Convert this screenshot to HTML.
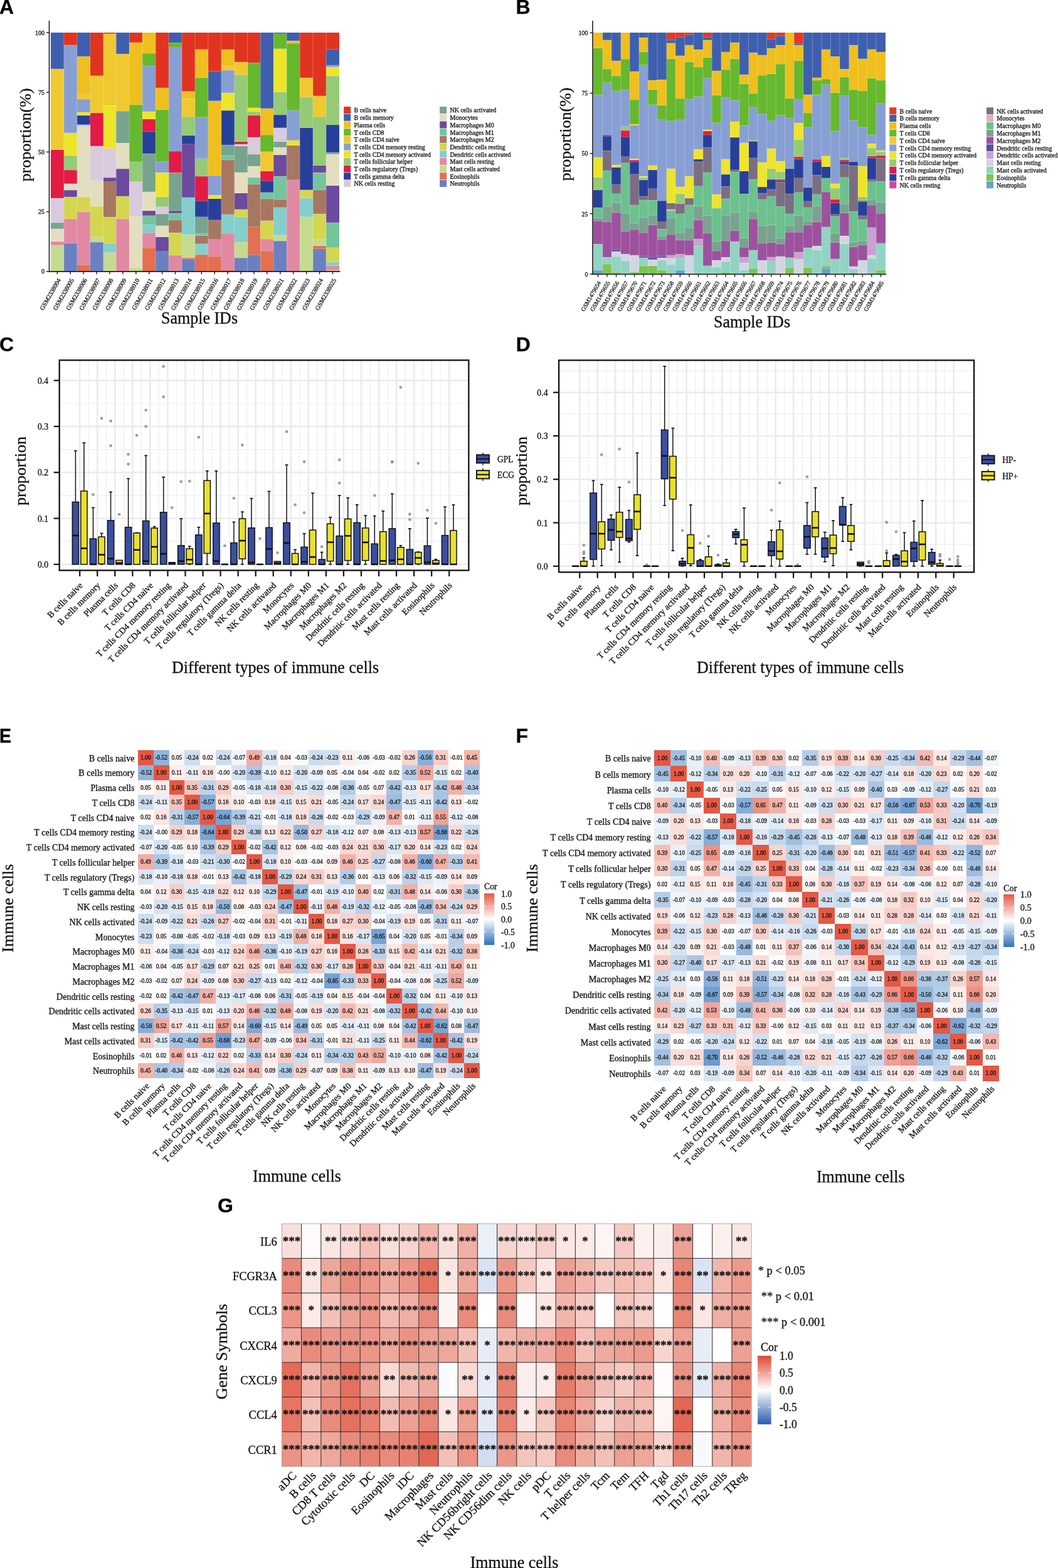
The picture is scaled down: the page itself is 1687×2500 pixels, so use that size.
<!DOCTYPE html>
<html><head><meta charset="utf-8"><title>Immune cell infiltration figure</title>
<style>
html,body{margin:0;padding:0;background:#fff;}
body{width:1687px;height:2500px;overflow:hidden;}
svg{display:block;font-family:'Liberation Serif', 'Times New Roman', serif;}
text{stroke:#111;stroke-width:0.3px;}
</style></head><body>
<svg width="1687" height="2500" viewBox="0 0 1687 2500" fill="#111">
<rect width="1687" height="2500" fill="#fff"/>
<text x="-1" y="22" font-size="32" font-weight="bold" font-family="'Liberation Sans', Arial, sans-serif" fill="#000">A</text>
<text x="822.5" y="22" font-size="32" font-weight="bold" font-family="'Liberation Sans', Arial, sans-serif" fill="#000">B</text>
<text x="-1" y="560" font-size="32" font-weight="bold" font-family="'Liberation Sans', Arial, sans-serif" fill="#000">C</text>
<text x="822.8" y="559.5" font-size="32" font-weight="bold" font-family="'Liberation Sans', Arial, sans-serif" fill="#000">D</text>
<text transform="translate(-1,1184) scale(0.89,1)" font-size="32" font-weight="bold" font-family="'Liberation Sans', Arial, sans-serif" fill="#000">E</text>
<text x="822.6" y="1184" font-size="32" font-weight="bold" font-family="'Liberation Sans', Arial, sans-serif" fill="#000">F</text>
<text x="347" y="1933" font-size="32" font-weight="bold" font-family="'Liberation Sans', Arial, sans-serif" fill="#000">G</text>
<g shape-rendering="crispEdges">
<rect x="80.9" y="52" width="20.91" height="57.87" fill="#3F5FAE"/>
<rect x="80.9" y="109.87" width="20.91" height="128.68" fill="#F0C930"/>
<rect x="80.9" y="238.54" width="20.91" height="77.66" fill="#E31B45"/>
<rect x="80.9" y="316.21" width="20.91" height="38.83" fill="#D9CADD"/>
<rect x="80.9" y="355.04" width="20.91" height="9.52" fill="#78A38F"/>
<rect x="80.9" y="364.55" width="20.91" height="20.56" fill="#E2DEBF"/>
<rect x="80.9" y="385.11" width="20.91" height="6.09" fill="#E189A3"/>
<rect x="80.9" y="391.2" width="20.91" height="41.5" fill="#C4DB8F"/>
<rect x="101.81" y="52" width="20.91" height="19.8" fill="#E03421"/>
<rect x="101.81" y="71.8" width="20.91" height="140.1" fill="#889FD3"/>
<rect x="101.81" y="211.89" width="20.91" height="36.17" fill="#EDE42C"/>
<rect x="101.81" y="248.06" width="20.91" height="23.22" fill="#95CA76"/>
<rect x="101.81" y="271.28" width="20.91" height="21.7" fill="#E31B45"/>
<rect x="101.81" y="292.98" width="20.91" height="10.28" fill="#E2DEBF"/>
<rect x="101.81" y="303.26" width="20.91" height="11.04" fill="#6C4A9E"/>
<rect x="101.81" y="314.3" width="20.91" height="34.64" fill="#D4D650"/>
<rect x="101.81" y="348.95" width="20.91" height="38.83" fill="#E189A3"/>
<rect x="101.81" y="387.78" width="20.91" height="44.92" fill="#6A80C1"/>
<rect x="122.72" y="52" width="20.91" height="38.07" fill="#3F5FAE"/>
<rect x="122.72" y="90.07" width="20.91" height="60.53" fill="#EEBF1E"/>
<rect x="122.72" y="150.6" width="20.91" height="7.61" fill="#F0C930"/>
<rect x="122.72" y="158.22" width="20.91" height="20.56" fill="#889FD3"/>
<rect x="122.72" y="178.77" width="20.91" height="5.33" fill="#EDE42C"/>
<rect x="122.72" y="184.1" width="20.91" height="14.47" fill="#283F9A"/>
<rect x="122.72" y="198.57" width="20.91" height="4.57" fill="#D9CADD"/>
<rect x="122.72" y="203.14" width="20.91" height="111.16" fill="#E2DEBF"/>
<rect x="122.72" y="314.3" width="20.91" height="23.6" fill="#D4D650"/>
<rect x="122.72" y="337.91" width="20.91" height="84.52" fill="#E189A3"/>
<rect x="122.72" y="422.42" width="20.91" height="10.28" fill="#E3704F"/>
<rect x="143.63" y="52" width="20.91" height="68.53" fill="#E03421"/>
<rect x="143.63" y="120.53" width="20.91" height="59.77" fill="#F0C930"/>
<rect x="143.63" y="180.3" width="20.91" height="52.54" fill="#E31B45"/>
<rect x="143.63" y="232.83" width="20.91" height="54.82" fill="#D9CADD"/>
<rect x="143.63" y="287.65" width="20.91" height="41.5" fill="#E2DEBF"/>
<rect x="143.63" y="329.15" width="20.91" height="49.11" fill="#D4D650"/>
<rect x="143.63" y="378.26" width="20.91" height="7.99" fill="#C4DB8F"/>
<rect x="143.63" y="386.25" width="20.91" height="46.45" fill="#6A80C1"/>
<rect x="164.54" y="52" width="20.91" height="1.52" fill="#E03421"/>
<rect x="164.54" y="53.52" width="20.91" height="114.97" fill="#F0C930"/>
<rect x="164.54" y="168.49" width="20.91" height="68.15" fill="#EDE42C"/>
<rect x="164.54" y="236.64" width="20.91" height="46.83" fill="#D9CADD"/>
<rect x="164.54" y="283.47" width="20.91" height="6.09" fill="#6C4A9E"/>
<rect x="164.54" y="289.56" width="20.91" height="56.72" fill="#A87761"/>
<rect x="164.54" y="346.28" width="20.91" height="41.5" fill="#D4D650"/>
<rect x="164.54" y="387.78" width="20.91" height="14.85" fill="#84CECC"/>
<rect x="164.54" y="402.62" width="20.91" height="29.31" fill="#C4DB8F"/>
<rect x="164.54" y="431.94" width="20.91" height="0.76" fill="#E3704F"/>
<rect x="185.45" y="52" width="20.91" height="34.26" fill="#3F5FAE"/>
<rect x="185.45" y="86.26" width="20.91" height="90.99" fill="#F0C930"/>
<rect x="185.45" y="177.25" width="20.91" height="51.01" fill="#78A38F"/>
<rect x="185.45" y="228.26" width="20.91" height="41.12" fill="#E2DEBF"/>
<rect x="185.45" y="269.38" width="20.91" height="43.4" fill="#6C4A9E"/>
<rect x="185.45" y="312.78" width="20.91" height="36.17" fill="#D4D650"/>
<rect x="185.45" y="348.95" width="20.91" height="83.75" fill="#E189A3"/>
<rect x="206.35" y="52" width="20.91" height="15.61" fill="#E03421"/>
<rect x="206.35" y="67.61" width="20.91" height="99.36" fill="#EEBF1E"/>
<rect x="206.35" y="166.97" width="20.91" height="90.99" fill="#66B82E"/>
<rect x="206.35" y="257.96" width="20.91" height="31.6" fill="#95CA76"/>
<rect x="206.35" y="289.56" width="20.91" height="55.2" fill="#D9CADD"/>
<rect x="206.35" y="344.76" width="20.91" height="82.61" fill="#E2DEBF"/>
<rect x="206.35" y="427.37" width="20.91" height="5.33" fill="#C4DB8F"/>
<rect x="227.26" y="52" width="20.91" height="33.12" fill="#EEBF1E"/>
<rect x="227.26" y="85.12" width="20.91" height="20.18" fill="#66B82E"/>
<rect x="227.26" y="105.3" width="20.91" height="72.71" fill="#889FD3"/>
<rect x="227.26" y="178.01" width="20.91" height="11.8" fill="#EDE42C"/>
<rect x="227.26" y="189.81" width="20.91" height="20.18" fill="#E31B45"/>
<rect x="227.26" y="209.99" width="20.91" height="35.02" fill="#283F9A"/>
<rect x="227.26" y="245.01" width="20.91" height="60.53" fill="#78A38F"/>
<rect x="227.26" y="305.55" width="20.91" height="30.46" fill="#E2DEBF"/>
<rect x="227.26" y="336" width="20.91" height="7.61" fill="#6C4A9E"/>
<rect x="227.26" y="343.62" width="20.91" height="14.85" fill="#74C59B"/>
<rect x="227.26" y="358.46" width="20.91" height="12.94" fill="#84CECC"/>
<rect x="227.26" y="371.41" width="20.91" height="23.98" fill="#E189A3"/>
<rect x="227.26" y="395.39" width="20.91" height="37.31" fill="#E3704F"/>
<rect x="248.17" y="52" width="20.91" height="88.32" fill="#E03421"/>
<rect x="248.17" y="140.32" width="20.91" height="34.64" fill="#EEBF1E"/>
<rect x="248.17" y="174.97" width="20.91" height="82.99" fill="#66B82E"/>
<rect x="248.17" y="257.96" width="20.91" height="17.51" fill="#889FD3"/>
<rect x="248.17" y="275.47" width="20.91" height="38.07" fill="#EDE42C"/>
<rect x="248.17" y="313.54" width="20.91" height="15.99" fill="#95CA76"/>
<rect x="248.17" y="329.53" width="20.91" height="11.8" fill="#D9CADD"/>
<rect x="248.17" y="341.33" width="20.91" height="18.27" fill="#78A38F"/>
<rect x="248.17" y="359.61" width="20.91" height="17.89" fill="#E2DEBF"/>
<rect x="248.17" y="377.5" width="20.91" height="23.22" fill="#6C4A9E"/>
<rect x="248.17" y="400.72" width="20.91" height="31.98" fill="#6A80C1"/>
<rect x="269.08" y="52" width="20.91" height="16.37" fill="#3F5FAE"/>
<rect x="269.08" y="68.37" width="20.91" height="7.61" fill="#66B82E"/>
<rect x="269.08" y="75.98" width="20.91" height="165.22" fill="#889FD3"/>
<rect x="269.08" y="241.21" width="20.91" height="34.26" fill="#E31B45"/>
<rect x="269.08" y="275.47" width="20.91" height="60.53" fill="#78A38F"/>
<rect x="269.08" y="336" width="20.91" height="4.19" fill="#6C4A9E"/>
<rect x="269.08" y="340.19" width="20.91" height="10.66" fill="#74C59B"/>
<rect x="269.08" y="350.85" width="20.91" height="20.56" fill="#A87761"/>
<rect x="269.08" y="371.41" width="20.91" height="35.41" fill="#D4D650"/>
<rect x="269.08" y="406.81" width="20.91" height="25.13" fill="#E189A3"/>
<rect x="269.08" y="431.94" width="20.91" height="0.76" fill="#E3704F"/>
<rect x="289.99" y="52" width="20.91" height="93.65" fill="#E03421"/>
<rect x="289.99" y="145.65" width="20.91" height="0.76" fill="#3F5FAE"/>
<rect x="289.99" y="146.41" width="20.91" height="11.04" fill="#EEBF1E"/>
<rect x="289.99" y="157.45" width="20.91" height="28.93" fill="#F0C930"/>
<rect x="289.99" y="186.39" width="20.91" height="29.69" fill="#95CA76"/>
<rect x="289.99" y="216.08" width="20.91" height="13.71" fill="#283F9A"/>
<rect x="289.99" y="229.79" width="20.91" height="84.9" fill="#6C4A9E"/>
<rect x="289.99" y="314.68" width="20.91" height="59.39" fill="#84CECC"/>
<rect x="289.99" y="374.07" width="20.91" height="36.93" fill="#C4DB8F"/>
<rect x="289.99" y="411" width="20.91" height="1.9" fill="#E3704F"/>
<rect x="289.99" y="412.9" width="20.91" height="19.8" fill="#6A80C1"/>
<rect x="310.9" y="52" width="20.91" height="26.65" fill="#E03421"/>
<rect x="310.9" y="78.65" width="20.91" height="45.3" fill="#EEBF1E"/>
<rect x="310.9" y="123.95" width="20.91" height="62.82" fill="#66B82E"/>
<rect x="310.9" y="186.77" width="20.91" height="65.86" fill="#889FD3"/>
<rect x="310.9" y="252.63" width="20.91" height="28.55" fill="#95CA76"/>
<rect x="310.9" y="281.18" width="20.91" height="39.21" fill="#E31B45"/>
<rect x="310.9" y="320.39" width="20.91" height="25.13" fill="#283F9A"/>
<rect x="310.9" y="345.52" width="20.91" height="26.65" fill="#78A38F"/>
<rect x="310.9" y="372.17" width="20.91" height="3.43" fill="#74C59B"/>
<rect x="310.9" y="375.59" width="20.91" height="12.94" fill="#A87761"/>
<rect x="310.9" y="388.54" width="20.91" height="17.51" fill="#84CECC"/>
<rect x="310.9" y="406.05" width="20.91" height="26.65" fill="#E3704F"/>
<rect x="331.81" y="52" width="20.91" height="61.67" fill="#E03421"/>
<rect x="331.81" y="113.67" width="20.91" height="46.83" fill="#3F5FAE"/>
<rect x="331.81" y="160.5" width="20.91" height="119.54" fill="#EEBF1E"/>
<rect x="331.81" y="280.04" width="20.91" height="31.22" fill="#889FD3"/>
<rect x="331.81" y="311.26" width="20.91" height="5.33" fill="#EDE42C"/>
<rect x="331.81" y="316.59" width="20.91" height="34.26" fill="#283F9A"/>
<rect x="331.81" y="350.85" width="20.91" height="30.84" fill="#A87761"/>
<rect x="331.81" y="381.69" width="20.91" height="27.03" fill="#E189A3"/>
<rect x="331.81" y="408.72" width="20.91" height="23.98" fill="#E3704F"/>
<rect x="352.72" y="52" width="20.91" height="27.41" fill="#E03421"/>
<rect x="352.72" y="79.41" width="20.91" height="26.27" fill="#EEBF1E"/>
<rect x="352.72" y="105.68" width="20.91" height="6.47" fill="#F0C930"/>
<rect x="352.72" y="112.15" width="20.91" height="35.79" fill="#889FD3"/>
<rect x="352.72" y="147.94" width="20.91" height="28.55" fill="#EDE42C"/>
<rect x="352.72" y="176.49" width="20.91" height="54.82" fill="#283F9A"/>
<rect x="352.72" y="231.31" width="20.91" height="16.75" fill="#78A38F"/>
<rect x="352.72" y="248.06" width="20.91" height="6.85" fill="#74C59B"/>
<rect x="352.72" y="254.91" width="20.91" height="86.8" fill="#A87761"/>
<rect x="352.72" y="341.71" width="20.91" height="30.46" fill="#84CECC"/>
<rect x="352.72" y="372.17" width="20.91" height="58.25" fill="#E189A3"/>
<rect x="352.72" y="430.42" width="20.91" height="2.28" fill="#E3704F"/>
<rect x="373.63" y="52" width="20.91" height="46.83" fill="#E03421"/>
<rect x="373.63" y="98.83" width="20.91" height="20.56" fill="#F0C930"/>
<rect x="373.63" y="119.38" width="20.91" height="106.22" fill="#95CA76"/>
<rect x="373.63" y="225.6" width="20.91" height="4.57" fill="#E31B45"/>
<rect x="373.63" y="230.17" width="20.91" height="2.66" fill="#D9CADD"/>
<rect x="373.63" y="232.83" width="20.91" height="42.26" fill="#78A38F"/>
<rect x="373.63" y="275.09" width="20.91" height="32.74" fill="#E2DEBF"/>
<rect x="373.63" y="307.83" width="20.91" height="25.89" fill="#6C4A9E"/>
<rect x="373.63" y="333.72" width="20.91" height="11.8" fill="#D4D650"/>
<rect x="373.63" y="345.52" width="20.91" height="40.73" fill="#84CECC"/>
<rect x="373.63" y="386.25" width="20.91" height="25.13" fill="#C4DB8F"/>
<rect x="373.63" y="411.38" width="20.91" height="21.32" fill="#6A80C1"/>
<rect x="394.54" y="52" width="20.91" height="48.35" fill="#E03421"/>
<rect x="394.54" y="100.35" width="20.91" height="71.57" fill="#66B82E"/>
<rect x="394.54" y="171.92" width="20.91" height="6.09" fill="#EDE42C"/>
<rect x="394.54" y="178.01" width="20.91" height="6.09" fill="#95CA76"/>
<rect x="394.54" y="184.1" width="20.91" height="34.64" fill="#E31B45"/>
<rect x="394.54" y="218.75" width="20.91" height="27.41" fill="#D9CADD"/>
<rect x="394.54" y="246.16" width="20.91" height="19.04" fill="#78A38F"/>
<rect x="394.54" y="265.19" width="20.91" height="17.89" fill="#E2DEBF"/>
<rect x="394.54" y="283.08" width="20.91" height="10.66" fill="#74C59B"/>
<rect x="394.54" y="293.74" width="20.91" height="67.76" fill="#A87761"/>
<rect x="394.54" y="361.51" width="20.91" height="44.92" fill="#E3704F"/>
<rect x="394.54" y="406.43" width="20.91" height="26.27" fill="#6A80C1"/>
<rect x="415.45" y="52" width="20.91" height="121.06" fill="#3F5FAE"/>
<rect x="415.45" y="173.06" width="20.91" height="42.26" fill="#EEBF1E"/>
<rect x="415.45" y="215.32" width="20.91" height="26.27" fill="#66B82E"/>
<rect x="415.45" y="241.59" width="20.91" height="31.22" fill="#F0C930"/>
<rect x="415.45" y="272.81" width="20.91" height="15.61" fill="#E31B45"/>
<rect x="415.45" y="288.41" width="20.91" height="18.27" fill="#283F9A"/>
<rect x="415.45" y="306.69" width="20.91" height="10.28" fill="#74C59B"/>
<rect x="415.45" y="316.97" width="20.91" height="34.64" fill="#A87761"/>
<rect x="415.45" y="351.61" width="20.91" height="29.69" fill="#D4D650"/>
<rect x="415.45" y="381.31" width="20.91" height="18.65" fill="#E189A3"/>
<rect x="415.45" y="399.96" width="20.91" height="32.74" fill="#E3704F"/>
<rect x="436.35" y="52" width="20.91" height="1.52" fill="#3F5FAE"/>
<rect x="436.35" y="53.52" width="20.91" height="23.98" fill="#66B82E"/>
<rect x="436.35" y="77.51" width="20.91" height="69.29" fill="#EDE42C"/>
<rect x="436.35" y="146.79" width="20.91" height="36.55" fill="#95CA76"/>
<rect x="436.35" y="183.34" width="20.91" height="20.18" fill="#283F9A"/>
<rect x="436.35" y="203.52" width="20.91" height="22.08" fill="#D9CADD"/>
<rect x="436.35" y="225.6" width="20.91" height="9.52" fill="#78A38F"/>
<rect x="436.35" y="235.12" width="20.91" height="11.8" fill="#E2DEBF"/>
<rect x="436.35" y="246.92" width="20.91" height="34.26" fill="#6C4A9E"/>
<rect x="436.35" y="281.18" width="20.91" height="36.93" fill="#74C59B"/>
<rect x="436.35" y="318.11" width="20.91" height="12.56" fill="#A87761"/>
<rect x="436.35" y="330.67" width="20.91" height="44.16" fill="#84CECC"/>
<rect x="436.35" y="374.83" width="20.91" height="9.52" fill="#C4DB8F"/>
<rect x="436.35" y="384.35" width="20.91" height="48.35" fill="#6A80C1"/>
<rect x="457.26" y="52" width="20.91" height="13.32" fill="#3F5FAE"/>
<rect x="457.26" y="65.32" width="20.91" height="3.81" fill="#EEBF1E"/>
<rect x="457.26" y="69.13" width="20.91" height="106.98" fill="#66B82E"/>
<rect x="457.26" y="176.11" width="20.91" height="47.59" fill="#889FD3"/>
<rect x="457.26" y="223.7" width="20.91" height="7.99" fill="#EDE42C"/>
<rect x="457.26" y="231.69" width="20.91" height="55.2" fill="#A87761"/>
<rect x="457.26" y="286.89" width="20.91" height="145.81" fill="#E189A3"/>
<rect x="478.17" y="52" width="20.91" height="72.33" fill="#E03421"/>
<rect x="478.17" y="124.33" width="20.91" height="30.46" fill="#F0C930"/>
<rect x="478.17" y="154.79" width="20.91" height="48.73" fill="#95CA76"/>
<rect x="478.17" y="203.52" width="20.91" height="98.98" fill="#283F9A"/>
<rect x="478.17" y="302.5" width="20.91" height="13.32" fill="#D4D650"/>
<rect x="478.17" y="315.83" width="20.91" height="29.69" fill="#84CECC"/>
<rect x="478.17" y="345.52" width="20.91" height="87.18" fill="#C4DB8F"/>
<rect x="499.08" y="52" width="20.91" height="100.89" fill="#E03421"/>
<rect x="499.08" y="152.89" width="20.91" height="2.66" fill="#EEBF1E"/>
<rect x="499.08" y="155.55" width="20.91" height="30.84" fill="#F0C930"/>
<rect x="499.08" y="186.39" width="20.91" height="77.28" fill="#95CA76"/>
<rect x="499.08" y="263.67" width="20.91" height="11.8" fill="#6C4A9E"/>
<rect x="499.08" y="275.47" width="20.91" height="27.03" fill="#74C59B"/>
<rect x="499.08" y="302.5" width="20.91" height="38.83" fill="#A87761"/>
<rect x="499.08" y="341.33" width="20.91" height="40.35" fill="#D4D650"/>
<rect x="499.08" y="381.69" width="20.91" height="10.28" fill="#C4DB8F"/>
<rect x="499.08" y="391.97" width="20.91" height="4.57" fill="#E3704F"/>
<rect x="499.08" y="396.53" width="20.91" height="36.17" fill="#6A80C1"/>
<rect x="519.99" y="52" width="20.91" height="26.65" fill="#E03421"/>
<rect x="519.99" y="78.65" width="20.91" height="25.51" fill="#3F5FAE"/>
<rect x="519.99" y="104.16" width="20.91" height="2.66" fill="#889FD3"/>
<rect x="519.99" y="106.82" width="20.91" height="14.47" fill="#EDE42C"/>
<rect x="519.99" y="121.29" width="20.91" height="77.66" fill="#95CA76"/>
<rect x="519.99" y="198.95" width="20.91" height="44.16" fill="#283F9A"/>
<rect x="519.99" y="243.11" width="20.91" height="2.66" fill="#78A38F"/>
<rect x="519.99" y="245.78" width="20.91" height="49.87" fill="#E2DEBF"/>
<rect x="519.99" y="295.65" width="20.91" height="59.39" fill="#6C4A9E"/>
<rect x="519.99" y="355.04" width="20.91" height="39.59" fill="#74C59B"/>
<rect x="519.99" y="394.63" width="20.91" height="23.22" fill="#D4D650"/>
<rect x="519.99" y="417.85" width="20.91" height="5.71" fill="#84CECC"/>
<rect x="519.99" y="423.56" width="20.91" height="7.23" fill="#E189A3"/>
<rect x="519.99" y="430.8" width="20.91" height="1.9" fill="#C4DB8F"/>
</g>
<g stroke="#ffffff" stroke-opacity="0.45" stroke-width="0.6">
<line x1="101.81" y1="52" x2="101.81" y2="432.7"/>
<line x1="122.72" y1="52" x2="122.72" y2="432.7"/>
<line x1="143.63" y1="52" x2="143.63" y2="432.7"/>
<line x1="164.54" y1="52" x2="164.54" y2="432.7"/>
<line x1="185.45" y1="52" x2="185.45" y2="432.7"/>
<line x1="206.35" y1="52" x2="206.35" y2="432.7"/>
<line x1="227.26" y1="52" x2="227.26" y2="432.7"/>
<line x1="248.17" y1="52" x2="248.17" y2="432.7"/>
<line x1="269.08" y1="52" x2="269.08" y2="432.7"/>
<line x1="289.99" y1="52" x2="289.99" y2="432.7"/>
<line x1="310.9" y1="52" x2="310.9" y2="432.7"/>
<line x1="331.81" y1="52" x2="331.81" y2="432.7"/>
<line x1="352.72" y1="52" x2="352.72" y2="432.7"/>
<line x1="373.63" y1="52" x2="373.63" y2="432.7"/>
<line x1="394.54" y1="52" x2="394.54" y2="432.7"/>
<line x1="415.45" y1="52" x2="415.45" y2="432.7"/>
<line x1="436.35" y1="52" x2="436.35" y2="432.7"/>
<line x1="457.26" y1="52" x2="457.26" y2="432.7"/>
<line x1="478.17" y1="52" x2="478.17" y2="432.7"/>
<line x1="499.08" y1="52" x2="499.08" y2="432.7"/>
<line x1="519.99" y1="52" x2="519.99" y2="432.7"/>
<line x1="80.9" y1="109.87" x2="101.81" y2="109.87"/>
<line x1="80.9" y1="238.54" x2="101.81" y2="238.54"/>
<line x1="80.9" y1="316.21" x2="101.81" y2="316.21"/>
<line x1="80.9" y1="355.04" x2="101.81" y2="355.04"/>
<line x1="80.9" y1="364.55" x2="101.81" y2="364.55"/>
<line x1="80.9" y1="385.11" x2="101.81" y2="385.11"/>
<line x1="80.9" y1="391.2" x2="101.81" y2="391.2"/>
<line x1="101.81" y1="71.8" x2="122.72" y2="71.8"/>
<line x1="101.81" y1="211.89" x2="122.72" y2="211.89"/>
<line x1="101.81" y1="248.06" x2="122.72" y2="248.06"/>
<line x1="101.81" y1="271.28" x2="122.72" y2="271.28"/>
<line x1="101.81" y1="292.98" x2="122.72" y2="292.98"/>
<line x1="101.81" y1="303.26" x2="122.72" y2="303.26"/>
<line x1="101.81" y1="314.3" x2="122.72" y2="314.3"/>
<line x1="101.81" y1="348.95" x2="122.72" y2="348.95"/>
<line x1="101.81" y1="387.78" x2="122.72" y2="387.78"/>
<line x1="122.72" y1="90.07" x2="143.63" y2="90.07"/>
<line x1="122.72" y1="150.6" x2="143.63" y2="150.6"/>
<line x1="122.72" y1="158.22" x2="143.63" y2="158.22"/>
<line x1="122.72" y1="178.77" x2="143.63" y2="178.77"/>
<line x1="122.72" y1="184.1" x2="143.63" y2="184.1"/>
<line x1="122.72" y1="198.57" x2="143.63" y2="198.57"/>
<line x1="122.72" y1="203.14" x2="143.63" y2="203.14"/>
<line x1="122.72" y1="314.3" x2="143.63" y2="314.3"/>
<line x1="122.72" y1="337.91" x2="143.63" y2="337.91"/>
<line x1="122.72" y1="422.42" x2="143.63" y2="422.42"/>
<line x1="143.63" y1="120.53" x2="164.54" y2="120.53"/>
<line x1="143.63" y1="180.3" x2="164.54" y2="180.3"/>
<line x1="143.63" y1="232.83" x2="164.54" y2="232.83"/>
<line x1="143.63" y1="287.65" x2="164.54" y2="287.65"/>
<line x1="143.63" y1="329.15" x2="164.54" y2="329.15"/>
<line x1="143.63" y1="378.26" x2="164.54" y2="378.26"/>
<line x1="143.63" y1="386.25" x2="164.54" y2="386.25"/>
<line x1="164.54" y1="53.52" x2="185.45" y2="53.52"/>
<line x1="164.54" y1="168.49" x2="185.45" y2="168.49"/>
<line x1="164.54" y1="236.64" x2="185.45" y2="236.64"/>
<line x1="164.54" y1="283.47" x2="185.45" y2="283.47"/>
<line x1="164.54" y1="289.56" x2="185.45" y2="289.56"/>
<line x1="164.54" y1="346.28" x2="185.45" y2="346.28"/>
<line x1="164.54" y1="387.78" x2="185.45" y2="387.78"/>
<line x1="164.54" y1="402.62" x2="185.45" y2="402.62"/>
<line x1="164.54" y1="431.94" x2="185.45" y2="431.94"/>
<line x1="185.45" y1="86.26" x2="206.35" y2="86.26"/>
<line x1="185.45" y1="177.25" x2="206.35" y2="177.25"/>
<line x1="185.45" y1="228.26" x2="206.35" y2="228.26"/>
<line x1="185.45" y1="269.38" x2="206.35" y2="269.38"/>
<line x1="185.45" y1="312.78" x2="206.35" y2="312.78"/>
<line x1="185.45" y1="348.95" x2="206.35" y2="348.95"/>
<line x1="206.35" y1="67.61" x2="227.26" y2="67.61"/>
<line x1="206.35" y1="166.97" x2="227.26" y2="166.97"/>
<line x1="206.35" y1="257.96" x2="227.26" y2="257.96"/>
<line x1="206.35" y1="289.56" x2="227.26" y2="289.56"/>
<line x1="206.35" y1="344.76" x2="227.26" y2="344.76"/>
<line x1="206.35" y1="427.37" x2="227.26" y2="427.37"/>
<line x1="227.26" y1="85.12" x2="248.17" y2="85.12"/>
<line x1="227.26" y1="105.3" x2="248.17" y2="105.3"/>
<line x1="227.26" y1="178.01" x2="248.17" y2="178.01"/>
<line x1="227.26" y1="189.81" x2="248.17" y2="189.81"/>
<line x1="227.26" y1="209.99" x2="248.17" y2="209.99"/>
<line x1="227.26" y1="245.01" x2="248.17" y2="245.01"/>
<line x1="227.26" y1="305.55" x2="248.17" y2="305.55"/>
<line x1="227.26" y1="336" x2="248.17" y2="336"/>
<line x1="227.26" y1="343.62" x2="248.17" y2="343.62"/>
<line x1="227.26" y1="358.46" x2="248.17" y2="358.46"/>
<line x1="227.26" y1="371.41" x2="248.17" y2="371.41"/>
<line x1="227.26" y1="395.39" x2="248.17" y2="395.39"/>
<line x1="248.17" y1="140.32" x2="269.08" y2="140.32"/>
<line x1="248.17" y1="174.97" x2="269.08" y2="174.97"/>
<line x1="248.17" y1="257.96" x2="269.08" y2="257.96"/>
<line x1="248.17" y1="275.47" x2="269.08" y2="275.47"/>
<line x1="248.17" y1="313.54" x2="269.08" y2="313.54"/>
<line x1="248.17" y1="329.53" x2="269.08" y2="329.53"/>
<line x1="248.17" y1="341.33" x2="269.08" y2="341.33"/>
<line x1="248.17" y1="359.61" x2="269.08" y2="359.61"/>
<line x1="248.17" y1="377.5" x2="269.08" y2="377.5"/>
<line x1="248.17" y1="400.72" x2="269.08" y2="400.72"/>
<line x1="269.08" y1="68.37" x2="289.99" y2="68.37"/>
<line x1="269.08" y1="75.98" x2="289.99" y2="75.98"/>
<line x1="269.08" y1="241.21" x2="289.99" y2="241.21"/>
<line x1="269.08" y1="275.47" x2="289.99" y2="275.47"/>
<line x1="269.08" y1="336" x2="289.99" y2="336"/>
<line x1="269.08" y1="340.19" x2="289.99" y2="340.19"/>
<line x1="269.08" y1="350.85" x2="289.99" y2="350.85"/>
<line x1="269.08" y1="371.41" x2="289.99" y2="371.41"/>
<line x1="269.08" y1="406.81" x2="289.99" y2="406.81"/>
<line x1="269.08" y1="431.94" x2="289.99" y2="431.94"/>
<line x1="289.99" y1="145.65" x2="310.9" y2="145.65"/>
<line x1="289.99" y1="146.41" x2="310.9" y2="146.41"/>
<line x1="289.99" y1="157.45" x2="310.9" y2="157.45"/>
<line x1="289.99" y1="186.39" x2="310.9" y2="186.39"/>
<line x1="289.99" y1="216.08" x2="310.9" y2="216.08"/>
<line x1="289.99" y1="229.79" x2="310.9" y2="229.79"/>
<line x1="289.99" y1="314.68" x2="310.9" y2="314.68"/>
<line x1="289.99" y1="374.07" x2="310.9" y2="374.07"/>
<line x1="289.99" y1="411" x2="310.9" y2="411"/>
<line x1="289.99" y1="412.9" x2="310.9" y2="412.9"/>
<line x1="310.9" y1="78.65" x2="331.81" y2="78.65"/>
<line x1="310.9" y1="123.95" x2="331.81" y2="123.95"/>
<line x1="310.9" y1="186.77" x2="331.81" y2="186.77"/>
<line x1="310.9" y1="252.63" x2="331.81" y2="252.63"/>
<line x1="310.9" y1="281.18" x2="331.81" y2="281.18"/>
<line x1="310.9" y1="320.39" x2="331.81" y2="320.39"/>
<line x1="310.9" y1="345.52" x2="331.81" y2="345.52"/>
<line x1="310.9" y1="372.17" x2="331.81" y2="372.17"/>
<line x1="310.9" y1="375.59" x2="331.81" y2="375.59"/>
<line x1="310.9" y1="388.54" x2="331.81" y2="388.54"/>
<line x1="310.9" y1="406.05" x2="331.81" y2="406.05"/>
<line x1="331.81" y1="113.67" x2="352.72" y2="113.67"/>
<line x1="331.81" y1="160.5" x2="352.72" y2="160.5"/>
<line x1="331.81" y1="280.04" x2="352.72" y2="280.04"/>
<line x1="331.81" y1="311.26" x2="352.72" y2="311.26"/>
<line x1="331.81" y1="316.59" x2="352.72" y2="316.59"/>
<line x1="331.81" y1="350.85" x2="352.72" y2="350.85"/>
<line x1="331.81" y1="381.69" x2="352.72" y2="381.69"/>
<line x1="331.81" y1="408.72" x2="352.72" y2="408.72"/>
<line x1="352.72" y1="79.41" x2="373.63" y2="79.41"/>
<line x1="352.72" y1="105.68" x2="373.63" y2="105.68"/>
<line x1="352.72" y1="112.15" x2="373.63" y2="112.15"/>
<line x1="352.72" y1="147.94" x2="373.63" y2="147.94"/>
<line x1="352.72" y1="176.49" x2="373.63" y2="176.49"/>
<line x1="352.72" y1="231.31" x2="373.63" y2="231.31"/>
<line x1="352.72" y1="248.06" x2="373.63" y2="248.06"/>
<line x1="352.72" y1="254.91" x2="373.63" y2="254.91"/>
<line x1="352.72" y1="341.71" x2="373.63" y2="341.71"/>
<line x1="352.72" y1="372.17" x2="373.63" y2="372.17"/>
<line x1="352.72" y1="430.42" x2="373.63" y2="430.42"/>
<line x1="373.63" y1="98.83" x2="394.54" y2="98.83"/>
<line x1="373.63" y1="119.38" x2="394.54" y2="119.38"/>
<line x1="373.63" y1="225.6" x2="394.54" y2="225.6"/>
<line x1="373.63" y1="230.17" x2="394.54" y2="230.17"/>
<line x1="373.63" y1="232.83" x2="394.54" y2="232.83"/>
<line x1="373.63" y1="275.09" x2="394.54" y2="275.09"/>
<line x1="373.63" y1="307.83" x2="394.54" y2="307.83"/>
<line x1="373.63" y1="333.72" x2="394.54" y2="333.72"/>
<line x1="373.63" y1="345.52" x2="394.54" y2="345.52"/>
<line x1="373.63" y1="386.25" x2="394.54" y2="386.25"/>
<line x1="373.63" y1="411.38" x2="394.54" y2="411.38"/>
<line x1="394.54" y1="100.35" x2="415.45" y2="100.35"/>
<line x1="394.54" y1="171.92" x2="415.45" y2="171.92"/>
<line x1="394.54" y1="178.01" x2="415.45" y2="178.01"/>
<line x1="394.54" y1="184.1" x2="415.45" y2="184.1"/>
<line x1="394.54" y1="218.75" x2="415.45" y2="218.75"/>
<line x1="394.54" y1="246.16" x2="415.45" y2="246.16"/>
<line x1="394.54" y1="265.19" x2="415.45" y2="265.19"/>
<line x1="394.54" y1="283.08" x2="415.45" y2="283.08"/>
<line x1="394.54" y1="293.74" x2="415.45" y2="293.74"/>
<line x1="394.54" y1="361.51" x2="415.45" y2="361.51"/>
<line x1="394.54" y1="406.43" x2="415.45" y2="406.43"/>
<line x1="415.45" y1="173.06" x2="436.35" y2="173.06"/>
<line x1="415.45" y1="215.32" x2="436.35" y2="215.32"/>
<line x1="415.45" y1="241.59" x2="436.35" y2="241.59"/>
<line x1="415.45" y1="272.81" x2="436.35" y2="272.81"/>
<line x1="415.45" y1="288.41" x2="436.35" y2="288.41"/>
<line x1="415.45" y1="306.69" x2="436.35" y2="306.69"/>
<line x1="415.45" y1="316.97" x2="436.35" y2="316.97"/>
<line x1="415.45" y1="351.61" x2="436.35" y2="351.61"/>
<line x1="415.45" y1="381.31" x2="436.35" y2="381.31"/>
<line x1="415.45" y1="399.96" x2="436.35" y2="399.96"/>
<line x1="436.35" y1="53.52" x2="457.26" y2="53.52"/>
<line x1="436.35" y1="77.51" x2="457.26" y2="77.51"/>
<line x1="436.35" y1="146.79" x2="457.26" y2="146.79"/>
<line x1="436.35" y1="183.34" x2="457.26" y2="183.34"/>
<line x1="436.35" y1="203.52" x2="457.26" y2="203.52"/>
<line x1="436.35" y1="225.6" x2="457.26" y2="225.6"/>
<line x1="436.35" y1="235.12" x2="457.26" y2="235.12"/>
<line x1="436.35" y1="246.92" x2="457.26" y2="246.92"/>
<line x1="436.35" y1="281.18" x2="457.26" y2="281.18"/>
<line x1="436.35" y1="318.11" x2="457.26" y2="318.11"/>
<line x1="436.35" y1="330.67" x2="457.26" y2="330.67"/>
<line x1="436.35" y1="374.83" x2="457.26" y2="374.83"/>
<line x1="436.35" y1="384.35" x2="457.26" y2="384.35"/>
<line x1="457.26" y1="65.32" x2="478.17" y2="65.32"/>
<line x1="457.26" y1="69.13" x2="478.17" y2="69.13"/>
<line x1="457.26" y1="176.11" x2="478.17" y2="176.11"/>
<line x1="457.26" y1="223.7" x2="478.17" y2="223.7"/>
<line x1="457.26" y1="231.69" x2="478.17" y2="231.69"/>
<line x1="457.26" y1="286.89" x2="478.17" y2="286.89"/>
<line x1="478.17" y1="124.33" x2="499.08" y2="124.33"/>
<line x1="478.17" y1="154.79" x2="499.08" y2="154.79"/>
<line x1="478.17" y1="203.52" x2="499.08" y2="203.52"/>
<line x1="478.17" y1="302.5" x2="499.08" y2="302.5"/>
<line x1="478.17" y1="315.83" x2="499.08" y2="315.83"/>
<line x1="478.17" y1="345.52" x2="499.08" y2="345.52"/>
<line x1="499.08" y1="152.89" x2="519.99" y2="152.89"/>
<line x1="499.08" y1="155.55" x2="519.99" y2="155.55"/>
<line x1="499.08" y1="186.39" x2="519.99" y2="186.39"/>
<line x1="499.08" y1="263.67" x2="519.99" y2="263.67"/>
<line x1="499.08" y1="275.47" x2="519.99" y2="275.47"/>
<line x1="499.08" y1="302.5" x2="519.99" y2="302.5"/>
<line x1="499.08" y1="341.33" x2="519.99" y2="341.33"/>
<line x1="499.08" y1="381.69" x2="519.99" y2="381.69"/>
<line x1="499.08" y1="391.97" x2="519.99" y2="391.97"/>
<line x1="499.08" y1="396.53" x2="519.99" y2="396.53"/>
<line x1="519.99" y1="78.65" x2="540.9" y2="78.65"/>
<line x1="519.99" y1="104.16" x2="540.9" y2="104.16"/>
<line x1="519.99" y1="106.82" x2="540.9" y2="106.82"/>
<line x1="519.99" y1="121.29" x2="540.9" y2="121.29"/>
<line x1="519.99" y1="198.95" x2="540.9" y2="198.95"/>
<line x1="519.99" y1="243.11" x2="540.9" y2="243.11"/>
<line x1="519.99" y1="245.78" x2="540.9" y2="245.78"/>
<line x1="519.99" y1="295.65" x2="540.9" y2="295.65"/>
<line x1="519.99" y1="355.04" x2="540.9" y2="355.04"/>
<line x1="519.99" y1="394.63" x2="540.9" y2="394.63"/>
<line x1="519.99" y1="417.85" x2="540.9" y2="417.85"/>
<line x1="519.99" y1="423.56" x2="540.9" y2="423.56"/>
<line x1="519.99" y1="430.8" x2="540.9" y2="430.8"/>
</g>
<line x1="78.5" y1="33" x2="78.5" y2="433.5" stroke="#1a1a1a" stroke-width="1.6"/>
<line x1="77.7" y1="432.9" x2="542.4" y2="432.9" stroke="#1a1a1a" stroke-width="1.6"/>
<line x1="74" y1="432.7" x2="78.5" y2="432.7" stroke="#1a1a1a" stroke-width="1.4"/>
<text transform="translate(71,436.45) scale(1,1.045)" font-size="10" text-anchor="end">0</text>
<line x1="74" y1="337.52" x2="78.5" y2="337.52" stroke="#1a1a1a" stroke-width="1.4"/>
<text transform="translate(71,341.27) scale(1,1.045)" font-size="10" text-anchor="end">25</text>
<line x1="74" y1="242.35" x2="78.5" y2="242.35" stroke="#1a1a1a" stroke-width="1.4"/>
<text transform="translate(71,246.1) scale(1,1.045)" font-size="10" text-anchor="end">50</text>
<line x1="74" y1="147.18" x2="78.5" y2="147.18" stroke="#1a1a1a" stroke-width="1.4"/>
<text transform="translate(71,150.93) scale(1,1.045)" font-size="10" text-anchor="end">75</text>
<line x1="74" y1="52" x2="78.5" y2="52" stroke="#1a1a1a" stroke-width="1.4"/>
<text transform="translate(71,55.75) scale(1,1.045)" font-size="10" text-anchor="end">100</text>
<line x1="91.35" y1="432.7" x2="91.35" y2="437.3" stroke="#1a1a1a" stroke-width="1.4"/>
<text transform="translate(97.35,446.3) rotate(-60)" font-size="10" text-anchor="end">GSM2338004</text>
<line x1="112.26" y1="432.7" x2="112.26" y2="437.3" stroke="#1a1a1a" stroke-width="1.4"/>
<text transform="translate(118.26,446.3) rotate(-60)" font-size="10" text-anchor="end">GSM2338005</text>
<line x1="133.17" y1="432.7" x2="133.17" y2="437.3" stroke="#1a1a1a" stroke-width="1.4"/>
<text transform="translate(139.17,446.3) rotate(-60)" font-size="10" text-anchor="end">GSM2338006</text>
<line x1="154.08" y1="432.7" x2="154.08" y2="437.3" stroke="#1a1a1a" stroke-width="1.4"/>
<text transform="translate(160.08,446.3) rotate(-60)" font-size="10" text-anchor="end">GSM2338007</text>
<line x1="174.99" y1="432.7" x2="174.99" y2="437.3" stroke="#1a1a1a" stroke-width="1.4"/>
<text transform="translate(180.99,446.3) rotate(-60)" font-size="10" text-anchor="end">GSM2338008</text>
<line x1="195.9" y1="432.7" x2="195.9" y2="437.3" stroke="#1a1a1a" stroke-width="1.4"/>
<text transform="translate(201.9,446.3) rotate(-60)" font-size="10" text-anchor="end">GSM2338009</text>
<line x1="216.81" y1="432.7" x2="216.81" y2="437.3" stroke="#1a1a1a" stroke-width="1.4"/>
<text transform="translate(222.81,446.3) rotate(-60)" font-size="10" text-anchor="end">GSM2338010</text>
<line x1="237.72" y1="432.7" x2="237.72" y2="437.3" stroke="#1a1a1a" stroke-width="1.4"/>
<text transform="translate(243.72,446.3) rotate(-60)" font-size="10" text-anchor="end">GSM2338011</text>
<line x1="258.63" y1="432.7" x2="258.63" y2="437.3" stroke="#1a1a1a" stroke-width="1.4"/>
<text transform="translate(264.63,446.3) rotate(-60)" font-size="10" text-anchor="end">GSM2338012</text>
<line x1="279.54" y1="432.7" x2="279.54" y2="437.3" stroke="#1a1a1a" stroke-width="1.4"/>
<text transform="translate(285.54,446.3) rotate(-60)" font-size="10" text-anchor="end">GSM2338013</text>
<line x1="300.45" y1="432.7" x2="300.45" y2="437.3" stroke="#1a1a1a" stroke-width="1.4"/>
<text transform="translate(306.45,446.3) rotate(-60)" font-size="10" text-anchor="end">GSM2338014</text>
<line x1="321.35" y1="432.7" x2="321.35" y2="437.3" stroke="#1a1a1a" stroke-width="1.4"/>
<text transform="translate(327.35,446.3) rotate(-60)" font-size="10" text-anchor="end">GSM2338015</text>
<line x1="342.26" y1="432.7" x2="342.26" y2="437.3" stroke="#1a1a1a" stroke-width="1.4"/>
<text transform="translate(348.26,446.3) rotate(-60)" font-size="10" text-anchor="end">GSM2338016</text>
<line x1="363.17" y1="432.7" x2="363.17" y2="437.3" stroke="#1a1a1a" stroke-width="1.4"/>
<text transform="translate(369.17,446.3) rotate(-60)" font-size="10" text-anchor="end">GSM2338017</text>
<line x1="384.08" y1="432.7" x2="384.08" y2="437.3" stroke="#1a1a1a" stroke-width="1.4"/>
<text transform="translate(390.08,446.3) rotate(-60)" font-size="10" text-anchor="end">GSM2338018</text>
<line x1="404.99" y1="432.7" x2="404.99" y2="437.3" stroke="#1a1a1a" stroke-width="1.4"/>
<text transform="translate(410.99,446.3) rotate(-60)" font-size="10" text-anchor="end">GSM2338019</text>
<line x1="425.9" y1="432.7" x2="425.9" y2="437.3" stroke="#1a1a1a" stroke-width="1.4"/>
<text transform="translate(431.9,446.3) rotate(-60)" font-size="10" text-anchor="end">GSM2338020</text>
<line x1="446.81" y1="432.7" x2="446.81" y2="437.3" stroke="#1a1a1a" stroke-width="1.4"/>
<text transform="translate(452.81,446.3) rotate(-60)" font-size="10" text-anchor="end">GSM2338021</text>
<line x1="467.72" y1="432.7" x2="467.72" y2="437.3" stroke="#1a1a1a" stroke-width="1.4"/>
<text transform="translate(473.72,446.3) rotate(-60)" font-size="10" text-anchor="end">GSM2338022</text>
<line x1="488.63" y1="432.7" x2="488.63" y2="437.3" stroke="#1a1a1a" stroke-width="1.4"/>
<text transform="translate(494.63,446.3) rotate(-60)" font-size="10" text-anchor="end">GSM2338023</text>
<line x1="509.54" y1="432.7" x2="509.54" y2="437.3" stroke="#1a1a1a" stroke-width="1.4"/>
<text transform="translate(515.54,446.3) rotate(-60)" font-size="10" text-anchor="end">GSM2338024</text>
<line x1="530.45" y1="432.7" x2="530.45" y2="437.3" stroke="#1a1a1a" stroke-width="1.4"/>
<text transform="translate(536.45,446.3) rotate(-60)" font-size="10" text-anchor="end">GSM2338025</text>
<text transform="translate(318,516.41) scale(1,1.045)" font-size="26" text-anchor="middle">Sample IDs</text>
<text transform="translate(48.8,215) rotate(-90)" font-size="26" text-anchor="middle">proportion(%)</text>
<rect x="548.2" y="170.1" width="11" height="11" fill="#E03421"/>
<text transform="translate(564.5,179.45) scale(1,1.045)" font-size="10">B cells naive</text>
<rect x="548.2" y="181.8" width="11" height="11" fill="#3F5FAE"/>
<text transform="translate(564.5,191.15) scale(1,1.045)" font-size="10">B cells memory</text>
<rect x="548.2" y="193.5" width="11" height="11" fill="#EEBF1E"/>
<text transform="translate(564.5,202.85) scale(1,1.045)" font-size="10">Plasma cells</text>
<rect x="548.2" y="205.2" width="11" height="11" fill="#66B82E"/>
<text transform="translate(564.5,214.55) scale(1,1.045)" font-size="10">T cells CD8</text>
<rect x="548.2" y="216.9" width="11" height="11" fill="#F0C930"/>
<text transform="translate(564.5,226.25) scale(1,1.045)" font-size="10">T cells CD4 naive</text>
<rect x="548.2" y="228.6" width="11" height="11" fill="#889FD3"/>
<text transform="translate(564.5,237.95) scale(1,1.045)" font-size="10">T cells CD4 memory resting</text>
<rect x="548.2" y="240.3" width="11" height="11" fill="#EDE42C"/>
<text transform="translate(564.5,249.65) scale(1,1.045)" font-size="10">T cells CD4 memory activated</text>
<rect x="548.2" y="252" width="11" height="11" fill="#95CA76"/>
<text transform="translate(564.5,261.35) scale(1,1.045)" font-size="10">T cells follicular helper</text>
<rect x="548.2" y="263.7" width="11" height="11" fill="#E31B45"/>
<text transform="translate(564.5,273.05) scale(1,1.045)" font-size="10">T cells regulatory (Tregs)</text>
<rect x="548.2" y="275.4" width="11" height="11" fill="#283F9A"/>
<text transform="translate(564.5,284.75) scale(1,1.045)" font-size="10">T cells gamma delta</text>
<rect x="548.2" y="287.1" width="11" height="11" fill="#D9CADD"/>
<text transform="translate(564.5,296.45) scale(1,1.045)" font-size="10">NK cells resting</text>
<rect x="701.2" y="170.1" width="11" height="11" fill="#78A38F"/>
<text transform="translate(717.5,179.45) scale(1,1.045)" font-size="10">NK cells activated</text>
<rect x="701.2" y="181.8" width="11" height="11" fill="#E2DEBF"/>
<text transform="translate(717.5,191.15) scale(1,1.045)" font-size="10">Monocytes</text>
<rect x="701.2" y="193.5" width="11" height="11" fill="#6C4A9E"/>
<text transform="translate(717.5,202.85) scale(1,1.045)" font-size="10">Macrophages M0</text>
<rect x="701.2" y="205.2" width="11" height="11" fill="#74C59B"/>
<text transform="translate(717.5,214.55) scale(1,1.045)" font-size="10">Macrophages M1</text>
<rect x="701.2" y="216.9" width="11" height="11" fill="#A87761"/>
<text transform="translate(717.5,226.25) scale(1,1.045)" font-size="10">Macrophages M2</text>
<rect x="701.2" y="228.6" width="11" height="11" fill="#D4D650"/>
<text transform="translate(717.5,237.95) scale(1,1.045)" font-size="10">Dendritic cells resting</text>
<rect x="701.2" y="240.3" width="11" height="11" fill="#84CECC"/>
<text transform="translate(717.5,249.65) scale(1,1.045)" font-size="10">Dendritic cells activated</text>
<rect x="701.2" y="252" width="11" height="11" fill="#E189A3"/>
<text transform="translate(717.5,261.35) scale(1,1.045)" font-size="10">Mast cells resting</text>
<rect x="701.2" y="263.7" width="11" height="11" fill="#C4DB8F"/>
<text transform="translate(717.5,273.05) scale(1,1.045)" font-size="10">Mast cells activated</text>
<rect x="701.2" y="275.4" width="11" height="11" fill="#E3704F"/>
<text transform="translate(717.5,284.75) scale(1,1.045)" font-size="10">Eosinophils</text>
<rect x="701.2" y="287.1" width="11" height="11" fill="#6A80C1"/>
<text transform="translate(717.5,296.45) scale(1,1.045)" font-size="10">Neutrophils</text>
<g shape-rendering="crispEdges">
<rect x="946.2" y="52.35" width="14.55" height="24.23" fill="#EEBF1E"/>
<rect x="946.2" y="76.58" width="14.55" height="74.62" fill="#66B82E"/>
<rect x="946.2" y="151.21" width="14.55" height="99.62" fill="#889FD3"/>
<rect x="946.2" y="250.83" width="14.55" height="31.93" fill="#EDE42C"/>
<rect x="946.2" y="282.76" width="14.55" height="20" fill="#95CA76"/>
<rect x="946.2" y="302.76" width="14.55" height="28.46" fill="#283F9A"/>
<rect x="946.2" y="331.22" width="14.55" height="16.54" fill="#6CC18E"/>
<rect x="946.2" y="347.76" width="14.55" height="4.62" fill="#7AA290"/>
<rect x="946.2" y="352.38" width="14.55" height="36.93" fill="#9E519E"/>
<rect x="946.2" y="389.3" width="14.55" height="41.54" fill="#92D3C3"/>
<rect x="946.2" y="430.85" width="14.55" height="6.15" fill="#66A1D2"/>
<rect x="960.75" y="52.35" width="14.55" height="11.54" fill="#3E5FAE"/>
<rect x="960.75" y="63.89" width="14.55" height="46.16" fill="#EEBF1E"/>
<rect x="960.75" y="110.05" width="14.55" height="21.54" fill="#66B82E"/>
<rect x="960.75" y="131.59" width="14.55" height="83.85" fill="#889FD3"/>
<rect x="960.75" y="215.44" width="14.55" height="1.92" fill="#E31B45"/>
<rect x="960.75" y="217.36" width="14.55" height="23.08" fill="#283F9A"/>
<rect x="960.75" y="240.44" width="14.55" height="31.93" fill="#7B6E82"/>
<rect x="960.75" y="272.37" width="14.55" height="56.93" fill="#6CC18E"/>
<rect x="960.75" y="329.3" width="14.55" height="24.23" fill="#7AA290"/>
<rect x="960.75" y="353.53" width="14.55" height="56.93" fill="#9E519E"/>
<rect x="960.75" y="410.46" width="14.55" height="10.77" fill="#92D3C3"/>
<rect x="960.75" y="421.23" width="14.55" height="15.77" fill="#7EC451"/>
<rect x="975.29" y="52.35" width="14.55" height="44.62" fill="#3E5FAE"/>
<rect x="975.29" y="96.97" width="14.55" height="24.23" fill="#EEBF1E"/>
<rect x="975.29" y="121.2" width="14.55" height="23.85" fill="#66B82E"/>
<rect x="975.29" y="145.05" width="14.55" height="117.7" fill="#889FD3"/>
<rect x="975.29" y="262.75" width="14.55" height="3.85" fill="#EDE42C"/>
<rect x="975.29" y="266.6" width="14.55" height="27.31" fill="#283F9A"/>
<rect x="975.29" y="293.91" width="14.55" height="15" fill="#7B6E82"/>
<rect x="975.29" y="308.91" width="14.55" height="14.23" fill="#6CC18E"/>
<rect x="975.29" y="323.14" width="14.55" height="15.77" fill="#7AA290"/>
<rect x="975.29" y="338.91" width="14.55" height="59.24" fill="#9E519E"/>
<rect x="975.29" y="398.15" width="14.55" height="3.08" fill="#5A4EA0"/>
<rect x="975.29" y="401.23" width="14.55" height="7.69" fill="#D2D5E2"/>
<rect x="975.29" y="408.92" width="14.55" height="25.39" fill="#92D3C3"/>
<rect x="975.29" y="434.31" width="14.55" height="2.69" fill="#7EC451"/>
<rect x="989.84" y="52.35" width="14.55" height="41.93" fill="#EEBF1E"/>
<rect x="989.84" y="94.28" width="14.55" height="48.85" fill="#66B82E"/>
<rect x="989.84" y="143.13" width="14.55" height="58.47" fill="#889FD3"/>
<rect x="989.84" y="201.59" width="14.55" height="6.54" fill="#95CA76"/>
<rect x="989.84" y="208.13" width="14.55" height="10" fill="#E31B45"/>
<rect x="989.84" y="218.13" width="14.55" height="31.54" fill="#283F9A"/>
<rect x="989.84" y="249.68" width="14.55" height="10" fill="#7B6E82"/>
<rect x="989.84" y="259.68" width="14.55" height="80.39" fill="#6CC18E"/>
<rect x="989.84" y="340.07" width="14.55" height="28.85" fill="#7AA290"/>
<rect x="989.84" y="368.92" width="14.55" height="36.16" fill="#9E519E"/>
<rect x="989.84" y="405.07" width="14.55" height="10.77" fill="#D2D5E2"/>
<rect x="989.84" y="415.84" width="14.55" height="21.16" fill="#92D3C3"/>
<rect x="1004.39" y="52.35" width="14.55" height="61.54" fill="#3E5FAE"/>
<rect x="1004.39" y="113.89" width="14.55" height="45.39" fill="#EEBF1E"/>
<rect x="1004.39" y="159.28" width="14.55" height="38.85" fill="#66B82E"/>
<rect x="1004.39" y="198.13" width="14.55" height="1.54" fill="#F0C930"/>
<rect x="1004.39" y="199.67" width="14.55" height="53.47" fill="#889FD3"/>
<rect x="1004.39" y="253.14" width="14.55" height="2.31" fill="#EDE42C"/>
<rect x="1004.39" y="255.45" width="14.55" height="2.69" fill="#E31B45"/>
<rect x="1004.39" y="258.14" width="14.55" height="19.62" fill="#283F9A"/>
<rect x="1004.39" y="277.75" width="14.55" height="49.24" fill="#7B6E82"/>
<rect x="1004.39" y="326.99" width="14.55" height="28.85" fill="#6CC18E"/>
<rect x="1004.39" y="355.84" width="14.55" height="10.39" fill="#7AA290"/>
<rect x="1004.39" y="366.22" width="14.55" height="40.77" fill="#9E519E"/>
<rect x="1004.39" y="407" width="14.55" height="27.31" fill="#D2D5E2"/>
<rect x="1004.39" y="434.31" width="14.55" height="2.69" fill="#7EC451"/>
<rect x="1018.93" y="52.35" width="14.55" height="7.69" fill="#3E5FAE"/>
<rect x="1018.93" y="60.04" width="14.55" height="22.69" fill="#EEBF1E"/>
<rect x="1018.93" y="82.74" width="14.55" height="20.77" fill="#66B82E"/>
<rect x="1018.93" y="103.51" width="14.55" height="177.71" fill="#889FD3"/>
<rect x="1018.93" y="281.22" width="14.55" height="1.54" fill="#EDE42C"/>
<rect x="1018.93" y="282.76" width="14.55" height="4.23" fill="#95CA76"/>
<rect x="1018.93" y="286.99" width="14.55" height="26.16" fill="#283F9A"/>
<rect x="1018.93" y="313.14" width="14.55" height="5.77" fill="#7B6E82"/>
<rect x="1018.93" y="318.91" width="14.55" height="27.69" fill="#6CC18E"/>
<rect x="1018.93" y="346.61" width="14.55" height="24.62" fill="#7AA290"/>
<rect x="1018.93" y="371.22" width="14.55" height="37.31" fill="#9E519E"/>
<rect x="1018.93" y="408.54" width="14.55" height="2.31" fill="#5A4EA0"/>
<rect x="1018.93" y="410.84" width="14.55" height="13.08" fill="#92D3C3"/>
<rect x="1018.93" y="423.92" width="14.55" height="13.08" fill="#7EC451"/>
<rect x="1033.48" y="52.35" width="14.55" height="75.78" fill="#3E5FAE"/>
<rect x="1033.48" y="128.13" width="14.55" height="14.62" fill="#EEBF1E"/>
<rect x="1033.48" y="142.74" width="14.55" height="24.23" fill="#66B82E"/>
<rect x="1033.48" y="166.98" width="14.55" height="96.55" fill="#889FD3"/>
<rect x="1033.48" y="263.52" width="14.55" height="7.31" fill="#EDE42C"/>
<rect x="1033.48" y="270.83" width="14.55" height="30" fill="#283F9A"/>
<rect x="1033.48" y="300.83" width="14.55" height="18.46" fill="#7B6E82"/>
<rect x="1033.48" y="319.3" width="14.55" height="23.85" fill="#6CC18E"/>
<rect x="1033.48" y="343.15" width="14.55" height="15.39" fill="#7AA290"/>
<rect x="1033.48" y="358.53" width="14.55" height="51.93" fill="#9E519E"/>
<rect x="1033.48" y="410.46" width="14.55" height="3.46" fill="#5A4EA0"/>
<rect x="1033.48" y="413.92" width="14.55" height="9.62" fill="#D2D5E2"/>
<rect x="1033.48" y="423.54" width="14.55" height="13.46" fill="#7EC451"/>
<rect x="1048.03" y="52.35" width="14.55" height="75.01" fill="#3E5FAE"/>
<rect x="1048.03" y="127.36" width="14.55" height="40.39" fill="#EEBF1E"/>
<rect x="1048.03" y="167.75" width="14.55" height="23.08" fill="#66B82E"/>
<rect x="1048.03" y="190.82" width="14.55" height="129.63" fill="#889FD3"/>
<rect x="1048.03" y="320.45" width="14.55" height="33.08" fill="#283F9A"/>
<rect x="1048.03" y="353.53" width="14.55" height="11.92" fill="#7B6E82"/>
<rect x="1048.03" y="365.46" width="14.55" height="10.77" fill="#6CC18E"/>
<rect x="1048.03" y="376.23" width="14.55" height="6.15" fill="#7AA290"/>
<rect x="1048.03" y="382.38" width="14.55" height="26.16" fill="#9E519E"/>
<rect x="1048.03" y="408.54" width="14.55" height="2.69" fill="#5A4EA0"/>
<rect x="1048.03" y="411.23" width="14.55" height="4.23" fill="#D2D5E2"/>
<rect x="1048.03" y="415.46" width="14.55" height="15.39" fill="#92D3C3"/>
<rect x="1048.03" y="430.85" width="14.55" height="6.15" fill="#7EC451"/>
<rect x="1062.58" y="52.35" width="14.55" height="11.54" fill="#E23A24"/>
<rect x="1062.58" y="63.89" width="14.55" height="4.62" fill="#3E5FAE"/>
<rect x="1062.58" y="68.51" width="14.55" height="25" fill="#EEBF1E"/>
<rect x="1062.58" y="93.51" width="14.55" height="99.62" fill="#66B82E"/>
<rect x="1062.58" y="193.13" width="14.55" height="75.78" fill="#889FD3"/>
<rect x="1062.58" y="268.91" width="14.55" height="54.62" fill="#EDE42C"/>
<rect x="1062.58" y="323.53" width="14.55" height="10.39" fill="#7B6E82"/>
<rect x="1062.58" y="333.91" width="14.55" height="1.92" fill="#E6B0B5"/>
<rect x="1062.58" y="335.84" width="14.55" height="11.15" fill="#6CC18E"/>
<rect x="1062.58" y="346.99" width="14.55" height="26.93" fill="#7AA290"/>
<rect x="1062.58" y="373.92" width="14.55" height="33.08" fill="#9E519E"/>
<rect x="1062.58" y="407" width="14.55" height="4.62" fill="#C8A2D0"/>
<rect x="1062.58" y="411.61" width="14.55" height="10.77" fill="#D2D5E2"/>
<rect x="1062.58" y="422.38" width="14.55" height="14.62" fill="#92D3C3"/>
<rect x="1077.12" y="52.35" width="14.55" height="6.92" fill="#E23A24"/>
<rect x="1077.12" y="59.27" width="14.55" height="29.62" fill="#3E5FAE"/>
<rect x="1077.12" y="88.89" width="14.55" height="68.47" fill="#EEBF1E"/>
<rect x="1077.12" y="157.36" width="14.55" height="33.85" fill="#66B82E"/>
<rect x="1077.12" y="191.21" width="14.55" height="106.55" fill="#889FD3"/>
<rect x="1077.12" y="297.76" width="14.55" height="11.15" fill="#EDE42C"/>
<rect x="1077.12" y="308.91" width="14.55" height="15.77" fill="#95CA76"/>
<rect x="1077.12" y="324.68" width="14.55" height="16.16" fill="#7B6E82"/>
<rect x="1077.12" y="340.84" width="14.55" height="30.39" fill="#6CC18E"/>
<rect x="1077.12" y="371.22" width="14.55" height="11.54" fill="#7AA290"/>
<rect x="1077.12" y="382.76" width="14.55" height="22.69" fill="#9E519E"/>
<rect x="1077.12" y="405.46" width="14.55" height="5.39" fill="#C8A2D0"/>
<rect x="1077.12" y="410.84" width="14.55" height="20" fill="#92D3C3"/>
<rect x="1077.12" y="430.85" width="14.55" height="6.15" fill="#66A1D2"/>
<rect x="1091.67" y="52.35" width="14.55" height="3.08" fill="#E23A24"/>
<rect x="1091.67" y="55.43" width="14.55" height="16.54" fill="#3E5FAE"/>
<rect x="1091.67" y="71.97" width="14.55" height="26.54" fill="#EEBF1E"/>
<rect x="1091.67" y="98.51" width="14.55" height="59.62" fill="#66B82E"/>
<rect x="1091.67" y="158.13" width="14.55" height="122.7" fill="#889FD3"/>
<rect x="1091.67" y="280.83" width="14.55" height="35" fill="#EDE42C"/>
<rect x="1091.67" y="315.84" width="14.55" height="10.77" fill="#7B6E82"/>
<rect x="1091.67" y="326.61" width="14.55" height="36.54" fill="#6CC18E"/>
<rect x="1091.67" y="363.15" width="14.55" height="20" fill="#7AA290"/>
<rect x="1091.67" y="383.15" width="14.55" height="23.85" fill="#9E519E"/>
<rect x="1091.67" y="407" width="14.55" height="30" fill="#D2D5E2"/>
<rect x="1106.22" y="52.35" width="14.55" height="26.93" fill="#3E5FAE"/>
<rect x="1106.22" y="79.28" width="14.55" height="27.69" fill="#EEBF1E"/>
<rect x="1106.22" y="106.97" width="14.55" height="46.93" fill="#66B82E"/>
<rect x="1106.22" y="153.9" width="14.55" height="83.85" fill="#889FD3"/>
<rect x="1106.22" y="237.75" width="14.55" height="15.77" fill="#EDE42C"/>
<rect x="1106.22" y="253.52" width="14.55" height="4.23" fill="#283F9A"/>
<rect x="1106.22" y="257.75" width="14.55" height="38.85" fill="#7B6E82"/>
<rect x="1106.22" y="296.6" width="14.55" height="31.93" fill="#6CC18E"/>
<rect x="1106.22" y="328.53" width="14.55" height="22.31" fill="#7AA290"/>
<rect x="1106.22" y="350.84" width="14.55" height="30.39" fill="#9E519E"/>
<rect x="1106.22" y="381.23" width="14.55" height="11.15" fill="#C8A2D0"/>
<rect x="1106.22" y="392.38" width="14.55" height="44.62" fill="#92D3C3"/>
<rect x="1120.76" y="52.35" width="14.55" height="6.92" fill="#E23A24"/>
<rect x="1120.76" y="59.27" width="14.55" height="4.62" fill="#3E5FAE"/>
<rect x="1120.76" y="63.89" width="14.55" height="27.69" fill="#EEBF1E"/>
<rect x="1120.76" y="91.58" width="14.55" height="33.08" fill="#66B82E"/>
<rect x="1120.76" y="124.66" width="14.55" height="81.93" fill="#889FD3"/>
<rect x="1120.76" y="206.59" width="14.55" height="2.31" fill="#EDE42C"/>
<rect x="1120.76" y="208.9" width="14.55" height="6.15" fill="#E31B45"/>
<rect x="1120.76" y="215.06" width="14.55" height="20" fill="#283F9A"/>
<rect x="1120.76" y="235.06" width="14.55" height="40" fill="#7B6E82"/>
<rect x="1120.76" y="275.06" width="14.55" height="68.85" fill="#6CC18E"/>
<rect x="1120.76" y="343.91" width="14.55" height="28.08" fill="#7AA290"/>
<rect x="1120.76" y="371.99" width="14.55" height="51.54" fill="#9E519E"/>
<rect x="1120.76" y="423.54" width="14.55" height="13.46" fill="#92D3C3"/>
<rect x="1135.31" y="52.35" width="14.55" height="60.77" fill="#3E5FAE"/>
<rect x="1135.31" y="113.12" width="14.55" height="38.46" fill="#EEBF1E"/>
<rect x="1135.31" y="151.59" width="14.55" height="44.23" fill="#66B82E"/>
<rect x="1135.31" y="195.82" width="14.55" height="114.63" fill="#889FD3"/>
<rect x="1135.31" y="310.45" width="14.55" height="21.54" fill="#EDE42C"/>
<rect x="1135.31" y="331.99" width="14.55" height="53.08" fill="#6CC18E"/>
<rect x="1135.31" y="385.07" width="14.55" height="15" fill="#7AA290"/>
<rect x="1135.31" y="400.07" width="14.55" height="15" fill="#9E519E"/>
<rect x="1135.31" y="415.07" width="14.55" height="10.77" fill="#D2D5E2"/>
<rect x="1135.31" y="425.85" width="14.55" height="11.15" fill="#92D3C3"/>
<rect x="1149.86" y="52.35" width="14.55" height="30.39" fill="#3E5FAE"/>
<rect x="1149.86" y="82.74" width="14.55" height="28.46" fill="#EEBF1E"/>
<rect x="1149.86" y="111.2" width="14.55" height="45" fill="#66B82E"/>
<rect x="1149.86" y="156.21" width="14.55" height="97.32" fill="#889FD3"/>
<rect x="1149.86" y="253.52" width="14.55" height="24.62" fill="#EDE42C"/>
<rect x="1149.86" y="278.14" width="14.55" height="19.23" fill="#283F9A"/>
<rect x="1149.86" y="297.37" width="14.55" height="19.62" fill="#7B6E82"/>
<rect x="1149.86" y="316.99" width="14.55" height="26.16" fill="#6CC18E"/>
<rect x="1149.86" y="343.15" width="14.55" height="40.77" fill="#7AA290"/>
<rect x="1149.86" y="383.92" width="14.55" height="26.54" fill="#9E519E"/>
<rect x="1149.86" y="410.46" width="14.55" height="6.92" fill="#D2D5E2"/>
<rect x="1149.86" y="417.38" width="14.55" height="16.92" fill="#92D3C3"/>
<rect x="1149.86" y="434.31" width="14.55" height="2.69" fill="#7EC451"/>
<rect x="1164.4" y="52.35" width="14.55" height="15.39" fill="#3E5FAE"/>
<rect x="1164.4" y="67.74" width="14.55" height="26.16" fill="#EEBF1E"/>
<rect x="1164.4" y="93.89" width="14.55" height="66.16" fill="#66B82E"/>
<rect x="1164.4" y="160.05" width="14.55" height="33.85" fill="#889FD3"/>
<rect x="1164.4" y="193.9" width="14.55" height="25.39" fill="#EDE42C"/>
<rect x="1164.4" y="219.29" width="14.55" height="51.54" fill="#283F9A"/>
<rect x="1164.4" y="270.83" width="14.55" height="3.46" fill="#7B6E82"/>
<rect x="1164.4" y="274.29" width="14.55" height="64.62" fill="#6CC18E"/>
<rect x="1164.4" y="338.91" width="14.55" height="28.85" fill="#7AA290"/>
<rect x="1164.4" y="367.76" width="14.55" height="17.31" fill="#9E519E"/>
<rect x="1164.4" y="385.07" width="14.55" height="1.92" fill="#C8A2D0"/>
<rect x="1164.4" y="387" width="14.55" height="50" fill="#92D3C3"/>
<rect x="1178.95" y="52.35" width="14.55" height="66.93" fill="#3E5FAE"/>
<rect x="1178.95" y="119.28" width="14.55" height="14.23" fill="#EEBF1E"/>
<rect x="1178.95" y="133.51" width="14.55" height="66.93" fill="#66B82E"/>
<rect x="1178.95" y="200.44" width="14.55" height="27.31" fill="#889FD3"/>
<rect x="1178.95" y="227.75" width="14.55" height="45" fill="#EDE42C"/>
<rect x="1178.95" y="272.75" width="14.55" height="36.54" fill="#283F9A"/>
<rect x="1178.95" y="309.3" width="14.55" height="70.39" fill="#6CC18E"/>
<rect x="1178.95" y="379.69" width="14.55" height="14.62" fill="#7AA290"/>
<rect x="1178.95" y="394.3" width="14.55" height="16.16" fill="#9E519E"/>
<rect x="1178.95" y="410.46" width="14.55" height="8.46" fill="#C8A2D0"/>
<rect x="1178.95" y="418.92" width="14.55" height="11.92" fill="#D2D5E2"/>
<rect x="1178.95" y="430.85" width="14.55" height="6.15" fill="#92D3C3"/>
<rect x="1193.5" y="52.35" width="14.55" height="31.54" fill="#3E5FAE"/>
<rect x="1193.5" y="83.89" width="14.55" height="65.39" fill="#EEBF1E"/>
<rect x="1193.5" y="149.28" width="14.55" height="21.54" fill="#66B82E"/>
<rect x="1193.5" y="170.82" width="14.55" height="53.47" fill="#889FD3"/>
<rect x="1193.5" y="224.29" width="14.55" height="1.15" fill="#EDE42C"/>
<rect x="1193.5" y="225.44" width="14.55" height="26.54" fill="#283F9A"/>
<rect x="1193.5" y="251.98" width="14.55" height="34.23" fill="#7B6E82"/>
<rect x="1193.5" y="286.22" width="14.55" height="51.16" fill="#6CC18E"/>
<rect x="1193.5" y="337.38" width="14.55" height="11.92" fill="#7AA290"/>
<rect x="1193.5" y="349.3" width="14.55" height="49.62" fill="#9E519E"/>
<rect x="1193.5" y="398.92" width="14.55" height="29.23" fill="#92D3C3"/>
<rect x="1193.5" y="428.15" width="14.55" height="8.85" fill="#7EC451"/>
<rect x="1208.04" y="52.35" width="14.55" height="35.39" fill="#3E5FAE"/>
<rect x="1208.04" y="87.74" width="14.55" height="32.7" fill="#EEBF1E"/>
<rect x="1208.04" y="120.43" width="14.55" height="61.54" fill="#66B82E"/>
<rect x="1208.04" y="181.98" width="14.55" height="77.31" fill="#889FD3"/>
<rect x="1208.04" y="259.29" width="14.55" height="38.85" fill="#EDE42C"/>
<rect x="1208.04" y="298.14" width="14.55" height="10" fill="#283F9A"/>
<rect x="1208.04" y="308.14" width="14.55" height="9.62" fill="#7B6E82"/>
<rect x="1208.04" y="317.76" width="14.55" height="42.31" fill="#6CC18E"/>
<rect x="1208.04" y="360.07" width="14.55" height="28.08" fill="#7AA290"/>
<rect x="1208.04" y="388.15" width="14.55" height="26.93" fill="#9E519E"/>
<rect x="1208.04" y="415.07" width="14.55" height="21.93" fill="#D2D5E2"/>
<rect x="1222.59" y="52.35" width="14.55" height="10" fill="#E23A24"/>
<rect x="1222.59" y="62.35" width="14.55" height="15" fill="#3E5FAE"/>
<rect x="1222.59" y="77.35" width="14.55" height="40.39" fill="#EEBF1E"/>
<rect x="1222.59" y="117.74" width="14.55" height="75.01" fill="#66B82E"/>
<rect x="1222.59" y="192.75" width="14.55" height="44.23" fill="#889FD3"/>
<rect x="1222.59" y="236.98" width="14.55" height="31.54" fill="#EDE42C"/>
<rect x="1222.59" y="268.52" width="14.55" height="17.69" fill="#95CA76"/>
<rect x="1222.59" y="286.22" width="14.55" height="15.77" fill="#283F9A"/>
<rect x="1222.59" y="301.99" width="14.55" height="10.77" fill="#7B6E82"/>
<rect x="1222.59" y="312.76" width="14.55" height="45.77" fill="#6CC18E"/>
<rect x="1222.59" y="358.53" width="14.55" height="28.08" fill="#7AA290"/>
<rect x="1222.59" y="386.61" width="14.55" height="23.46" fill="#9E519E"/>
<rect x="1222.59" y="410.07" width="14.55" height="6.15" fill="#C8A2D0"/>
<rect x="1222.59" y="416.23" width="14.55" height="20.77" fill="#92D3C3"/>
<rect x="1237.14" y="52.35" width="14.55" height="5" fill="#E23A24"/>
<rect x="1237.14" y="57.35" width="14.55" height="14.62" fill="#3E5FAE"/>
<rect x="1237.14" y="71.97" width="14.55" height="30.39" fill="#EEBF1E"/>
<rect x="1237.14" y="102.35" width="14.55" height="81.16" fill="#66B82E"/>
<rect x="1237.14" y="183.52" width="14.55" height="73.47" fill="#889FD3"/>
<rect x="1237.14" y="256.98" width="14.55" height="16.92" fill="#EDE42C"/>
<rect x="1237.14" y="273.91" width="14.55" height="11.92" fill="#95CA76"/>
<rect x="1237.14" y="285.83" width="14.55" height="1.92" fill="#E31B45"/>
<rect x="1237.14" y="287.76" width="14.55" height="2.69" fill="#283F9A"/>
<rect x="1237.14" y="290.45" width="14.55" height="38.85" fill="#7B6E82"/>
<rect x="1237.14" y="329.3" width="14.55" height="50.39" fill="#6CC18E"/>
<rect x="1237.14" y="379.69" width="14.55" height="9.62" fill="#7AA290"/>
<rect x="1237.14" y="389.3" width="14.55" height="19.23" fill="#9E519E"/>
<rect x="1237.14" y="408.54" width="14.55" height="28.46" fill="#D2D5E2"/>
<rect x="1251.68" y="52.35" width="14.55" height="104.24" fill="#EEBF1E"/>
<rect x="1251.68" y="156.59" width="14.55" height="31.93" fill="#66B82E"/>
<rect x="1251.68" y="188.52" width="14.55" height="80.39" fill="#889FD3"/>
<rect x="1251.68" y="268.91" width="14.55" height="40.39" fill="#283F9A"/>
<rect x="1251.68" y="309.3" width="14.55" height="31.54" fill="#7B6E82"/>
<rect x="1251.68" y="340.84" width="14.55" height="18.85" fill="#6CC18E"/>
<rect x="1251.68" y="359.69" width="14.55" height="10.77" fill="#7AA290"/>
<rect x="1251.68" y="370.46" width="14.55" height="40" fill="#9E519E"/>
<rect x="1251.68" y="410.46" width="14.55" height="0.77" fill="#5A4EA0"/>
<rect x="1251.68" y="411.23" width="14.55" height="16.16" fill="#92D3C3"/>
<rect x="1251.68" y="427.38" width="14.55" height="9.62" fill="#7EC451"/>
<rect x="1266.23" y="52.35" width="14.55" height="17.69" fill="#E23A24"/>
<rect x="1266.23" y="70.04" width="14.55" height="2.31" fill="#3E5FAE"/>
<rect x="1266.23" y="72.35" width="14.55" height="24.62" fill="#EEBF1E"/>
<rect x="1266.23" y="96.97" width="14.55" height="61.54" fill="#66B82E"/>
<rect x="1266.23" y="158.51" width="14.55" height="37.7" fill="#889FD3"/>
<rect x="1266.23" y="196.21" width="14.55" height="26.93" fill="#EDE42C"/>
<rect x="1266.23" y="223.13" width="14.55" height="26.54" fill="#95CA76"/>
<rect x="1266.23" y="249.68" width="14.55" height="3.85" fill="#E31B45"/>
<rect x="1266.23" y="253.52" width="14.55" height="30.39" fill="#283F9A"/>
<rect x="1266.23" y="283.91" width="14.55" height="22.69" fill="#7B6E82"/>
<rect x="1266.23" y="306.6" width="14.55" height="37.31" fill="#6CC18E"/>
<rect x="1266.23" y="343.91" width="14.55" height="26.54" fill="#7AA290"/>
<rect x="1266.23" y="370.46" width="14.55" height="31.54" fill="#9E519E"/>
<rect x="1266.23" y="402" width="14.55" height="10.77" fill="#C8A2D0"/>
<rect x="1266.23" y="412.77" width="14.55" height="23.08" fill="#D2D5E2"/>
<rect x="1266.23" y="435.85" width="14.55" height="1.15" fill="#92D3C3"/>
<rect x="1280.78" y="52.35" width="14.55" height="98.47" fill="#3E5FAE"/>
<rect x="1280.78" y="150.82" width="14.55" height="29.23" fill="#EEBF1E"/>
<rect x="1280.78" y="180.05" width="14.55" height="22.69" fill="#66B82E"/>
<rect x="1280.78" y="202.75" width="14.55" height="96.16" fill="#889FD3"/>
<rect x="1280.78" y="298.91" width="14.55" height="21.93" fill="#283F9A"/>
<rect x="1280.78" y="320.84" width="14.55" height="10" fill="#7B6E82"/>
<rect x="1280.78" y="330.84" width="14.55" height="21.93" fill="#6CC18E"/>
<rect x="1280.78" y="352.76" width="14.55" height="6.15" fill="#7AA290"/>
<rect x="1280.78" y="358.92" width="14.55" height="36.16" fill="#9E519E"/>
<rect x="1280.78" y="395.07" width="14.55" height="31.54" fill="#92D3C3"/>
<rect x="1280.78" y="426.61" width="14.55" height="10.39" fill="#7EC451"/>
<rect x="1295.33" y="52.35" width="14.55" height="71.54" fill="#3E5FAE"/>
<rect x="1295.33" y="123.89" width="14.55" height="4.23" fill="#EEBF1E"/>
<rect x="1295.33" y="128.13" width="14.55" height="23.08" fill="#66B82E"/>
<rect x="1295.33" y="151.21" width="14.55" height="103.09" fill="#889FD3"/>
<rect x="1295.33" y="254.29" width="14.55" height="3.46" fill="#E31B45"/>
<rect x="1295.33" y="257.75" width="14.55" height="21.54" fill="#283F9A"/>
<rect x="1295.33" y="279.29" width="14.55" height="30.39" fill="#7B6E82"/>
<rect x="1295.33" y="309.68" width="14.55" height="18.85" fill="#6CC18E"/>
<rect x="1295.33" y="328.53" width="14.55" height="25.39" fill="#7AA290"/>
<rect x="1295.33" y="353.92" width="14.55" height="36.54" fill="#9E519E"/>
<rect x="1295.33" y="390.46" width="14.55" height="1.92" fill="#5A4EA0"/>
<rect x="1295.33" y="392.38" width="14.55" height="6.15" fill="#D2D5E2"/>
<rect x="1295.33" y="398.54" width="14.55" height="37.31" fill="#92D3C3"/>
<rect x="1295.33" y="435.85" width="14.55" height="1.15" fill="#66A1D2"/>
<rect x="1309.87" y="52.35" width="14.55" height="26.16" fill="#3E5FAE"/>
<rect x="1309.87" y="78.51" width="14.55" height="47.7" fill="#EEBF1E"/>
<rect x="1309.87" y="126.2" width="14.55" height="8.85" fill="#66B82E"/>
<rect x="1309.87" y="135.05" width="14.55" height="113.47" fill="#889FD3"/>
<rect x="1309.87" y="248.52" width="14.55" height="17.31" fill="#EDE42C"/>
<rect x="1309.87" y="265.83" width="14.55" height="18.08" fill="#283F9A"/>
<rect x="1309.87" y="283.91" width="14.55" height="22.31" fill="#6CC18E"/>
<rect x="1309.87" y="306.22" width="14.55" height="55.77" fill="#9E519E"/>
<rect x="1309.87" y="361.99" width="14.55" height="62.31" fill="#92D3C3"/>
<rect x="1309.87" y="424.31" width="14.55" height="3.85" fill="#7EC451"/>
<rect x="1309.87" y="428.15" width="14.55" height="8.85" fill="#66A1D2"/>
<rect x="1324.42" y="52.35" width="14.55" height="38.08" fill="#3E5FAE"/>
<rect x="1324.42" y="90.43" width="14.55" height="57.31" fill="#EEBF1E"/>
<rect x="1324.42" y="147.74" width="14.55" height="61.16" fill="#66B82E"/>
<rect x="1324.42" y="208.9" width="14.55" height="83.85" fill="#889FD3"/>
<rect x="1324.42" y="292.76" width="14.55" height="7.31" fill="#EDE42C"/>
<rect x="1324.42" y="300.06" width="14.55" height="17.69" fill="#95CA76"/>
<rect x="1324.42" y="317.76" width="14.55" height="5.77" fill="#E31B45"/>
<rect x="1324.42" y="323.53" width="14.55" height="18.08" fill="#283F9A"/>
<rect x="1324.42" y="341.61" width="14.55" height="3.46" fill="#7B6E82"/>
<rect x="1324.42" y="345.07" width="14.55" height="26.93" fill="#6CC18E"/>
<rect x="1324.42" y="371.99" width="14.55" height="14.62" fill="#7AA290"/>
<rect x="1324.42" y="386.61" width="14.55" height="26.16" fill="#9E519E"/>
<rect x="1324.42" y="412.77" width="14.55" height="24.23" fill="#92D3C3"/>
<rect x="1338.97" y="52.35" width="14.55" height="58.08" fill="#3E5FAE"/>
<rect x="1338.97" y="110.43" width="14.55" height="12.31" fill="#EEBF1E"/>
<rect x="1338.97" y="122.74" width="14.55" height="30" fill="#66B82E"/>
<rect x="1338.97" y="152.74" width="14.55" height="99.24" fill="#889FD3"/>
<rect x="1338.97" y="251.98" width="14.55" height="3.08" fill="#95CA76"/>
<rect x="1338.97" y="255.06" width="14.55" height="3.08" fill="#E31B45"/>
<rect x="1338.97" y="258.14" width="14.55" height="3.46" fill="#283F9A"/>
<rect x="1338.97" y="261.6" width="14.55" height="21.16" fill="#7B6E82"/>
<rect x="1338.97" y="282.76" width="14.55" height="42.31" fill="#6CC18E"/>
<rect x="1338.97" y="325.07" width="14.55" height="14.62" fill="#7AA290"/>
<rect x="1338.97" y="339.68" width="14.55" height="36.54" fill="#9E519E"/>
<rect x="1338.97" y="376.23" width="14.55" height="12.31" fill="#D2D5E2"/>
<rect x="1338.97" y="388.53" width="14.55" height="48.47" fill="#92D3C3"/>
<rect x="1353.51" y="52.35" width="14.55" height="20" fill="#3E5FAE"/>
<rect x="1353.51" y="72.35" width="14.55" height="70.78" fill="#EEBF1E"/>
<rect x="1353.51" y="143.13" width="14.55" height="49.24" fill="#66B82E"/>
<rect x="1353.51" y="192.36" width="14.55" height="65.39" fill="#889FD3"/>
<rect x="1353.51" y="257.75" width="14.55" height="6.54" fill="#283F9A"/>
<rect x="1353.51" y="264.29" width="14.55" height="73.08" fill="#7B6E82"/>
<rect x="1353.51" y="337.38" width="14.55" height="48.47" fill="#6CC18E"/>
<rect x="1353.51" y="385.84" width="14.55" height="7.69" fill="#7AA290"/>
<rect x="1353.51" y="393.53" width="14.55" height="31.16" fill="#9E519E"/>
<rect x="1353.51" y="424.69" width="14.55" height="4.23" fill="#D2D5E2"/>
<rect x="1353.51" y="428.92" width="14.55" height="6.15" fill="#92D3C3"/>
<rect x="1353.51" y="435.08" width="14.55" height="1.92" fill="#7EC451"/>
<rect x="1368.06" y="52.35" width="14.55" height="41.16" fill="#3E5FAE"/>
<rect x="1368.06" y="93.51" width="14.55" height="51.54" fill="#EEBF1E"/>
<rect x="1368.06" y="145.05" width="14.55" height="58.08" fill="#66B82E"/>
<rect x="1368.06" y="203.13" width="14.55" height="61.93" fill="#889FD3"/>
<rect x="1368.06" y="265.06" width="14.55" height="48.47" fill="#EDE42C"/>
<rect x="1368.06" y="313.53" width="14.55" height="6.92" fill="#95CA76"/>
<rect x="1368.06" y="320.45" width="14.55" height="1.15" fill="#E31B45"/>
<rect x="1368.06" y="321.61" width="14.55" height="22.31" fill="#283F9A"/>
<rect x="1368.06" y="343.91" width="14.55" height="6.15" fill="#7B6E82"/>
<rect x="1368.06" y="350.07" width="14.55" height="33.85" fill="#6CC18E"/>
<rect x="1368.06" y="383.92" width="14.55" height="6.92" fill="#7AA290"/>
<rect x="1368.06" y="390.84" width="14.55" height="23.85" fill="#9E519E"/>
<rect x="1368.06" y="414.69" width="14.55" height="22.31" fill="#D2D5E2"/>
<rect x="1382.61" y="52.35" width="14.55" height="26.16" fill="#3E5FAE"/>
<rect x="1382.61" y="78.51" width="14.55" height="46.16" fill="#EEBF1E"/>
<rect x="1382.61" y="124.66" width="14.55" height="90.39" fill="#66B82E"/>
<rect x="1382.61" y="215.06" width="14.55" height="14.23" fill="#889FD3"/>
<rect x="1382.61" y="229.29" width="14.55" height="6.92" fill="#EDE42C"/>
<rect x="1382.61" y="236.21" width="14.55" height="12.31" fill="#95CA76"/>
<rect x="1382.61" y="248.52" width="14.55" height="3.46" fill="#E31B45"/>
<rect x="1382.61" y="251.98" width="14.55" height="34.23" fill="#283F9A"/>
<rect x="1382.61" y="286.22" width="14.55" height="3.46" fill="#7B6E82"/>
<rect x="1382.61" y="289.68" width="14.55" height="29.23" fill="#6CC18E"/>
<rect x="1382.61" y="318.91" width="14.55" height="8.08" fill="#7AA290"/>
<rect x="1382.61" y="326.99" width="14.55" height="35.77" fill="#9E519E"/>
<rect x="1382.61" y="362.76" width="14.55" height="44.23" fill="#C8A2D0"/>
<rect x="1382.61" y="407" width="14.55" height="5" fill="#D2D5E2"/>
<rect x="1382.61" y="412" width="14.55" height="25" fill="#92D3C3"/>
<rect x="1397.15" y="52.35" width="14.55" height="30.77" fill="#3E5FAE"/>
<rect x="1397.15" y="83.12" width="14.55" height="45" fill="#EEBF1E"/>
<rect x="1397.15" y="128.13" width="14.55" height="36.93" fill="#66B82E"/>
<rect x="1397.15" y="165.05" width="14.55" height="74.62" fill="#889FD3"/>
<rect x="1397.15" y="239.67" width="14.55" height="2.69" fill="#EDE42C"/>
<rect x="1397.15" y="242.37" width="14.55" height="5.77" fill="#95CA76"/>
<rect x="1397.15" y="248.14" width="14.55" height="4.23" fill="#E31B45"/>
<rect x="1397.15" y="252.37" width="14.55" height="36.93" fill="#7B6E82"/>
<rect x="1397.15" y="289.29" width="14.55" height="33.46" fill="#6CC18E"/>
<rect x="1397.15" y="322.76" width="14.55" height="17.69" fill="#7AA290"/>
<rect x="1397.15" y="340.45" width="14.55" height="46.16" fill="#9E519E"/>
<rect x="1397.15" y="386.61" width="14.55" height="1.54" fill="#5A4EA0"/>
<rect x="1397.15" y="388.15" width="14.55" height="42.7" fill="#92D3C3"/>
<rect x="1397.15" y="430.85" width="14.55" height="5" fill="#7EC451"/>
<rect x="1397.15" y="435.85" width="14.55" height="1.15" fill="#66A1D2"/>
</g>
<g stroke="#ffffff" stroke-opacity="0.45" stroke-width="0.6">
<line x1="960.75" y1="52.35" x2="960.75" y2="437"/>
<line x1="975.29" y1="52.35" x2="975.29" y2="437"/>
<line x1="989.84" y1="52.35" x2="989.84" y2="437"/>
<line x1="1004.39" y1="52.35" x2="1004.39" y2="437"/>
<line x1="1018.93" y1="52.35" x2="1018.93" y2="437"/>
<line x1="1033.48" y1="52.35" x2="1033.48" y2="437"/>
<line x1="1048.03" y1="52.35" x2="1048.03" y2="437"/>
<line x1="1062.58" y1="52.35" x2="1062.58" y2="437"/>
<line x1="1077.12" y1="52.35" x2="1077.12" y2="437"/>
<line x1="1091.67" y1="52.35" x2="1091.67" y2="437"/>
<line x1="1106.22" y1="52.35" x2="1106.22" y2="437"/>
<line x1="1120.76" y1="52.35" x2="1120.76" y2="437"/>
<line x1="1135.31" y1="52.35" x2="1135.31" y2="437"/>
<line x1="1149.86" y1="52.35" x2="1149.86" y2="437"/>
<line x1="1164.4" y1="52.35" x2="1164.4" y2="437"/>
<line x1="1178.95" y1="52.35" x2="1178.95" y2="437"/>
<line x1="1193.5" y1="52.35" x2="1193.5" y2="437"/>
<line x1="1208.04" y1="52.35" x2="1208.04" y2="437"/>
<line x1="1222.59" y1="52.35" x2="1222.59" y2="437"/>
<line x1="1237.14" y1="52.35" x2="1237.14" y2="437"/>
<line x1="1251.68" y1="52.35" x2="1251.68" y2="437"/>
<line x1="1266.23" y1="52.35" x2="1266.23" y2="437"/>
<line x1="1280.78" y1="52.35" x2="1280.78" y2="437"/>
<line x1="1295.33" y1="52.35" x2="1295.33" y2="437"/>
<line x1="1309.87" y1="52.35" x2="1309.87" y2="437"/>
<line x1="1324.42" y1="52.35" x2="1324.42" y2="437"/>
<line x1="1338.97" y1="52.35" x2="1338.97" y2="437"/>
<line x1="1353.51" y1="52.35" x2="1353.51" y2="437"/>
<line x1="1368.06" y1="52.35" x2="1368.06" y2="437"/>
<line x1="1382.61" y1="52.35" x2="1382.61" y2="437"/>
<line x1="1397.15" y1="52.35" x2="1397.15" y2="437"/>
<line x1="946.2" y1="76.58" x2="960.75" y2="76.58"/>
<line x1="946.2" y1="151.21" x2="960.75" y2="151.21"/>
<line x1="946.2" y1="250.83" x2="960.75" y2="250.83"/>
<line x1="946.2" y1="282.76" x2="960.75" y2="282.76"/>
<line x1="946.2" y1="302.76" x2="960.75" y2="302.76"/>
<line x1="946.2" y1="331.22" x2="960.75" y2="331.22"/>
<line x1="946.2" y1="347.76" x2="960.75" y2="347.76"/>
<line x1="946.2" y1="352.38" x2="960.75" y2="352.38"/>
<line x1="946.2" y1="389.3" x2="960.75" y2="389.3"/>
<line x1="946.2" y1="430.85" x2="960.75" y2="430.85"/>
<line x1="960.75" y1="63.89" x2="975.29" y2="63.89"/>
<line x1="960.75" y1="110.05" x2="975.29" y2="110.05"/>
<line x1="960.75" y1="131.59" x2="975.29" y2="131.59"/>
<line x1="960.75" y1="215.44" x2="975.29" y2="215.44"/>
<line x1="960.75" y1="217.36" x2="975.29" y2="217.36"/>
<line x1="960.75" y1="240.44" x2="975.29" y2="240.44"/>
<line x1="960.75" y1="272.37" x2="975.29" y2="272.37"/>
<line x1="960.75" y1="329.3" x2="975.29" y2="329.3"/>
<line x1="960.75" y1="353.53" x2="975.29" y2="353.53"/>
<line x1="960.75" y1="410.46" x2="975.29" y2="410.46"/>
<line x1="960.75" y1="421.23" x2="975.29" y2="421.23"/>
<line x1="975.29" y1="96.97" x2="989.84" y2="96.97"/>
<line x1="975.29" y1="121.2" x2="989.84" y2="121.2"/>
<line x1="975.29" y1="145.05" x2="989.84" y2="145.05"/>
<line x1="975.29" y1="262.75" x2="989.84" y2="262.75"/>
<line x1="975.29" y1="266.6" x2="989.84" y2="266.6"/>
<line x1="975.29" y1="293.91" x2="989.84" y2="293.91"/>
<line x1="975.29" y1="308.91" x2="989.84" y2="308.91"/>
<line x1="975.29" y1="323.14" x2="989.84" y2="323.14"/>
<line x1="975.29" y1="338.91" x2="989.84" y2="338.91"/>
<line x1="975.29" y1="398.15" x2="989.84" y2="398.15"/>
<line x1="975.29" y1="401.23" x2="989.84" y2="401.23"/>
<line x1="975.29" y1="408.92" x2="989.84" y2="408.92"/>
<line x1="975.29" y1="434.31" x2="989.84" y2="434.31"/>
<line x1="989.84" y1="94.28" x2="1004.39" y2="94.28"/>
<line x1="989.84" y1="143.13" x2="1004.39" y2="143.13"/>
<line x1="989.84" y1="201.59" x2="1004.39" y2="201.59"/>
<line x1="989.84" y1="208.13" x2="1004.39" y2="208.13"/>
<line x1="989.84" y1="218.13" x2="1004.39" y2="218.13"/>
<line x1="989.84" y1="249.68" x2="1004.39" y2="249.68"/>
<line x1="989.84" y1="259.68" x2="1004.39" y2="259.68"/>
<line x1="989.84" y1="340.07" x2="1004.39" y2="340.07"/>
<line x1="989.84" y1="368.92" x2="1004.39" y2="368.92"/>
<line x1="989.84" y1="405.07" x2="1004.39" y2="405.07"/>
<line x1="989.84" y1="415.84" x2="1004.39" y2="415.84"/>
<line x1="1004.39" y1="113.89" x2="1018.93" y2="113.89"/>
<line x1="1004.39" y1="159.28" x2="1018.93" y2="159.28"/>
<line x1="1004.39" y1="198.13" x2="1018.93" y2="198.13"/>
<line x1="1004.39" y1="199.67" x2="1018.93" y2="199.67"/>
<line x1="1004.39" y1="253.14" x2="1018.93" y2="253.14"/>
<line x1="1004.39" y1="255.45" x2="1018.93" y2="255.45"/>
<line x1="1004.39" y1="258.14" x2="1018.93" y2="258.14"/>
<line x1="1004.39" y1="277.75" x2="1018.93" y2="277.75"/>
<line x1="1004.39" y1="326.99" x2="1018.93" y2="326.99"/>
<line x1="1004.39" y1="355.84" x2="1018.93" y2="355.84"/>
<line x1="1004.39" y1="366.22" x2="1018.93" y2="366.22"/>
<line x1="1004.39" y1="407" x2="1018.93" y2="407"/>
<line x1="1004.39" y1="434.31" x2="1018.93" y2="434.31"/>
<line x1="1018.93" y1="60.04" x2="1033.48" y2="60.04"/>
<line x1="1018.93" y1="82.74" x2="1033.48" y2="82.74"/>
<line x1="1018.93" y1="103.51" x2="1033.48" y2="103.51"/>
<line x1="1018.93" y1="281.22" x2="1033.48" y2="281.22"/>
<line x1="1018.93" y1="282.76" x2="1033.48" y2="282.76"/>
<line x1="1018.93" y1="286.99" x2="1033.48" y2="286.99"/>
<line x1="1018.93" y1="313.14" x2="1033.48" y2="313.14"/>
<line x1="1018.93" y1="318.91" x2="1033.48" y2="318.91"/>
<line x1="1018.93" y1="346.61" x2="1033.48" y2="346.61"/>
<line x1="1018.93" y1="371.22" x2="1033.48" y2="371.22"/>
<line x1="1018.93" y1="408.54" x2="1033.48" y2="408.54"/>
<line x1="1018.93" y1="410.84" x2="1033.48" y2="410.84"/>
<line x1="1018.93" y1="423.92" x2="1033.48" y2="423.92"/>
<line x1="1033.48" y1="128.13" x2="1048.03" y2="128.13"/>
<line x1="1033.48" y1="142.74" x2="1048.03" y2="142.74"/>
<line x1="1033.48" y1="166.98" x2="1048.03" y2="166.98"/>
<line x1="1033.48" y1="263.52" x2="1048.03" y2="263.52"/>
<line x1="1033.48" y1="270.83" x2="1048.03" y2="270.83"/>
<line x1="1033.48" y1="300.83" x2="1048.03" y2="300.83"/>
<line x1="1033.48" y1="319.3" x2="1048.03" y2="319.3"/>
<line x1="1033.48" y1="343.15" x2="1048.03" y2="343.15"/>
<line x1="1033.48" y1="358.53" x2="1048.03" y2="358.53"/>
<line x1="1033.48" y1="410.46" x2="1048.03" y2="410.46"/>
<line x1="1033.48" y1="413.92" x2="1048.03" y2="413.92"/>
<line x1="1033.48" y1="423.54" x2="1048.03" y2="423.54"/>
<line x1="1048.03" y1="127.36" x2="1062.58" y2="127.36"/>
<line x1="1048.03" y1="167.75" x2="1062.58" y2="167.75"/>
<line x1="1048.03" y1="190.82" x2="1062.58" y2="190.82"/>
<line x1="1048.03" y1="320.45" x2="1062.58" y2="320.45"/>
<line x1="1048.03" y1="353.53" x2="1062.58" y2="353.53"/>
<line x1="1048.03" y1="365.46" x2="1062.58" y2="365.46"/>
<line x1="1048.03" y1="376.23" x2="1062.58" y2="376.23"/>
<line x1="1048.03" y1="382.38" x2="1062.58" y2="382.38"/>
<line x1="1048.03" y1="408.54" x2="1062.58" y2="408.54"/>
<line x1="1048.03" y1="411.23" x2="1062.58" y2="411.23"/>
<line x1="1048.03" y1="415.46" x2="1062.58" y2="415.46"/>
<line x1="1048.03" y1="430.85" x2="1062.58" y2="430.85"/>
<line x1="1062.58" y1="63.89" x2="1077.12" y2="63.89"/>
<line x1="1062.58" y1="68.51" x2="1077.12" y2="68.51"/>
<line x1="1062.58" y1="93.51" x2="1077.12" y2="93.51"/>
<line x1="1062.58" y1="193.13" x2="1077.12" y2="193.13"/>
<line x1="1062.58" y1="268.91" x2="1077.12" y2="268.91"/>
<line x1="1062.58" y1="323.53" x2="1077.12" y2="323.53"/>
<line x1="1062.58" y1="333.91" x2="1077.12" y2="333.91"/>
<line x1="1062.58" y1="335.84" x2="1077.12" y2="335.84"/>
<line x1="1062.58" y1="346.99" x2="1077.12" y2="346.99"/>
<line x1="1062.58" y1="373.92" x2="1077.12" y2="373.92"/>
<line x1="1062.58" y1="407" x2="1077.12" y2="407"/>
<line x1="1062.58" y1="411.61" x2="1077.12" y2="411.61"/>
<line x1="1062.58" y1="422.38" x2="1077.12" y2="422.38"/>
<line x1="1077.12" y1="59.27" x2="1091.67" y2="59.27"/>
<line x1="1077.12" y1="88.89" x2="1091.67" y2="88.89"/>
<line x1="1077.12" y1="157.36" x2="1091.67" y2="157.36"/>
<line x1="1077.12" y1="191.21" x2="1091.67" y2="191.21"/>
<line x1="1077.12" y1="297.76" x2="1091.67" y2="297.76"/>
<line x1="1077.12" y1="308.91" x2="1091.67" y2="308.91"/>
<line x1="1077.12" y1="324.68" x2="1091.67" y2="324.68"/>
<line x1="1077.12" y1="340.84" x2="1091.67" y2="340.84"/>
<line x1="1077.12" y1="371.22" x2="1091.67" y2="371.22"/>
<line x1="1077.12" y1="382.76" x2="1091.67" y2="382.76"/>
<line x1="1077.12" y1="405.46" x2="1091.67" y2="405.46"/>
<line x1="1077.12" y1="410.84" x2="1091.67" y2="410.84"/>
<line x1="1077.12" y1="430.85" x2="1091.67" y2="430.85"/>
<line x1="1091.67" y1="55.43" x2="1106.22" y2="55.43"/>
<line x1="1091.67" y1="71.97" x2="1106.22" y2="71.97"/>
<line x1="1091.67" y1="98.51" x2="1106.22" y2="98.51"/>
<line x1="1091.67" y1="158.13" x2="1106.22" y2="158.13"/>
<line x1="1091.67" y1="280.83" x2="1106.22" y2="280.83"/>
<line x1="1091.67" y1="315.84" x2="1106.22" y2="315.84"/>
<line x1="1091.67" y1="326.61" x2="1106.22" y2="326.61"/>
<line x1="1091.67" y1="363.15" x2="1106.22" y2="363.15"/>
<line x1="1091.67" y1="383.15" x2="1106.22" y2="383.15"/>
<line x1="1091.67" y1="407" x2="1106.22" y2="407"/>
<line x1="1106.22" y1="79.28" x2="1120.76" y2="79.28"/>
<line x1="1106.22" y1="106.97" x2="1120.76" y2="106.97"/>
<line x1="1106.22" y1="153.9" x2="1120.76" y2="153.9"/>
<line x1="1106.22" y1="237.75" x2="1120.76" y2="237.75"/>
<line x1="1106.22" y1="253.52" x2="1120.76" y2="253.52"/>
<line x1="1106.22" y1="257.75" x2="1120.76" y2="257.75"/>
<line x1="1106.22" y1="296.6" x2="1120.76" y2="296.6"/>
<line x1="1106.22" y1="328.53" x2="1120.76" y2="328.53"/>
<line x1="1106.22" y1="350.84" x2="1120.76" y2="350.84"/>
<line x1="1106.22" y1="381.23" x2="1120.76" y2="381.23"/>
<line x1="1106.22" y1="392.38" x2="1120.76" y2="392.38"/>
<line x1="1120.76" y1="59.27" x2="1135.31" y2="59.27"/>
<line x1="1120.76" y1="63.89" x2="1135.31" y2="63.89"/>
<line x1="1120.76" y1="91.58" x2="1135.31" y2="91.58"/>
<line x1="1120.76" y1="124.66" x2="1135.31" y2="124.66"/>
<line x1="1120.76" y1="206.59" x2="1135.31" y2="206.59"/>
<line x1="1120.76" y1="208.9" x2="1135.31" y2="208.9"/>
<line x1="1120.76" y1="215.06" x2="1135.31" y2="215.06"/>
<line x1="1120.76" y1="235.06" x2="1135.31" y2="235.06"/>
<line x1="1120.76" y1="275.06" x2="1135.31" y2="275.06"/>
<line x1="1120.76" y1="343.91" x2="1135.31" y2="343.91"/>
<line x1="1120.76" y1="371.99" x2="1135.31" y2="371.99"/>
<line x1="1120.76" y1="423.54" x2="1135.31" y2="423.54"/>
<line x1="1135.31" y1="113.12" x2="1149.86" y2="113.12"/>
<line x1="1135.31" y1="151.59" x2="1149.86" y2="151.59"/>
<line x1="1135.31" y1="195.82" x2="1149.86" y2="195.82"/>
<line x1="1135.31" y1="310.45" x2="1149.86" y2="310.45"/>
<line x1="1135.31" y1="331.99" x2="1149.86" y2="331.99"/>
<line x1="1135.31" y1="385.07" x2="1149.86" y2="385.07"/>
<line x1="1135.31" y1="400.07" x2="1149.86" y2="400.07"/>
<line x1="1135.31" y1="415.07" x2="1149.86" y2="415.07"/>
<line x1="1135.31" y1="425.85" x2="1149.86" y2="425.85"/>
<line x1="1149.86" y1="82.74" x2="1164.4" y2="82.74"/>
<line x1="1149.86" y1="111.2" x2="1164.4" y2="111.2"/>
<line x1="1149.86" y1="156.21" x2="1164.4" y2="156.21"/>
<line x1="1149.86" y1="253.52" x2="1164.4" y2="253.52"/>
<line x1="1149.86" y1="278.14" x2="1164.4" y2="278.14"/>
<line x1="1149.86" y1="297.37" x2="1164.4" y2="297.37"/>
<line x1="1149.86" y1="316.99" x2="1164.4" y2="316.99"/>
<line x1="1149.86" y1="343.15" x2="1164.4" y2="343.15"/>
<line x1="1149.86" y1="383.92" x2="1164.4" y2="383.92"/>
<line x1="1149.86" y1="410.46" x2="1164.4" y2="410.46"/>
<line x1="1149.86" y1="417.38" x2="1164.4" y2="417.38"/>
<line x1="1149.86" y1="434.31" x2="1164.4" y2="434.31"/>
<line x1="1164.4" y1="67.74" x2="1178.95" y2="67.74"/>
<line x1="1164.4" y1="93.89" x2="1178.95" y2="93.89"/>
<line x1="1164.4" y1="160.05" x2="1178.95" y2="160.05"/>
<line x1="1164.4" y1="193.9" x2="1178.95" y2="193.9"/>
<line x1="1164.4" y1="219.29" x2="1178.95" y2="219.29"/>
<line x1="1164.4" y1="270.83" x2="1178.95" y2="270.83"/>
<line x1="1164.4" y1="274.29" x2="1178.95" y2="274.29"/>
<line x1="1164.4" y1="338.91" x2="1178.95" y2="338.91"/>
<line x1="1164.4" y1="367.76" x2="1178.95" y2="367.76"/>
<line x1="1164.4" y1="385.07" x2="1178.95" y2="385.07"/>
<line x1="1164.4" y1="387" x2="1178.95" y2="387"/>
<line x1="1178.95" y1="119.28" x2="1193.5" y2="119.28"/>
<line x1="1178.95" y1="133.51" x2="1193.5" y2="133.51"/>
<line x1="1178.95" y1="200.44" x2="1193.5" y2="200.44"/>
<line x1="1178.95" y1="227.75" x2="1193.5" y2="227.75"/>
<line x1="1178.95" y1="272.75" x2="1193.5" y2="272.75"/>
<line x1="1178.95" y1="309.3" x2="1193.5" y2="309.3"/>
<line x1="1178.95" y1="379.69" x2="1193.5" y2="379.69"/>
<line x1="1178.95" y1="394.3" x2="1193.5" y2="394.3"/>
<line x1="1178.95" y1="410.46" x2="1193.5" y2="410.46"/>
<line x1="1178.95" y1="418.92" x2="1193.5" y2="418.92"/>
<line x1="1178.95" y1="430.85" x2="1193.5" y2="430.85"/>
<line x1="1193.5" y1="83.89" x2="1208.04" y2="83.89"/>
<line x1="1193.5" y1="149.28" x2="1208.04" y2="149.28"/>
<line x1="1193.5" y1="170.82" x2="1208.04" y2="170.82"/>
<line x1="1193.5" y1="224.29" x2="1208.04" y2="224.29"/>
<line x1="1193.5" y1="225.44" x2="1208.04" y2="225.44"/>
<line x1="1193.5" y1="251.98" x2="1208.04" y2="251.98"/>
<line x1="1193.5" y1="286.22" x2="1208.04" y2="286.22"/>
<line x1="1193.5" y1="337.38" x2="1208.04" y2="337.38"/>
<line x1="1193.5" y1="349.3" x2="1208.04" y2="349.3"/>
<line x1="1193.5" y1="398.92" x2="1208.04" y2="398.92"/>
<line x1="1193.5" y1="428.15" x2="1208.04" y2="428.15"/>
<line x1="1208.04" y1="87.74" x2="1222.59" y2="87.74"/>
<line x1="1208.04" y1="120.43" x2="1222.59" y2="120.43"/>
<line x1="1208.04" y1="181.98" x2="1222.59" y2="181.98"/>
<line x1="1208.04" y1="259.29" x2="1222.59" y2="259.29"/>
<line x1="1208.04" y1="298.14" x2="1222.59" y2="298.14"/>
<line x1="1208.04" y1="308.14" x2="1222.59" y2="308.14"/>
<line x1="1208.04" y1="317.76" x2="1222.59" y2="317.76"/>
<line x1="1208.04" y1="360.07" x2="1222.59" y2="360.07"/>
<line x1="1208.04" y1="388.15" x2="1222.59" y2="388.15"/>
<line x1="1208.04" y1="415.07" x2="1222.59" y2="415.07"/>
<line x1="1222.59" y1="62.35" x2="1237.14" y2="62.35"/>
<line x1="1222.59" y1="77.35" x2="1237.14" y2="77.35"/>
<line x1="1222.59" y1="117.74" x2="1237.14" y2="117.74"/>
<line x1="1222.59" y1="192.75" x2="1237.14" y2="192.75"/>
<line x1="1222.59" y1="236.98" x2="1237.14" y2="236.98"/>
<line x1="1222.59" y1="268.52" x2="1237.14" y2="268.52"/>
<line x1="1222.59" y1="286.22" x2="1237.14" y2="286.22"/>
<line x1="1222.59" y1="301.99" x2="1237.14" y2="301.99"/>
<line x1="1222.59" y1="312.76" x2="1237.14" y2="312.76"/>
<line x1="1222.59" y1="358.53" x2="1237.14" y2="358.53"/>
<line x1="1222.59" y1="386.61" x2="1237.14" y2="386.61"/>
<line x1="1222.59" y1="410.07" x2="1237.14" y2="410.07"/>
<line x1="1222.59" y1="416.23" x2="1237.14" y2="416.23"/>
<line x1="1237.14" y1="57.35" x2="1251.68" y2="57.35"/>
<line x1="1237.14" y1="71.97" x2="1251.68" y2="71.97"/>
<line x1="1237.14" y1="102.35" x2="1251.68" y2="102.35"/>
<line x1="1237.14" y1="183.52" x2="1251.68" y2="183.52"/>
<line x1="1237.14" y1="256.98" x2="1251.68" y2="256.98"/>
<line x1="1237.14" y1="273.91" x2="1251.68" y2="273.91"/>
<line x1="1237.14" y1="285.83" x2="1251.68" y2="285.83"/>
<line x1="1237.14" y1="287.76" x2="1251.68" y2="287.76"/>
<line x1="1237.14" y1="290.45" x2="1251.68" y2="290.45"/>
<line x1="1237.14" y1="329.3" x2="1251.68" y2="329.3"/>
<line x1="1237.14" y1="379.69" x2="1251.68" y2="379.69"/>
<line x1="1237.14" y1="389.3" x2="1251.68" y2="389.3"/>
<line x1="1237.14" y1="408.54" x2="1251.68" y2="408.54"/>
<line x1="1251.68" y1="156.59" x2="1266.23" y2="156.59"/>
<line x1="1251.68" y1="188.52" x2="1266.23" y2="188.52"/>
<line x1="1251.68" y1="268.91" x2="1266.23" y2="268.91"/>
<line x1="1251.68" y1="309.3" x2="1266.23" y2="309.3"/>
<line x1="1251.68" y1="340.84" x2="1266.23" y2="340.84"/>
<line x1="1251.68" y1="359.69" x2="1266.23" y2="359.69"/>
<line x1="1251.68" y1="370.46" x2="1266.23" y2="370.46"/>
<line x1="1251.68" y1="410.46" x2="1266.23" y2="410.46"/>
<line x1="1251.68" y1="411.23" x2="1266.23" y2="411.23"/>
<line x1="1251.68" y1="427.38" x2="1266.23" y2="427.38"/>
<line x1="1266.23" y1="70.04" x2="1280.78" y2="70.04"/>
<line x1="1266.23" y1="72.35" x2="1280.78" y2="72.35"/>
<line x1="1266.23" y1="96.97" x2="1280.78" y2="96.97"/>
<line x1="1266.23" y1="158.51" x2="1280.78" y2="158.51"/>
<line x1="1266.23" y1="196.21" x2="1280.78" y2="196.21"/>
<line x1="1266.23" y1="223.13" x2="1280.78" y2="223.13"/>
<line x1="1266.23" y1="249.68" x2="1280.78" y2="249.68"/>
<line x1="1266.23" y1="253.52" x2="1280.78" y2="253.52"/>
<line x1="1266.23" y1="283.91" x2="1280.78" y2="283.91"/>
<line x1="1266.23" y1="306.6" x2="1280.78" y2="306.6"/>
<line x1="1266.23" y1="343.91" x2="1280.78" y2="343.91"/>
<line x1="1266.23" y1="370.46" x2="1280.78" y2="370.46"/>
<line x1="1266.23" y1="402" x2="1280.78" y2="402"/>
<line x1="1266.23" y1="412.77" x2="1280.78" y2="412.77"/>
<line x1="1266.23" y1="435.85" x2="1280.78" y2="435.85"/>
<line x1="1280.78" y1="150.82" x2="1295.33" y2="150.82"/>
<line x1="1280.78" y1="180.05" x2="1295.33" y2="180.05"/>
<line x1="1280.78" y1="202.75" x2="1295.33" y2="202.75"/>
<line x1="1280.78" y1="298.91" x2="1295.33" y2="298.91"/>
<line x1="1280.78" y1="320.84" x2="1295.33" y2="320.84"/>
<line x1="1280.78" y1="330.84" x2="1295.33" y2="330.84"/>
<line x1="1280.78" y1="352.76" x2="1295.33" y2="352.76"/>
<line x1="1280.78" y1="358.92" x2="1295.33" y2="358.92"/>
<line x1="1280.78" y1="395.07" x2="1295.33" y2="395.07"/>
<line x1="1280.78" y1="426.61" x2="1295.33" y2="426.61"/>
<line x1="1295.33" y1="123.89" x2="1309.87" y2="123.89"/>
<line x1="1295.33" y1="128.13" x2="1309.87" y2="128.13"/>
<line x1="1295.33" y1="151.21" x2="1309.87" y2="151.21"/>
<line x1="1295.33" y1="254.29" x2="1309.87" y2="254.29"/>
<line x1="1295.33" y1="257.75" x2="1309.87" y2="257.75"/>
<line x1="1295.33" y1="279.29" x2="1309.87" y2="279.29"/>
<line x1="1295.33" y1="309.68" x2="1309.87" y2="309.68"/>
<line x1="1295.33" y1="328.53" x2="1309.87" y2="328.53"/>
<line x1="1295.33" y1="353.92" x2="1309.87" y2="353.92"/>
<line x1="1295.33" y1="390.46" x2="1309.87" y2="390.46"/>
<line x1="1295.33" y1="392.38" x2="1309.87" y2="392.38"/>
<line x1="1295.33" y1="398.54" x2="1309.87" y2="398.54"/>
<line x1="1295.33" y1="435.85" x2="1309.87" y2="435.85"/>
<line x1="1309.87" y1="78.51" x2="1324.42" y2="78.51"/>
<line x1="1309.87" y1="126.2" x2="1324.42" y2="126.2"/>
<line x1="1309.87" y1="135.05" x2="1324.42" y2="135.05"/>
<line x1="1309.87" y1="248.52" x2="1324.42" y2="248.52"/>
<line x1="1309.87" y1="265.83" x2="1324.42" y2="265.83"/>
<line x1="1309.87" y1="283.91" x2="1324.42" y2="283.91"/>
<line x1="1309.87" y1="306.22" x2="1324.42" y2="306.22"/>
<line x1="1309.87" y1="361.99" x2="1324.42" y2="361.99"/>
<line x1="1309.87" y1="424.31" x2="1324.42" y2="424.31"/>
<line x1="1309.87" y1="428.15" x2="1324.42" y2="428.15"/>
<line x1="1324.42" y1="90.43" x2="1338.97" y2="90.43"/>
<line x1="1324.42" y1="147.74" x2="1338.97" y2="147.74"/>
<line x1="1324.42" y1="208.9" x2="1338.97" y2="208.9"/>
<line x1="1324.42" y1="292.76" x2="1338.97" y2="292.76"/>
<line x1="1324.42" y1="300.06" x2="1338.97" y2="300.06"/>
<line x1="1324.42" y1="317.76" x2="1338.97" y2="317.76"/>
<line x1="1324.42" y1="323.53" x2="1338.97" y2="323.53"/>
<line x1="1324.42" y1="341.61" x2="1338.97" y2="341.61"/>
<line x1="1324.42" y1="345.07" x2="1338.97" y2="345.07"/>
<line x1="1324.42" y1="371.99" x2="1338.97" y2="371.99"/>
<line x1="1324.42" y1="386.61" x2="1338.97" y2="386.61"/>
<line x1="1324.42" y1="412.77" x2="1338.97" y2="412.77"/>
<line x1="1338.97" y1="110.43" x2="1353.51" y2="110.43"/>
<line x1="1338.97" y1="122.74" x2="1353.51" y2="122.74"/>
<line x1="1338.97" y1="152.74" x2="1353.51" y2="152.74"/>
<line x1="1338.97" y1="251.98" x2="1353.51" y2="251.98"/>
<line x1="1338.97" y1="255.06" x2="1353.51" y2="255.06"/>
<line x1="1338.97" y1="258.14" x2="1353.51" y2="258.14"/>
<line x1="1338.97" y1="261.6" x2="1353.51" y2="261.6"/>
<line x1="1338.97" y1="282.76" x2="1353.51" y2="282.76"/>
<line x1="1338.97" y1="325.07" x2="1353.51" y2="325.07"/>
<line x1="1338.97" y1="339.68" x2="1353.51" y2="339.68"/>
<line x1="1338.97" y1="376.23" x2="1353.51" y2="376.23"/>
<line x1="1338.97" y1="388.53" x2="1353.51" y2="388.53"/>
<line x1="1353.51" y1="72.35" x2="1368.06" y2="72.35"/>
<line x1="1353.51" y1="143.13" x2="1368.06" y2="143.13"/>
<line x1="1353.51" y1="192.36" x2="1368.06" y2="192.36"/>
<line x1="1353.51" y1="257.75" x2="1368.06" y2="257.75"/>
<line x1="1353.51" y1="264.29" x2="1368.06" y2="264.29"/>
<line x1="1353.51" y1="337.38" x2="1368.06" y2="337.38"/>
<line x1="1353.51" y1="385.84" x2="1368.06" y2="385.84"/>
<line x1="1353.51" y1="393.53" x2="1368.06" y2="393.53"/>
<line x1="1353.51" y1="424.69" x2="1368.06" y2="424.69"/>
<line x1="1353.51" y1="428.92" x2="1368.06" y2="428.92"/>
<line x1="1353.51" y1="435.08" x2="1368.06" y2="435.08"/>
<line x1="1368.06" y1="93.51" x2="1382.61" y2="93.51"/>
<line x1="1368.06" y1="145.05" x2="1382.61" y2="145.05"/>
<line x1="1368.06" y1="203.13" x2="1382.61" y2="203.13"/>
<line x1="1368.06" y1="265.06" x2="1382.61" y2="265.06"/>
<line x1="1368.06" y1="313.53" x2="1382.61" y2="313.53"/>
<line x1="1368.06" y1="320.45" x2="1382.61" y2="320.45"/>
<line x1="1368.06" y1="321.61" x2="1382.61" y2="321.61"/>
<line x1="1368.06" y1="343.91" x2="1382.61" y2="343.91"/>
<line x1="1368.06" y1="350.07" x2="1382.61" y2="350.07"/>
<line x1="1368.06" y1="383.92" x2="1382.61" y2="383.92"/>
<line x1="1368.06" y1="390.84" x2="1382.61" y2="390.84"/>
<line x1="1368.06" y1="414.69" x2="1382.61" y2="414.69"/>
<line x1="1382.61" y1="78.51" x2="1397.15" y2="78.51"/>
<line x1="1382.61" y1="124.66" x2="1397.15" y2="124.66"/>
<line x1="1382.61" y1="215.06" x2="1397.15" y2="215.06"/>
<line x1="1382.61" y1="229.29" x2="1397.15" y2="229.29"/>
<line x1="1382.61" y1="236.21" x2="1397.15" y2="236.21"/>
<line x1="1382.61" y1="248.52" x2="1397.15" y2="248.52"/>
<line x1="1382.61" y1="251.98" x2="1397.15" y2="251.98"/>
<line x1="1382.61" y1="286.22" x2="1397.15" y2="286.22"/>
<line x1="1382.61" y1="289.68" x2="1397.15" y2="289.68"/>
<line x1="1382.61" y1="318.91" x2="1397.15" y2="318.91"/>
<line x1="1382.61" y1="326.99" x2="1397.15" y2="326.99"/>
<line x1="1382.61" y1="362.76" x2="1397.15" y2="362.76"/>
<line x1="1382.61" y1="407" x2="1397.15" y2="407"/>
<line x1="1382.61" y1="412" x2="1397.15" y2="412"/>
<line x1="1397.15" y1="83.12" x2="1411.7" y2="83.12"/>
<line x1="1397.15" y1="128.13" x2="1411.7" y2="128.13"/>
<line x1="1397.15" y1="165.05" x2="1411.7" y2="165.05"/>
<line x1="1397.15" y1="239.67" x2="1411.7" y2="239.67"/>
<line x1="1397.15" y1="242.37" x2="1411.7" y2="242.37"/>
<line x1="1397.15" y1="248.14" x2="1411.7" y2="248.14"/>
<line x1="1397.15" y1="252.37" x2="1411.7" y2="252.37"/>
<line x1="1397.15" y1="289.29" x2="1411.7" y2="289.29"/>
<line x1="1397.15" y1="322.76" x2="1411.7" y2="322.76"/>
<line x1="1397.15" y1="340.45" x2="1411.7" y2="340.45"/>
<line x1="1397.15" y1="386.61" x2="1411.7" y2="386.61"/>
<line x1="1397.15" y1="388.15" x2="1411.7" y2="388.15"/>
<line x1="1397.15" y1="430.85" x2="1411.7" y2="430.85"/>
<line x1="1397.15" y1="435.85" x2="1411.7" y2="435.85"/>
</g>
<line x1="945" y1="33" x2="945" y2="437.8" stroke="#1a1a1a" stroke-width="1.6"/>
<line x1="944.2" y1="437.2" x2="1413.2" y2="437.2" stroke="#1a1a1a" stroke-width="1.6"/>
<line x1="940.5" y1="437" x2="945" y2="437" stroke="#1a1a1a" stroke-width="1.4"/>
<text transform="translate(937.5,440.75) scale(1,1.045)" font-size="10" text-anchor="end">0</text>
<line x1="940.5" y1="340.84" x2="945" y2="340.84" stroke="#1a1a1a" stroke-width="1.4"/>
<text transform="translate(937.5,344.59) scale(1,1.045)" font-size="10" text-anchor="end">25</text>
<line x1="940.5" y1="244.68" x2="945" y2="244.68" stroke="#1a1a1a" stroke-width="1.4"/>
<text transform="translate(937.5,248.43) scale(1,1.045)" font-size="10" text-anchor="end">50</text>
<line x1="940.5" y1="148.51" x2="945" y2="148.51" stroke="#1a1a1a" stroke-width="1.4"/>
<text transform="translate(937.5,152.26) scale(1,1.045)" font-size="10" text-anchor="end">75</text>
<line x1="940.5" y1="52.35" x2="945" y2="52.35" stroke="#1a1a1a" stroke-width="1.4"/>
<text transform="translate(937.5,56.1) scale(1,1.045)" font-size="10" text-anchor="end">100</text>
<line x1="953.47" y1="437" x2="953.47" y2="441.6" stroke="#1a1a1a" stroke-width="1.4"/>
<text transform="translate(958.47,450.6) rotate(-60)" font-size="9.5" text-anchor="end">GSM1479654</text>
<line x1="968.02" y1="437" x2="968.02" y2="441.6" stroke="#1a1a1a" stroke-width="1.4"/>
<text transform="translate(973.02,450.6) rotate(-60)" font-size="9.5" text-anchor="end">GSM1479655</text>
<line x1="982.57" y1="437" x2="982.57" y2="441.6" stroke="#1a1a1a" stroke-width="1.4"/>
<text transform="translate(987.57,450.6) rotate(-60)" font-size="9.5" text-anchor="end">GSM1479656</text>
<line x1="997.11" y1="437" x2="997.11" y2="441.6" stroke="#1a1a1a" stroke-width="1.4"/>
<text transform="translate(1002.11,450.6) rotate(-60)" font-size="9.5" text-anchor="end">GSM1479657</text>
<line x1="1011.66" y1="437" x2="1011.66" y2="441.6" stroke="#1a1a1a" stroke-width="1.4"/>
<text transform="translate(1016.66,450.6) rotate(-60)" font-size="9.5" text-anchor="end">GSM1479670</text>
<line x1="1026.21" y1="437" x2="1026.21" y2="441.6" stroke="#1a1a1a" stroke-width="1.4"/>
<text transform="translate(1031.21,450.6) rotate(-60)" font-size="9.5" text-anchor="end">GSM1479671</text>
<line x1="1040.75" y1="437" x2="1040.75" y2="441.6" stroke="#1a1a1a" stroke-width="1.4"/>
<text transform="translate(1045.75,450.6) rotate(-60)" font-size="9.5" text-anchor="end">GSM1479672</text>
<line x1="1055.3" y1="437" x2="1055.3" y2="441.6" stroke="#1a1a1a" stroke-width="1.4"/>
<text transform="translate(1060.3,450.6) rotate(-60)" font-size="9.5" text-anchor="end">GSM1479673</text>
<line x1="1069.85" y1="437" x2="1069.85" y2="441.6" stroke="#1a1a1a" stroke-width="1.4"/>
<text transform="translate(1074.85,450.6) rotate(-60)" font-size="9.5" text-anchor="end">GSM1479658</text>
<line x1="1084.4" y1="437" x2="1084.4" y2="441.6" stroke="#1a1a1a" stroke-width="1.4"/>
<text transform="translate(1089.4,450.6) rotate(-60)" font-size="9.5" text-anchor="end">GSM1479659</text>
<line x1="1098.94" y1="437" x2="1098.94" y2="441.6" stroke="#1a1a1a" stroke-width="1.4"/>
<text transform="translate(1103.94,450.6) rotate(-60)" font-size="9.5" text-anchor="end">GSM1479660</text>
<line x1="1113.49" y1="437" x2="1113.49" y2="441.6" stroke="#1a1a1a" stroke-width="1.4"/>
<text transform="translate(1118.49,450.6) rotate(-60)" font-size="9.5" text-anchor="end">GSM1479661</text>
<line x1="1128.04" y1="437" x2="1128.04" y2="441.6" stroke="#1a1a1a" stroke-width="1.4"/>
<text transform="translate(1133.04,450.6) rotate(-60)" font-size="9.5" text-anchor="end">GSM1479662</text>
<line x1="1142.58" y1="437" x2="1142.58" y2="441.6" stroke="#1a1a1a" stroke-width="1.4"/>
<text transform="translate(1147.58,450.6) rotate(-60)" font-size="9.5" text-anchor="end">GSM1479663</text>
<line x1="1157.13" y1="437" x2="1157.13" y2="441.6" stroke="#1a1a1a" stroke-width="1.4"/>
<text transform="translate(1162.13,450.6) rotate(-60)" font-size="9.5" text-anchor="end">GSM1479664</text>
<line x1="1171.68" y1="437" x2="1171.68" y2="441.6" stroke="#1a1a1a" stroke-width="1.4"/>
<text transform="translate(1176.68,450.6) rotate(-60)" font-size="9.5" text-anchor="end">GSM1479665</text>
<line x1="1186.22" y1="437" x2="1186.22" y2="441.6" stroke="#1a1a1a" stroke-width="1.4"/>
<text transform="translate(1191.22,450.6) rotate(-60)" font-size="9.5" text-anchor="end">GSM1479666</text>
<line x1="1200.77" y1="437" x2="1200.77" y2="441.6" stroke="#1a1a1a" stroke-width="1.4"/>
<text transform="translate(1205.77,450.6) rotate(-60)" font-size="9.5" text-anchor="end">GSM1479667</text>
<line x1="1215.32" y1="437" x2="1215.32" y2="441.6" stroke="#1a1a1a" stroke-width="1.4"/>
<text transform="translate(1220.32,450.6) rotate(-60)" font-size="9.5" text-anchor="end">GSM1479668</text>
<line x1="1229.86" y1="437" x2="1229.86" y2="441.6" stroke="#1a1a1a" stroke-width="1.4"/>
<text transform="translate(1234.86,450.6) rotate(-60)" font-size="9.5" text-anchor="end">GSM1479669</text>
<line x1="1244.41" y1="437" x2="1244.41" y2="441.6" stroke="#1a1a1a" stroke-width="1.4"/>
<text transform="translate(1249.41,450.6) rotate(-60)" font-size="9.5" text-anchor="end">GSM1479674</text>
<line x1="1258.96" y1="437" x2="1258.96" y2="441.6" stroke="#1a1a1a" stroke-width="1.4"/>
<text transform="translate(1263.96,450.6) rotate(-60)" font-size="9.5" text-anchor="end">GSM1479675</text>
<line x1="1273.5" y1="437" x2="1273.5" y2="441.6" stroke="#1a1a1a" stroke-width="1.4"/>
<text transform="translate(1278.5,450.6) rotate(-60)" font-size="9.5" text-anchor="end">GSM1479676</text>
<line x1="1288.05" y1="437" x2="1288.05" y2="441.6" stroke="#1a1a1a" stroke-width="1.4"/>
<text transform="translate(1293.05,450.6) rotate(-60)" font-size="9.5" text-anchor="end">GSM1479677</text>
<line x1="1302.6" y1="437" x2="1302.6" y2="441.6" stroke="#1a1a1a" stroke-width="1.4"/>
<text transform="translate(1307.6,450.6) rotate(-60)" font-size="9.5" text-anchor="end">GSM1479678</text>
<line x1="1317.15" y1="437" x2="1317.15" y2="441.6" stroke="#1a1a1a" stroke-width="1.4"/>
<text transform="translate(1322.15,450.6) rotate(-60)" font-size="9.5" text-anchor="end">GSM1479679</text>
<line x1="1331.69" y1="437" x2="1331.69" y2="441.6" stroke="#1a1a1a" stroke-width="1.4"/>
<text transform="translate(1336.69,450.6) rotate(-60)" font-size="9.5" text-anchor="end">GSM1479680</text>
<line x1="1346.24" y1="437" x2="1346.24" y2="441.6" stroke="#1a1a1a" stroke-width="1.4"/>
<text transform="translate(1351.24,450.6) rotate(-60)" font-size="9.5" text-anchor="end">GSM1479681</text>
<line x1="1360.79" y1="437" x2="1360.79" y2="441.6" stroke="#1a1a1a" stroke-width="1.4"/>
<text transform="translate(1365.79,450.6) rotate(-60)" font-size="9.5" text-anchor="end">GSM1479682</text>
<line x1="1375.33" y1="437" x2="1375.33" y2="441.6" stroke="#1a1a1a" stroke-width="1.4"/>
<text transform="translate(1380.33,450.6) rotate(-60)" font-size="9.5" text-anchor="end">GSM1479683</text>
<line x1="1389.88" y1="437" x2="1389.88" y2="441.6" stroke="#1a1a1a" stroke-width="1.4"/>
<text transform="translate(1394.88,450.6) rotate(-60)" font-size="9.5" text-anchor="end">GSM1479684</text>
<line x1="1404.43" y1="437" x2="1404.43" y2="441.6" stroke="#1a1a1a" stroke-width="1.4"/>
<text transform="translate(1409.43,450.6) rotate(-60)" font-size="9.5" text-anchor="end">GSM1479685</text>
<text transform="translate(1199,522.41) scale(1,1.045)" font-size="26" text-anchor="middle">Sample IDs</text>
<text transform="translate(910,214) rotate(-90)" font-size="26" text-anchor="middle">proportion(%)</text>
<rect x="1418.3" y="171.3" width="11" height="11" fill="#E23A24"/>
<text transform="translate(1434.6,180.65) scale(1,1.045)" font-size="10">B cells naive</text>
<rect x="1418.3" y="183.1" width="11" height="11" fill="#3E5FAE"/>
<text transform="translate(1434.6,192.45) scale(1,1.045)" font-size="10">B cells memory</text>
<rect x="1418.3" y="194.9" width="11" height="11" fill="#EEBF1E"/>
<text transform="translate(1434.6,204.25) scale(1,1.045)" font-size="10">Plasma cells</text>
<rect x="1418.3" y="206.7" width="11" height="11" fill="#66B82E"/>
<text transform="translate(1434.6,216.05) scale(1,1.045)" font-size="10">T cells CD8</text>
<rect x="1418.3" y="218.5" width="11" height="11" fill="#F0C930"/>
<text transform="translate(1434.6,227.85) scale(1,1.045)" font-size="10">T cells CD4 naive</text>
<rect x="1418.3" y="230.3" width="11" height="11" fill="#889FD3"/>
<text transform="translate(1434.6,239.65) scale(1,1.045)" font-size="10">T cells CD4 memory resting</text>
<rect x="1418.3" y="242.1" width="11" height="11" fill="#EDE42C"/>
<text transform="translate(1434.6,251.45) scale(1,1.045)" font-size="10">T cells CD4 memory activated</text>
<rect x="1418.3" y="253.9" width="11" height="11" fill="#95CA76"/>
<text transform="translate(1434.6,263.25) scale(1,1.045)" font-size="10">T cells follicular helper</text>
<rect x="1418.3" y="265.7" width="11" height="11" fill="#E31B45"/>
<text transform="translate(1434.6,275.05) scale(1,1.045)" font-size="10">T cells regulatory (Tregs)</text>
<rect x="1418.3" y="277.5" width="11" height="11" fill="#283F9A"/>
<text transform="translate(1434.6,286.85) scale(1,1.045)" font-size="10">T cells gamma delta</text>
<rect x="1418.3" y="289.3" width="11" height="11" fill="#D0479A"/>
<text transform="translate(1434.6,298.65) scale(1,1.045)" font-size="10">NK cells resting</text>
<rect x="1573" y="171.3" width="11" height="11" fill="#7B6E82"/>
<text transform="translate(1589.3,180.65) scale(1,1.045)" font-size="10">NK cells activated</text>
<rect x="1573" y="183.1" width="11" height="11" fill="#E6B0B5"/>
<text transform="translate(1589.3,192.45) scale(1,1.045)" font-size="10">Monocytes</text>
<rect x="1573" y="194.9" width="11" height="11" fill="#6CC18E"/>
<text transform="translate(1589.3,204.25) scale(1,1.045)" font-size="10">Macrophages M0</text>
<rect x="1573" y="206.7" width="11" height="11" fill="#7AA290"/>
<text transform="translate(1589.3,216.05) scale(1,1.045)" font-size="10">Macrophages M1</text>
<rect x="1573" y="218.5" width="11" height="11" fill="#9E519E"/>
<text transform="translate(1589.3,227.85) scale(1,1.045)" font-size="10">Macrophages M2</text>
<rect x="1573" y="230.3" width="11" height="11" fill="#5A4EA0"/>
<text transform="translate(1589.3,239.65) scale(1,1.045)" font-size="10">Dendritic cells resting</text>
<rect x="1573" y="242.1" width="11" height="11" fill="#C8A2D0"/>
<text transform="translate(1589.3,251.45) scale(1,1.045)" font-size="10">Dendritic cells activated</text>
<rect x="1573" y="253.9" width="11" height="11" fill="#D2D5E2"/>
<text transform="translate(1589.3,263.25) scale(1,1.045)" font-size="10">Mast cells resting</text>
<rect x="1573" y="265.7" width="11" height="11" fill="#92D3C3"/>
<text transform="translate(1589.3,275.05) scale(1,1.045)" font-size="10">Mast cells activated</text>
<rect x="1573" y="277.5" width="11" height="11" fill="#7EC451"/>
<text transform="translate(1589.3,286.85) scale(1,1.045)" font-size="10">Eosinophils</text>
<rect x="1573" y="289.3" width="11" height="11" fill="#66A1D2"/>
<text transform="translate(1589.3,298.65) scale(1,1.045)" font-size="10">Neutrophils</text>
<g>
<rect x="94.7" y="574.3" width="652.7" height="335.1" fill="#ffffff"/>
<line x1="94.7" y1="863.15" x2="747.4" y2="863.15" stroke="#EEEEEE" stroke-width="1.2"/>
<line x1="94.7" y1="789.85" x2="747.4" y2="789.85" stroke="#EEEEEE" stroke-width="1.2"/>
<line x1="94.7" y1="716.55" x2="747.4" y2="716.55" stroke="#EEEEEE" stroke-width="1.2"/>
<line x1="94.7" y1="643.25" x2="747.4" y2="643.25" stroke="#EEEEEE" stroke-width="1.2"/>
<line x1="94.7" y1="899.8" x2="747.4" y2="899.8" stroke="#EBEBEB" stroke-width="2.6"/>
<line x1="94.7" y1="826.5" x2="747.4" y2="826.5" stroke="#EBEBEB" stroke-width="2.6"/>
<line x1="94.7" y1="753.2" x2="747.4" y2="753.2" stroke="#EBEBEB" stroke-width="2.6"/>
<line x1="94.7" y1="679.9" x2="747.4" y2="679.9" stroke="#EBEBEB" stroke-width="2.6"/>
<line x1="94.7" y1="606.6" x2="747.4" y2="606.6" stroke="#EBEBEB" stroke-width="2.6"/>
<line x1="127.2" y1="574.3" x2="127.2" y2="909.4" stroke="#EBEBEB" stroke-width="2.6"/>
<line x1="155.25" y1="574.3" x2="155.25" y2="909.4" stroke="#EBEBEB" stroke-width="2.6"/>
<line x1="183.3" y1="574.3" x2="183.3" y2="909.4" stroke="#EBEBEB" stroke-width="2.6"/>
<line x1="211.35" y1="574.3" x2="211.35" y2="909.4" stroke="#EBEBEB" stroke-width="2.6"/>
<line x1="239.4" y1="574.3" x2="239.4" y2="909.4" stroke="#EBEBEB" stroke-width="2.6"/>
<line x1="267.45" y1="574.3" x2="267.45" y2="909.4" stroke="#EBEBEB" stroke-width="2.6"/>
<line x1="295.5" y1="574.3" x2="295.5" y2="909.4" stroke="#EBEBEB" stroke-width="2.6"/>
<line x1="323.55" y1="574.3" x2="323.55" y2="909.4" stroke="#EBEBEB" stroke-width="2.6"/>
<line x1="351.6" y1="574.3" x2="351.6" y2="909.4" stroke="#EBEBEB" stroke-width="2.6"/>
<line x1="379.65" y1="574.3" x2="379.65" y2="909.4" stroke="#EBEBEB" stroke-width="2.6"/>
<line x1="407.7" y1="574.3" x2="407.7" y2="909.4" stroke="#EBEBEB" stroke-width="2.6"/>
<line x1="435.75" y1="574.3" x2="435.75" y2="909.4" stroke="#EBEBEB" stroke-width="2.6"/>
<line x1="463.8" y1="574.3" x2="463.8" y2="909.4" stroke="#EBEBEB" stroke-width="2.6"/>
<line x1="491.85" y1="574.3" x2="491.85" y2="909.4" stroke="#EBEBEB" stroke-width="2.6"/>
<line x1="519.9" y1="574.3" x2="519.9" y2="909.4" stroke="#EBEBEB" stroke-width="2.6"/>
<line x1="547.95" y1="574.3" x2="547.95" y2="909.4" stroke="#EBEBEB" stroke-width="2.6"/>
<line x1="576" y1="574.3" x2="576" y2="909.4" stroke="#EBEBEB" stroke-width="2.6"/>
<line x1="604.05" y1="574.3" x2="604.05" y2="909.4" stroke="#EBEBEB" stroke-width="2.6"/>
<line x1="632.1" y1="574.3" x2="632.1" y2="909.4" stroke="#EBEBEB" stroke-width="2.6"/>
<line x1="660.15" y1="574.3" x2="660.15" y2="909.4" stroke="#EBEBEB" stroke-width="2.6"/>
<line x1="688.2" y1="574.3" x2="688.2" y2="909.4" stroke="#EBEBEB" stroke-width="2.6"/>
<line x1="716.25" y1="574.3" x2="716.25" y2="909.4" stroke="#EBEBEB" stroke-width="2.6"/>
<line x1="141.22" y1="574.3" x2="141.22" y2="909.4" stroke="#EEEEEE" stroke-width="1.2"/>
<line x1="169.28" y1="574.3" x2="169.28" y2="909.4" stroke="#EEEEEE" stroke-width="1.2"/>
<line x1="197.32" y1="574.3" x2="197.32" y2="909.4" stroke="#EEEEEE" stroke-width="1.2"/>
<line x1="225.38" y1="574.3" x2="225.38" y2="909.4" stroke="#EEEEEE" stroke-width="1.2"/>
<line x1="253.43" y1="574.3" x2="253.43" y2="909.4" stroke="#EEEEEE" stroke-width="1.2"/>
<line x1="281.48" y1="574.3" x2="281.48" y2="909.4" stroke="#EEEEEE" stroke-width="1.2"/>
<line x1="309.53" y1="574.3" x2="309.53" y2="909.4" stroke="#EEEEEE" stroke-width="1.2"/>
<line x1="337.57" y1="574.3" x2="337.57" y2="909.4" stroke="#EEEEEE" stroke-width="1.2"/>
<line x1="365.62" y1="574.3" x2="365.62" y2="909.4" stroke="#EEEEEE" stroke-width="1.2"/>
<line x1="393.68" y1="574.3" x2="393.68" y2="909.4" stroke="#EEEEEE" stroke-width="1.2"/>
<line x1="421.73" y1="574.3" x2="421.73" y2="909.4" stroke="#EEEEEE" stroke-width="1.2"/>
<line x1="449.77" y1="574.3" x2="449.77" y2="909.4" stroke="#EEEEEE" stroke-width="1.2"/>
<line x1="477.82" y1="574.3" x2="477.82" y2="909.4" stroke="#EEEEEE" stroke-width="1.2"/>
<line x1="505.88" y1="574.3" x2="505.88" y2="909.4" stroke="#EEEEEE" stroke-width="1.2"/>
<line x1="533.93" y1="574.3" x2="533.93" y2="909.4" stroke="#EEEEEE" stroke-width="1.2"/>
<line x1="561.98" y1="574.3" x2="561.98" y2="909.4" stroke="#EEEEEE" stroke-width="1.2"/>
<line x1="590.02" y1="574.3" x2="590.02" y2="909.4" stroke="#EEEEEE" stroke-width="1.2"/>
<line x1="618.08" y1="574.3" x2="618.08" y2="909.4" stroke="#EEEEEE" stroke-width="1.2"/>
<line x1="646.13" y1="574.3" x2="646.13" y2="909.4" stroke="#EEEEEE" stroke-width="1.2"/>
<line x1="674.18" y1="574.3" x2="674.18" y2="909.4" stroke="#EEEEEE" stroke-width="1.2"/>
<line x1="702.23" y1="574.3" x2="702.23" y2="909.4" stroke="#EEEEEE" stroke-width="1.2"/>
</g>
<line x1="120.45" y1="718.75" x2="120.45" y2="800.41" stroke="#111" stroke-width="1.5"/>
<line x1="118.05" y1="718.75" x2="122.85" y2="718.75" stroke="#111" stroke-width="1.7"/>
<rect x="115.35" y="800.41" width="10.2" height="99.39" fill="#3A4FA0" stroke="#111" stroke-width="1.5"/>
<line x1="115.35" y1="853.91" x2="125.55" y2="853.91" stroke="#111" stroke-width="2.6"/>
<line x1="133.95" y1="705.99" x2="133.95" y2="782.89" stroke="#111" stroke-width="1.5"/>
<line x1="131.55" y1="705.99" x2="136.35" y2="705.99" stroke="#111" stroke-width="1.7"/>
<rect x="128.85" y="782.89" width="10.2" height="116.91" fill="#E9E12B" stroke="#111" stroke-width="1.5"/>
<line x1="128.85" y1="874.29" x2="139.05" y2="874.29" stroke="#111" stroke-width="2.6"/>
<circle cx="148.5" cy="788.6" r="2.4" fill="#8f8f8f" fill-opacity="0.85"/>
<line x1="148.5" y1="809.42" x2="148.5" y2="858.97" stroke="#111" stroke-width="1.5"/>
<line x1="146.1" y1="809.42" x2="150.9" y2="809.42" stroke="#111" stroke-width="1.7"/>
<rect x="143.4" y="858.97" width="10.2" height="40.83" fill="#3A4FA0" stroke="#111" stroke-width="1.5"/>
<line x1="143.4" y1="899.8" x2="153.6" y2="899.8" stroke="#111" stroke-width="2.6"/>
<circle cx="162" cy="667" r="2.4" fill="#8f8f8f" fill-opacity="0.85"/>
<line x1="162" y1="850.25" x2="162" y2="855.97" stroke="#111" stroke-width="1.5"/>
<line x1="159.6" y1="850.25" x2="164.4" y2="850.25" stroke="#111" stroke-width="1.7"/>
<line x1="162" y1="899.07" x2="162" y2="899.8" stroke="#111" stroke-width="1.5"/>
<line x1="159.6" y1="899.8" x2="164.4" y2="899.8" stroke="#111" stroke-width="1.7"/>
<rect x="156.9" y="855.97" width="10.2" height="43.1" fill="#E9E12B" stroke="#111" stroke-width="1.5"/>
<line x1="156.9" y1="884.48" x2="167.1" y2="884.48" stroke="#111" stroke-width="2.6"/>
<circle cx="176.55" cy="671.25" r="2.4" fill="#8f8f8f" fill-opacity="0.85"/>
<circle cx="176.55" cy="710.69" r="2.4" fill="#8f8f8f" fill-opacity="0.85"/>
<line x1="176.55" y1="784.5" x2="176.55" y2="829.8" stroke="#111" stroke-width="1.5"/>
<line x1="174.15" y1="784.5" x2="178.95" y2="784.5" stroke="#111" stroke-width="1.7"/>
<rect x="171.45" y="829.8" width="10.2" height="70" fill="#3A4FA0" stroke="#111" stroke-width="1.5"/>
<line x1="171.45" y1="890.64" x2="181.65" y2="890.64" stroke="#111" stroke-width="2.6"/>
<circle cx="190.05" cy="820.2" r="2.4" fill="#8f8f8f" fill-opacity="0.85"/>
<rect x="184.95" y="893.28" width="10.2" height="6.52" fill="#E9E12B" stroke="#111" stroke-width="1.5"/>
<line x1="184.95" y1="897.6" x2="195.15" y2="897.6" stroke="#111" stroke-width="2.6"/>
<circle cx="204.6" cy="724.32" r="2.4" fill="#8f8f8f" fill-opacity="0.85"/>
<circle cx="204.6" cy="740.01" r="2.4" fill="#8f8f8f" fill-opacity="0.85"/>
<line x1="204.6" y1="763.1" x2="204.6" y2="840.65" stroke="#111" stroke-width="1.5"/>
<line x1="202.2" y1="763.1" x2="207" y2="763.1" stroke="#111" stroke-width="1.7"/>
<rect x="199.5" y="840.65" width="10.2" height="59.15" fill="#3A4FA0" stroke="#111" stroke-width="1.5"/>
<line x1="199.5" y1="899.8" x2="209.7" y2="899.8" stroke="#111" stroke-width="2.6"/>
<circle cx="218.1" cy="694.12" r="2.4" fill="#8f8f8f" fill-opacity="0.85"/>
<line x1="218.1" y1="849.37" x2="218.1" y2="849.81" stroke="#111" stroke-width="1.5"/>
<line x1="215.7" y1="849.37" x2="220.5" y2="849.37" stroke="#111" stroke-width="1.7"/>
<rect x="213" y="849.81" width="10.2" height="49.99" fill="#E9E12B" stroke="#111" stroke-width="1.5"/>
<line x1="213" y1="876.71" x2="223.2" y2="876.71" stroke="#111" stroke-width="2.6"/>
<circle cx="232.65" cy="653.95" r="2.4" fill="#8f8f8f" fill-opacity="0.85"/>
<circle cx="232.65" cy="680.05" r="2.4" fill="#8f8f8f" fill-opacity="0.85"/>
<line x1="232.65" y1="726.37" x2="232.65" y2="830.46" stroke="#111" stroke-width="1.5"/>
<line x1="230.25" y1="726.37" x2="235.05" y2="726.37" stroke="#111" stroke-width="1.7"/>
<rect x="227.55" y="830.46" width="10.2" height="69.34" fill="#3A4FA0" stroke="#111" stroke-width="1.5"/>
<line x1="227.55" y1="894.67" x2="237.75" y2="894.67" stroke="#111" stroke-width="2.6"/>
<line x1="246.15" y1="839.62" x2="246.15" y2="842.04" stroke="#111" stroke-width="1.5"/>
<line x1="243.75" y1="839.62" x2="248.55" y2="839.62" stroke="#111" stroke-width="1.7"/>
<rect x="241.05" y="842.04" width="10.2" height="57.76" fill="#E9E12B" stroke="#111" stroke-width="1.5"/>
<line x1="241.05" y1="871.87" x2="251.25" y2="871.87" stroke="#111" stroke-width="2.6"/>
<circle cx="260.7" cy="584.17" r="2.4" fill="#8f8f8f" fill-opacity="0.85"/>
<circle cx="260.7" cy="632.69" r="2.4" fill="#8f8f8f" fill-opacity="0.85"/>
<line x1="260.7" y1="760.68" x2="260.7" y2="816.75" stroke="#111" stroke-width="1.5"/>
<line x1="258.3" y1="760.68" x2="263.1" y2="760.68" stroke="#111" stroke-width="1.7"/>
<rect x="255.6" y="816.75" width="10.2" height="83.05" fill="#3A4FA0" stroke="#111" stroke-width="1.5"/>
<line x1="255.6" y1="882.87" x2="265.8" y2="882.87" stroke="#111" stroke-width="2.6"/>
<circle cx="274.2" cy="809.42" r="2.4" fill="#8f8f8f" fill-opacity="0.85"/>
<rect x="269.1" y="896.72" width="10.2" height="3.08" fill="#E9E12B" stroke="#111" stroke-width="1.5"/>
<line x1="269.1" y1="898.33" x2="279.3" y2="898.33" stroke="#111" stroke-width="2.6"/>
<circle cx="288.75" cy="767.79" r="2.4" fill="#8f8f8f" fill-opacity="0.85"/>
<line x1="288.75" y1="826.94" x2="288.75" y2="869.82" stroke="#111" stroke-width="1.5"/>
<line x1="286.35" y1="826.94" x2="291.15" y2="826.94" stroke="#111" stroke-width="1.7"/>
<rect x="283.65" y="869.82" width="10.2" height="29.98" fill="#3A4FA0" stroke="#111" stroke-width="1.5"/>
<line x1="283.65" y1="894.67" x2="293.85" y2="894.67" stroke="#111" stroke-width="2.6"/>
<circle cx="302.25" cy="767.2" r="2.4" fill="#8f8f8f" fill-opacity="0.85"/>
<line x1="302.25" y1="871.21" x2="302.25" y2="874.88" stroke="#111" stroke-width="1.5"/>
<line x1="299.85" y1="871.21" x2="304.65" y2="871.21" stroke="#111" stroke-width="1.7"/>
<line x1="302.25" y1="899.07" x2="302.25" y2="899.8" stroke="#111" stroke-width="1.5"/>
<line x1="299.85" y1="899.8" x2="304.65" y2="899.8" stroke="#111" stroke-width="1.7"/>
<rect x="297.15" y="874.88" width="10.2" height="24.19" fill="#E9E12B" stroke="#111" stroke-width="1.5"/>
<line x1="297.15" y1="892.25" x2="307.35" y2="892.25" stroke="#111" stroke-width="2.6"/>
<circle cx="316.8" cy="697.2" r="2.4" fill="#8f8f8f" fill-opacity="0.85"/>
<line x1="316.8" y1="840.65" x2="316.8" y2="852.89" stroke="#111" stroke-width="1.5"/>
<line x1="314.4" y1="840.65" x2="319.2" y2="840.65" stroke="#111" stroke-width="1.7"/>
<rect x="311.7" y="852.89" width="10.2" height="46.91" fill="#3A4FA0" stroke="#111" stroke-width="1.5"/>
<line x1="311.7" y1="899.8" x2="321.9" y2="899.8" stroke="#111" stroke-width="2.6"/>
<line x1="330.3" y1="750.85" x2="330.3" y2="766.17" stroke="#111" stroke-width="1.5"/>
<line x1="327.9" y1="750.85" x2="332.7" y2="750.85" stroke="#111" stroke-width="1.7"/>
<line x1="330.3" y1="882.43" x2="330.3" y2="899.8" stroke="#111" stroke-width="1.5"/>
<line x1="327.9" y1="899.8" x2="332.7" y2="899.8" stroke="#111" stroke-width="1.7"/>
<rect x="325.2" y="766.17" width="10.2" height="116.25" fill="#E9E12B" stroke="#111" stroke-width="1.5"/>
<line x1="325.2" y1="818.8" x2="335.4" y2="818.8" stroke="#111" stroke-width="2.6"/>
<line x1="344.85" y1="750.85" x2="344.85" y2="833.9" stroke="#111" stroke-width="1.5"/>
<line x1="342.45" y1="750.85" x2="347.25" y2="750.85" stroke="#111" stroke-width="1.7"/>
<rect x="339.75" y="833.9" width="10.2" height="65.9" fill="#3A4FA0" stroke="#111" stroke-width="1.5"/>
<line x1="339.75" y1="894.67" x2="349.95" y2="894.67" stroke="#111" stroke-width="2.6"/>
<circle cx="358.35" cy="870.19" r="2.4" fill="#8f8f8f" fill-opacity="0.85"/>
<rect x="353.25" y="899.8" width="10.2" height="0.01" fill="#E9E12B" stroke="#111" stroke-width="1.5"/>
<line x1="353.25" y1="899.8" x2="363.45" y2="899.8" stroke="#111" stroke-width="2.6"/>
<circle cx="372.9" cy="794.32" r="2.4" fill="#8f8f8f" fill-opacity="0.85"/>
<line x1="372.9" y1="832.44" x2="372.9" y2="865.5" stroke="#111" stroke-width="1.5"/>
<line x1="370.5" y1="832.44" x2="375.3" y2="832.44" stroke="#111" stroke-width="1.7"/>
<rect x="367.8" y="865.5" width="10.2" height="34.3" fill="#3A4FA0" stroke="#111" stroke-width="1.5"/>
<line x1="367.8" y1="899.8" x2="378" y2="899.8" stroke="#111" stroke-width="2.6"/>
<circle cx="386.4" cy="709.66" r="2.4" fill="#8f8f8f" fill-opacity="0.85"/>
<line x1="386.4" y1="816.16" x2="386.4" y2="826.94" stroke="#111" stroke-width="1.5"/>
<line x1="384" y1="816.16" x2="388.8" y2="816.16" stroke="#111" stroke-width="1.7"/>
<line x1="386.4" y1="891" x2="386.4" y2="899.8" stroke="#111" stroke-width="1.5"/>
<line x1="384" y1="899.8" x2="388.8" y2="899.8" stroke="#111" stroke-width="1.7"/>
<rect x="381.3" y="826.94" width="10.2" height="64.06" fill="#E9E12B" stroke="#111" stroke-width="1.5"/>
<line x1="381.3" y1="862.05" x2="391.5" y2="862.05" stroke="#111" stroke-width="2.6"/>
<line x1="400.95" y1="794.69" x2="400.95" y2="841.67" stroke="#111" stroke-width="1.5"/>
<line x1="398.55" y1="794.69" x2="403.35" y2="794.69" stroke="#111" stroke-width="1.7"/>
<rect x="395.85" y="841.67" width="10.2" height="58.13" fill="#3A4FA0" stroke="#111" stroke-width="1.5"/>
<line x1="395.85" y1="896.87" x2="406.05" y2="896.87" stroke="#111" stroke-width="2.6"/>
<circle cx="414.45" cy="858.97" r="2.4" fill="#8f8f8f" fill-opacity="0.85"/>
<rect x="409.35" y="899.8" width="10.2" height="0.01" fill="#E9E12B" stroke="#111" stroke-width="1.5"/>
<line x1="409.35" y1="899.8" x2="419.55" y2="899.8" stroke="#111" stroke-width="2.6"/>
<line x1="429" y1="783.47" x2="429" y2="841.23" stroke="#111" stroke-width="1.5"/>
<line x1="426.6" y1="783.47" x2="431.4" y2="783.47" stroke="#111" stroke-width="1.7"/>
<rect x="423.9" y="841.23" width="10.2" height="58.57" fill="#3A4FA0" stroke="#111" stroke-width="1.5"/>
<line x1="423.9" y1="875.32" x2="434.1" y2="875.32" stroke="#111" stroke-width="2.6"/>
<circle cx="442.5" cy="881.47" r="2.4" fill="#8f8f8f" fill-opacity="0.85"/>
<rect x="437.4" y="895.11" width="10.2" height="4.69" fill="#E9E12B" stroke="#111" stroke-width="1.5"/>
<line x1="437.4" y1="897.6" x2="447.6" y2="897.6" stroke="#111" stroke-width="2.6"/>
<circle cx="457.05" cy="688.18" r="2.4" fill="#8f8f8f" fill-opacity="0.85"/>
<line x1="457.05" y1="741.25" x2="457.05" y2="833.46" stroke="#111" stroke-width="1.5"/>
<line x1="454.65" y1="741.25" x2="459.45" y2="741.25" stroke="#111" stroke-width="1.7"/>
<rect x="451.95" y="833.46" width="10.2" height="66.34" fill="#3A4FA0" stroke="#111" stroke-width="1.5"/>
<line x1="451.95" y1="865.72" x2="462.15" y2="865.72" stroke="#111" stroke-width="2.6"/>
<circle cx="470.55" cy="804.95" r="2.4" fill="#8f8f8f" fill-opacity="0.85"/>
<line x1="470.55" y1="876.34" x2="470.55" y2="882.43" stroke="#111" stroke-width="1.5"/>
<line x1="468.15" y1="876.34" x2="472.95" y2="876.34" stroke="#111" stroke-width="1.7"/>
<rect x="465.45" y="882.43" width="10.2" height="17.37" fill="#E9E12B" stroke="#111" stroke-width="1.5"/>
<line x1="465.45" y1="899.8" x2="475.65" y2="899.8" stroke="#111" stroke-width="2.6"/>
<circle cx="485.1" cy="736.19" r="2.4" fill="#8f8f8f" fill-opacity="0.85"/>
<circle cx="485.1" cy="817.56" r="2.4" fill="#8f8f8f" fill-opacity="0.85"/>
<line x1="485.1" y1="850.84" x2="485.1" y2="872.24" stroke="#111" stroke-width="1.5"/>
<line x1="482.7" y1="850.84" x2="487.5" y2="850.84" stroke="#111" stroke-width="1.7"/>
<rect x="480" y="872.24" width="10.2" height="27.56" fill="#3A4FA0" stroke="#111" stroke-width="1.5"/>
<line x1="480" y1="895.7" x2="490.2" y2="895.7" stroke="#111" stroke-width="2.6"/>
<line x1="498.6" y1="786.18" x2="498.6" y2="845.12" stroke="#111" stroke-width="1.5"/>
<line x1="496.2" y1="786.18" x2="501" y2="786.18" stroke="#111" stroke-width="1.7"/>
<rect x="493.5" y="845.12" width="10.2" height="54.68" fill="#E9E12B" stroke="#111" stroke-width="1.5"/>
<line x1="493.5" y1="888.15" x2="503.7" y2="888.15" stroke="#111" stroke-width="2.6"/>
<circle cx="513.15" cy="871.65" r="2.4" fill="#8f8f8f" fill-opacity="0.85"/>
<line x1="513.15" y1="880.45" x2="513.15" y2="892.03" stroke="#111" stroke-width="1.5"/>
<line x1="510.75" y1="880.45" x2="515.55" y2="880.45" stroke="#111" stroke-width="1.7"/>
<rect x="508.05" y="892.03" width="10.2" height="7.77" fill="#3A4FA0" stroke="#111" stroke-width="1.5"/>
<line x1="508.05" y1="899.8" x2="518.25" y2="899.8" stroke="#111" stroke-width="2.6"/>
<line x1="526.65" y1="824.74" x2="526.65" y2="835.15" stroke="#111" stroke-width="1.5"/>
<line x1="524.25" y1="824.74" x2="529.05" y2="824.74" stroke="#111" stroke-width="1.7"/>
<line x1="526.65" y1="894.67" x2="526.65" y2="899.8" stroke="#111" stroke-width="1.5"/>
<line x1="524.25" y1="899.8" x2="529.05" y2="899.8" stroke="#111" stroke-width="1.7"/>
<rect x="521.55" y="835.15" width="10.2" height="59.52" fill="#E9E12B" stroke="#111" stroke-width="1.5"/>
<line x1="521.55" y1="864.47" x2="531.75" y2="864.47" stroke="#111" stroke-width="2.6"/>
<circle cx="541.2" cy="733.12" r="2.4" fill="#8f8f8f" fill-opacity="0.85"/>
<circle cx="541.2" cy="770.21" r="2.4" fill="#8f8f8f" fill-opacity="0.85"/>
<line x1="541.2" y1="790" x2="541.2" y2="854.5" stroke="#111" stroke-width="1.5"/>
<line x1="538.8" y1="790" x2="543.6" y2="790" stroke="#111" stroke-width="1.7"/>
<rect x="536.1" y="854.5" width="10.2" height="45.3" fill="#3A4FA0" stroke="#111" stroke-width="1.5"/>
<line x1="536.1" y1="899.8" x2="546.3" y2="899.8" stroke="#111" stroke-width="2.6"/>
<line x1="554.7" y1="793.73" x2="554.7" y2="827.38" stroke="#111" stroke-width="1.5"/>
<line x1="552.3" y1="793.73" x2="557.1" y2="793.73" stroke="#111" stroke-width="1.7"/>
<line x1="554.7" y1="893.64" x2="554.7" y2="899.8" stroke="#111" stroke-width="1.5"/>
<line x1="552.3" y1="899.8" x2="557.1" y2="899.8" stroke="#111" stroke-width="1.7"/>
<rect x="549.6" y="827.38" width="10.2" height="66.26" fill="#E9E12B" stroke="#111" stroke-width="1.5"/>
<line x1="549.6" y1="854.28" x2="559.8" y2="854.28" stroke="#111" stroke-width="2.6"/>
<line x1="569.25" y1="804.8" x2="569.25" y2="833.32" stroke="#111" stroke-width="1.5"/>
<line x1="566.85" y1="804.8" x2="571.65" y2="804.8" stroke="#111" stroke-width="1.7"/>
<rect x="564.15" y="833.32" width="10.2" height="66.48" fill="#3A4FA0" stroke="#111" stroke-width="1.5"/>
<line x1="564.15" y1="899.8" x2="574.35" y2="899.8" stroke="#111" stroke-width="2.6"/>
<line x1="582.75" y1="822.1" x2="582.75" y2="841.75" stroke="#111" stroke-width="1.5"/>
<line x1="580.35" y1="822.1" x2="585.15" y2="822.1" stroke="#111" stroke-width="1.7"/>
<line x1="582.75" y1="893.57" x2="582.75" y2="899.8" stroke="#111" stroke-width="1.5"/>
<line x1="580.35" y1="899.8" x2="585.15" y2="899.8" stroke="#111" stroke-width="1.7"/>
<rect x="577.65" y="841.75" width="10.2" height="51.82" fill="#E9E12B" stroke="#111" stroke-width="1.5"/>
<line x1="577.65" y1="864.76" x2="587.85" y2="864.76" stroke="#111" stroke-width="2.6"/>
<circle cx="597.3" cy="789.92" r="2.4" fill="#8f8f8f" fill-opacity="0.85"/>
<line x1="597.3" y1="822.69" x2="597.3" y2="867.11" stroke="#111" stroke-width="1.5"/>
<line x1="594.9" y1="822.69" x2="599.7" y2="822.69" stroke="#111" stroke-width="1.7"/>
<rect x="592.2" y="867.11" width="10.2" height="32.69" fill="#3A4FA0" stroke="#111" stroke-width="1.5"/>
<line x1="592.2" y1="899.8" x2="602.4" y2="899.8" stroke="#111" stroke-width="2.6"/>
<line x1="610.8" y1="814.77" x2="610.8" y2="847.61" stroke="#111" stroke-width="1.5"/>
<line x1="608.4" y1="814.77" x2="613.2" y2="814.77" stroke="#111" stroke-width="1.7"/>
<rect x="605.7" y="847.61" width="10.2" height="52.19" fill="#E9E12B" stroke="#111" stroke-width="1.5"/>
<line x1="605.7" y1="894.3" x2="615.9" y2="894.3" stroke="#111" stroke-width="2.6"/>
<circle cx="625.35" cy="736.63" r="2.4" fill="#8f8f8f" fill-opacity="0.85"/>
<circle cx="625.35" cy="736.19" r="2.4" fill="#8f8f8f" fill-opacity="0.85"/>
<line x1="625.35" y1="787.36" x2="625.35" y2="842.85" stroke="#111" stroke-width="1.5"/>
<line x1="622.95" y1="787.36" x2="627.75" y2="787.36" stroke="#111" stroke-width="1.7"/>
<rect x="620.25" y="842.85" width="10.2" height="56.95" fill="#3A4FA0" stroke="#111" stroke-width="1.5"/>
<line x1="620.25" y1="893.35" x2="630.45" y2="893.35" stroke="#111" stroke-width="2.6"/>
<circle cx="638.85" cy="617.67" r="2.4" fill="#8f8f8f" fill-opacity="0.85"/>
<line x1="638.85" y1="869.75" x2="638.85" y2="872.75" stroke="#111" stroke-width="1.5"/>
<line x1="636.45" y1="869.75" x2="641.25" y2="869.75" stroke="#111" stroke-width="1.7"/>
<rect x="633.75" y="872.75" width="10.2" height="27.05" fill="#E9E12B" stroke="#111" stroke-width="1.5"/>
<line x1="633.75" y1="891.74" x2="643.95" y2="891.74" stroke="#111" stroke-width="2.6"/>
<circle cx="653.4" cy="819.76" r="2.4" fill="#8f8f8f" fill-opacity="0.85"/>
<circle cx="653.4" cy="828.33" r="2.4" fill="#8f8f8f" fill-opacity="0.85"/>
<line x1="653.4" y1="842.85" x2="653.4" y2="875.98" stroke="#111" stroke-width="1.5"/>
<line x1="651" y1="842.85" x2="655.8" y2="842.85" stroke="#111" stroke-width="1.7"/>
<rect x="648.3" y="875.98" width="10.2" height="23.82" fill="#3A4FA0" stroke="#111" stroke-width="1.5"/>
<line x1="648.3" y1="899.8" x2="658.5" y2="899.8" stroke="#111" stroke-width="2.6"/>
<circle cx="666.9" cy="738.54" r="2.4" fill="#8f8f8f" fill-opacity="0.85"/>
<line x1="666.9" y1="880.01" x2="666.9" y2="880.52" stroke="#111" stroke-width="1.5"/>
<line x1="664.5" y1="880.01" x2="669.3" y2="880.01" stroke="#111" stroke-width="1.7"/>
<line x1="666.9" y1="899.07" x2="666.9" y2="899.8" stroke="#111" stroke-width="1.5"/>
<line x1="664.5" y1="899.8" x2="669.3" y2="899.8" stroke="#111" stroke-width="1.7"/>
<rect x="661.8" y="880.52" width="10.2" height="18.54" fill="#E9E12B" stroke="#111" stroke-width="1.5"/>
<line x1="661.8" y1="889.46" x2="672" y2="889.46" stroke="#111" stroke-width="2.6"/>
<circle cx="681.45" cy="813.53" r="2.4" fill="#8f8f8f" fill-opacity="0.85"/>
<line x1="681.45" y1="826.06" x2="681.45" y2="870.19" stroke="#111" stroke-width="1.5"/>
<line x1="679.05" y1="826.06" x2="683.85" y2="826.06" stroke="#111" stroke-width="1.7"/>
<rect x="676.35" y="870.19" width="10.2" height="29.61" fill="#3A4FA0" stroke="#111" stroke-width="1.5"/>
<line x1="676.35" y1="896.57" x2="686.55" y2="896.57" stroke="#111" stroke-width="2.6"/>
<circle cx="694.95" cy="834.42" r="2.4" fill="#8f8f8f" fill-opacity="0.85"/>
<line x1="694.95" y1="891.74" x2="694.95" y2="893.57" stroke="#111" stroke-width="1.5"/>
<line x1="692.55" y1="891.74" x2="697.35" y2="891.74" stroke="#111" stroke-width="1.7"/>
<rect x="689.85" y="893.57" width="10.2" height="6.23" fill="#E9E12B" stroke="#111" stroke-width="1.5"/>
<line x1="689.85" y1="898.33" x2="700.05" y2="898.33" stroke="#111" stroke-width="2.6"/>
<line x1="709.5" y1="808.17" x2="709.5" y2="853.69" stroke="#111" stroke-width="1.5"/>
<line x1="707.1" y1="808.17" x2="711.9" y2="808.17" stroke="#111" stroke-width="1.7"/>
<rect x="704.4" y="853.69" width="10.2" height="46.11" fill="#3A4FA0" stroke="#111" stroke-width="1.5"/>
<line x1="704.4" y1="899.8" x2="714.6" y2="899.8" stroke="#111" stroke-width="2.6"/>
<line x1="723" y1="804.95" x2="723" y2="845.7" stroke="#111" stroke-width="1.5"/>
<line x1="720.6" y1="804.95" x2="725.4" y2="804.95" stroke="#111" stroke-width="1.7"/>
<rect x="717.9" y="845.7" width="10.2" height="54.1" fill="#E9E12B" stroke="#111" stroke-width="1.5"/>
<line x1="717.9" y1="899.8" x2="728.1" y2="899.8" stroke="#111" stroke-width="2.6"/>
<rect x="94.7" y="574.3" width="652.7" height="335.1" fill="none" stroke="#111" stroke-width="2.3"/>
<line x1="85.7" y1="899.8" x2="94.7" y2="899.8" stroke="#111" stroke-width="2.2"/>
<text transform="translate(77.2,905.08) scale(1,1.045)" font-size="13.8" text-anchor="end">0.0</text>
<line x1="85.7" y1="826.5" x2="94.7" y2="826.5" stroke="#111" stroke-width="2.2"/>
<text transform="translate(77.2,831.78) scale(1,1.045)" font-size="13.8" text-anchor="end">0.1</text>
<line x1="85.7" y1="753.2" x2="94.7" y2="753.2" stroke="#111" stroke-width="2.2"/>
<text transform="translate(77.2,758.48) scale(1,1.045)" font-size="13.8" text-anchor="end">0.2</text>
<line x1="85.7" y1="679.9" x2="94.7" y2="679.9" stroke="#111" stroke-width="2.2"/>
<text transform="translate(77.2,685.18) scale(1,1.045)" font-size="13.8" text-anchor="end">0.3</text>
<line x1="85.7" y1="606.6" x2="94.7" y2="606.6" stroke="#111" stroke-width="2.2"/>
<text transform="translate(77.2,611.88) scale(1,1.045)" font-size="13.8" text-anchor="end">0.4</text>
<line x1="127.2" y1="909.4" x2="127.2" y2="918.9" stroke="#111" stroke-width="2.2"/>
<text transform="translate(132.7,934.2) rotate(-45)" font-size="14.2" text-anchor="end">B cells naive</text>
<line x1="155.25" y1="909.4" x2="155.25" y2="918.9" stroke="#111" stroke-width="2.2"/>
<text transform="translate(160.75,934.2) rotate(-45)" font-size="14.2" text-anchor="end">B cells memory</text>
<line x1="183.3" y1="909.4" x2="183.3" y2="918.9" stroke="#111" stroke-width="2.2"/>
<text transform="translate(188.8,934.2) rotate(-45)" font-size="14.2" text-anchor="end">Plasma cells</text>
<line x1="211.35" y1="909.4" x2="211.35" y2="918.9" stroke="#111" stroke-width="2.2"/>
<text transform="translate(216.85,934.2) rotate(-45)" font-size="14.2" text-anchor="end">T cells CD8</text>
<line x1="239.4" y1="909.4" x2="239.4" y2="918.9" stroke="#111" stroke-width="2.2"/>
<text transform="translate(244.9,934.2) rotate(-45)" font-size="14.2" text-anchor="end">T cells CD4 naive</text>
<line x1="267.45" y1="909.4" x2="267.45" y2="918.9" stroke="#111" stroke-width="2.2"/>
<text transform="translate(272.95,934.2) rotate(-45)" font-size="14.2" text-anchor="end">T cells CD4 memory resting</text>
<line x1="295.5" y1="909.4" x2="295.5" y2="918.9" stroke="#111" stroke-width="2.2"/>
<text transform="translate(301,934.2) rotate(-45)" font-size="14.2" text-anchor="end">T cells CD4 memory activated</text>
<line x1="323.55" y1="909.4" x2="323.55" y2="918.9" stroke="#111" stroke-width="2.2"/>
<text transform="translate(329.05,934.2) rotate(-45)" font-size="14.2" text-anchor="end">T cells follicular helper</text>
<line x1="351.6" y1="909.4" x2="351.6" y2="918.9" stroke="#111" stroke-width="2.2"/>
<text transform="translate(357.1,934.2) rotate(-45)" font-size="14.2" text-anchor="end">T cells regulatory (Tregs)</text>
<line x1="379.65" y1="909.4" x2="379.65" y2="918.9" stroke="#111" stroke-width="2.2"/>
<text transform="translate(385.15,934.2) rotate(-45)" font-size="14.2" text-anchor="end">T cells gamma delta</text>
<line x1="407.7" y1="909.4" x2="407.7" y2="918.9" stroke="#111" stroke-width="2.2"/>
<text transform="translate(413.2,934.2) rotate(-45)" font-size="14.2" text-anchor="end">NK cells resting</text>
<line x1="435.75" y1="909.4" x2="435.75" y2="918.9" stroke="#111" stroke-width="2.2"/>
<text transform="translate(441.25,934.2) rotate(-45)" font-size="14.2" text-anchor="end">NK cells activated</text>
<line x1="463.8" y1="909.4" x2="463.8" y2="918.9" stroke="#111" stroke-width="2.2"/>
<text transform="translate(469.3,934.2) rotate(-45)" font-size="14.2" text-anchor="end">Monocytes</text>
<line x1="491.85" y1="909.4" x2="491.85" y2="918.9" stroke="#111" stroke-width="2.2"/>
<text transform="translate(497.35,934.2) rotate(-45)" font-size="14.2" text-anchor="end">Macrophages M0</text>
<line x1="519.9" y1="909.4" x2="519.9" y2="918.9" stroke="#111" stroke-width="2.2"/>
<text transform="translate(525.4,934.2) rotate(-45)" font-size="14.2" text-anchor="end">Macrophages M1</text>
<line x1="547.95" y1="909.4" x2="547.95" y2="918.9" stroke="#111" stroke-width="2.2"/>
<text transform="translate(553.45,934.2) rotate(-45)" font-size="14.2" text-anchor="end">Macrophages M2</text>
<line x1="576" y1="909.4" x2="576" y2="918.9" stroke="#111" stroke-width="2.2"/>
<text transform="translate(581.5,934.2) rotate(-45)" font-size="14.2" text-anchor="end">Dendritic cells resting</text>
<line x1="604.05" y1="909.4" x2="604.05" y2="918.9" stroke="#111" stroke-width="2.2"/>
<text transform="translate(609.55,934.2) rotate(-45)" font-size="14.2" text-anchor="end">Dendritic cells activated</text>
<line x1="632.1" y1="909.4" x2="632.1" y2="918.9" stroke="#111" stroke-width="2.2"/>
<text transform="translate(637.6,934.2) rotate(-45)" font-size="14.2" text-anchor="end">Mast cells resting</text>
<line x1="660.15" y1="909.4" x2="660.15" y2="918.9" stroke="#111" stroke-width="2.2"/>
<text transform="translate(665.65,934.2) rotate(-45)" font-size="14.2" text-anchor="end">Mast cells activated</text>
<line x1="688.2" y1="909.4" x2="688.2" y2="918.9" stroke="#111" stroke-width="2.2"/>
<text transform="translate(693.7,934.2) rotate(-45)" font-size="14.2" text-anchor="end">Eosinophils</text>
<line x1="716.25" y1="909.4" x2="716.25" y2="918.9" stroke="#111" stroke-width="2.2"/>
<text transform="translate(721.75,934.2) rotate(-45)" font-size="14.2" text-anchor="end">Neutrophils</text>
<text transform="translate(439,1072.91) scale(1,1.045)" font-size="26" text-anchor="middle">Different types of immune cells</text>
<text transform="translate(40.5,751) rotate(-90)" font-size="26" text-anchor="middle">proportion</text>
<line x1="770" y1="721.7" x2="770" y2="741.7" stroke="#111" stroke-width="1.4"/>
<rect x="760" y="725.2" width="20" height="13" fill="#3A4FA0" stroke="#111" stroke-width="1.9"/>
<line x1="760" y1="731.7" x2="780" y2="731.7" stroke="#111" stroke-width="2"/>
<text transform="translate(793,737.27) scale(1,1.045)" font-size="13.5">GPL</text>
<line x1="770" y1="746.7" x2="770" y2="766.7" stroke="#111" stroke-width="1.4"/>
<rect x="760" y="750.2" width="20" height="13" fill="#E9E12B" stroke="#111" stroke-width="1.9"/>
<line x1="760" y1="756.7" x2="780" y2="756.7" stroke="#111" stroke-width="2"/>
<text transform="translate(793,762.27) scale(1,1.045)" font-size="13.5">ECG</text>
<g>
<rect x="891.1" y="574.4" width="662" height="337.9" fill="#ffffff"/>
<line x1="891.1" y1="868.08" x2="1553.1" y2="868.08" stroke="#EEEEEE" stroke-width="1.2"/>
<line x1="891.1" y1="798.83" x2="1553.1" y2="798.83" stroke="#EEEEEE" stroke-width="1.2"/>
<line x1="891.1" y1="729.58" x2="1553.1" y2="729.58" stroke="#EEEEEE" stroke-width="1.2"/>
<line x1="891.1" y1="660.33" x2="1553.1" y2="660.33" stroke="#EEEEEE" stroke-width="1.2"/>
<line x1="891.1" y1="591.08" x2="1553.1" y2="591.08" stroke="#EEEEEE" stroke-width="1.2"/>
<line x1="891.1" y1="902.7" x2="1553.1" y2="902.7" stroke="#EBEBEB" stroke-width="2.6"/>
<line x1="891.1" y1="833.45" x2="1553.1" y2="833.45" stroke="#EBEBEB" stroke-width="2.6"/>
<line x1="891.1" y1="764.2" x2="1553.1" y2="764.2" stroke="#EBEBEB" stroke-width="2.6"/>
<line x1="891.1" y1="694.95" x2="1553.1" y2="694.95" stroke="#EBEBEB" stroke-width="2.6"/>
<line x1="891.1" y1="625.7" x2="1553.1" y2="625.7" stroke="#EBEBEB" stroke-width="2.6"/>
<line x1="924.3" y1="574.4" x2="924.3" y2="912.3" stroke="#EBEBEB" stroke-width="2.6"/>
<line x1="952.7" y1="574.4" x2="952.7" y2="912.3" stroke="#EBEBEB" stroke-width="2.6"/>
<line x1="981.1" y1="574.4" x2="981.1" y2="912.3" stroke="#EBEBEB" stroke-width="2.6"/>
<line x1="1009.5" y1="574.4" x2="1009.5" y2="912.3" stroke="#EBEBEB" stroke-width="2.6"/>
<line x1="1037.9" y1="574.4" x2="1037.9" y2="912.3" stroke="#EBEBEB" stroke-width="2.6"/>
<line x1="1066.3" y1="574.4" x2="1066.3" y2="912.3" stroke="#EBEBEB" stroke-width="2.6"/>
<line x1="1094.7" y1="574.4" x2="1094.7" y2="912.3" stroke="#EBEBEB" stroke-width="2.6"/>
<line x1="1123.1" y1="574.4" x2="1123.1" y2="912.3" stroke="#EBEBEB" stroke-width="2.6"/>
<line x1="1151.5" y1="574.4" x2="1151.5" y2="912.3" stroke="#EBEBEB" stroke-width="2.6"/>
<line x1="1179.9" y1="574.4" x2="1179.9" y2="912.3" stroke="#EBEBEB" stroke-width="2.6"/>
<line x1="1208.3" y1="574.4" x2="1208.3" y2="912.3" stroke="#EBEBEB" stroke-width="2.6"/>
<line x1="1236.7" y1="574.4" x2="1236.7" y2="912.3" stroke="#EBEBEB" stroke-width="2.6"/>
<line x1="1265.1" y1="574.4" x2="1265.1" y2="912.3" stroke="#EBEBEB" stroke-width="2.6"/>
<line x1="1293.5" y1="574.4" x2="1293.5" y2="912.3" stroke="#EBEBEB" stroke-width="2.6"/>
<line x1="1321.9" y1="574.4" x2="1321.9" y2="912.3" stroke="#EBEBEB" stroke-width="2.6"/>
<line x1="1350.3" y1="574.4" x2="1350.3" y2="912.3" stroke="#EBEBEB" stroke-width="2.6"/>
<line x1="1378.7" y1="574.4" x2="1378.7" y2="912.3" stroke="#EBEBEB" stroke-width="2.6"/>
<line x1="1407.1" y1="574.4" x2="1407.1" y2="912.3" stroke="#EBEBEB" stroke-width="2.6"/>
<line x1="1435.5" y1="574.4" x2="1435.5" y2="912.3" stroke="#EBEBEB" stroke-width="2.6"/>
<line x1="1463.9" y1="574.4" x2="1463.9" y2="912.3" stroke="#EBEBEB" stroke-width="2.6"/>
<line x1="1492.3" y1="574.4" x2="1492.3" y2="912.3" stroke="#EBEBEB" stroke-width="2.6"/>
<line x1="1520.7" y1="574.4" x2="1520.7" y2="912.3" stroke="#EBEBEB" stroke-width="2.6"/>
<line x1="938.5" y1="574.4" x2="938.5" y2="912.3" stroke="#EEEEEE" stroke-width="1.2"/>
<line x1="966.9" y1="574.4" x2="966.9" y2="912.3" stroke="#EEEEEE" stroke-width="1.2"/>
<line x1="995.3" y1="574.4" x2="995.3" y2="912.3" stroke="#EEEEEE" stroke-width="1.2"/>
<line x1="1023.7" y1="574.4" x2="1023.7" y2="912.3" stroke="#EEEEEE" stroke-width="1.2"/>
<line x1="1052.1" y1="574.4" x2="1052.1" y2="912.3" stroke="#EEEEEE" stroke-width="1.2"/>
<line x1="1080.5" y1="574.4" x2="1080.5" y2="912.3" stroke="#EEEEEE" stroke-width="1.2"/>
<line x1="1108.9" y1="574.4" x2="1108.9" y2="912.3" stroke="#EEEEEE" stroke-width="1.2"/>
<line x1="1137.3" y1="574.4" x2="1137.3" y2="912.3" stroke="#EEEEEE" stroke-width="1.2"/>
<line x1="1165.7" y1="574.4" x2="1165.7" y2="912.3" stroke="#EEEEEE" stroke-width="1.2"/>
<line x1="1194.1" y1="574.4" x2="1194.1" y2="912.3" stroke="#EEEEEE" stroke-width="1.2"/>
<line x1="1222.5" y1="574.4" x2="1222.5" y2="912.3" stroke="#EEEEEE" stroke-width="1.2"/>
<line x1="1250.9" y1="574.4" x2="1250.9" y2="912.3" stroke="#EEEEEE" stroke-width="1.2"/>
<line x1="1279.3" y1="574.4" x2="1279.3" y2="912.3" stroke="#EEEEEE" stroke-width="1.2"/>
<line x1="1307.7" y1="574.4" x2="1307.7" y2="912.3" stroke="#EEEEEE" stroke-width="1.2"/>
<line x1="1336.1" y1="574.4" x2="1336.1" y2="912.3" stroke="#EEEEEE" stroke-width="1.2"/>
<line x1="1364.5" y1="574.4" x2="1364.5" y2="912.3" stroke="#EEEEEE" stroke-width="1.2"/>
<line x1="1392.9" y1="574.4" x2="1392.9" y2="912.3" stroke="#EEEEEE" stroke-width="1.2"/>
<line x1="1421.3" y1="574.4" x2="1421.3" y2="912.3" stroke="#EEEEEE" stroke-width="1.2"/>
<line x1="1449.7" y1="574.4" x2="1449.7" y2="912.3" stroke="#EEEEEE" stroke-width="1.2"/>
<line x1="1478.1" y1="574.4" x2="1478.1" y2="912.3" stroke="#EEEEEE" stroke-width="1.2"/>
<line x1="1506.5" y1="574.4" x2="1506.5" y2="912.3" stroke="#EEEEEE" stroke-width="1.2"/>
</g>
<rect x="912.5" y="902.7" width="10.4" height="0.01" fill="#3A4FA0" stroke="#111" stroke-width="1.5"/>
<line x1="912.5" y1="902.7" x2="922.9" y2="902.7" stroke="#111" stroke-width="2.6"/>
<circle cx="930.9" cy="869.25" r="2.4" fill="#8f8f8f" fill-opacity="0.85"/>
<circle cx="930.9" cy="879.99" r="2.4" fill="#8f8f8f" fill-opacity="0.85"/>
<circle cx="930.9" cy="882.76" r="2.4" fill="#8f8f8f" fill-opacity="0.85"/>
<line x1="930.9" y1="889.2" x2="930.9" y2="894.74" stroke="#111" stroke-width="1.5"/>
<line x1="928.5" y1="889.2" x2="933.3" y2="889.2" stroke="#111" stroke-width="1.7"/>
<rect x="925.7" y="894.74" width="10.4" height="7.96" fill="#E9E12B" stroke="#111" stroke-width="1.5"/>
<line x1="925.7" y1="902.7" x2="936.1" y2="902.7" stroke="#111" stroke-width="2.6"/>
<line x1="946.1" y1="766.28" x2="946.1" y2="786.01" stroke="#111" stroke-width="1.5"/>
<line x1="943.7" y1="766.28" x2="948.5" y2="766.28" stroke="#111" stroke-width="1.7"/>
<line x1="946.1" y1="891.97" x2="946.1" y2="902.7" stroke="#111" stroke-width="1.5"/>
<line x1="943.7" y1="902.7" x2="948.5" y2="902.7" stroke="#111" stroke-width="1.7"/>
<rect x="940.9" y="786.01" width="10.4" height="105.95" fill="#3A4FA0" stroke="#111" stroke-width="1.5"/>
<line x1="940.9" y1="850.9" x2="951.3" y2="850.9" stroke="#111" stroke-width="2.6"/>
<circle cx="959.3" cy="725" r="2.4" fill="#8f8f8f" fill-opacity="0.85"/>
<line x1="959.3" y1="772.37" x2="959.3" y2="831.86" stroke="#111" stroke-width="1.5"/>
<line x1="956.9" y1="772.37" x2="961.7" y2="772.37" stroke="#111" stroke-width="1.7"/>
<line x1="959.3" y1="875.35" x2="959.3" y2="902.01" stroke="#111" stroke-width="1.5"/>
<line x1="956.9" y1="902.01" x2="961.7" y2="902.01" stroke="#111" stroke-width="1.7"/>
<rect x="954.1" y="831.86" width="10.4" height="43.49" fill="#E9E12B" stroke="#111" stroke-width="1.5"/>
<line x1="954.1" y1="850.9" x2="964.5" y2="850.9" stroke="#111" stroke-width="2.6"/>
<line x1="974.5" y1="821.12" x2="974.5" y2="827.63" stroke="#111" stroke-width="1.5"/>
<line x1="972.1" y1="821.12" x2="976.9" y2="821.12" stroke="#111" stroke-width="1.7"/>
<line x1="974.5" y1="861.5" x2="974.5" y2="876.66" stroke="#111" stroke-width="1.5"/>
<line x1="972.1" y1="876.66" x2="976.9" y2="876.66" stroke="#111" stroke-width="1.7"/>
<rect x="969.3" y="827.63" width="10.4" height="33.86" fill="#3A4FA0" stroke="#111" stroke-width="1.5"/>
<line x1="969.3" y1="844.81" x2="979.7" y2="844.81" stroke="#111" stroke-width="2.6"/>
<circle cx="987.7" cy="715.93" r="2.4" fill="#8f8f8f" fill-opacity="0.85"/>
<line x1="987.7" y1="776.8" x2="987.7" y2="816.69" stroke="#111" stroke-width="1.5"/>
<line x1="985.3" y1="776.8" x2="990.1" y2="776.8" stroke="#111" stroke-width="1.7"/>
<line x1="987.7" y1="856.86" x2="987.7" y2="896.26" stroke="#111" stroke-width="1.5"/>
<line x1="985.3" y1="896.26" x2="990.1" y2="896.26" stroke="#111" stroke-width="1.7"/>
<rect x="982.5" y="816.69" width="10.4" height="40.17" fill="#E9E12B" stroke="#111" stroke-width="1.5"/>
<line x1="982.5" y1="847.58" x2="992.9" y2="847.58" stroke="#111" stroke-width="2.6"/>
<circle cx="1002.9" cy="768.63" r="2.4" fill="#8f8f8f" fill-opacity="0.85"/>
<line x1="1002.9" y1="813.78" x2="1002.9" y2="828.19" stroke="#111" stroke-width="1.5"/>
<line x1="1000.5" y1="813.78" x2="1005.3" y2="813.78" stroke="#111" stroke-width="1.7"/>
<line x1="1002.9" y1="862.05" x2="1002.9" y2="864.27" stroke="#111" stroke-width="1.5"/>
<line x1="1000.5" y1="864.27" x2="1005.3" y2="864.27" stroke="#111" stroke-width="1.7"/>
<rect x="997.7" y="828.19" width="10.4" height="33.86" fill="#3A4FA0" stroke="#111" stroke-width="1.5"/>
<line x1="997.7" y1="858.66" x2="1008.1" y2="858.66" stroke="#111" stroke-width="2.6"/>
<line x1="1016.1" y1="722.23" x2="1016.1" y2="788.78" stroke="#111" stroke-width="1.5"/>
<line x1="1013.7" y1="722.23" x2="1018.5" y2="722.23" stroke="#111" stroke-width="1.7"/>
<line x1="1016.1" y1="843.91" x2="1016.1" y2="885.87" stroke="#111" stroke-width="1.5"/>
<line x1="1013.7" y1="885.87" x2="1018.5" y2="885.87" stroke="#111" stroke-width="1.7"/>
<rect x="1010.9" y="788.78" width="10.4" height="55.12" fill="#E9E12B" stroke="#111" stroke-width="1.5"/>
<line x1="1010.9" y1="815.58" x2="1021.3" y2="815.58" stroke="#111" stroke-width="2.6"/>
<circle cx="1031.3" cy="900.62" r="2.4" fill="#8f8f8f" fill-opacity="0.85"/>
<rect x="1026.1" y="902.7" width="10.4" height="0.01" fill="#3A4FA0" stroke="#111" stroke-width="1.5"/>
<line x1="1026.1" y1="902.7" x2="1036.5" y2="902.7" stroke="#111" stroke-width="2.6"/>
<rect x="1039.3" y="902.7" width="10.4" height="0.01" fill="#E9E12B" stroke="#111" stroke-width="1.5"/>
<line x1="1039.3" y1="902.7" x2="1049.7" y2="902.7" stroke="#111" stroke-width="2.6"/>
<line x1="1059.7" y1="584.08" x2="1059.7" y2="685.46" stroke="#111" stroke-width="1.5"/>
<line x1="1057.3" y1="584.08" x2="1062.1" y2="584.08" stroke="#111" stroke-width="1.7"/>
<line x1="1059.7" y1="763.44" x2="1059.7" y2="805.96" stroke="#111" stroke-width="1.5"/>
<line x1="1057.3" y1="805.96" x2="1062.1" y2="805.96" stroke="#111" stroke-width="1.7"/>
<rect x="1054.5" y="685.46" width="10.4" height="77.98" fill="#3A4FA0" stroke="#111" stroke-width="1.5"/>
<line x1="1054.5" y1="726.87" x2="1064.9" y2="726.87" stroke="#111" stroke-width="2.6"/>
<line x1="1072.9" y1="682.62" x2="1072.9" y2="727.43" stroke="#111" stroke-width="1.5"/>
<line x1="1070.5" y1="682.62" x2="1075.3" y2="682.62" stroke="#111" stroke-width="1.7"/>
<line x1="1072.9" y1="795.85" x2="1072.9" y2="878.12" stroke="#111" stroke-width="1.5"/>
<line x1="1070.5" y1="878.12" x2="1075.3" y2="878.12" stroke="#111" stroke-width="1.7"/>
<rect x="1067.7" y="727.43" width="10.4" height="68.42" fill="#E9E12B" stroke="#111" stroke-width="1.5"/>
<line x1="1067.7" y1="761.64" x2="1078.1" y2="761.64" stroke="#111" stroke-width="2.6"/>
<circle cx="1088.1" cy="845.78" r="2.4" fill="#8f8f8f" fill-opacity="0.85"/>
<line x1="1088.1" y1="890.1" x2="1088.1" y2="894.74" stroke="#111" stroke-width="1.5"/>
<line x1="1085.7" y1="890.1" x2="1090.5" y2="890.1" stroke="#111" stroke-width="1.7"/>
<line x1="1088.1" y1="902.01" x2="1088.1" y2="902.7" stroke="#111" stroke-width="1.5"/>
<line x1="1085.7" y1="902.7" x2="1090.5" y2="902.7" stroke="#111" stroke-width="1.7"/>
<rect x="1082.9" y="894.74" width="10.4" height="7.27" fill="#3A4FA0" stroke="#111" stroke-width="1.5"/>
<line x1="1082.9" y1="898.82" x2="1093.3" y2="898.82" stroke="#111" stroke-width="2.6"/>
<line x1="1101.3" y1="805.06" x2="1101.3" y2="852.56" stroke="#111" stroke-width="1.5"/>
<line x1="1098.9" y1="805.06" x2="1103.7" y2="805.06" stroke="#111" stroke-width="1.7"/>
<line x1="1101.3" y1="898.82" x2="1101.3" y2="902.01" stroke="#111" stroke-width="1.5"/>
<line x1="1098.9" y1="902.01" x2="1103.7" y2="902.01" stroke="#111" stroke-width="1.7"/>
<rect x="1096.1" y="852.56" width="10.4" height="46.26" fill="#E9E12B" stroke="#111" stroke-width="1.5"/>
<line x1="1096.1" y1="873.48" x2="1106.5" y2="873.48" stroke="#111" stroke-width="2.6"/>
<circle cx="1116.5" cy="866.07" r="2.4" fill="#8f8f8f" fill-opacity="0.85"/>
<line x1="1116.5" y1="891.97" x2="1116.5" y2="893.84" stroke="#111" stroke-width="1.5"/>
<line x1="1114.1" y1="891.97" x2="1118.9" y2="891.97" stroke="#111" stroke-width="1.7"/>
<rect x="1111.3" y="893.84" width="10.4" height="8.86" fill="#3A4FA0" stroke="#111" stroke-width="1.5"/>
<line x1="1111.3" y1="902.7" x2="1121.7" y2="902.7" stroke="#111" stroke-width="2.6"/>
<circle cx="1129.7" cy="854.99" r="2.4" fill="#8f8f8f" fill-opacity="0.85"/>
<line x1="1129.7" y1="870.71" x2="1129.7" y2="887.74" stroke="#111" stroke-width="1.5"/>
<line x1="1127.3" y1="870.71" x2="1132.1" y2="870.71" stroke="#111" stroke-width="1.7"/>
<rect x="1124.5" y="887.74" width="10.4" height="14.96" fill="#E9E12B" stroke="#111" stroke-width="1.5"/>
<line x1="1124.5" y1="902.7" x2="1134.9" y2="902.7" stroke="#111" stroke-width="2.6"/>
<circle cx="1144.9" cy="885.11" r="2.4" fill="#8f8f8f" fill-opacity="0.85"/>
<line x1="1144.9" y1="899.24" x2="1144.9" y2="900.28" stroke="#111" stroke-width="1.5"/>
<line x1="1142.5" y1="899.24" x2="1147.3" y2="899.24" stroke="#111" stroke-width="1.7"/>
<rect x="1139.7" y="900.28" width="10.4" height="2.42" fill="#3A4FA0" stroke="#111" stroke-width="1.5"/>
<line x1="1139.7" y1="902.01" x2="1150.1" y2="902.01" stroke="#111" stroke-width="2.6"/>
<line x1="1158.1" y1="891.97" x2="1158.1" y2="897.51" stroke="#111" stroke-width="1.5"/>
<line x1="1155.7" y1="891.97" x2="1160.5" y2="891.97" stroke="#111" stroke-width="1.7"/>
<rect x="1152.9" y="897.51" width="10.4" height="5.19" fill="#E9E12B" stroke="#111" stroke-width="1.5"/>
<line x1="1152.9" y1="902.7" x2="1163.3" y2="902.7" stroke="#111" stroke-width="2.6"/>
<line x1="1173.3" y1="843.91" x2="1173.3" y2="847.58" stroke="#111" stroke-width="1.5"/>
<line x1="1170.9" y1="843.91" x2="1175.7" y2="843.91" stroke="#111" stroke-width="1.7"/>
<line x1="1173.3" y1="857.2" x2="1173.3" y2="867.38" stroke="#111" stroke-width="1.5"/>
<line x1="1170.9" y1="867.38" x2="1175.7" y2="867.38" stroke="#111" stroke-width="1.7"/>
<rect x="1168.1" y="847.58" width="10.4" height="9.63" fill="#3A4FA0" stroke="#111" stroke-width="1.5"/>
<line x1="1168.1" y1="851.87" x2="1178.5" y2="851.87" stroke="#111" stroke-width="2.6"/>
<line x1="1186.5" y1="810.04" x2="1186.5" y2="860.53" stroke="#111" stroke-width="1.5"/>
<line x1="1184.1" y1="810.04" x2="1188.9" y2="810.04" stroke="#111" stroke-width="1.7"/>
<line x1="1186.5" y1="895.71" x2="1186.5" y2="902.7" stroke="#111" stroke-width="1.5"/>
<line x1="1184.1" y1="902.7" x2="1188.9" y2="902.7" stroke="#111" stroke-width="1.7"/>
<rect x="1181.3" y="860.53" width="10.4" height="35.18" fill="#E9E12B" stroke="#111" stroke-width="1.5"/>
<line x1="1181.3" y1="868.49" x2="1191.7" y2="868.49" stroke="#111" stroke-width="2.6"/>
<rect x="1196.5" y="902.7" width="10.4" height="0.01" fill="#3A4FA0" stroke="#111" stroke-width="1.5"/>
<line x1="1196.5" y1="902.7" x2="1206.9" y2="902.7" stroke="#111" stroke-width="2.6"/>
<rect x="1209.7" y="902.7" width="10.4" height="0.01" fill="#E9E12B" stroke="#111" stroke-width="1.5"/>
<line x1="1209.7" y1="902.7" x2="1220.1" y2="902.7" stroke="#111" stroke-width="2.6"/>
<circle cx="1230.1" cy="813.37" r="2.4" fill="#8f8f8f" fill-opacity="0.85"/>
<line x1="1230.1" y1="845.36" x2="1230.1" y2="863.71" stroke="#111" stroke-width="1.5"/>
<line x1="1227.7" y1="845.36" x2="1232.5" y2="845.36" stroke="#111" stroke-width="1.7"/>
<line x1="1230.1" y1="885.87" x2="1230.1" y2="902.7" stroke="#111" stroke-width="1.5"/>
<line x1="1227.7" y1="902.7" x2="1232.5" y2="902.7" stroke="#111" stroke-width="1.7"/>
<rect x="1224.9" y="863.71" width="10.4" height="22.16" fill="#3A4FA0" stroke="#111" stroke-width="1.5"/>
<line x1="1224.9" y1="878.46" x2="1235.3" y2="878.46" stroke="#111" stroke-width="2.6"/>
<circle cx="1243.3" cy="769.95" r="2.4" fill="#8f8f8f" fill-opacity="0.85"/>
<line x1="1243.3" y1="830.96" x2="1243.3" y2="844.81" stroke="#111" stroke-width="1.5"/>
<line x1="1240.9" y1="830.96" x2="1245.7" y2="830.96" stroke="#111" stroke-width="1.7"/>
<line x1="1243.3" y1="891.41" x2="1243.3" y2="902.7" stroke="#111" stroke-width="1.5"/>
<line x1="1240.9" y1="902.7" x2="1245.7" y2="902.7" stroke="#111" stroke-width="1.7"/>
<rect x="1238.1" y="844.81" width="10.4" height="46.61" fill="#E9E12B" stroke="#111" stroke-width="1.5"/>
<line x1="1238.1" y1="879.02" x2="1248.5" y2="879.02" stroke="#111" stroke-width="2.6"/>
<rect x="1253.3" y="902.7" width="10.4" height="0.01" fill="#3A4FA0" stroke="#111" stroke-width="1.5"/>
<line x1="1253.3" y1="902.7" x2="1263.7" y2="902.7" stroke="#111" stroke-width="2.6"/>
<circle cx="1271.7" cy="900.62" r="2.4" fill="#8f8f8f" fill-opacity="0.85"/>
<rect x="1266.5" y="902.7" width="10.4" height="0.01" fill="#E9E12B" stroke="#111" stroke-width="1.5"/>
<line x1="1266.5" y1="902.7" x2="1276.9" y2="902.7" stroke="#111" stroke-width="2.6"/>
<circle cx="1286.9" cy="760.11" r="2.4" fill="#8f8f8f" fill-opacity="0.85"/>
<line x1="1286.9" y1="801.39" x2="1286.9" y2="837.81" stroke="#111" stroke-width="1.5"/>
<line x1="1284.5" y1="801.39" x2="1289.3" y2="801.39" stroke="#111" stroke-width="1.7"/>
<line x1="1286.9" y1="874.03" x2="1286.9" y2="883.66" stroke="#111" stroke-width="1.5"/>
<line x1="1284.5" y1="883.66" x2="1289.3" y2="883.66" stroke="#111" stroke-width="1.7"/>
<rect x="1281.7" y="837.81" width="10.4" height="36.22" fill="#3A4FA0" stroke="#111" stroke-width="1.5"/>
<line x1="1281.7" y1="855.89" x2="1292.1" y2="855.89" stroke="#111" stroke-width="2.6"/>
<line x1="1300.1" y1="777.7" x2="1300.1" y2="815.58" stroke="#111" stroke-width="1.5"/>
<line x1="1297.7" y1="777.7" x2="1302.5" y2="777.7" stroke="#111" stroke-width="1.7"/>
<line x1="1300.1" y1="855.89" x2="1300.1" y2="883.66" stroke="#111" stroke-width="1.5"/>
<line x1="1297.7" y1="883.66" x2="1302.5" y2="883.66" stroke="#111" stroke-width="1.7"/>
<rect x="1294.9" y="815.58" width="10.4" height="40.3" fill="#E9E12B" stroke="#111" stroke-width="1.5"/>
<line x1="1294.9" y1="841.48" x2="1305.3" y2="841.48" stroke="#111" stroke-width="2.6"/>
<line x1="1315.3" y1="848.55" x2="1315.3" y2="857.76" stroke="#111" stroke-width="1.5"/>
<line x1="1312.9" y1="848.55" x2="1317.7" y2="848.55" stroke="#111" stroke-width="1.7"/>
<line x1="1315.3" y1="888.3" x2="1315.3" y2="895.71" stroke="#111" stroke-width="1.5"/>
<line x1="1312.9" y1="895.71" x2="1317.7" y2="895.71" stroke="#111" stroke-width="1.7"/>
<rect x="1310.1" y="857.76" width="10.4" height="30.54" fill="#3A4FA0" stroke="#111" stroke-width="1.5"/>
<line x1="1310.1" y1="874.38" x2="1320.5" y2="874.38" stroke="#111" stroke-width="2.6"/>
<line x1="1328.5" y1="830.06" x2="1328.5" y2="853.12" stroke="#111" stroke-width="1.5"/>
<line x1="1326.1" y1="830.06" x2="1330.9" y2="830.06" stroke="#111" stroke-width="1.7"/>
<line x1="1328.5" y1="882.76" x2="1328.5" y2="902.01" stroke="#111" stroke-width="1.5"/>
<line x1="1326.1" y1="902.01" x2="1330.9" y2="902.01" stroke="#111" stroke-width="1.7"/>
<rect x="1323.3" y="853.12" width="10.4" height="29.64" fill="#E9E12B" stroke="#111" stroke-width="1.5"/>
<line x1="1323.3" y1="873.82" x2="1333.7" y2="873.82" stroke="#111" stroke-width="2.6"/>
<line x1="1343.7" y1="793.42" x2="1343.7" y2="807.48" stroke="#111" stroke-width="1.5"/>
<line x1="1341.3" y1="793.42" x2="1346.1" y2="793.42" stroke="#111" stroke-width="1.7"/>
<line x1="1343.7" y1="837.4" x2="1343.7" y2="863.3" stroke="#111" stroke-width="1.5"/>
<line x1="1341.3" y1="863.3" x2="1346.1" y2="863.3" stroke="#111" stroke-width="1.7"/>
<rect x="1338.5" y="807.48" width="10.4" height="29.92" fill="#3A4FA0" stroke="#111" stroke-width="1.5"/>
<line x1="1338.5" y1="836.5" x2="1348.9" y2="836.5" stroke="#111" stroke-width="2.6"/>
<line x1="1356.9" y1="804.5" x2="1356.9" y2="837.81" stroke="#111" stroke-width="1.5"/>
<line x1="1354.5" y1="804.5" x2="1359.3" y2="804.5" stroke="#111" stroke-width="1.7"/>
<line x1="1356.9" y1="863.3" x2="1356.9" y2="876.66" stroke="#111" stroke-width="1.5"/>
<line x1="1354.5" y1="876.66" x2="1359.3" y2="876.66" stroke="#111" stroke-width="1.7"/>
<rect x="1351.7" y="837.81" width="10.4" height="25.48" fill="#E9E12B" stroke="#111" stroke-width="1.5"/>
<line x1="1351.7" y1="851.32" x2="1362.1" y2="851.32" stroke="#111" stroke-width="2.6"/>
<line x1="1372.1" y1="902.01" x2="1372.1" y2="902.7" stroke="#111" stroke-width="1.5"/>
<line x1="1369.7" y1="902.7" x2="1374.5" y2="902.7" stroke="#111" stroke-width="1.7"/>
<rect x="1366.9" y="896.26" width="10.4" height="5.75" fill="#3A4FA0" stroke="#111" stroke-width="1.5"/>
<line x1="1366.9" y1="899.38" x2="1377.3" y2="899.38" stroke="#111" stroke-width="2.6"/>
<circle cx="1385.3" cy="895.08" r="2.4" fill="#8f8f8f" fill-opacity="0.85"/>
<circle cx="1385.3" cy="897.51" r="2.4" fill="#8f8f8f" fill-opacity="0.85"/>
<rect x="1380.1" y="902.7" width="10.4" height="0.01" fill="#E9E12B" stroke="#111" stroke-width="1.5"/>
<line x1="1380.1" y1="902.7" x2="1390.5" y2="902.7" stroke="#111" stroke-width="2.6"/>
<rect x="1395.3" y="902.7" width="10.4" height="0.01" fill="#3A4FA0" stroke="#111" stroke-width="1.5"/>
<line x1="1395.3" y1="902.7" x2="1405.7" y2="902.7" stroke="#111" stroke-width="2.6"/>
<circle cx="1413.7" cy="878.46" r="2.4" fill="#8f8f8f" fill-opacity="0.85"/>
<circle cx="1413.7" cy="832.76" r="2.4" fill="#8f8f8f" fill-opacity="0.85"/>
<line x1="1413.7" y1="881.58" x2="1413.7" y2="893.7" stroke="#111" stroke-width="1.5"/>
<line x1="1411.3" y1="881.58" x2="1416.1" y2="881.58" stroke="#111" stroke-width="1.7"/>
<rect x="1408.5" y="893.7" width="10.4" height="9" fill="#E9E12B" stroke="#111" stroke-width="1.5"/>
<line x1="1408.5" y1="902.7" x2="1418.9" y2="902.7" stroke="#111" stroke-width="2.6"/>
<circle cx="1428.9" cy="847.85" r="2.4" fill="#8f8f8f" fill-opacity="0.85"/>
<line x1="1428.9" y1="884" x2="1428.9" y2="885.46" stroke="#111" stroke-width="1.5"/>
<line x1="1426.5" y1="884" x2="1431.3" y2="884" stroke="#111" stroke-width="1.7"/>
<rect x="1423.7" y="885.46" width="10.4" height="17.24" fill="#3A4FA0" stroke="#111" stroke-width="1.5"/>
<line x1="1423.7" y1="891.34" x2="1434.1" y2="891.34" stroke="#111" stroke-width="2.6"/>
<line x1="1442.1" y1="849.24" x2="1442.1" y2="878.25" stroke="#111" stroke-width="1.5"/>
<line x1="1439.7" y1="849.24" x2="1444.5" y2="849.24" stroke="#111" stroke-width="1.7"/>
<rect x="1436.9" y="878.25" width="10.4" height="24.45" fill="#E9E12B" stroke="#111" stroke-width="1.5"/>
<line x1="1436.9" y1="895.29" x2="1447.3" y2="895.29" stroke="#111" stroke-width="2.6"/>
<line x1="1457.3" y1="830.68" x2="1457.3" y2="864.54" stroke="#111" stroke-width="1.5"/>
<line x1="1454.9" y1="830.68" x2="1459.7" y2="830.68" stroke="#111" stroke-width="1.7"/>
<line x1="1457.3" y1="895.29" x2="1457.3" y2="902.7" stroke="#111" stroke-width="1.5"/>
<line x1="1454.9" y1="902.7" x2="1459.7" y2="902.7" stroke="#111" stroke-width="1.7"/>
<rect x="1452.1" y="864.54" width="10.4" height="30.75" fill="#3A4FA0" stroke="#111" stroke-width="1.5"/>
<line x1="1452.1" y1="874.31" x2="1462.5" y2="874.31" stroke="#111" stroke-width="2.6"/>
<line x1="1470.5" y1="797.92" x2="1470.5" y2="847.85" stroke="#111" stroke-width="1.5"/>
<line x1="1468.1" y1="797.92" x2="1472.9" y2="797.92" stroke="#111" stroke-width="1.7"/>
<line x1="1470.5" y1="892.94" x2="1470.5" y2="902.7" stroke="#111" stroke-width="1.5"/>
<line x1="1468.1" y1="902.7" x2="1472.9" y2="902.7" stroke="#111" stroke-width="1.7"/>
<rect x="1465.3" y="847.85" width="10.4" height="45.08" fill="#E9E12B" stroke="#111" stroke-width="1.5"/>
<line x1="1465.3" y1="867.87" x2="1475.7" y2="867.87" stroke="#111" stroke-width="2.6"/>
<line x1="1485.7" y1="875.69" x2="1485.7" y2="880.75" stroke="#111" stroke-width="1.5"/>
<line x1="1483.3" y1="875.69" x2="1488.1" y2="875.69" stroke="#111" stroke-width="1.7"/>
<line x1="1485.7" y1="899.79" x2="1485.7" y2="902.7" stroke="#111" stroke-width="1.5"/>
<line x1="1483.3" y1="902.7" x2="1488.1" y2="902.7" stroke="#111" stroke-width="1.7"/>
<rect x="1480.5" y="880.75" width="10.4" height="19.04" fill="#3A4FA0" stroke="#111" stroke-width="1.5"/>
<line x1="1480.5" y1="896.47" x2="1490.9" y2="896.47" stroke="#111" stroke-width="2.6"/>
<circle cx="1498.9" cy="884.07" r="2.4" fill="#8f8f8f" fill-opacity="0.85"/>
<circle cx="1498.9" cy="886.77" r="2.4" fill="#8f8f8f" fill-opacity="0.85"/>
<line x1="1498.9" y1="892.94" x2="1498.9" y2="898.41" stroke="#111" stroke-width="1.5"/>
<line x1="1496.5" y1="892.94" x2="1501.3" y2="892.94" stroke="#111" stroke-width="1.7"/>
<rect x="1493.7" y="898.41" width="10.4" height="4.29" fill="#E9E12B" stroke="#111" stroke-width="1.5"/>
<line x1="1493.7" y1="902.01" x2="1504.1" y2="902.01" stroke="#111" stroke-width="2.6"/>
<circle cx="1514.1" cy="891.97" r="2.4" fill="#8f8f8f" fill-opacity="0.85"/>
<rect x="1508.9" y="902.7" width="10.4" height="0.01" fill="#3A4FA0" stroke="#111" stroke-width="1.5"/>
<line x1="1508.9" y1="902.7" x2="1519.3" y2="902.7" stroke="#111" stroke-width="2.6"/>
<circle cx="1527.3" cy="887.47" r="2.4" fill="#8f8f8f" fill-opacity="0.85"/>
<circle cx="1527.3" cy="893" r="2.4" fill="#8f8f8f" fill-opacity="0.85"/>
<circle cx="1527.3" cy="897.16" r="2.4" fill="#8f8f8f" fill-opacity="0.85"/>
<circle cx="1527.3" cy="900.35" r="2.4" fill="#8f8f8f" fill-opacity="0.85"/>
<rect x="1522.1" y="902.7" width="10.4" height="0.01" fill="#E9E12B" stroke="#111" stroke-width="1.5"/>
<line x1="1522.1" y1="902.7" x2="1532.5" y2="902.7" stroke="#111" stroke-width="2.6"/>
<rect x="891.1" y="574.4" width="662" height="337.9" fill="none" stroke="#111" stroke-width="2.3"/>
<line x1="882.1" y1="902.7" x2="891.1" y2="902.7" stroke="#111" stroke-width="2.2"/>
<text transform="translate(873.6,907.98) scale(1,1.045)" font-size="13.8" text-anchor="end">0.0</text>
<line x1="882.1" y1="833.45" x2="891.1" y2="833.45" stroke="#111" stroke-width="2.2"/>
<text transform="translate(873.6,838.73) scale(1,1.045)" font-size="13.8" text-anchor="end">0.1</text>
<line x1="882.1" y1="764.2" x2="891.1" y2="764.2" stroke="#111" stroke-width="2.2"/>
<text transform="translate(873.6,769.48) scale(1,1.045)" font-size="13.8" text-anchor="end">0.2</text>
<line x1="882.1" y1="694.95" x2="891.1" y2="694.95" stroke="#111" stroke-width="2.2"/>
<text transform="translate(873.6,700.23) scale(1,1.045)" font-size="13.8" text-anchor="end">0.3</text>
<line x1="882.1" y1="625.7" x2="891.1" y2="625.7" stroke="#111" stroke-width="2.2"/>
<text transform="translate(873.6,630.98) scale(1,1.045)" font-size="13.8" text-anchor="end">0.4</text>
<line x1="924.3" y1="912.3" x2="924.3" y2="921.8" stroke="#111" stroke-width="2.2"/>
<text transform="translate(929.8,937.1) rotate(-45)" font-size="14.2" text-anchor="end">B cells naive</text>
<line x1="952.7" y1="912.3" x2="952.7" y2="921.8" stroke="#111" stroke-width="2.2"/>
<text transform="translate(958.2,937.1) rotate(-45)" font-size="14.2" text-anchor="end">B cells memory</text>
<line x1="981.1" y1="912.3" x2="981.1" y2="921.8" stroke="#111" stroke-width="2.2"/>
<text transform="translate(986.6,937.1) rotate(-45)" font-size="14.2" text-anchor="end">Plasma cells</text>
<line x1="1009.5" y1="912.3" x2="1009.5" y2="921.8" stroke="#111" stroke-width="2.2"/>
<text transform="translate(1015,937.1) rotate(-45)" font-size="14.2" text-anchor="end">T cells CD8</text>
<line x1="1037.9" y1="912.3" x2="1037.9" y2="921.8" stroke="#111" stroke-width="2.2"/>
<text transform="translate(1043.4,937.1) rotate(-45)" font-size="14.2" text-anchor="end">T cells CD4 naive</text>
<line x1="1066.3" y1="912.3" x2="1066.3" y2="921.8" stroke="#111" stroke-width="2.2"/>
<text transform="translate(1071.8,937.1) rotate(-45)" font-size="14.2" text-anchor="end">T cells CD4 memory resting</text>
<line x1="1094.7" y1="912.3" x2="1094.7" y2="921.8" stroke="#111" stroke-width="2.2"/>
<text transform="translate(1100.2,937.1) rotate(-45)" font-size="14.2" text-anchor="end">T cells CD4 memory activated</text>
<line x1="1123.1" y1="912.3" x2="1123.1" y2="921.8" stroke="#111" stroke-width="2.2"/>
<text transform="translate(1128.6,937.1) rotate(-45)" font-size="14.2" text-anchor="end">T cells follicular helper</text>
<line x1="1151.5" y1="912.3" x2="1151.5" y2="921.8" stroke="#111" stroke-width="2.2"/>
<text transform="translate(1157,937.1) rotate(-45)" font-size="14.2" text-anchor="end">T cells regulatory (Tregs)</text>
<line x1="1179.9" y1="912.3" x2="1179.9" y2="921.8" stroke="#111" stroke-width="2.2"/>
<text transform="translate(1185.4,937.1) rotate(-45)" font-size="14.2" text-anchor="end">T cells gamma delta</text>
<line x1="1208.3" y1="912.3" x2="1208.3" y2="921.8" stroke="#111" stroke-width="2.2"/>
<text transform="translate(1213.8,937.1) rotate(-45)" font-size="14.2" text-anchor="end">NK cells resting</text>
<line x1="1236.7" y1="912.3" x2="1236.7" y2="921.8" stroke="#111" stroke-width="2.2"/>
<text transform="translate(1242.2,937.1) rotate(-45)" font-size="14.2" text-anchor="end">NK cells activated</text>
<line x1="1265.1" y1="912.3" x2="1265.1" y2="921.8" stroke="#111" stroke-width="2.2"/>
<text transform="translate(1270.6,937.1) rotate(-45)" font-size="14.2" text-anchor="end">Monocytes</text>
<line x1="1293.5" y1="912.3" x2="1293.5" y2="921.8" stroke="#111" stroke-width="2.2"/>
<text transform="translate(1299,937.1) rotate(-45)" font-size="14.2" text-anchor="end">Macrophages M0</text>
<line x1="1321.9" y1="912.3" x2="1321.9" y2="921.8" stroke="#111" stroke-width="2.2"/>
<text transform="translate(1327.4,937.1) rotate(-45)" font-size="14.2" text-anchor="end">Macrophages M1</text>
<line x1="1350.3" y1="912.3" x2="1350.3" y2="921.8" stroke="#111" stroke-width="2.2"/>
<text transform="translate(1355.8,937.1) rotate(-45)" font-size="14.2" text-anchor="end">Macrophages M2</text>
<line x1="1378.7" y1="912.3" x2="1378.7" y2="921.8" stroke="#111" stroke-width="2.2"/>
<text transform="translate(1384.2,937.1) rotate(-45)" font-size="14.2" text-anchor="end">Dendritic cells resting</text>
<line x1="1407.1" y1="912.3" x2="1407.1" y2="921.8" stroke="#111" stroke-width="2.2"/>
<text transform="translate(1412.6,937.1) rotate(-45)" font-size="14.2" text-anchor="end">Dendritic cells activated</text>
<line x1="1435.5" y1="912.3" x2="1435.5" y2="921.8" stroke="#111" stroke-width="2.2"/>
<text transform="translate(1441,937.1) rotate(-45)" font-size="14.2" text-anchor="end">Mast cells resting</text>
<line x1="1463.9" y1="912.3" x2="1463.9" y2="921.8" stroke="#111" stroke-width="2.2"/>
<text transform="translate(1469.4,937.1) rotate(-45)" font-size="14.2" text-anchor="end">Mast cells activated</text>
<line x1="1492.3" y1="912.3" x2="1492.3" y2="921.8" stroke="#111" stroke-width="2.2"/>
<text transform="translate(1497.8,937.1) rotate(-45)" font-size="14.2" text-anchor="end">Eosinophils</text>
<line x1="1520.7" y1="912.3" x2="1520.7" y2="921.8" stroke="#111" stroke-width="2.2"/>
<text transform="translate(1526.2,937.1) rotate(-45)" font-size="14.2" text-anchor="end">Neutrophils</text>
<text transform="translate(1276,1072.91) scale(1,1.045)" font-size="26" text-anchor="middle">Different types of immune cells</text>
<text transform="translate(839.5,751) rotate(-90)" font-size="26" text-anchor="middle">proportion</text>
<line x1="1575.6" y1="722.9" x2="1575.6" y2="742.9" stroke="#111" stroke-width="1.4"/>
<rect x="1565.6" y="726.4" width="20" height="13" fill="#3A4FA0" stroke="#111" stroke-width="1.9"/>
<line x1="1565.6" y1="732.9" x2="1585.6" y2="732.9" stroke="#111" stroke-width="2"/>
<text transform="translate(1598.3,738.47) scale(1,1.045)" font-size="13.5">HP-</text>
<line x1="1575.6" y1="748.4" x2="1575.6" y2="768.4" stroke="#111" stroke-width="1.4"/>
<rect x="1565.6" y="751.9" width="20" height="13" fill="#E9E12B" stroke="#111" stroke-width="1.9"/>
<line x1="1565.6" y1="758.4" x2="1585.6" y2="758.4" stroke="#111" stroke-width="2"/>
<text transform="translate(1598.3,763.97) scale(1,1.045)" font-size="13.5">HP+</text>
<g shape-rendering="crispEdges">
<rect x="220" y="1196.1" width="25.07" height="24.05" fill="#E45844"/>
<rect x="244.77" y="1196.1" width="25.07" height="24.05" fill="#91B5DB"/>
<rect x="269.54" y="1196.1" width="25.07" height="24.05" fill="#FEF7F6"/>
<rect x="294.31" y="1196.1" width="25.07" height="24.05" fill="#CCDDEE"/>
<rect x="319.08" y="1196.1" width="25.07" height="24.05" fill="#FEFCFB"/>
<rect x="343.85" y="1196.1" width="25.07" height="24.05" fill="#CCDDEE"/>
<rect x="368.62" y="1196.1" width="25.07" height="24.05" fill="#F0F5FA"/>
<rect x="393.39" y="1196.1" width="25.07" height="24.05" fill="#F2ADA3"/>
<rect x="418.16" y="1196.1" width="25.07" height="24.05" fill="#D9E5F3"/>
<rect x="442.93" y="1196.1" width="25.07" height="24.05" fill="#FEF8F8"/>
<rect x="467.7" y="1196.1" width="25.07" height="24.05" fill="#F9FBFD"/>
<rect x="492.47" y="1196.1" width="25.07" height="24.05" fill="#CCDDEE"/>
<rect x="517.24" y="1196.1" width="25.07" height="24.05" fill="#CEDEEF"/>
<rect x="542.01" y="1196.1" width="25.07" height="24.05" fill="#FCEDEA"/>
<rect x="566.78" y="1196.1" width="25.07" height="24.05" fill="#F2F6FB"/>
<rect x="591.55" y="1196.1" width="25.07" height="24.05" fill="#F9FBFD"/>
<rect x="616.32" y="1196.1" width="25.07" height="24.05" fill="#FBFCFE"/>
<rect x="641.09" y="1196.1" width="25.07" height="24.05" fill="#F8D4CE"/>
<rect x="665.86" y="1196.1" width="25.07" height="24.05" fill="#89AFD8"/>
<rect x="690.63" y="1196.1" width="25.07" height="24.05" fill="#F7CBC5"/>
<rect x="715.4" y="1196.1" width="25.07" height="24.05" fill="#FDFEFE"/>
<rect x="740.17" y="1196.1" width="25.07" height="24.05" fill="#F3B4AB"/>
<rect x="220" y="1219.85" width="25.07" height="24.05" fill="#91B5DB"/>
<rect x="244.77" y="1219.85" width="25.07" height="24.05" fill="#E45844"/>
<rect x="269.54" y="1219.85" width="25.07" height="24.05" fill="#FCEDEA"/>
<rect x="294.31" y="1219.85" width="25.07" height="24.05" fill="#E8EFF7"/>
<rect x="319.08" y="1219.85" width="25.07" height="24.05" fill="#FBE4E1"/>
<rect x="343.85" y="1219.85" width="25.07" height="24.05" fill="#FFFFFF"/>
<rect x="368.62" y="1219.85" width="25.07" height="24.05" fill="#D5E2F1"/>
<rect x="393.39" y="1219.85" width="25.07" height="24.05" fill="#ADC7E4"/>
<rect x="418.16" y="1219.85" width="25.07" height="24.05" fill="#EAF1F8"/>
<rect x="442.93" y="1219.85" width="25.07" height="24.05" fill="#FCEBE9"/>
<rect x="467.7" y="1219.85" width="25.07" height="24.05" fill="#D5E2F1"/>
<rect x="492.47" y="1219.85" width="25.07" height="24.05" fill="#ECF2F9"/>
<rect x="517.24" y="1219.85" width="25.07" height="24.05" fill="#FEF7F6"/>
<rect x="542.01" y="1219.85" width="25.07" height="24.05" fill="#F7F9FC"/>
<rect x="566.78" y="1219.85" width="25.07" height="24.05" fill="#FEF8F8"/>
<rect x="591.55" y="1219.85" width="25.07" height="24.05" fill="#FBFCFE"/>
<rect x="616.32" y="1219.85" width="25.07" height="24.05" fill="#FEFCFB"/>
<rect x="641.09" y="1219.85" width="25.07" height="24.05" fill="#B5CDE7"/>
<rect x="665.86" y="1219.85" width="25.07" height="24.05" fill="#F1A89E"/>
<rect x="690.63" y="1219.85" width="25.07" height="24.05" fill="#DFEAF5"/>
<rect x="715.4" y="1219.85" width="25.07" height="24.05" fill="#FEFCFB"/>
<rect x="740.17" y="1219.85" width="25.07" height="24.05" fill="#ABC6E3"/>
<rect x="220" y="1243.6" width="25.07" height="24.05" fill="#FEF7F6"/>
<rect x="244.77" y="1243.6" width="25.07" height="24.05" fill="#FCEDEA"/>
<rect x="269.54" y="1243.6" width="25.07" height="24.05" fill="#E45844"/>
<rect x="294.31" y="1243.6" width="25.07" height="24.05" fill="#F6C5BE"/>
<rect x="319.08" y="1243.6" width="25.07" height="24.05" fill="#BED3EA"/>
<rect x="343.85" y="1243.6" width="25.07" height="24.05" fill="#F7CFC9"/>
<rect x="368.62" y="1243.6" width="25.07" height="24.05" fill="#F4F8FC"/>
<rect x="393.39" y="1243.6" width="25.07" height="24.05" fill="#D9E5F3"/>
<rect x="418.16" y="1243.6" width="25.07" height="24.05" fill="#D9E5F3"/>
<rect x="442.93" y="1243.6" width="25.07" height="24.05" fill="#F7CDC7"/>
<rect x="467.7" y="1243.6" width="25.07" height="24.05" fill="#DFEAF5"/>
<rect x="492.47" y="1243.6" width="25.07" height="24.05" fill="#D1E0F0"/>
<rect x="517.24" y="1243.6" width="25.07" height="24.05" fill="#EEF4F9"/>
<rect x="542.01" y="1243.6" width="25.07" height="24.05" fill="#B3CCE6"/>
<rect x="566.78" y="1243.6" width="25.07" height="24.05" fill="#F4F8FC"/>
<rect x="591.55" y="1243.6" width="25.07" height="24.05" fill="#FDF3F2"/>
<rect x="616.32" y="1243.6" width="25.07" height="24.05" fill="#A6C3E2"/>
<rect x="641.09" y="1243.6" width="25.07" height="24.05" fill="#E4ECF6"/>
<rect x="665.86" y="1243.6" width="25.07" height="24.05" fill="#FAE3DF"/>
<rect x="690.63" y="1243.6" width="25.07" height="24.05" fill="#A6C3E2"/>
<rect x="715.4" y="1243.6" width="25.07" height="24.05" fill="#F3B2A9"/>
<rect x="740.17" y="1243.6" width="25.07" height="24.05" fill="#B7CEE8"/>
<rect x="220" y="1267.35" width="25.07" height="24.05" fill="#CCDDEE"/>
<rect x="244.77" y="1267.35" width="25.07" height="24.05" fill="#E8EFF7"/>
<rect x="269.54" y="1267.35" width="25.07" height="24.05" fill="#F6C5BE"/>
<rect x="294.31" y="1267.35" width="25.07" height="24.05" fill="#E45844"/>
<rect x="319.08" y="1267.35" width="25.07" height="24.05" fill="#87ADD8"/>
<rect x="343.85" y="1267.35" width="25.07" height="24.05" fill="#FAE1DD"/>
<rect x="368.62" y="1267.35" width="25.07" height="24.05" fill="#FCEEEC"/>
<rect x="393.39" y="1267.35" width="25.07" height="24.05" fill="#F9FBFD"/>
<rect x="418.16" y="1267.35" width="25.07" height="24.05" fill="#FAE1DD"/>
<rect x="442.93" y="1267.35" width="25.07" height="24.05" fill="#DFEAF5"/>
<rect x="467.7" y="1267.35" width="25.07" height="24.05" fill="#FBE6E3"/>
<rect x="492.47" y="1267.35" width="25.07" height="24.05" fill="#F9DCD8"/>
<rect x="517.24" y="1267.35" width="25.07" height="24.05" fill="#F4F8FC"/>
<rect x="542.01" y="1267.35" width="25.07" height="24.05" fill="#CCDDEE"/>
<rect x="566.78" y="1267.35" width="25.07" height="24.05" fill="#FAE3DF"/>
<rect x="591.55" y="1267.35" width="25.07" height="24.05" fill="#F9D7D2"/>
<rect x="616.32" y="1267.35" width="25.07" height="24.05" fill="#9CBCDF"/>
<rect x="641.09" y="1267.35" width="25.07" height="24.05" fill="#DFEAF5"/>
<rect x="665.86" y="1267.35" width="25.07" height="24.05" fill="#E8EFF7"/>
<rect x="690.63" y="1267.35" width="25.07" height="24.05" fill="#A6C3E2"/>
<rect x="715.4" y="1267.35" width="25.07" height="24.05" fill="#FBE9E7"/>
<rect x="740.17" y="1267.35" width="25.07" height="24.05" fill="#FBFCFE"/>
<rect x="220" y="1291.1" width="25.07" height="24.05" fill="#FEFCFB"/>
<rect x="244.77" y="1291.1" width="25.07" height="24.05" fill="#FBE4E1"/>
<rect x="269.54" y="1291.1" width="25.07" height="24.05" fill="#BED3EA"/>
<rect x="294.31" y="1291.1" width="25.07" height="24.05" fill="#87ADD8"/>
<rect x="319.08" y="1291.1" width="25.07" height="24.05" fill="#E45844"/>
<rect x="343.85" y="1291.1" width="25.07" height="24.05" fill="#78A3D3"/>
<rect x="368.62" y="1291.1" width="25.07" height="24.05" fill="#ADC7E4"/>
<rect x="393.39" y="1291.1" width="25.07" height="24.05" fill="#D3E1F1"/>
<rect x="418.16" y="1291.1" width="25.07" height="24.05" fill="#FDFEFE"/>
<rect x="442.93" y="1291.1" width="25.07" height="24.05" fill="#D9E5F3"/>
<rect x="467.7" y="1291.1" width="25.07" height="24.05" fill="#FAE1DD"/>
<rect x="492.47" y="1291.1" width="25.07" height="24.05" fill="#C8DAED"/>
<rect x="517.24" y="1291.1" width="25.07" height="24.05" fill="#FBFCFE"/>
<rect x="542.01" y="1291.1" width="25.07" height="24.05" fill="#F9FBFD"/>
<rect x="566.78" y="1291.1" width="25.07" height="24.05" fill="#C2D6EB"/>
<rect x="591.55" y="1291.1" width="25.07" height="24.05" fill="#ECF2F9"/>
<rect x="616.32" y="1291.1" width="25.07" height="24.05" fill="#F2B1A7"/>
<rect x="641.09" y="1291.1" width="25.07" height="24.05" fill="#FFFDFD"/>
<rect x="665.86" y="1291.1" width="25.07" height="24.05" fill="#E8EFF7"/>
<rect x="690.63" y="1291.1" width="25.07" height="24.05" fill="#F0A398"/>
<rect x="715.4" y="1291.1" width="25.07" height="24.05" fill="#E6EEF7"/>
<rect x="740.17" y="1291.1" width="25.07" height="24.05" fill="#EEF4F9"/>
<rect x="220" y="1314.85" width="25.07" height="24.05" fill="#CCDDEE"/>
<rect x="244.77" y="1314.85" width="25.07" height="24.05" fill="#FFFFFF"/>
<rect x="269.54" y="1314.85" width="25.07" height="24.05" fill="#F7CFC9"/>
<rect x="294.31" y="1314.85" width="25.07" height="24.05" fill="#FAE1DD"/>
<rect x="319.08" y="1314.85" width="25.07" height="24.05" fill="#78A3D3"/>
<rect x="343.85" y="1314.85" width="25.07" height="24.05" fill="#E45844"/>
<rect x="368.62" y="1314.85" width="25.07" height="24.05" fill="#F7CFC9"/>
<rect x="393.39" y="1314.85" width="25.07" height="24.05" fill="#C0D4EA"/>
<rect x="418.16" y="1314.85" width="25.07" height="24.05" fill="#FBE9E7"/>
<rect x="442.93" y="1314.85" width="25.07" height="24.05" fill="#F9DAD6"/>
<rect x="467.7" y="1314.85" width="25.07" height="24.05" fill="#96B8DC"/>
<rect x="492.47" y="1314.85" width="25.07" height="24.05" fill="#F8D2CD"/>
<rect x="517.24" y="1314.85" width="25.07" height="24.05" fill="#D9E5F3"/>
<rect x="542.01" y="1314.85" width="25.07" height="24.05" fill="#E6EEF7"/>
<rect x="566.78" y="1314.85" width="25.07" height="24.05" fill="#FDF3F2"/>
<rect x="591.55" y="1314.85" width="25.07" height="24.05" fill="#FDF2F0"/>
<rect x="616.32" y="1314.85" width="25.07" height="24.05" fill="#E4ECF6"/>
<rect x="641.09" y="1314.85" width="25.07" height="24.05" fill="#E4ECF6"/>
<rect x="665.86" y="1314.85" width="25.07" height="24.05" fill="#F0A094"/>
<rect x="690.63" y="1314.85" width="25.07" height="24.05" fill="#709ED0"/>
<rect x="715.4" y="1314.85" width="25.07" height="24.05" fill="#F9DAD6"/>
<rect x="740.17" y="1314.85" width="25.07" height="24.05" fill="#C8DAED"/>
<rect x="220" y="1338.6" width="25.07" height="24.05" fill="#F0F5FA"/>
<rect x="244.77" y="1338.6" width="25.07" height="24.05" fill="#D5E2F1"/>
<rect x="269.54" y="1338.6" width="25.07" height="24.05" fill="#F4F8FC"/>
<rect x="294.31" y="1338.6" width="25.07" height="24.05" fill="#FCEEEC"/>
<rect x="319.08" y="1338.6" width="25.07" height="24.05" fill="#ADC7E4"/>
<rect x="343.85" y="1338.6" width="25.07" height="24.05" fill="#F7CFC9"/>
<rect x="368.62" y="1338.6" width="25.07" height="24.05" fill="#E45844"/>
<rect x="393.39" y="1338.6" width="25.07" height="24.05" fill="#FBFCFE"/>
<rect x="418.16" y="1338.6" width="25.07" height="24.05" fill="#A6C3E2"/>
<rect x="442.93" y="1338.6" width="25.07" height="24.05" fill="#FCEBE9"/>
<rect x="467.7" y="1338.6" width="25.07" height="24.05" fill="#FDF2F0"/>
<rect x="492.47" y="1338.6" width="25.07" height="24.05" fill="#FBFCFE"/>
<rect x="517.24" y="1338.6" width="25.07" height="24.05" fill="#F9FBFD"/>
<rect x="542.01" y="1338.6" width="25.07" height="24.05" fill="#F9D7D2"/>
<rect x="566.78" y="1338.6" width="25.07" height="24.05" fill="#F9DCD8"/>
<rect x="591.55" y="1338.6" width="25.07" height="24.05" fill="#F7CDC7"/>
<rect x="616.32" y="1338.6" width="25.07" height="24.05" fill="#DBE7F3"/>
<rect x="641.09" y="1338.6" width="25.07" height="24.05" fill="#FADEDA"/>
<rect x="665.86" y="1338.6" width="25.07" height="24.05" fill="#FBE8E5"/>
<rect x="690.63" y="1338.6" width="25.07" height="24.05" fill="#CEDEEF"/>
<rect x="715.4" y="1338.6" width="25.07" height="24.05" fill="#FEFCFB"/>
<rect x="740.17" y="1338.6" width="25.07" height="24.05" fill="#F9D7D2"/>
<rect x="220" y="1362.35" width="25.07" height="24.05" fill="#F2ADA3"/>
<rect x="244.77" y="1362.35" width="25.07" height="24.05" fill="#ADC7E4"/>
<rect x="269.54" y="1362.35" width="25.07" height="24.05" fill="#D9E5F3"/>
<rect x="294.31" y="1362.35" width="25.07" height="24.05" fill="#F9FBFD"/>
<rect x="319.08" y="1362.35" width="25.07" height="24.05" fill="#D3E1F1"/>
<rect x="343.85" y="1362.35" width="25.07" height="24.05" fill="#C0D4EA"/>
<rect x="368.62" y="1362.35" width="25.07" height="24.05" fill="#FBFCFE"/>
<rect x="393.39" y="1362.35" width="25.07" height="24.05" fill="#E45844"/>
<rect x="418.16" y="1362.35" width="25.07" height="24.05" fill="#D9E5F3"/>
<rect x="442.93" y="1362.35" width="25.07" height="24.05" fill="#FCEEEC"/>
<rect x="467.7" y="1362.35" width="25.07" height="24.05" fill="#F9FBFD"/>
<rect x="492.47" y="1362.35" width="25.07" height="24.05" fill="#F7F9FC"/>
<rect x="517.24" y="1362.35" width="25.07" height="24.05" fill="#FDF0EE"/>
<rect x="542.01" y="1362.35" width="25.07" height="24.05" fill="#F3B2A9"/>
<rect x="566.78" y="1362.35" width="25.07" height="24.05" fill="#F8D5D0"/>
<rect x="591.55" y="1362.35" width="25.07" height="24.05" fill="#C6D8EC"/>
<rect x="616.32" y="1362.35" width="25.07" height="24.05" fill="#EEF4F9"/>
<rect x="641.09" y="1362.35" width="25.07" height="24.05" fill="#F3B2A9"/>
<rect x="665.86" y="1362.35" width="25.07" height="24.05" fill="#80A9D6"/>
<rect x="690.63" y="1362.35" width="25.07" height="24.05" fill="#F2B1A7"/>
<rect x="715.4" y="1362.35" width="25.07" height="24.05" fill="#B9D0E8"/>
<rect x="740.17" y="1362.35" width="25.07" height="24.05" fill="#F4BBB2"/>
<rect x="220" y="1386.1" width="25.07" height="24.05" fill="#D9E5F3"/>
<rect x="244.77" y="1386.1" width="25.07" height="24.05" fill="#EAF1F8"/>
<rect x="269.54" y="1386.1" width="25.07" height="24.05" fill="#D9E5F3"/>
<rect x="294.31" y="1386.1" width="25.07" height="24.05" fill="#FAE1DD"/>
<rect x="319.08" y="1386.1" width="25.07" height="24.05" fill="#FDFEFE"/>
<rect x="343.85" y="1386.1" width="25.07" height="24.05" fill="#FBE9E7"/>
<rect x="368.62" y="1386.1" width="25.07" height="24.05" fill="#A6C3E2"/>
<rect x="393.39" y="1386.1" width="25.07" height="24.05" fill="#D9E5F3"/>
<rect x="418.16" y="1386.1" width="25.07" height="24.05" fill="#E45844"/>
<rect x="442.93" y="1386.1" width="25.07" height="24.05" fill="#C2D6EB"/>
<rect x="467.7" y="1386.1" width="25.07" height="24.05" fill="#F9D7D2"/>
<rect x="492.47" y="1386.1" width="25.07" height="24.05" fill="#F7CBC5"/>
<rect x="517.24" y="1386.1" width="25.07" height="24.05" fill="#FBE9E7"/>
<rect x="542.01" y="1386.1" width="25.07" height="24.05" fill="#B3CCE6"/>
<rect x="566.78" y="1386.1" width="25.07" height="24.05" fill="#FFFDFD"/>
<rect x="591.55" y="1386.1" width="25.07" height="24.05" fill="#E4ECF6"/>
<rect x="616.32" y="1386.1" width="25.07" height="24.05" fill="#FDF5F4"/>
<rect x="641.09" y="1386.1" width="25.07" height="24.05" fill="#BBD1E9"/>
<rect x="665.86" y="1386.1" width="25.07" height="24.05" fill="#DFEAF5"/>
<rect x="690.63" y="1386.1" width="25.07" height="24.05" fill="#ECF2F9"/>
<rect x="715.4" y="1386.1" width="25.07" height="24.05" fill="#FBE8E5"/>
<rect x="740.17" y="1386.1" width="25.07" height="24.05" fill="#FDF0EE"/>
<rect x="220" y="1409.85" width="25.07" height="24.05" fill="#FEF8F8"/>
<rect x="244.77" y="1409.85" width="25.07" height="24.05" fill="#FCEBE9"/>
<rect x="269.54" y="1409.85" width="25.07" height="24.05" fill="#F7CDC7"/>
<rect x="294.31" y="1409.85" width="25.07" height="24.05" fill="#DFEAF5"/>
<rect x="319.08" y="1409.85" width="25.07" height="24.05" fill="#D9E5F3"/>
<rect x="343.85" y="1409.85" width="25.07" height="24.05" fill="#F9DAD6"/>
<rect x="368.62" y="1409.85" width="25.07" height="24.05" fill="#FCEBE9"/>
<rect x="393.39" y="1409.85" width="25.07" height="24.05" fill="#FCEEEC"/>
<rect x="418.16" y="1409.85" width="25.07" height="24.05" fill="#C2D6EB"/>
<rect x="442.93" y="1409.85" width="25.07" height="24.05" fill="#E45844"/>
<rect x="467.7" y="1409.85" width="25.07" height="24.05" fill="#9CBCDF"/>
<rect x="492.47" y="1409.85" width="25.07" height="24.05" fill="#FDFEFE"/>
<rect x="517.24" y="1409.85" width="25.07" height="24.05" fill="#D7E4F2"/>
<rect x="542.01" y="1409.85" width="25.07" height="24.05" fill="#EAF1F8"/>
<rect x="566.78" y="1409.85" width="25.07" height="24.05" fill="#F4BCB4"/>
<rect x="591.55" y="1409.85" width="25.07" height="24.05" fill="#FEFCFB"/>
<rect x="616.32" y="1409.85" width="25.07" height="24.05" fill="#BED3EA"/>
<rect x="641.09" y="1409.85" width="25.07" height="24.05" fill="#F2AFA5"/>
<rect x="665.86" y="1409.85" width="25.07" height="24.05" fill="#FBE8E5"/>
<rect x="690.63" y="1409.85" width="25.07" height="24.05" fill="#F2F6FB"/>
<rect x="715.4" y="1409.85" width="25.07" height="24.05" fill="#F7CDC7"/>
<rect x="740.17" y="1409.85" width="25.07" height="24.05" fill="#B3CCE6"/>
<rect x="220" y="1433.6" width="25.07" height="24.05" fill="#F9FBFD"/>
<rect x="244.77" y="1433.6" width="25.07" height="24.05" fill="#D5E2F1"/>
<rect x="269.54" y="1433.6" width="25.07" height="24.05" fill="#DFEAF5"/>
<rect x="294.31" y="1433.6" width="25.07" height="24.05" fill="#FBE6E3"/>
<rect x="319.08" y="1433.6" width="25.07" height="24.05" fill="#FAE1DD"/>
<rect x="343.85" y="1433.6" width="25.07" height="24.05" fill="#96B8DC"/>
<rect x="368.62" y="1433.6" width="25.07" height="24.05" fill="#FDF2F0"/>
<rect x="393.39" y="1433.6" width="25.07" height="24.05" fill="#F9FBFD"/>
<rect x="418.16" y="1433.6" width="25.07" height="24.05" fill="#F9D7D2"/>
<rect x="442.93" y="1433.6" width="25.07" height="24.05" fill="#9CBCDF"/>
<rect x="467.7" y="1433.6" width="25.07" height="24.05" fill="#E45844"/>
<rect x="492.47" y="1433.6" width="25.07" height="24.05" fill="#E8EFF7"/>
<rect x="517.24" y="1433.6" width="25.07" height="24.05" fill="#F2AFA5"/>
<rect x="542.01" y="1433.6" width="25.07" height="24.05" fill="#D7E4F2"/>
<rect x="566.78" y="1433.6" width="25.07" height="24.05" fill="#BBD1E9"/>
<rect x="591.55" y="1433.6" width="25.07" height="24.05" fill="#E6EEF7"/>
<rect x="616.32" y="1433.6" width="25.07" height="24.05" fill="#F4F8FC"/>
<rect x="641.09" y="1433.6" width="25.07" height="24.05" fill="#EEF4F9"/>
<rect x="665.86" y="1433.6" width="25.07" height="24.05" fill="#98B9DD"/>
<rect x="690.63" y="1433.6" width="25.07" height="24.05" fill="#F6C6BF"/>
<rect x="715.4" y="1433.6" width="25.07" height="24.05" fill="#CCDDEE"/>
<rect x="740.17" y="1433.6" width="25.07" height="24.05" fill="#F7CFC9"/>
<rect x="220" y="1457.35" width="25.07" height="24.05" fill="#CCDDEE"/>
<rect x="244.77" y="1457.35" width="25.07" height="24.05" fill="#ECF2F9"/>
<rect x="269.54" y="1457.35" width="25.07" height="24.05" fill="#D1E0F0"/>
<rect x="294.31" y="1457.35" width="25.07" height="24.05" fill="#F9DCD8"/>
<rect x="319.08" y="1457.35" width="25.07" height="24.05" fill="#C8DAED"/>
<rect x="343.85" y="1457.35" width="25.07" height="24.05" fill="#F8D2CD"/>
<rect x="368.62" y="1457.35" width="25.07" height="24.05" fill="#FBFCFE"/>
<rect x="393.39" y="1457.35" width="25.07" height="24.05" fill="#F7F9FC"/>
<rect x="418.16" y="1457.35" width="25.07" height="24.05" fill="#F7CBC5"/>
<rect x="442.93" y="1457.35" width="25.07" height="24.05" fill="#FDFEFE"/>
<rect x="467.7" y="1457.35" width="25.07" height="24.05" fill="#E8EFF7"/>
<rect x="492.47" y="1457.35" width="25.07" height="24.05" fill="#E45844"/>
<rect x="517.24" y="1457.35" width="25.07" height="24.05" fill="#FAE1DD"/>
<rect x="542.01" y="1457.35" width="25.07" height="24.05" fill="#F8D2CD"/>
<rect x="566.78" y="1457.35" width="25.07" height="24.05" fill="#F7CDC7"/>
<rect x="591.55" y="1457.35" width="25.07" height="24.05" fill="#F7F9FC"/>
<rect x="616.32" y="1457.35" width="25.07" height="24.05" fill="#D7E4F2"/>
<rect x="641.09" y="1457.35" width="25.07" height="24.05" fill="#FADFDB"/>
<rect x="665.86" y="1457.35" width="25.07" height="24.05" fill="#FEF7F6"/>
<rect x="690.63" y="1457.35" width="25.07" height="24.05" fill="#BED3EA"/>
<rect x="715.4" y="1457.35" width="25.07" height="24.05" fill="#FCEDEA"/>
<rect x="740.17" y="1457.35" width="25.07" height="24.05" fill="#F0F5FA"/>
<rect x="220" y="1481.1" width="25.07" height="24.05" fill="#CEDEEF"/>
<rect x="244.77" y="1481.1" width="25.07" height="24.05" fill="#FEF7F6"/>
<rect x="269.54" y="1481.1" width="25.07" height="24.05" fill="#EEF4F9"/>
<rect x="294.31" y="1481.1" width="25.07" height="24.05" fill="#F4F8FC"/>
<rect x="319.08" y="1481.1" width="25.07" height="24.05" fill="#FBFCFE"/>
<rect x="343.85" y="1481.1" width="25.07" height="24.05" fill="#D9E5F3"/>
<rect x="368.62" y="1481.1" width="25.07" height="24.05" fill="#F9FBFD"/>
<rect x="393.39" y="1481.1" width="25.07" height="24.05" fill="#FDF0EE"/>
<rect x="418.16" y="1481.1" width="25.07" height="24.05" fill="#FBE9E7"/>
<rect x="442.93" y="1481.1" width="25.07" height="24.05" fill="#D7E4F2"/>
<rect x="467.7" y="1481.1" width="25.07" height="24.05" fill="#F2AFA5"/>
<rect x="492.47" y="1481.1" width="25.07" height="24.05" fill="#FAE1DD"/>
<rect x="517.24" y="1481.1" width="25.07" height="24.05" fill="#E45844"/>
<rect x="542.01" y="1481.1" width="25.07" height="24.05" fill="#FBE4E1"/>
<rect x="566.78" y="1481.1" width="25.07" height="24.05" fill="#DBE7F3"/>
<rect x="591.55" y="1481.1" width="25.07" height="24.05" fill="#76A2D2"/>
<rect x="616.32" y="1481.1" width="25.07" height="24.05" fill="#FEF8F8"/>
<rect x="641.09" y="1481.1" width="25.07" height="24.05" fill="#D5E2F1"/>
<rect x="665.86" y="1481.1" width="25.07" height="24.05" fill="#FEF7F6"/>
<rect x="690.63" y="1481.1" width="25.07" height="24.05" fill="#FDFEFE"/>
<rect x="715.4" y="1481.1" width="25.07" height="24.05" fill="#B7CEE8"/>
<rect x="740.17" y="1481.1" width="25.07" height="24.05" fill="#FDF0EE"/>
<rect x="220" y="1504.85" width="25.07" height="24.05" fill="#FCEDEA"/>
<rect x="244.77" y="1504.85" width="25.07" height="24.05" fill="#F7F9FC"/>
<rect x="269.54" y="1504.85" width="25.07" height="24.05" fill="#B3CCE6"/>
<rect x="294.31" y="1504.85" width="25.07" height="24.05" fill="#CCDDEE"/>
<rect x="319.08" y="1504.85" width="25.07" height="24.05" fill="#F9FBFD"/>
<rect x="343.85" y="1504.85" width="25.07" height="24.05" fill="#E6EEF7"/>
<rect x="368.62" y="1504.85" width="25.07" height="24.05" fill="#F9D7D2"/>
<rect x="393.39" y="1504.85" width="25.07" height="24.05" fill="#F3B2A9"/>
<rect x="418.16" y="1504.85" width="25.07" height="24.05" fill="#B3CCE6"/>
<rect x="442.93" y="1504.85" width="25.07" height="24.05" fill="#EAF1F8"/>
<rect x="467.7" y="1504.85" width="25.07" height="24.05" fill="#D7E4F2"/>
<rect x="492.47" y="1504.85" width="25.07" height="24.05" fill="#F8D2CD"/>
<rect x="517.24" y="1504.85" width="25.07" height="24.05" fill="#FBE4E1"/>
<rect x="542.01" y="1504.85" width="25.07" height="24.05" fill="#E45844"/>
<rect x="566.78" y="1504.85" width="25.07" height="24.05" fill="#F7D0CB"/>
<rect x="591.55" y="1504.85" width="25.07" height="24.05" fill="#B9D0E8"/>
<rect x="616.32" y="1504.85" width="25.07" height="24.05" fill="#FBE6E3"/>
<rect x="641.09" y="1504.85" width="25.07" height="24.05" fill="#F4B9B0"/>
<rect x="665.86" y="1504.85" width="25.07" height="24.05" fill="#E1EBF5"/>
<rect x="690.63" y="1504.85" width="25.07" height="24.05" fill="#F9DCD8"/>
<rect x="715.4" y="1504.85" width="25.07" height="24.05" fill="#BBD1E9"/>
<rect x="740.17" y="1504.85" width="25.07" height="24.05" fill="#F5C0B8"/>
<rect x="220" y="1528.6" width="25.07" height="24.05" fill="#F2F6FB"/>
<rect x="244.77" y="1528.6" width="25.07" height="24.05" fill="#FEF8F8"/>
<rect x="269.54" y="1528.6" width="25.07" height="24.05" fill="#F4F8FC"/>
<rect x="294.31" y="1528.6" width="25.07" height="24.05" fill="#FAE3DF"/>
<rect x="319.08" y="1528.6" width="25.07" height="24.05" fill="#C2D6EB"/>
<rect x="343.85" y="1528.6" width="25.07" height="24.05" fill="#FDF3F2"/>
<rect x="368.62" y="1528.6" width="25.07" height="24.05" fill="#F9DCD8"/>
<rect x="393.39" y="1528.6" width="25.07" height="24.05" fill="#F8D5D0"/>
<rect x="418.16" y="1528.6" width="25.07" height="24.05" fill="#FFFDFD"/>
<rect x="442.93" y="1528.6" width="25.07" height="24.05" fill="#F4BCB4"/>
<rect x="467.7" y="1528.6" width="25.07" height="24.05" fill="#BBD1E9"/>
<rect x="492.47" y="1528.6" width="25.07" height="24.05" fill="#F7CDC7"/>
<rect x="517.24" y="1528.6" width="25.07" height="24.05" fill="#DBE7F3"/>
<rect x="542.01" y="1528.6" width="25.07" height="24.05" fill="#F7D0CB"/>
<rect x="566.78" y="1528.6" width="25.07" height="24.05" fill="#E45844"/>
<rect x="591.55" y="1528.6" width="25.07" height="24.05" fill="#F6C8C1"/>
<rect x="616.32" y="1528.6" width="25.07" height="24.05" fill="#F7F9FC"/>
<rect x="641.09" y="1528.6" width="25.07" height="24.05" fill="#F9DCD8"/>
<rect x="665.86" y="1528.6" width="25.07" height="24.05" fill="#E8EFF7"/>
<rect x="690.63" y="1528.6" width="25.07" height="24.05" fill="#E8EFF7"/>
<rect x="715.4" y="1528.6" width="25.07" height="24.05" fill="#F3B7AF"/>
<rect x="740.17" y="1528.6" width="25.07" height="24.05" fill="#FCEDEA"/>
<rect x="220" y="1552.35" width="25.07" height="24.05" fill="#F9FBFD"/>
<rect x="244.77" y="1552.35" width="25.07" height="24.05" fill="#FBFCFE"/>
<rect x="269.54" y="1552.35" width="25.07" height="24.05" fill="#FDF3F2"/>
<rect x="294.31" y="1552.35" width="25.07" height="24.05" fill="#F9D7D2"/>
<rect x="319.08" y="1552.35" width="25.07" height="24.05" fill="#ECF2F9"/>
<rect x="343.85" y="1552.35" width="25.07" height="24.05" fill="#FDF2F0"/>
<rect x="368.62" y="1552.35" width="25.07" height="24.05" fill="#F7CDC7"/>
<rect x="393.39" y="1552.35" width="25.07" height="24.05" fill="#C6D8EC"/>
<rect x="418.16" y="1552.35" width="25.07" height="24.05" fill="#E4ECF6"/>
<rect x="442.93" y="1552.35" width="25.07" height="24.05" fill="#FEFCFB"/>
<rect x="467.7" y="1552.35" width="25.07" height="24.05" fill="#E6EEF7"/>
<rect x="492.47" y="1552.35" width="25.07" height="24.05" fill="#F7F9FC"/>
<rect x="517.24" y="1552.35" width="25.07" height="24.05" fill="#76A2D2"/>
<rect x="542.01" y="1552.35" width="25.07" height="24.05" fill="#B9D0E8"/>
<rect x="566.78" y="1552.35" width="25.07" height="24.05" fill="#F6C8C1"/>
<rect x="591.55" y="1552.35" width="25.07" height="24.05" fill="#E45844"/>
<rect x="616.32" y="1552.35" width="25.07" height="24.05" fill="#F7F9FC"/>
<rect x="641.09" y="1552.35" width="25.07" height="24.05" fill="#EEF4F9"/>
<rect x="665.86" y="1552.35" width="25.07" height="24.05" fill="#FDF2F0"/>
<rect x="690.63" y="1552.35" width="25.07" height="24.05" fill="#CADBEE"/>
<rect x="715.4" y="1552.35" width="25.07" height="24.05" fill="#F1A89E"/>
<rect x="740.17" y="1552.35" width="25.07" height="24.05" fill="#ECF2F9"/>
<rect x="220" y="1576.1" width="25.07" height="24.05" fill="#FBFCFE"/>
<rect x="244.77" y="1576.1" width="25.07" height="24.05" fill="#FEFCFB"/>
<rect x="269.54" y="1576.1" width="25.07" height="24.05" fill="#A6C3E2"/>
<rect x="294.31" y="1576.1" width="25.07" height="24.05" fill="#9CBCDF"/>
<rect x="319.08" y="1576.1" width="25.07" height="24.05" fill="#F2B1A7"/>
<rect x="343.85" y="1576.1" width="25.07" height="24.05" fill="#E4ECF6"/>
<rect x="368.62" y="1576.1" width="25.07" height="24.05" fill="#DBE7F3"/>
<rect x="393.39" y="1576.1" width="25.07" height="24.05" fill="#EEF4F9"/>
<rect x="418.16" y="1576.1" width="25.07" height="24.05" fill="#FDF5F4"/>
<rect x="442.93" y="1576.1" width="25.07" height="24.05" fill="#BED3EA"/>
<rect x="467.7" y="1576.1" width="25.07" height="24.05" fill="#F4F8FC"/>
<rect x="492.47" y="1576.1" width="25.07" height="24.05" fill="#D7E4F2"/>
<rect x="517.24" y="1576.1" width="25.07" height="24.05" fill="#FEF8F8"/>
<rect x="542.01" y="1576.1" width="25.07" height="24.05" fill="#FBE6E3"/>
<rect x="566.78" y="1576.1" width="25.07" height="24.05" fill="#F7F9FC"/>
<rect x="591.55" y="1576.1" width="25.07" height="24.05" fill="#F7F9FC"/>
<rect x="616.32" y="1576.1" width="25.07" height="24.05" fill="#E45844"/>
<rect x="641.09" y="1576.1" width="25.07" height="24.05" fill="#BBD1E9"/>
<rect x="665.86" y="1576.1" width="25.07" height="24.05" fill="#FEF8F8"/>
<rect x="690.63" y="1576.1" width="25.07" height="24.05" fill="#FCEDEA"/>
<rect x="715.4" y="1576.1" width="25.07" height="24.05" fill="#EAF1F8"/>
<rect x="740.17" y="1576.1" width="25.07" height="24.05" fill="#FBE9E7"/>
<rect x="220" y="1599.85" width="25.07" height="24.05" fill="#F8D4CE"/>
<rect x="244.77" y="1599.85" width="25.07" height="24.05" fill="#B5CDE7"/>
<rect x="269.54" y="1599.85" width="25.07" height="24.05" fill="#E4ECF6"/>
<rect x="294.31" y="1599.85" width="25.07" height="24.05" fill="#DFEAF5"/>
<rect x="319.08" y="1599.85" width="25.07" height="24.05" fill="#FFFDFD"/>
<rect x="343.85" y="1599.85" width="25.07" height="24.05" fill="#E4ECF6"/>
<rect x="368.62" y="1599.85" width="25.07" height="24.05" fill="#FADEDA"/>
<rect x="393.39" y="1599.85" width="25.07" height="24.05" fill="#F3B2A9"/>
<rect x="418.16" y="1599.85" width="25.07" height="24.05" fill="#BBD1E9"/>
<rect x="442.93" y="1599.85" width="25.07" height="24.05" fill="#F2AFA5"/>
<rect x="467.7" y="1599.85" width="25.07" height="24.05" fill="#EEF4F9"/>
<rect x="492.47" y="1599.85" width="25.07" height="24.05" fill="#FADFDB"/>
<rect x="517.24" y="1599.85" width="25.07" height="24.05" fill="#D5E2F1"/>
<rect x="542.01" y="1599.85" width="25.07" height="24.05" fill="#F4B9B0"/>
<rect x="566.78" y="1599.85" width="25.07" height="24.05" fill="#F9DCD8"/>
<rect x="591.55" y="1599.85" width="25.07" height="24.05" fill="#EEF4F9"/>
<rect x="616.32" y="1599.85" width="25.07" height="24.05" fill="#BBD1E9"/>
<rect x="641.09" y="1599.85" width="25.07" height="24.05" fill="#E45844"/>
<rect x="665.86" y="1599.85" width="25.07" height="24.05" fill="#A6C3E2"/>
<rect x="690.63" y="1599.85" width="25.07" height="24.05" fill="#F3B6AD"/>
<rect x="715.4" y="1599.85" width="25.07" height="24.05" fill="#EAF1F8"/>
<rect x="740.17" y="1599.85" width="25.07" height="24.05" fill="#FCEEEC"/>
<rect x="220" y="1623.6" width="25.07" height="24.05" fill="#89AFD8"/>
<rect x="244.77" y="1623.6" width="25.07" height="24.05" fill="#F1A89E"/>
<rect x="269.54" y="1623.6" width="25.07" height="24.05" fill="#FAE3DF"/>
<rect x="294.31" y="1623.6" width="25.07" height="24.05" fill="#E8EFF7"/>
<rect x="319.08" y="1623.6" width="25.07" height="24.05" fill="#E8EFF7"/>
<rect x="343.85" y="1623.6" width="25.07" height="24.05" fill="#F0A094"/>
<rect x="368.62" y="1623.6" width="25.07" height="24.05" fill="#FBE8E5"/>
<rect x="393.39" y="1623.6" width="25.07" height="24.05" fill="#80A9D6"/>
<rect x="418.16" y="1623.6" width="25.07" height="24.05" fill="#DFEAF5"/>
<rect x="442.93" y="1623.6" width="25.07" height="24.05" fill="#FBE8E5"/>
<rect x="467.7" y="1623.6" width="25.07" height="24.05" fill="#98B9DD"/>
<rect x="492.47" y="1623.6" width="25.07" height="24.05" fill="#FEF7F6"/>
<rect x="517.24" y="1623.6" width="25.07" height="24.05" fill="#FEF7F6"/>
<rect x="542.01" y="1623.6" width="25.07" height="24.05" fill="#E1EBF5"/>
<rect x="566.78" y="1623.6" width="25.07" height="24.05" fill="#E8EFF7"/>
<rect x="591.55" y="1623.6" width="25.07" height="24.05" fill="#FDF2F0"/>
<rect x="616.32" y="1623.6" width="25.07" height="24.05" fill="#FEF8F8"/>
<rect x="641.09" y="1623.6" width="25.07" height="24.05" fill="#A6C3E2"/>
<rect x="665.86" y="1623.6" width="25.07" height="24.05" fill="#E45844"/>
<rect x="690.63" y="1623.6" width="25.07" height="24.05" fill="#7CA6D4"/>
<rect x="715.4" y="1623.6" width="25.07" height="24.05" fill="#FDF2F0"/>
<rect x="740.17" y="1623.6" width="25.07" height="24.05" fill="#9CBCDF"/>
<rect x="220" y="1647.35" width="25.07" height="24.05" fill="#F7CBC5"/>
<rect x="244.77" y="1647.35" width="25.07" height="24.05" fill="#DFEAF5"/>
<rect x="269.54" y="1647.35" width="25.07" height="24.05" fill="#A6C3E2"/>
<rect x="294.31" y="1647.35" width="25.07" height="24.05" fill="#A6C3E2"/>
<rect x="319.08" y="1647.35" width="25.07" height="24.05" fill="#F0A398"/>
<rect x="343.85" y="1647.35" width="25.07" height="24.05" fill="#709ED0"/>
<rect x="368.62" y="1647.35" width="25.07" height="24.05" fill="#CEDEEF"/>
<rect x="393.39" y="1647.35" width="25.07" height="24.05" fill="#F2B1A7"/>
<rect x="418.16" y="1647.35" width="25.07" height="24.05" fill="#ECF2F9"/>
<rect x="442.93" y="1647.35" width="25.07" height="24.05" fill="#F2F6FB"/>
<rect x="467.7" y="1647.35" width="25.07" height="24.05" fill="#F6C6BF"/>
<rect x="492.47" y="1647.35" width="25.07" height="24.05" fill="#BED3EA"/>
<rect x="517.24" y="1647.35" width="25.07" height="24.05" fill="#FDFEFE"/>
<rect x="542.01" y="1647.35" width="25.07" height="24.05" fill="#F9DCD8"/>
<rect x="566.78" y="1647.35" width="25.07" height="24.05" fill="#E8EFF7"/>
<rect x="591.55" y="1647.35" width="25.07" height="24.05" fill="#CADBEE"/>
<rect x="616.32" y="1647.35" width="25.07" height="24.05" fill="#FCEDEA"/>
<rect x="641.09" y="1647.35" width="25.07" height="24.05" fill="#F3B6AD"/>
<rect x="665.86" y="1647.35" width="25.07" height="24.05" fill="#7CA6D4"/>
<rect x="690.63" y="1647.35" width="25.07" height="24.05" fill="#E45844"/>
<rect x="715.4" y="1647.35" width="25.07" height="24.05" fill="#A6C3E2"/>
<rect x="740.17" y="1647.35" width="25.07" height="24.05" fill="#FADFDB"/>
<rect x="220" y="1671.1" width="25.07" height="24.05" fill="#FDFEFE"/>
<rect x="244.77" y="1671.1" width="25.07" height="24.05" fill="#FEFCFB"/>
<rect x="269.54" y="1671.1" width="25.07" height="24.05" fill="#F3B2A9"/>
<rect x="294.31" y="1671.1" width="25.07" height="24.05" fill="#FBE9E7"/>
<rect x="319.08" y="1671.1" width="25.07" height="24.05" fill="#E6EEF7"/>
<rect x="343.85" y="1671.1" width="25.07" height="24.05" fill="#F9DAD6"/>
<rect x="368.62" y="1671.1" width="25.07" height="24.05" fill="#FEFCFB"/>
<rect x="393.39" y="1671.1" width="25.07" height="24.05" fill="#B9D0E8"/>
<rect x="418.16" y="1671.1" width="25.07" height="24.05" fill="#FBE8E5"/>
<rect x="442.93" y="1671.1" width="25.07" height="24.05" fill="#F7CDC7"/>
<rect x="467.7" y="1671.1" width="25.07" height="24.05" fill="#CCDDEE"/>
<rect x="492.47" y="1671.1" width="25.07" height="24.05" fill="#FCEDEA"/>
<rect x="517.24" y="1671.1" width="25.07" height="24.05" fill="#B7CEE8"/>
<rect x="542.01" y="1671.1" width="25.07" height="24.05" fill="#BBD1E9"/>
<rect x="566.78" y="1671.1" width="25.07" height="24.05" fill="#F3B7AF"/>
<rect x="591.55" y="1671.1" width="25.07" height="24.05" fill="#F1A89E"/>
<rect x="616.32" y="1671.1" width="25.07" height="24.05" fill="#EAF1F8"/>
<rect x="641.09" y="1671.1" width="25.07" height="24.05" fill="#EAF1F8"/>
<rect x="665.86" y="1671.1" width="25.07" height="24.05" fill="#FDF2F0"/>
<rect x="690.63" y="1671.1" width="25.07" height="24.05" fill="#A6C3E2"/>
<rect x="715.4" y="1671.1" width="25.07" height="24.05" fill="#E45844"/>
<rect x="740.17" y="1671.1" width="25.07" height="24.05" fill="#CCDDEE"/>
<rect x="220" y="1694.85" width="25.07" height="24.05" fill="#F3B4AB"/>
<rect x="244.77" y="1694.85" width="25.07" height="24.05" fill="#ABC6E3"/>
<rect x="269.54" y="1694.85" width="25.07" height="24.05" fill="#B7CEE8"/>
<rect x="294.31" y="1694.85" width="25.07" height="24.05" fill="#FBFCFE"/>
<rect x="319.08" y="1694.85" width="25.07" height="24.05" fill="#EEF4F9"/>
<rect x="343.85" y="1694.85" width="25.07" height="24.05" fill="#C8DAED"/>
<rect x="368.62" y="1694.85" width="25.07" height="24.05" fill="#F9D7D2"/>
<rect x="393.39" y="1694.85" width="25.07" height="24.05" fill="#F4BBB2"/>
<rect x="418.16" y="1694.85" width="25.07" height="24.05" fill="#FDF0EE"/>
<rect x="442.93" y="1694.85" width="25.07" height="24.05" fill="#B3CCE6"/>
<rect x="467.7" y="1694.85" width="25.07" height="24.05" fill="#F7CFC9"/>
<rect x="492.47" y="1694.85" width="25.07" height="24.05" fill="#F0F5FA"/>
<rect x="517.24" y="1694.85" width="25.07" height="24.05" fill="#FDF0EE"/>
<rect x="542.01" y="1694.85" width="25.07" height="24.05" fill="#F5C0B8"/>
<rect x="566.78" y="1694.85" width="25.07" height="24.05" fill="#FCEDEA"/>
<rect x="591.55" y="1694.85" width="25.07" height="24.05" fill="#ECF2F9"/>
<rect x="616.32" y="1694.85" width="25.07" height="24.05" fill="#FBE9E7"/>
<rect x="641.09" y="1694.85" width="25.07" height="24.05" fill="#FCEEEC"/>
<rect x="665.86" y="1694.85" width="25.07" height="24.05" fill="#9CBCDF"/>
<rect x="690.63" y="1694.85" width="25.07" height="24.05" fill="#FADFDB"/>
<rect x="715.4" y="1694.85" width="25.07" height="24.05" fill="#CCDDEE"/>
<rect x="740.17" y="1694.85" width="25.07" height="24.05" fill="#E45844"/>
</g>
<g font-size="9.6" text-anchor="middle" fill="#111" stroke="#111" stroke-width="0.28">
<text x="232.38" y="1211.24">1.00</text>
<text x="257.15" y="1211.24">-0.52</text>
<text x="281.93" y="1211.24">0.05</text>
<text x="306.69" y="1211.24">-0.24</text>
<text x="331.47" y="1211.24">0.02</text>
<text x="356.24" y="1211.24">-0.24</text>
<text x="381" y="1211.24">-0.07</text>
<text x="405.77" y="1211.24">0.49</text>
<text x="430.54" y="1211.24">-0.18</text>
<text x="455.31" y="1211.24">0.04</text>
<text x="480.08" y="1211.24">-0.03</text>
<text x="504.86" y="1211.24">-0.24</text>
<text x="529.62" y="1211.24">-0.23</text>
<text x="554.39" y="1211.24">0.11</text>
<text x="579.16" y="1211.24">-0.06</text>
<text x="603.93" y="1211.24">-0.03</text>
<text x="628.7" y="1211.24">-0.02</text>
<text x="653.47" y="1211.24">0.26</text>
<text x="678.25" y="1211.24">-0.56</text>
<text x="703.01" y="1211.24">0.31</text>
<text x="727.78" y="1211.24">-0.01</text>
<text x="752.55" y="1211.24">0.45</text>
<text x="232.38" y="1234.99">-0.52</text>
<text x="257.15" y="1234.99">1.00</text>
<text x="281.93" y="1234.99">0.11</text>
<text x="306.69" y="1234.99">-0.11</text>
<text x="331.47" y="1234.99">0.16</text>
<text x="356.24" y="1234.99">-0.00</text>
<text x="381" y="1234.99">-0.20</text>
<text x="405.77" y="1234.99">-0.39</text>
<text x="430.54" y="1234.99">-0.10</text>
<text x="455.31" y="1234.99">0.12</text>
<text x="480.08" y="1234.99">-0.20</text>
<text x="504.86" y="1234.99">-0.09</text>
<text x="529.62" y="1234.99">0.05</text>
<text x="554.39" y="1234.99">-0.04</text>
<text x="579.16" y="1234.99">0.04</text>
<text x="603.93" y="1234.99">-0.02</text>
<text x="628.7" y="1234.99">0.02</text>
<text x="653.47" y="1234.99">-0.35</text>
<text x="678.25" y="1234.99">0.52</text>
<text x="703.01" y="1234.99">-0.15</text>
<text x="727.78" y="1234.99">0.02</text>
<text x="752.55" y="1234.99">-0.40</text>
<text x="232.38" y="1258.74">0.05</text>
<text x="257.15" y="1258.74">0.11</text>
<text x="281.93" y="1258.74">1.00</text>
<text x="306.69" y="1258.74">0.35</text>
<text x="331.47" y="1258.74">-0.31</text>
<text x="356.24" y="1258.74">0.29</text>
<text x="381" y="1258.74">-0.05</text>
<text x="405.77" y="1258.74">-0.18</text>
<text x="430.54" y="1258.74">-0.18</text>
<text x="455.31" y="1258.74">0.30</text>
<text x="480.08" y="1258.74">-0.15</text>
<text x="504.86" y="1258.74">-0.22</text>
<text x="529.62" y="1258.74">-0.08</text>
<text x="554.39" y="1258.74">-0.36</text>
<text x="579.16" y="1258.74">-0.05</text>
<text x="603.93" y="1258.74">0.07</text>
<text x="628.7" y="1258.74">-0.42</text>
<text x="653.47" y="1258.74">-0.13</text>
<text x="678.25" y="1258.74">0.17</text>
<text x="703.01" y="1258.74">-0.42</text>
<text x="727.78" y="1258.74">0.46</text>
<text x="752.55" y="1258.74">-0.34</text>
<text x="232.38" y="1282.49">-0.24</text>
<text x="257.15" y="1282.49">-0.11</text>
<text x="281.93" y="1282.49">0.35</text>
<text x="306.69" y="1282.49">1.00</text>
<text x="331.47" y="1282.49">-0.57</text>
<text x="356.24" y="1282.49">0.18</text>
<text x="381" y="1282.49">0.10</text>
<text x="405.77" y="1282.49">-0.03</text>
<text x="430.54" y="1282.49">0.18</text>
<text x="455.31" y="1282.49">-0.15</text>
<text x="480.08" y="1282.49">0.15</text>
<text x="504.86" y="1282.49">0.21</text>
<text x="529.62" y="1282.49">-0.05</text>
<text x="554.39" y="1282.49">-0.24</text>
<text x="579.16" y="1282.49">0.17</text>
<text x="603.93" y="1282.49">0.24</text>
<text x="628.7" y="1282.49">-0.47</text>
<text x="653.47" y="1282.49">-0.15</text>
<text x="678.25" y="1282.49">-0.11</text>
<text x="703.01" y="1282.49">-0.42</text>
<text x="727.78" y="1282.49">0.13</text>
<text x="752.55" y="1282.49">-0.02</text>
<text x="232.38" y="1306.24">0.02</text>
<text x="257.15" y="1306.24">0.16</text>
<text x="281.93" y="1306.24">-0.31</text>
<text x="306.69" y="1306.24">-0.57</text>
<text x="331.47" y="1306.24">1.00</text>
<text x="356.24" y="1306.24">-0.64</text>
<text x="381" y="1306.24">-0.39</text>
<text x="405.77" y="1306.24">-0.21</text>
<text x="430.54" y="1306.24">-0.01</text>
<text x="455.31" y="1306.24">-0.18</text>
<text x="480.08" y="1306.24">0.18</text>
<text x="504.86" y="1306.24">-0.26</text>
<text x="529.62" y="1306.24">-0.02</text>
<text x="554.39" y="1306.24">-0.03</text>
<text x="579.16" y="1306.24">-0.29</text>
<text x="603.93" y="1306.24">-0.09</text>
<text x="628.7" y="1306.24">0.47</text>
<text x="653.47" y="1306.24">0.01</text>
<text x="678.25" y="1306.24">-0.11</text>
<text x="703.01" y="1306.24">0.55</text>
<text x="727.78" y="1306.24">-0.12</text>
<text x="752.55" y="1306.24">-0.08</text>
<text x="232.38" y="1329.99">-0.24</text>
<text x="257.15" y="1329.99">-0.00</text>
<text x="281.93" y="1329.99">0.29</text>
<text x="306.69" y="1329.99">0.18</text>
<text x="331.47" y="1329.99">-0.64</text>
<text x="356.24" y="1329.99">1.00</text>
<text x="381" y="1329.99">0.29</text>
<text x="405.77" y="1329.99">-0.30</text>
<text x="430.54" y="1329.99">0.13</text>
<text x="455.31" y="1329.99">0.22</text>
<text x="480.08" y="1329.99">-0.50</text>
<text x="504.86" y="1329.99">0.27</text>
<text x="529.62" y="1329.99">-0.18</text>
<text x="554.39" y="1329.99">-0.12</text>
<text x="579.16" y="1329.99">0.07</text>
<text x="603.93" y="1329.99">0.08</text>
<text x="628.7" y="1329.99">-0.13</text>
<text x="653.47" y="1329.99">-0.13</text>
<text x="678.25" y="1329.99">0.57</text>
<text x="703.01" y="1329.99">-0.68</text>
<text x="727.78" y="1329.99">0.22</text>
<text x="752.55" y="1329.99">-0.26</text>
<text x="232.38" y="1353.74">-0.07</text>
<text x="257.15" y="1353.74">-0.20</text>
<text x="281.93" y="1353.74">-0.05</text>
<text x="306.69" y="1353.74">0.10</text>
<text x="331.47" y="1353.74">-0.39</text>
<text x="356.24" y="1353.74">0.29</text>
<text x="381" y="1353.74">1.00</text>
<text x="405.77" y="1353.74">-0.02</text>
<text x="430.54" y="1353.74">-0.42</text>
<text x="455.31" y="1353.74">0.12</text>
<text x="480.08" y="1353.74">0.08</text>
<text x="504.86" y="1353.74">-0.02</text>
<text x="529.62" y="1353.74">-0.03</text>
<text x="554.39" y="1353.74">0.24</text>
<text x="579.16" y="1353.74">0.21</text>
<text x="603.93" y="1353.74">0.30</text>
<text x="628.7" y="1353.74">-0.17</text>
<text x="653.47" y="1353.74">0.20</text>
<text x="678.25" y="1353.74">0.14</text>
<text x="703.01" y="1353.74">-0.23</text>
<text x="727.78" y="1353.74">0.02</text>
<text x="752.55" y="1353.74">0.24</text>
<text x="232.38" y="1377.49">0.49</text>
<text x="257.15" y="1377.49">-0.39</text>
<text x="281.93" y="1377.49">-0.18</text>
<text x="306.69" y="1377.49">-0.03</text>
<text x="331.47" y="1377.49">-0.21</text>
<text x="356.24" y="1377.49">-0.30</text>
<text x="381" y="1377.49">-0.02</text>
<text x="405.77" y="1377.49">1.00</text>
<text x="430.54" y="1377.49">-0.18</text>
<text x="455.31" y="1377.49">0.10</text>
<text x="480.08" y="1377.49">-0.03</text>
<text x="504.86" y="1377.49">-0.04</text>
<text x="529.62" y="1377.49">0.09</text>
<text x="554.39" y="1377.49">0.46</text>
<text x="579.16" y="1377.49">0.25</text>
<text x="603.93" y="1377.49">-0.27</text>
<text x="628.7" y="1377.49">-0.08</text>
<text x="653.47" y="1377.49">0.46</text>
<text x="678.25" y="1377.49">-0.60</text>
<text x="703.01" y="1377.49">0.47</text>
<text x="727.78" y="1377.49">-0.33</text>
<text x="752.55" y="1377.49">0.41</text>
<text x="232.38" y="1401.24">-0.18</text>
<text x="257.15" y="1401.24">-0.10</text>
<text x="281.93" y="1401.24">-0.18</text>
<text x="306.69" y="1401.24">0.18</text>
<text x="331.47" y="1401.24">-0.01</text>
<text x="356.24" y="1401.24">0.13</text>
<text x="381" y="1401.24">-0.42</text>
<text x="405.77" y="1401.24">-0.18</text>
<text x="430.54" y="1401.24">1.00</text>
<text x="455.31" y="1401.24">-0.29</text>
<text x="480.08" y="1401.24">0.24</text>
<text x="504.86" y="1401.24">0.31</text>
<text x="529.62" y="1401.24">0.13</text>
<text x="554.39" y="1401.24">-0.36</text>
<text x="579.16" y="1401.24">0.01</text>
<text x="603.93" y="1401.24">-0.13</text>
<text x="628.7" y="1401.24">0.06</text>
<text x="653.47" y="1401.24">-0.32</text>
<text x="678.25" y="1401.24">-0.15</text>
<text x="703.01" y="1401.24">-0.09</text>
<text x="727.78" y="1401.24">0.14</text>
<text x="752.55" y="1401.24">0.09</text>
<text x="232.38" y="1424.99">0.04</text>
<text x="257.15" y="1424.99">0.12</text>
<text x="281.93" y="1424.99">0.30</text>
<text x="306.69" y="1424.99">-0.15</text>
<text x="331.47" y="1424.99">-0.18</text>
<text x="356.24" y="1424.99">0.22</text>
<text x="381" y="1424.99">0.12</text>
<text x="405.77" y="1424.99">0.10</text>
<text x="430.54" y="1424.99">-0.29</text>
<text x="455.31" y="1424.99">1.00</text>
<text x="480.08" y="1424.99">-0.47</text>
<text x="504.86" y="1424.99">-0.01</text>
<text x="529.62" y="1424.99">-0.19</text>
<text x="554.39" y="1424.99">-0.10</text>
<text x="579.16" y="1424.99">0.40</text>
<text x="603.93" y="1424.99">0.02</text>
<text x="628.7" y="1424.99">-0.31</text>
<text x="653.47" y="1424.99">0.48</text>
<text x="678.25" y="1424.99">0.14</text>
<text x="703.01" y="1424.99">-0.06</text>
<text x="727.78" y="1424.99">0.30</text>
<text x="752.55" y="1424.99">-0.36</text>
<text x="232.38" y="1448.74">-0.03</text>
<text x="257.15" y="1448.74">-0.20</text>
<text x="281.93" y="1448.74">-0.15</text>
<text x="306.69" y="1448.74">0.15</text>
<text x="331.47" y="1448.74">0.18</text>
<text x="356.24" y="1448.74">-0.50</text>
<text x="381" y="1448.74">0.08</text>
<text x="405.77" y="1448.74">-0.03</text>
<text x="430.54" y="1448.74">0.24</text>
<text x="455.31" y="1448.74">-0.47</text>
<text x="480.08" y="1448.74">1.00</text>
<text x="504.86" y="1448.74">-0.11</text>
<text x="529.62" y="1448.74">0.48</text>
<text x="554.39" y="1448.74">-0.19</text>
<text x="579.16" y="1448.74">-0.32</text>
<text x="603.93" y="1448.74">-0.12</text>
<text x="628.7" y="1448.74">-0.05</text>
<text x="653.47" y="1448.74">-0.08</text>
<text x="678.25" y="1448.74">-0.49</text>
<text x="703.01" y="1448.74">0.34</text>
<text x="727.78" y="1448.74">-0.24</text>
<text x="752.55" y="1448.74">0.29</text>
<text x="232.38" y="1472.49">-0.24</text>
<text x="257.15" y="1472.49">-0.09</text>
<text x="281.93" y="1472.49">-0.22</text>
<text x="306.69" y="1472.49">0.21</text>
<text x="331.47" y="1472.49">-0.26</text>
<text x="356.24" y="1472.49">0.27</text>
<text x="381" y="1472.49">-0.02</text>
<text x="405.77" y="1472.49">-0.04</text>
<text x="430.54" y="1472.49">0.31</text>
<text x="455.31" y="1472.49">-0.01</text>
<text x="480.08" y="1472.49">-0.11</text>
<text x="504.86" y="1472.49">1.00</text>
<text x="529.62" y="1472.49">0.18</text>
<text x="554.39" y="1472.49">0.27</text>
<text x="579.16" y="1472.49">0.30</text>
<text x="603.93" y="1472.49">-0.04</text>
<text x="628.7" y="1472.49">-0.19</text>
<text x="653.47" y="1472.49">0.19</text>
<text x="678.25" y="1472.49">0.05</text>
<text x="703.01" y="1472.49">-0.31</text>
<text x="727.78" y="1472.49">0.11</text>
<text x="752.55" y="1472.49">-0.07</text>
<text x="232.38" y="1496.24">-0.23</text>
<text x="257.15" y="1496.24">0.05</text>
<text x="281.93" y="1496.24">-0.08</text>
<text x="306.69" y="1496.24">-0.05</text>
<text x="331.47" y="1496.24">-0.02</text>
<text x="356.24" y="1496.24">-0.18</text>
<text x="381" y="1496.24">-0.03</text>
<text x="405.77" y="1496.24">0.09</text>
<text x="430.54" y="1496.24">0.13</text>
<text x="455.31" y="1496.24">-0.19</text>
<text x="480.08" y="1496.24">0.48</text>
<text x="504.86" y="1496.24">0.18</text>
<text x="529.62" y="1496.24">1.00</text>
<text x="554.39" y="1496.24">0.16</text>
<text x="579.16" y="1496.24">-0.17</text>
<text x="603.93" y="1496.24">-0.65</text>
<text x="628.7" y="1496.24">0.04</text>
<text x="653.47" y="1496.24">-0.20</text>
<text x="678.25" y="1496.24">0.05</text>
<text x="703.01" y="1496.24">-0.01</text>
<text x="727.78" y="1496.24">-0.34</text>
<text x="752.55" y="1496.24">0.09</text>
<text x="232.38" y="1519.99">0.11</text>
<text x="257.15" y="1519.99">-0.04</text>
<text x="281.93" y="1519.99">-0.36</text>
<text x="306.69" y="1519.99">-0.24</text>
<text x="331.47" y="1519.99">-0.03</text>
<text x="356.24" y="1519.99">-0.12</text>
<text x="381" y="1519.99">0.24</text>
<text x="405.77" y="1519.99">0.46</text>
<text x="430.54" y="1519.99">-0.36</text>
<text x="455.31" y="1519.99">-0.10</text>
<text x="480.08" y="1519.99">-0.19</text>
<text x="504.86" y="1519.99">0.27</text>
<text x="529.62" y="1519.99">0.16</text>
<text x="554.39" y="1519.99">1.00</text>
<text x="579.16" y="1519.99">0.28</text>
<text x="603.93" y="1519.99">-0.33</text>
<text x="628.7" y="1519.99">0.15</text>
<text x="653.47" y="1519.99">0.42</text>
<text x="678.25" y="1519.99">-0.14</text>
<text x="703.01" y="1519.99">0.21</text>
<text x="727.78" y="1519.99">-0.32</text>
<text x="752.55" y="1519.99">0.38</text>
<text x="232.38" y="1543.74">-0.06</text>
<text x="257.15" y="1543.74">0.04</text>
<text x="281.93" y="1543.74">-0.05</text>
<text x="306.69" y="1543.74">0.17</text>
<text x="331.47" y="1543.74">-0.29</text>
<text x="356.24" y="1543.74">0.07</text>
<text x="381" y="1543.74">0.21</text>
<text x="405.77" y="1543.74">0.25</text>
<text x="430.54" y="1543.74">0.01</text>
<text x="455.31" y="1543.74">0.40</text>
<text x="480.08" y="1543.74">-0.32</text>
<text x="504.86" y="1543.74">0.30</text>
<text x="529.62" y="1543.74">-0.17</text>
<text x="554.39" y="1543.74">0.28</text>
<text x="579.16" y="1543.74">1.00</text>
<text x="603.93" y="1543.74">0.33</text>
<text x="628.7" y="1543.74">-0.04</text>
<text x="653.47" y="1543.74">0.21</text>
<text x="678.25" y="1543.74">-0.11</text>
<text x="703.01" y="1543.74">-0.11</text>
<text x="727.78" y="1543.74">0.43</text>
<text x="752.55" y="1543.74">0.11</text>
<text x="232.38" y="1567.49">-0.03</text>
<text x="257.15" y="1567.49">-0.02</text>
<text x="281.93" y="1567.49">0.07</text>
<text x="306.69" y="1567.49">0.24</text>
<text x="331.47" y="1567.49">-0.09</text>
<text x="356.24" y="1567.49">0.08</text>
<text x="381" y="1567.49">0.30</text>
<text x="405.77" y="1567.49">-0.27</text>
<text x="430.54" y="1567.49">-0.13</text>
<text x="455.31" y="1567.49">0.02</text>
<text x="480.08" y="1567.49">-0.12</text>
<text x="504.86" y="1567.49">-0.04</text>
<text x="529.62" y="1567.49">-0.65</text>
<text x="554.39" y="1567.49">-0.33</text>
<text x="579.16" y="1567.49">0.33</text>
<text x="603.93" y="1567.49">1.00</text>
<text x="628.7" y="1567.49">-0.04</text>
<text x="653.47" y="1567.49">-0.08</text>
<text x="678.25" y="1567.49">0.08</text>
<text x="703.01" y="1567.49">-0.25</text>
<text x="727.78" y="1567.49">0.52</text>
<text x="752.55" y="1567.49">-0.09</text>
<text x="232.38" y="1591.24">-0.02</text>
<text x="257.15" y="1591.24">0.02</text>
<text x="281.93" y="1591.24">-0.42</text>
<text x="306.69" y="1591.24">-0.47</text>
<text x="331.47" y="1591.24">0.47</text>
<text x="356.24" y="1591.24">-0.13</text>
<text x="381" y="1591.24">-0.17</text>
<text x="405.77" y="1591.24">-0.08</text>
<text x="430.54" y="1591.24">0.06</text>
<text x="455.31" y="1591.24">-0.31</text>
<text x="480.08" y="1591.24">-0.05</text>
<text x="504.86" y="1591.24">-0.19</text>
<text x="529.62" y="1591.24">0.04</text>
<text x="554.39" y="1591.24">0.15</text>
<text x="579.16" y="1591.24">-0.04</text>
<text x="603.93" y="1591.24">-0.04</text>
<text x="628.7" y="1591.24">1.00</text>
<text x="653.47" y="1591.24">-0.32</text>
<text x="678.25" y="1591.24">0.04</text>
<text x="703.01" y="1591.24">0.11</text>
<text x="727.78" y="1591.24">-0.10</text>
<text x="752.55" y="1591.24">0.13</text>
<text x="232.38" y="1614.99">0.26</text>
<text x="257.15" y="1614.99">-0.35</text>
<text x="281.93" y="1614.99">-0.13</text>
<text x="306.69" y="1614.99">-0.15</text>
<text x="331.47" y="1614.99">0.01</text>
<text x="356.24" y="1614.99">-0.13</text>
<text x="381" y="1614.99">0.20</text>
<text x="405.77" y="1614.99">0.46</text>
<text x="430.54" y="1614.99">-0.32</text>
<text x="455.31" y="1614.99">0.48</text>
<text x="480.08" y="1614.99">-0.08</text>
<text x="504.86" y="1614.99">0.19</text>
<text x="529.62" y="1614.99">-0.20</text>
<text x="554.39" y="1614.99">0.42</text>
<text x="579.16" y="1614.99">0.21</text>
<text x="603.93" y="1614.99">-0.08</text>
<text x="628.7" y="1614.99">-0.32</text>
<text x="653.47" y="1614.99">1.00</text>
<text x="678.25" y="1614.99">-0.42</text>
<text x="703.01" y="1614.99">0.44</text>
<text x="727.78" y="1614.99">-0.10</text>
<text x="752.55" y="1614.99">0.10</text>
<text x="232.38" y="1638.74">-0.56</text>
<text x="257.15" y="1638.74">0.52</text>
<text x="281.93" y="1638.74">0.17</text>
<text x="306.69" y="1638.74">-0.11</text>
<text x="331.47" y="1638.74">-0.11</text>
<text x="356.24" y="1638.74">0.57</text>
<text x="381" y="1638.74">0.14</text>
<text x="405.77" y="1638.74">-0.60</text>
<text x="430.54" y="1638.74">-0.15</text>
<text x="455.31" y="1638.74">0.14</text>
<text x="480.08" y="1638.74">-0.49</text>
<text x="504.86" y="1638.74">0.05</text>
<text x="529.62" y="1638.74">0.05</text>
<text x="554.39" y="1638.74">-0.14</text>
<text x="579.16" y="1638.74">-0.11</text>
<text x="603.93" y="1638.74">0.08</text>
<text x="628.7" y="1638.74">0.04</text>
<text x="653.47" y="1638.74">-0.42</text>
<text x="678.25" y="1638.74">1.00</text>
<text x="703.01" y="1638.74">-0.62</text>
<text x="727.78" y="1638.74">0.08</text>
<text x="752.55" y="1638.74">-0.47</text>
<text x="232.38" y="1662.49">0.31</text>
<text x="257.15" y="1662.49">-0.15</text>
<text x="281.93" y="1662.49">-0.42</text>
<text x="306.69" y="1662.49">-0.42</text>
<text x="331.47" y="1662.49">0.55</text>
<text x="356.24" y="1662.49">-0.68</text>
<text x="381" y="1662.49">-0.23</text>
<text x="405.77" y="1662.49">0.47</text>
<text x="430.54" y="1662.49">-0.09</text>
<text x="455.31" y="1662.49">-0.06</text>
<text x="480.08" y="1662.49">0.34</text>
<text x="504.86" y="1662.49">-0.31</text>
<text x="529.62" y="1662.49">-0.01</text>
<text x="554.39" y="1662.49">0.21</text>
<text x="579.16" y="1662.49">-0.11</text>
<text x="603.93" y="1662.49">-0.25</text>
<text x="628.7" y="1662.49">0.11</text>
<text x="653.47" y="1662.49">0.44</text>
<text x="678.25" y="1662.49">-0.62</text>
<text x="703.01" y="1662.49">1.00</text>
<text x="727.78" y="1662.49">-0.42</text>
<text x="752.55" y="1662.49">0.19</text>
<text x="232.38" y="1686.24">-0.01</text>
<text x="257.15" y="1686.24">0.02</text>
<text x="281.93" y="1686.24">0.46</text>
<text x="306.69" y="1686.24">0.13</text>
<text x="331.47" y="1686.24">-0.12</text>
<text x="356.24" y="1686.24">0.22</text>
<text x="381" y="1686.24">0.02</text>
<text x="405.77" y="1686.24">-0.33</text>
<text x="430.54" y="1686.24">0.14</text>
<text x="455.31" y="1686.24">0.30</text>
<text x="480.08" y="1686.24">-0.24</text>
<text x="504.86" y="1686.24">0.11</text>
<text x="529.62" y="1686.24">-0.34</text>
<text x="554.39" y="1686.24">-0.32</text>
<text x="579.16" y="1686.24">0.43</text>
<text x="603.93" y="1686.24">0.52</text>
<text x="628.7" y="1686.24">-0.10</text>
<text x="653.47" y="1686.24">-0.10</text>
<text x="678.25" y="1686.24">0.08</text>
<text x="703.01" y="1686.24">-0.42</text>
<text x="727.78" y="1686.24">1.00</text>
<text x="752.55" y="1686.24">-0.24</text>
<text x="232.38" y="1709.99">0.45</text>
<text x="257.15" y="1709.99">-0.40</text>
<text x="281.93" y="1709.99">-0.34</text>
<text x="306.69" y="1709.99">-0.02</text>
<text x="331.47" y="1709.99">-0.08</text>
<text x="356.24" y="1709.99">-0.26</text>
<text x="381" y="1709.99">0.24</text>
<text x="405.77" y="1709.99">0.41</text>
<text x="430.54" y="1709.99">0.09</text>
<text x="455.31" y="1709.99">-0.36</text>
<text x="480.08" y="1709.99">0.29</text>
<text x="504.86" y="1709.99">-0.07</text>
<text x="529.62" y="1709.99">0.09</text>
<text x="554.39" y="1709.99">0.38</text>
<text x="579.16" y="1709.99">0.11</text>
<text x="603.93" y="1709.99">-0.09</text>
<text x="628.7" y="1709.99">0.13</text>
<text x="653.47" y="1709.99">0.10</text>
<text x="678.25" y="1709.99">-0.47</text>
<text x="703.01" y="1709.99">0.19</text>
<text x="727.78" y="1709.99">-0.24</text>
<text x="752.55" y="1709.99">1.00</text>
</g>
<text transform="translate(214.5,1213.69) scale(1,1.045)" font-size="14.1" text-anchor="end">B cells naive</text>
<text transform="translate(214.5,1237.44) scale(1,1.045)" font-size="14.1" text-anchor="end">B cells memory</text>
<text transform="translate(214.5,1261.19) scale(1,1.045)" font-size="14.1" text-anchor="end">Plasma cells</text>
<text transform="translate(214.5,1284.94) scale(1,1.045)" font-size="14.1" text-anchor="end">T cells CD8</text>
<text transform="translate(214.5,1308.69) scale(1,1.045)" font-size="14.1" text-anchor="end">T cells CD4 naive</text>
<text transform="translate(214.5,1332.44) scale(1,1.045)" font-size="14.1" text-anchor="end">T cells CD4 memory resting</text>
<text transform="translate(214.5,1356.19) scale(1,1.045)" font-size="14.1" text-anchor="end">T cells CD4 memory activated</text>
<text transform="translate(214.5,1379.94) scale(1,1.045)" font-size="14.1" text-anchor="end">T cells follicular helper</text>
<text transform="translate(214.5,1403.69) scale(1,1.045)" font-size="14.1" text-anchor="end">T cells regulatory (Tregs)</text>
<text transform="translate(214.5,1427.44) scale(1,1.045)" font-size="14.1" text-anchor="end">T cells gamma delta</text>
<text transform="translate(214.5,1451.19) scale(1,1.045)" font-size="14.1" text-anchor="end">NK cells resting</text>
<text transform="translate(214.5,1474.94) scale(1,1.045)" font-size="14.1" text-anchor="end">NK cells activated</text>
<text transform="translate(214.5,1498.69) scale(1,1.045)" font-size="14.1" text-anchor="end">Monocytes</text>
<text transform="translate(214.5,1522.44) scale(1,1.045)" font-size="14.1" text-anchor="end">Macrophages M0</text>
<text transform="translate(214.5,1546.19) scale(1,1.045)" font-size="14.1" text-anchor="end">Macrophages M1</text>
<text transform="translate(214.5,1569.94) scale(1,1.045)" font-size="14.1" text-anchor="end">Macrophages M2</text>
<text transform="translate(214.5,1593.69) scale(1,1.045)" font-size="14.1" text-anchor="end">Dendritic cells resting</text>
<text transform="translate(214.5,1617.44) scale(1,1.045)" font-size="14.1" text-anchor="end">Dendritic cells activated</text>
<text transform="translate(214.5,1641.19) scale(1,1.045)" font-size="14.1" text-anchor="end">Mast cells resting</text>
<text transform="translate(214.5,1664.94) scale(1,1.045)" font-size="14.1" text-anchor="end">Mast cells activated</text>
<text transform="translate(214.5,1688.69) scale(1,1.045)" font-size="14.1" text-anchor="end">Eosinophils</text>
<text transform="translate(214.5,1712.44) scale(1,1.045)" font-size="14.1" text-anchor="end">Neutrophils</text>
<text transform="translate(238.88,1732.2) rotate(-45)" font-size="14.1" text-anchor="end">B cells naive</text>
<text transform="translate(263.65,1732.2) rotate(-45)" font-size="14.1" text-anchor="end">B cells memory</text>
<text transform="translate(288.43,1732.2) rotate(-45)" font-size="14.1" text-anchor="end">Plasma cells</text>
<text transform="translate(313.19,1732.2) rotate(-45)" font-size="14.1" text-anchor="end">T cells CD8</text>
<text transform="translate(337.97,1732.2) rotate(-45)" font-size="14.1" text-anchor="end">T cells CD4 naive</text>
<text transform="translate(362.74,1732.2) rotate(-45)" font-size="14.1" text-anchor="end">T cells CD4 memory resting</text>
<text transform="translate(387.5,1732.2) rotate(-45)" font-size="14.1" text-anchor="end">T cells CD4 memory activated</text>
<text transform="translate(412.27,1732.2) rotate(-45)" font-size="14.1" text-anchor="end">T cells follicular helper</text>
<text transform="translate(437.04,1732.2) rotate(-45)" font-size="14.1" text-anchor="end">T cells regulatory (Tregs)</text>
<text transform="translate(461.81,1732.2) rotate(-45)" font-size="14.1" text-anchor="end">T cells gamma delta</text>
<text transform="translate(486.58,1732.2) rotate(-45)" font-size="14.1" text-anchor="end">NK cells resting</text>
<text transform="translate(511.36,1732.2) rotate(-45)" font-size="14.1" text-anchor="end">NK cells activated</text>
<text transform="translate(536.12,1732.2) rotate(-45)" font-size="14.1" text-anchor="end">Monocytes</text>
<text transform="translate(560.89,1732.2) rotate(-45)" font-size="14.1" text-anchor="end">Macrophages M0</text>
<text transform="translate(585.66,1732.2) rotate(-45)" font-size="14.1" text-anchor="end">Macrophages M1</text>
<text transform="translate(610.43,1732.2) rotate(-45)" font-size="14.1" text-anchor="end">Macrophages M2</text>
<text transform="translate(635.2,1732.2) rotate(-45)" font-size="14.1" text-anchor="end">Dendritic cells resting</text>
<text transform="translate(659.97,1732.2) rotate(-45)" font-size="14.1" text-anchor="end">Dendritic cells activated</text>
<text transform="translate(684.75,1732.2) rotate(-45)" font-size="14.1" text-anchor="end">Mast cells resting</text>
<text transform="translate(709.51,1732.2) rotate(-45)" font-size="14.1" text-anchor="end">Mast cells activated</text>
<text transform="translate(734.28,1732.2) rotate(-45)" font-size="14.1" text-anchor="end">Eosinophils</text>
<text transform="translate(759.05,1732.2) rotate(-45)" font-size="14.1" text-anchor="end">Neutrophils</text>
<text transform="translate(21,1448) rotate(-90)" font-size="26" text-anchor="middle">Immune cells</text>
<text transform="translate(473.4,1883.91) scale(1,1.045)" font-size="26" text-anchor="middle">Immune cells</text>
<defs><linearGradient id="cb1" x1="0" y1="0" x2="0" y2="1">
<stop offset="0" stop-color="#E45844"/>
<stop offset="0.1" stop-color="#E97969"/>
<stop offset="0.2" stop-color="#EF9B8F"/>
<stop offset="0.3" stop-color="#F4BCB4"/>
<stop offset="0.4" stop-color="#FADEDA"/>
<stop offset="0.5" stop-color="#FFFFFF"/>
<stop offset="0.6" stop-color="#D5E2F1"/>
<stop offset="0.7" stop-color="#ABC6E3"/>
<stop offset="0.8" stop-color="#80A9D6"/>
<stop offset="0.9" stop-color="#568DC8"/>
<stop offset="1" stop-color="#2C70BA"/>
</linearGradient></defs>
<rect x="772" y="1424.4" width="16.3" height="82.3" fill="url(#cb1)"/>
<line x1="772" y1="1444.98" x2="775.26" y2="1444.98" stroke="#fff" stroke-width="1"/>
<line x1="785.04" y1="1444.98" x2="788.3" y2="1444.98" stroke="#fff" stroke-width="1"/>
<line x1="772" y1="1486.12" x2="775.26" y2="1486.12" stroke="#fff" stroke-width="1"/>
<line x1="785.04" y1="1486.12" x2="788.3" y2="1486.12" stroke="#fff" stroke-width="1"/>
<text transform="translate(799.1,1429.54) scale(1,1.045)" font-size="13.7">1.0</text>
<text transform="translate(799.1,1450.11) scale(1,1.045)" font-size="13.7">0.5</text>
<text transform="translate(799.1,1470.69) scale(1,1.045)" font-size="13.7">0.0</text>
<text transform="translate(799.1,1491.26) scale(1,1.045)" font-size="13.7">-0.5</text>
<text transform="translate(799.1,1511.84) scale(1,1.045)" font-size="13.7">-1.0</text>
<text transform="translate(772,1418.48) scale(1,1.045)" font-size="13.8">Cor</text>
<g shape-rendering="crispEdges">
<rect x="1043.1" y="1196.2" width="26.49" height="25.42" fill="#E45844"/>
<rect x="1069.29" y="1196.2" width="26.49" height="25.42" fill="#A0BFE0"/>
<rect x="1095.48" y="1196.2" width="26.49" height="25.42" fill="#EAF1F8"/>
<rect x="1121.67" y="1196.2" width="26.49" height="25.42" fill="#F4BCB4"/>
<rect x="1147.86" y="1196.2" width="26.49" height="25.42" fill="#ECF2F9"/>
<rect x="1174.05" y="1196.2" width="26.49" height="25.42" fill="#E4ECF6"/>
<rect x="1200.24" y="1196.2" width="26.49" height="25.42" fill="#F4BEB6"/>
<rect x="1226.43" y="1196.2" width="26.49" height="25.42" fill="#F7CDC7"/>
<rect x="1252.62" y="1196.2" width="26.49" height="25.42" fill="#FEFCFB"/>
<rect x="1278.81" y="1196.2" width="26.49" height="25.42" fill="#B5CDE7"/>
<rect x="1305" y="1196.2" width="26.49" height="25.42" fill="#FADFDB"/>
<rect x="1331.19" y="1196.2" width="26.49" height="25.42" fill="#F4BEB6"/>
<rect x="1357.38" y="1196.2" width="26.49" height="25.42" fill="#FBE8E5"/>
<rect x="1383.57" y="1196.2" width="26.49" height="25.42" fill="#F7CDC7"/>
<rect x="1409.76" y="1196.2" width="26.49" height="25.42" fill="#CADBEE"/>
<rect x="1435.95" y="1196.2" width="26.49" height="25.42" fill="#B7CEE8"/>
<rect x="1462.14" y="1196.2" width="26.49" height="25.42" fill="#F4B9B0"/>
<rect x="1488.33" y="1196.2" width="26.49" height="25.42" fill="#FBE8E5"/>
<rect x="1514.52" y="1196.2" width="26.49" height="25.42" fill="#C2D6EB"/>
<rect x="1540.71" y="1196.2" width="26.49" height="25.42" fill="#A2C0E1"/>
<rect x="1566.9" y="1196.2" width="26.49" height="25.42" fill="#F0F5FA"/>
<rect x="1043.1" y="1221.32" width="26.49" height="25.42" fill="#A0BFE0"/>
<rect x="1069.29" y="1221.32" width="26.49" height="25.42" fill="#E45844"/>
<rect x="1095.48" y="1221.32" width="26.49" height="25.42" fill="#E6EEF7"/>
<rect x="1121.67" y="1221.32" width="26.49" height="25.42" fill="#B7CEE8"/>
<rect x="1147.86" y="1221.32" width="26.49" height="25.42" fill="#FADEDA"/>
<rect x="1174.05" y="1221.32" width="26.49" height="25.42" fill="#FADEDA"/>
<rect x="1200.24" y="1221.32" width="26.49" height="25.42" fill="#EAF1F8"/>
<rect x="1226.43" y="1221.32" width="26.49" height="25.42" fill="#BED3EA"/>
<rect x="1252.62" y="1221.32" width="26.49" height="25.42" fill="#E6EEF7"/>
<rect x="1278.81" y="1221.32" width="26.49" height="25.42" fill="#F0F5FA"/>
<rect x="1305" y="1221.32" width="26.49" height="25.42" fill="#F2F6FB"/>
<rect x="1331.19" y="1221.32" width="26.49" height="25.42" fill="#D1E0F0"/>
<rect x="1357.38" y="1221.32" width="26.49" height="25.42" fill="#D5E2F1"/>
<rect x="1383.57" y="1221.32" width="26.49" height="25.42" fill="#C6D8EC"/>
<rect x="1409.76" y="1221.32" width="26.49" height="25.42" fill="#E1EBF5"/>
<rect x="1435.95" y="1221.32" width="26.49" height="25.42" fill="#FAE1DD"/>
<rect x="1462.14" y="1221.32" width="26.49" height="25.42" fill="#D5E2F1"/>
<rect x="1488.33" y="1221.32" width="26.49" height="25.42" fill="#F9D9D4"/>
<rect x="1514.52" y="1221.32" width="26.49" height="25.42" fill="#FEFCFB"/>
<rect x="1540.71" y="1221.32" width="26.49" height="25.42" fill="#FADEDA"/>
<rect x="1566.9" y="1221.32" width="26.49" height="25.42" fill="#FBFCFE"/>
<rect x="1043.1" y="1246.44" width="26.49" height="25.42" fill="#EAF1F8"/>
<rect x="1069.29" y="1246.44" width="26.49" height="25.42" fill="#E6EEF7"/>
<rect x="1095.48" y="1246.44" width="26.49" height="25.42" fill="#E45844"/>
<rect x="1121.67" y="1246.44" width="26.49" height="25.42" fill="#F4F8FC"/>
<rect x="1147.86" y="1246.44" width="26.49" height="25.42" fill="#FBE9E7"/>
<rect x="1174.05" y="1246.44" width="26.49" height="25.42" fill="#D1E0F0"/>
<rect x="1200.24" y="1246.44" width="26.49" height="25.42" fill="#CADBEE"/>
<rect x="1226.43" y="1246.44" width="26.49" height="25.42" fill="#FEF7F6"/>
<rect x="1252.62" y="1246.44" width="26.49" height="25.42" fill="#FBE6E3"/>
<rect x="1278.81" y="1246.44" width="26.49" height="25.42" fill="#EAF1F8"/>
<rect x="1305" y="1246.44" width="26.49" height="25.42" fill="#FCEBE9"/>
<rect x="1331.19" y="1246.44" width="26.49" height="25.42" fill="#DFEAF5"/>
<rect x="1357.38" y="1246.44" width="26.49" height="25.42" fill="#FDF0EE"/>
<rect x="1383.57" y="1246.44" width="26.49" height="25.42" fill="#ABC6E3"/>
<rect x="1409.76" y="1246.44" width="26.49" height="25.42" fill="#FEFAF9"/>
<rect x="1435.95" y="1246.44" width="26.49" height="25.42" fill="#ECF2F9"/>
<rect x="1462.14" y="1246.44" width="26.49" height="25.42" fill="#E6EEF7"/>
<rect x="1488.33" y="1246.44" width="26.49" height="25.42" fill="#C6D8EC"/>
<rect x="1514.52" y="1246.44" width="26.49" height="25.42" fill="#F4F8FC"/>
<rect x="1540.71" y="1246.44" width="26.49" height="25.42" fill="#F9DCD8"/>
<rect x="1566.9" y="1246.44" width="26.49" height="25.42" fill="#FEFAF9"/>
<rect x="1043.1" y="1271.56" width="26.49" height="25.42" fill="#F4BCB4"/>
<rect x="1069.29" y="1271.56" width="26.49" height="25.42" fill="#B7CEE8"/>
<rect x="1095.48" y="1271.56" width="26.49" height="25.42" fill="#F4F8FC"/>
<rect x="1121.67" y="1271.56" width="26.49" height="25.42" fill="#E45844"/>
<rect x="1147.86" y="1271.56" width="26.49" height="25.42" fill="#F9FBFD"/>
<rect x="1174.05" y="1271.56" width="26.49" height="25.42" fill="#87ADD8"/>
<rect x="1200.24" y="1271.56" width="26.49" height="25.42" fill="#ED9285"/>
<rect x="1226.43" y="1271.56" width="26.49" height="25.42" fill="#F2B1A7"/>
<rect x="1252.62" y="1271.56" width="26.49" height="25.42" fill="#FCEDEA"/>
<rect x="1278.81" y="1271.56" width="26.49" height="25.42" fill="#ECF2F9"/>
<rect x="1305" y="1271.56" width="26.49" height="25.42" fill="#CEDEEF"/>
<rect x="1331.19" y="1271.56" width="26.49" height="25.42" fill="#F7CDC7"/>
<rect x="1357.38" y="1271.56" width="26.49" height="25.42" fill="#F9DCD8"/>
<rect x="1383.57" y="1271.56" width="26.49" height="25.42" fill="#FAE3DF"/>
<rect x="1409.76" y="1271.56" width="26.49" height="25.42" fill="#89AFD8"/>
<rect x="1435.95" y="1271.56" width="26.49" height="25.42" fill="#729FD1"/>
<rect x="1462.14" y="1271.56" width="26.49" height="25.42" fill="#F1A69C"/>
<rect x="1488.33" y="1271.56" width="26.49" height="25.42" fill="#F6C8C1"/>
<rect x="1514.52" y="1271.56" width="26.49" height="25.42" fill="#D5E2F1"/>
<rect x="1540.71" y="1271.56" width="26.49" height="25.42" fill="#6B9BCF"/>
<rect x="1566.9" y="1271.56" width="26.49" height="25.42" fill="#D7E4F2"/>
<rect x="1043.1" y="1296.68" width="26.49" height="25.42" fill="#ECF2F9"/>
<rect x="1069.29" y="1296.68" width="26.49" height="25.42" fill="#FADEDA"/>
<rect x="1095.48" y="1296.68" width="26.49" height="25.42" fill="#FBE9E7"/>
<rect x="1121.67" y="1296.68" width="26.49" height="25.42" fill="#F9FBFD"/>
<rect x="1147.86" y="1296.68" width="26.49" height="25.42" fill="#E45844"/>
<rect x="1174.05" y="1296.68" width="26.49" height="25.42" fill="#D9E5F3"/>
<rect x="1200.24" y="1296.68" width="26.49" height="25.42" fill="#ECF2F9"/>
<rect x="1226.43" y="1296.68" width="26.49" height="25.42" fill="#E1EBF5"/>
<rect x="1252.62" y="1296.68" width="26.49" height="25.42" fill="#FBE4E1"/>
<rect x="1278.81" y="1296.68" width="26.49" height="25.42" fill="#F9FBFD"/>
<rect x="1305" y="1296.68" width="26.49" height="25.42" fill="#F7D0CB"/>
<rect x="1331.19" y="1296.68" width="26.49" height="25.42" fill="#F9FBFD"/>
<rect x="1357.38" y="1296.68" width="26.49" height="25.42" fill="#F9FBFD"/>
<rect x="1383.57" y="1296.68" width="26.49" height="25.42" fill="#DBE7F3"/>
<rect x="1409.76" y="1296.68" width="26.49" height="25.42" fill="#FCEDEA"/>
<rect x="1435.95" y="1296.68" width="26.49" height="25.42" fill="#FDF0EE"/>
<rect x="1462.14" y="1296.68" width="26.49" height="25.42" fill="#EAF1F8"/>
<rect x="1488.33" y="1296.68" width="26.49" height="25.42" fill="#F7CBC5"/>
<rect x="1514.52" y="1296.68" width="26.49" height="25.42" fill="#CCDDEE"/>
<rect x="1540.71" y="1296.68" width="26.49" height="25.42" fill="#FBE8E5"/>
<rect x="1566.9" y="1296.68" width="26.49" height="25.42" fill="#ECF2F9"/>
<rect x="1043.1" y="1321.8" width="26.49" height="25.42" fill="#E4ECF6"/>
<rect x="1069.29" y="1321.8" width="26.49" height="25.42" fill="#FADEDA"/>
<rect x="1095.48" y="1321.8" width="26.49" height="25.42" fill="#D1E0F0"/>
<rect x="1121.67" y="1321.8" width="26.49" height="25.42" fill="#87ADD8"/>
<rect x="1147.86" y="1321.8" width="26.49" height="25.42" fill="#D9E5F3"/>
<rect x="1174.05" y="1321.8" width="26.49" height="25.42" fill="#E45844"/>
<rect x="1200.24" y="1321.8" width="26.49" height="25.42" fill="#DDE8F4"/>
<rect x="1226.43" y="1321.8" width="26.49" height="25.42" fill="#C2D6EB"/>
<rect x="1252.62" y="1321.8" width="26.49" height="25.42" fill="#A0BFE0"/>
<rect x="1278.81" y="1321.8" width="26.49" height="25.42" fill="#C4D7EC"/>
<rect x="1305" y="1321.8" width="26.49" height="25.42" fill="#E4ECF6"/>
<rect x="1331.19" y="1321.8" width="26.49" height="25.42" fill="#F0F5FA"/>
<rect x="1357.38" y="1321.8" width="26.49" height="25.42" fill="#9ABADE"/>
<rect x="1383.57" y="1321.8" width="26.49" height="25.42" fill="#E4ECF6"/>
<rect x="1409.76" y="1321.8" width="26.49" height="25.42" fill="#FAE1DD"/>
<rect x="1435.95" y="1321.8" width="26.49" height="25.42" fill="#F4BEB6"/>
<rect x="1462.14" y="1321.8" width="26.49" height="25.42" fill="#9ABADE"/>
<rect x="1488.33" y="1321.8" width="26.49" height="25.42" fill="#E6EEF7"/>
<rect x="1514.52" y="1321.8" width="26.49" height="25.42" fill="#FCEBE9"/>
<rect x="1540.71" y="1321.8" width="26.49" height="25.42" fill="#F8D4CE"/>
<rect x="1566.9" y="1321.8" width="26.49" height="25.42" fill="#F6C6BF"/>
<rect x="1043.1" y="1346.92" width="26.49" height="25.42" fill="#F4BEB6"/>
<rect x="1069.29" y="1346.92" width="26.49" height="25.42" fill="#EAF1F8"/>
<rect x="1095.48" y="1346.92" width="26.49" height="25.42" fill="#CADBEE"/>
<rect x="1121.67" y="1346.92" width="26.49" height="25.42" fill="#ED9285"/>
<rect x="1147.86" y="1346.92" width="26.49" height="25.42" fill="#ECF2F9"/>
<rect x="1174.05" y="1346.92" width="26.49" height="25.42" fill="#DDE8F4"/>
<rect x="1200.24" y="1346.92" width="26.49" height="25.42" fill="#E45844"/>
<rect x="1226.43" y="1346.92" width="26.49" height="25.42" fill="#F8D5D0"/>
<rect x="1252.62" y="1346.92" width="26.49" height="25.42" fill="#BED3EA"/>
<rect x="1278.81" y="1346.92" width="26.49" height="25.42" fill="#D5E2F1"/>
<rect x="1305" y="1346.92" width="26.49" height="25.42" fill="#9EBDDF"/>
<rect x="1331.19" y="1346.92" width="26.49" height="25.42" fill="#F7CDC7"/>
<rect x="1357.38" y="1346.92" width="26.49" height="25.42" fill="#FFFDFD"/>
<rect x="1383.57" y="1346.92" width="26.49" height="25.42" fill="#F9DCD8"/>
<rect x="1409.76" y="1346.92" width="26.49" height="25.42" fill="#93B6DC"/>
<rect x="1435.95" y="1346.92" width="26.49" height="25.42" fill="#87ADD8"/>
<rect x="1462.14" y="1346.92" width="26.49" height="25.42" fill="#F4BBB2"/>
<rect x="1488.33" y="1346.92" width="26.49" height="25.42" fill="#F6C8C1"/>
<rect x="1514.52" y="1346.92" width="26.49" height="25.42" fill="#D1E0F0"/>
<rect x="1540.71" y="1346.92" width="26.49" height="25.42" fill="#91B5DB"/>
<rect x="1566.9" y="1346.92" width="26.49" height="25.42" fill="#FDF3F2"/>
<rect x="1043.1" y="1372.04" width="26.49" height="25.42" fill="#F7CDC7"/>
<rect x="1069.29" y="1372.04" width="26.49" height="25.42" fill="#BED3EA"/>
<rect x="1095.48" y="1372.04" width="26.49" height="25.42" fill="#FEF7F6"/>
<rect x="1121.67" y="1372.04" width="26.49" height="25.42" fill="#F2B1A7"/>
<rect x="1147.86" y="1372.04" width="26.49" height="25.42" fill="#E1EBF5"/>
<rect x="1174.05" y="1372.04" width="26.49" height="25.42" fill="#C2D6EB"/>
<rect x="1200.24" y="1372.04" width="26.49" height="25.42" fill="#F8D5D0"/>
<rect x="1226.43" y="1372.04" width="26.49" height="25.42" fill="#E45844"/>
<rect x="1252.62" y="1372.04" width="26.49" height="25.42" fill="#F6C8C1"/>
<rect x="1278.81" y="1372.04" width="26.49" height="25.42" fill="#FEF8F8"/>
<rect x="1305" y="1372.04" width="26.49" height="25.42" fill="#C4D7EC"/>
<rect x="1331.19" y="1372.04" width="26.49" height="25.42" fill="#E1EBF5"/>
<rect x="1357.38" y="1372.04" width="26.49" height="25.42" fill="#FCEDEA"/>
<rect x="1383.57" y="1372.04" width="26.49" height="25.42" fill="#FBFCFE"/>
<rect x="1409.76" y="1372.04" width="26.49" height="25.42" fill="#CEDEEF"/>
<rect x="1435.95" y="1372.04" width="26.49" height="25.42" fill="#B7CEE8"/>
<rect x="1462.14" y="1372.04" width="26.49" height="25.42" fill="#F5C3BC"/>
<rect x="1488.33" y="1372.04" width="26.49" height="25.42" fill="#FFFFFF"/>
<rect x="1514.52" y="1372.04" width="26.49" height="25.42" fill="#FFFDFD"/>
<rect x="1540.71" y="1372.04" width="26.49" height="25.42" fill="#9EBDDF"/>
<rect x="1566.9" y="1372.04" width="26.49" height="25.42" fill="#FBE8E5"/>
<rect x="1043.1" y="1397.16" width="26.49" height="25.42" fill="#FEFCFB"/>
<rect x="1069.29" y="1397.16" width="26.49" height="25.42" fill="#E6EEF7"/>
<rect x="1095.48" y="1397.16" width="26.49" height="25.42" fill="#FBE6E3"/>
<rect x="1121.67" y="1397.16" width="26.49" height="25.42" fill="#FCEDEA"/>
<rect x="1147.86" y="1397.16" width="26.49" height="25.42" fill="#FBE4E1"/>
<rect x="1174.05" y="1397.16" width="26.49" height="25.42" fill="#A0BFE0"/>
<rect x="1200.24" y="1397.16" width="26.49" height="25.42" fill="#BED3EA"/>
<rect x="1226.43" y="1397.16" width="26.49" height="25.42" fill="#F6C8C1"/>
<rect x="1252.62" y="1397.16" width="26.49" height="25.42" fill="#E45844"/>
<rect x="1278.81" y="1397.16" width="26.49" height="25.42" fill="#FDF2F0"/>
<rect x="1305" y="1397.16" width="26.49" height="25.42" fill="#F7CDC7"/>
<rect x="1331.19" y="1397.16" width="26.49" height="25.42" fill="#DDE8F4"/>
<rect x="1357.38" y="1397.16" width="26.49" height="25.42" fill="#F5C1BA"/>
<rect x="1383.57" y="1397.16" width="26.49" height="25.42" fill="#FADFDB"/>
<rect x="1409.76" y="1397.16" width="26.49" height="25.42" fill="#FBE8E5"/>
<rect x="1435.95" y="1397.16" width="26.49" height="25.42" fill="#EEF4F9"/>
<rect x="1462.14" y="1397.16" width="26.49" height="25.42" fill="#F2F6FB"/>
<rect x="1488.33" y="1397.16" width="26.49" height="25.42" fill="#FCEBE9"/>
<rect x="1514.52" y="1397.16" width="26.49" height="25.42" fill="#FDF3F2"/>
<rect x="1540.71" y="1397.16" width="26.49" height="25.42" fill="#C4D7EC"/>
<rect x="1566.9" y="1397.16" width="26.49" height="25.42" fill="#EAF1F8"/>
<rect x="1043.1" y="1422.28" width="26.49" height="25.42" fill="#B5CDE7"/>
<rect x="1069.29" y="1422.28" width="26.49" height="25.42" fill="#F0F5FA"/>
<rect x="1095.48" y="1422.28" width="26.49" height="25.42" fill="#EAF1F8"/>
<rect x="1121.67" y="1422.28" width="26.49" height="25.42" fill="#ECF2F9"/>
<rect x="1147.86" y="1422.28" width="26.49" height="25.42" fill="#F9FBFD"/>
<rect x="1174.05" y="1422.28" width="26.49" height="25.42" fill="#C4D7EC"/>
<rect x="1200.24" y="1422.28" width="26.49" height="25.42" fill="#D5E2F1"/>
<rect x="1226.43" y="1422.28" width="26.49" height="25.42" fill="#FEF8F8"/>
<rect x="1252.62" y="1422.28" width="26.49" height="25.42" fill="#FDF2F0"/>
<rect x="1278.81" y="1422.28" width="26.49" height="25.42" fill="#E45844"/>
<rect x="1305" y="1422.28" width="26.49" height="25.42" fill="#D3E1F1"/>
<rect x="1331.19" y="1422.28" width="26.49" height="25.42" fill="#C8DAED"/>
<rect x="1357.38" y="1422.28" width="26.49" height="25.42" fill="#F2F6FB"/>
<rect x="1383.57" y="1422.28" width="26.49" height="25.42" fill="#EEF4F9"/>
<rect x="1409.76" y="1422.28" width="26.49" height="25.42" fill="#FAE1DD"/>
<rect x="1435.95" y="1422.28" width="26.49" height="25.42" fill="#F6CAC3"/>
<rect x="1462.14" y="1422.28" width="26.49" height="25.42" fill="#FCEEEC"/>
<rect x="1488.33" y="1422.28" width="26.49" height="25.42" fill="#DFEAF5"/>
<rect x="1514.52" y="1422.28" width="26.49" height="25.42" fill="#FEF8F8"/>
<rect x="1540.71" y="1422.28" width="26.49" height="25.42" fill="#F9DAD6"/>
<rect x="1566.9" y="1422.28" width="26.49" height="25.42" fill="#D5E2F1"/>
<rect x="1043.1" y="1447.4" width="26.49" height="25.42" fill="#FADFDB"/>
<rect x="1069.29" y="1447.4" width="26.49" height="25.42" fill="#F2F6FB"/>
<rect x="1095.48" y="1447.4" width="26.49" height="25.42" fill="#FCEBE9"/>
<rect x="1121.67" y="1447.4" width="26.49" height="25.42" fill="#CEDEEF"/>
<rect x="1147.86" y="1447.4" width="26.49" height="25.42" fill="#F7D0CB"/>
<rect x="1174.05" y="1447.4" width="26.49" height="25.42" fill="#E4ECF6"/>
<rect x="1200.24" y="1447.4" width="26.49" height="25.42" fill="#9EBDDF"/>
<rect x="1226.43" y="1447.4" width="26.49" height="25.42" fill="#C4D7EC"/>
<rect x="1252.62" y="1447.4" width="26.49" height="25.42" fill="#F7CDC7"/>
<rect x="1278.81" y="1447.4" width="26.49" height="25.42" fill="#D3E1F1"/>
<rect x="1305" y="1447.4" width="26.49" height="25.42" fill="#E45844"/>
<rect x="1331.19" y="1447.4" width="26.49" height="25.42" fill="#F9FBFD"/>
<rect x="1357.38" y="1447.4" width="26.49" height="25.42" fill="#FBE8E5"/>
<rect x="1383.57" y="1447.4" width="26.49" height="25.42" fill="#FCEDEA"/>
<rect x="1409.76" y="1447.4" width="26.49" height="25.42" fill="#F7D0CB"/>
<rect x="1435.95" y="1447.4" width="26.49" height="25.42" fill="#F7D0CB"/>
<rect x="1462.14" y="1447.4" width="26.49" height="25.42" fill="#E1EBF5"/>
<rect x="1488.33" y="1447.4" width="26.49" height="25.42" fill="#FEFAF9"/>
<rect x="1514.52" y="1447.4" width="26.49" height="25.42" fill="#D9E5F3"/>
<rect x="1540.71" y="1447.4" width="26.49" height="25.42" fill="#F9DCD8"/>
<rect x="1566.9" y="1447.4" width="26.49" height="25.42" fill="#E8EFF7"/>
<rect x="1043.1" y="1472.52" width="26.49" height="25.42" fill="#F4BEB6"/>
<rect x="1069.29" y="1472.52" width="26.49" height="25.42" fill="#D1E0F0"/>
<rect x="1095.48" y="1472.52" width="26.49" height="25.42" fill="#DFEAF5"/>
<rect x="1121.67" y="1472.52" width="26.49" height="25.42" fill="#F7CDC7"/>
<rect x="1147.86" y="1472.52" width="26.49" height="25.42" fill="#F9FBFD"/>
<rect x="1174.05" y="1472.52" width="26.49" height="25.42" fill="#F0F5FA"/>
<rect x="1200.24" y="1472.52" width="26.49" height="25.42" fill="#F7CDC7"/>
<rect x="1226.43" y="1472.52" width="26.49" height="25.42" fill="#E1EBF5"/>
<rect x="1252.62" y="1472.52" width="26.49" height="25.42" fill="#DDE8F4"/>
<rect x="1278.81" y="1472.52" width="26.49" height="25.42" fill="#C8DAED"/>
<rect x="1305" y="1472.52" width="26.49" height="25.42" fill="#F9FBFD"/>
<rect x="1331.19" y="1472.52" width="26.49" height="25.42" fill="#E45844"/>
<rect x="1357.38" y="1472.52" width="26.49" height="25.42" fill="#C0D4EA"/>
<rect x="1383.57" y="1472.52" width="26.49" height="25.42" fill="#FAE3DF"/>
<rect x="1409.76" y="1472.52" width="26.49" height="25.42" fill="#FDFEFE"/>
<rect x="1435.95" y="1472.52" width="26.49" height="25.42" fill="#DDE8F4"/>
<rect x="1462.14" y="1472.52" width="26.49" height="25.42" fill="#F9D7D2"/>
<rect x="1488.33" y="1472.52" width="26.49" height="25.42" fill="#FCEDEA"/>
<rect x="1514.52" y="1472.52" width="26.49" height="25.42" fill="#F4F8FC"/>
<rect x="1540.71" y="1472.52" width="26.49" height="25.42" fill="#DFEAF5"/>
<rect x="1566.9" y="1472.52" width="26.49" height="25.42" fill="#ECF2F9"/>
<rect x="1043.1" y="1497.64" width="26.49" height="25.42" fill="#FBE8E5"/>
<rect x="1069.29" y="1497.64" width="26.49" height="25.42" fill="#D5E2F1"/>
<rect x="1095.48" y="1497.64" width="26.49" height="25.42" fill="#FDF0EE"/>
<rect x="1121.67" y="1497.64" width="26.49" height="25.42" fill="#F9DCD8"/>
<rect x="1147.86" y="1497.64" width="26.49" height="25.42" fill="#F9FBFD"/>
<rect x="1174.05" y="1497.64" width="26.49" height="25.42" fill="#9ABADE"/>
<rect x="1200.24" y="1497.64" width="26.49" height="25.42" fill="#FFFDFD"/>
<rect x="1226.43" y="1497.64" width="26.49" height="25.42" fill="#FCEDEA"/>
<rect x="1252.62" y="1497.64" width="26.49" height="25.42" fill="#F5C1BA"/>
<rect x="1278.81" y="1497.64" width="26.49" height="25.42" fill="#F2F6FB"/>
<rect x="1305" y="1497.64" width="26.49" height="25.42" fill="#FBE8E5"/>
<rect x="1331.19" y="1497.64" width="26.49" height="25.42" fill="#C0D4EA"/>
<rect x="1357.38" y="1497.64" width="26.49" height="25.42" fill="#E45844"/>
<rect x="1383.57" y="1497.64" width="26.49" height="25.42" fill="#F6C6BF"/>
<rect x="1409.76" y="1497.64" width="26.49" height="25.42" fill="#CCDDEE"/>
<rect x="1435.95" y="1497.64" width="26.49" height="25.42" fill="#A4C2E1"/>
<rect x="1462.14" y="1497.64" width="26.49" height="25.42" fill="#FBE8E5"/>
<rect x="1488.33" y="1497.64" width="26.49" height="25.42" fill="#FCEBE9"/>
<rect x="1514.52" y="1497.64" width="26.49" height="25.42" fill="#D7E4F2"/>
<rect x="1540.71" y="1497.64" width="26.49" height="25.42" fill="#C6D8EC"/>
<rect x="1566.9" y="1497.64" width="26.49" height="25.42" fill="#B7CEE8"/>
<rect x="1043.1" y="1522.76" width="26.49" height="25.42" fill="#F7CDC7"/>
<rect x="1069.29" y="1522.76" width="26.49" height="25.42" fill="#C6D8EC"/>
<rect x="1095.48" y="1522.76" width="26.49" height="25.42" fill="#ABC6E3"/>
<rect x="1121.67" y="1522.76" width="26.49" height="25.42" fill="#FAE3DF"/>
<rect x="1147.86" y="1522.76" width="26.49" height="25.42" fill="#DBE7F3"/>
<rect x="1174.05" y="1522.76" width="26.49" height="25.42" fill="#E4ECF6"/>
<rect x="1200.24" y="1522.76" width="26.49" height="25.42" fill="#F9DCD8"/>
<rect x="1226.43" y="1522.76" width="26.49" height="25.42" fill="#FBFCFE"/>
<rect x="1252.62" y="1522.76" width="26.49" height="25.42" fill="#FADFDB"/>
<rect x="1278.81" y="1522.76" width="26.49" height="25.42" fill="#EEF4F9"/>
<rect x="1305" y="1522.76" width="26.49" height="25.42" fill="#FCEDEA"/>
<rect x="1331.19" y="1522.76" width="26.49" height="25.42" fill="#FAE3DF"/>
<rect x="1357.38" y="1522.76" width="26.49" height="25.42" fill="#F6C6BF"/>
<rect x="1383.57" y="1522.76" width="26.49" height="25.42" fill="#E45844"/>
<rect x="1409.76" y="1522.76" width="26.49" height="25.42" fill="#E6EEF7"/>
<rect x="1435.95" y="1522.76" width="26.49" height="25.42" fill="#C2D6EB"/>
<rect x="1462.14" y="1522.76" width="26.49" height="25.42" fill="#FADFDB"/>
<rect x="1488.33" y="1522.76" width="26.49" height="25.42" fill="#FBE9E7"/>
<rect x="1514.52" y="1522.76" width="26.49" height="25.42" fill="#EEF4F9"/>
<rect x="1540.71" y="1522.76" width="26.49" height="25.42" fill="#C8DAED"/>
<rect x="1566.9" y="1522.76" width="26.49" height="25.42" fill="#DFEAF5"/>
<rect x="1043.1" y="1547.88" width="26.49" height="25.42" fill="#CADBEE"/>
<rect x="1069.29" y="1547.88" width="26.49" height="25.42" fill="#E1EBF5"/>
<rect x="1095.48" y="1547.88" width="26.49" height="25.42" fill="#FEFAF9"/>
<rect x="1121.67" y="1547.88" width="26.49" height="25.42" fill="#89AFD8"/>
<rect x="1147.86" y="1547.88" width="26.49" height="25.42" fill="#FCEDEA"/>
<rect x="1174.05" y="1547.88" width="26.49" height="25.42" fill="#FAE1DD"/>
<rect x="1200.24" y="1547.88" width="26.49" height="25.42" fill="#93B6DC"/>
<rect x="1226.43" y="1547.88" width="26.49" height="25.42" fill="#CEDEEF"/>
<rect x="1252.62" y="1547.88" width="26.49" height="25.42" fill="#FBE8E5"/>
<rect x="1278.81" y="1547.88" width="26.49" height="25.42" fill="#FAE1DD"/>
<rect x="1305" y="1547.88" width="26.49" height="25.42" fill="#F7D0CB"/>
<rect x="1331.19" y="1547.88" width="26.49" height="25.42" fill="#FDFEFE"/>
<rect x="1357.38" y="1547.88" width="26.49" height="25.42" fill="#CCDDEE"/>
<rect x="1383.57" y="1547.88" width="26.49" height="25.42" fill="#E6EEF7"/>
<rect x="1409.76" y="1547.88" width="26.49" height="25.42" fill="#E45844"/>
<rect x="1435.95" y="1547.88" width="26.49" height="25.42" fill="#ED9184"/>
<rect x="1462.14" y="1547.88" width="26.49" height="25.42" fill="#AFC9E5"/>
<rect x="1488.33" y="1547.88" width="26.49" height="25.42" fill="#B1CAE5"/>
<rect x="1514.52" y="1547.88" width="26.49" height="25.42" fill="#F8D4CE"/>
<rect x="1540.71" y="1547.88" width="26.49" height="25.42" fill="#F0A094"/>
<rect x="1566.9" y="1547.88" width="26.49" height="25.42" fill="#FBE8E5"/>
<rect x="1043.1" y="1573" width="26.49" height="25.42" fill="#B7CEE8"/>
<rect x="1069.29" y="1573" width="26.49" height="25.42" fill="#FAE1DD"/>
<rect x="1095.48" y="1573" width="26.49" height="25.42" fill="#ECF2F9"/>
<rect x="1121.67" y="1573" width="26.49" height="25.42" fill="#729FD1"/>
<rect x="1147.86" y="1573" width="26.49" height="25.42" fill="#FDF0EE"/>
<rect x="1174.05" y="1573" width="26.49" height="25.42" fill="#F4BEB6"/>
<rect x="1200.24" y="1573" width="26.49" height="25.42" fill="#87ADD8"/>
<rect x="1226.43" y="1573" width="26.49" height="25.42" fill="#B7CEE8"/>
<rect x="1252.62" y="1573" width="26.49" height="25.42" fill="#EEF4F9"/>
<rect x="1278.81" y="1573" width="26.49" height="25.42" fill="#F6CAC3"/>
<rect x="1305" y="1573" width="26.49" height="25.42" fill="#F7D0CB"/>
<rect x="1331.19" y="1573" width="26.49" height="25.42" fill="#DDE8F4"/>
<rect x="1357.38" y="1573" width="26.49" height="25.42" fill="#A4C2E1"/>
<rect x="1383.57" y="1573" width="26.49" height="25.42" fill="#C2D6EB"/>
<rect x="1409.76" y="1573" width="26.49" height="25.42" fill="#ED9184"/>
<rect x="1435.95" y="1573" width="26.49" height="25.42" fill="#E45844"/>
<rect x="1462.14" y="1573" width="26.49" height="25.42" fill="#96B8DC"/>
<rect x="1488.33" y="1573" width="26.49" height="25.42" fill="#B7CEE8"/>
<rect x="1514.52" y="1573" width="26.49" height="25.42" fill="#FCEDEA"/>
<rect x="1540.71" y="1573" width="26.49" height="25.42" fill="#ED9184"/>
<rect x="1566.9" y="1573" width="26.49" height="25.42" fill="#FADEDA"/>
<rect x="1043.1" y="1598.12" width="26.49" height="25.42" fill="#F4B9B0"/>
<rect x="1069.29" y="1598.12" width="26.49" height="25.42" fill="#D5E2F1"/>
<rect x="1095.48" y="1598.12" width="26.49" height="25.42" fill="#E6EEF7"/>
<rect x="1121.67" y="1598.12" width="26.49" height="25.42" fill="#F1A69C"/>
<rect x="1147.86" y="1598.12" width="26.49" height="25.42" fill="#EAF1F8"/>
<rect x="1174.05" y="1598.12" width="26.49" height="25.42" fill="#9ABADE"/>
<rect x="1200.24" y="1598.12" width="26.49" height="25.42" fill="#F4BBB2"/>
<rect x="1226.43" y="1598.12" width="26.49" height="25.42" fill="#F5C3BC"/>
<rect x="1252.62" y="1598.12" width="26.49" height="25.42" fill="#F2F6FB"/>
<rect x="1278.81" y="1598.12" width="26.49" height="25.42" fill="#FCEEEC"/>
<rect x="1305" y="1598.12" width="26.49" height="25.42" fill="#E1EBF5"/>
<rect x="1331.19" y="1598.12" width="26.49" height="25.42" fill="#F9D7D2"/>
<rect x="1357.38" y="1598.12" width="26.49" height="25.42" fill="#FBE8E5"/>
<rect x="1383.57" y="1598.12" width="26.49" height="25.42" fill="#FADFDB"/>
<rect x="1409.76" y="1598.12" width="26.49" height="25.42" fill="#AFC9E5"/>
<rect x="1435.95" y="1598.12" width="26.49" height="25.42" fill="#96B8DC"/>
<rect x="1462.14" y="1598.12" width="26.49" height="25.42" fill="#E45844"/>
<rect x="1488.33" y="1598.12" width="26.49" height="25.42" fill="#F2F6FB"/>
<rect x="1514.52" y="1598.12" width="26.49" height="25.42" fill="#FCEEEC"/>
<rect x="1540.71" y="1598.12" width="26.49" height="25.42" fill="#9ABADE"/>
<rect x="1566.9" y="1598.12" width="26.49" height="25.42" fill="#ECF2F9"/>
<rect x="1043.1" y="1623.24" width="26.49" height="25.42" fill="#FBE8E5"/>
<rect x="1069.29" y="1623.24" width="26.49" height="25.42" fill="#F9D9D4"/>
<rect x="1095.48" y="1623.24" width="26.49" height="25.42" fill="#C6D8EC"/>
<rect x="1121.67" y="1623.24" width="26.49" height="25.42" fill="#F6C8C1"/>
<rect x="1147.86" y="1623.24" width="26.49" height="25.42" fill="#F7CBC5"/>
<rect x="1174.05" y="1623.24" width="26.49" height="25.42" fill="#E6EEF7"/>
<rect x="1200.24" y="1623.24" width="26.49" height="25.42" fill="#F6C8C1"/>
<rect x="1226.43" y="1623.24" width="26.49" height="25.42" fill="#FFFFFF"/>
<rect x="1252.62" y="1623.24" width="26.49" height="25.42" fill="#FCEBE9"/>
<rect x="1278.81" y="1623.24" width="26.49" height="25.42" fill="#DFEAF5"/>
<rect x="1305" y="1623.24" width="26.49" height="25.42" fill="#FEFAF9"/>
<rect x="1331.19" y="1623.24" width="26.49" height="25.42" fill="#FCEDEA"/>
<rect x="1357.38" y="1623.24" width="26.49" height="25.42" fill="#FCEBE9"/>
<rect x="1383.57" y="1623.24" width="26.49" height="25.42" fill="#FBE9E7"/>
<rect x="1409.76" y="1623.24" width="26.49" height="25.42" fill="#B1CAE5"/>
<rect x="1435.95" y="1623.24" width="26.49" height="25.42" fill="#B7CEE8"/>
<rect x="1462.14" y="1623.24" width="26.49" height="25.42" fill="#F2F6FB"/>
<rect x="1488.33" y="1623.24" width="26.49" height="25.42" fill="#E45844"/>
<rect x="1514.52" y="1623.24" width="26.49" height="25.42" fill="#7CA6D4"/>
<rect x="1540.71" y="1623.24" width="26.49" height="25.42" fill="#BBD1E9"/>
<rect x="1566.9" y="1623.24" width="26.49" height="25.42" fill="#C2D6EB"/>
<rect x="1043.1" y="1648.36" width="26.49" height="25.42" fill="#C2D6EB"/>
<rect x="1069.29" y="1648.36" width="26.49" height="25.42" fill="#FEFCFB"/>
<rect x="1095.48" y="1648.36" width="26.49" height="25.42" fill="#F4F8FC"/>
<rect x="1121.67" y="1648.36" width="26.49" height="25.42" fill="#D5E2F1"/>
<rect x="1147.86" y="1648.36" width="26.49" height="25.42" fill="#CCDDEE"/>
<rect x="1174.05" y="1648.36" width="26.49" height="25.42" fill="#FCEBE9"/>
<rect x="1200.24" y="1648.36" width="26.49" height="25.42" fill="#D1E0F0"/>
<rect x="1226.43" y="1648.36" width="26.49" height="25.42" fill="#FFFDFD"/>
<rect x="1252.62" y="1648.36" width="26.49" height="25.42" fill="#FDF3F2"/>
<rect x="1278.81" y="1648.36" width="26.49" height="25.42" fill="#FEF8F8"/>
<rect x="1305" y="1648.36" width="26.49" height="25.42" fill="#D9E5F3"/>
<rect x="1331.19" y="1648.36" width="26.49" height="25.42" fill="#F4F8FC"/>
<rect x="1357.38" y="1648.36" width="26.49" height="25.42" fill="#D7E4F2"/>
<rect x="1383.57" y="1648.36" width="26.49" height="25.42" fill="#EEF4F9"/>
<rect x="1409.76" y="1648.36" width="26.49" height="25.42" fill="#F8D4CE"/>
<rect x="1435.95" y="1648.36" width="26.49" height="25.42" fill="#FCEDEA"/>
<rect x="1462.14" y="1648.36" width="26.49" height="25.42" fill="#FCEEEC"/>
<rect x="1488.33" y="1648.36" width="26.49" height="25.42" fill="#7CA6D4"/>
<rect x="1514.52" y="1648.36" width="26.49" height="25.42" fill="#E45844"/>
<rect x="1540.71" y="1648.36" width="26.49" height="25.42" fill="#F2F6FB"/>
<rect x="1566.9" y="1648.36" width="26.49" height="25.42" fill="#F3B7AF"/>
<rect x="1043.1" y="1673.48" width="26.49" height="25.42" fill="#A2C0E1"/>
<rect x="1069.29" y="1673.48" width="26.49" height="25.42" fill="#FADEDA"/>
<rect x="1095.48" y="1673.48" width="26.49" height="25.42" fill="#F9DCD8"/>
<rect x="1121.67" y="1673.48" width="26.49" height="25.42" fill="#6B9BCF"/>
<rect x="1147.86" y="1673.48" width="26.49" height="25.42" fill="#FBE8E5"/>
<rect x="1174.05" y="1673.48" width="26.49" height="25.42" fill="#F8D4CE"/>
<rect x="1200.24" y="1673.48" width="26.49" height="25.42" fill="#91B5DB"/>
<rect x="1226.43" y="1673.48" width="26.49" height="25.42" fill="#9EBDDF"/>
<rect x="1252.62" y="1673.48" width="26.49" height="25.42" fill="#C4D7EC"/>
<rect x="1278.81" y="1673.48" width="26.49" height="25.42" fill="#F9DAD6"/>
<rect x="1305" y="1673.48" width="26.49" height="25.42" fill="#F9DCD8"/>
<rect x="1331.19" y="1673.48" width="26.49" height="25.42" fill="#DFEAF5"/>
<rect x="1357.38" y="1673.48" width="26.49" height="25.42" fill="#C6D8EC"/>
<rect x="1383.57" y="1673.48" width="26.49" height="25.42" fill="#C8DAED"/>
<rect x="1409.76" y="1673.48" width="26.49" height="25.42" fill="#F0A094"/>
<rect x="1435.95" y="1673.48" width="26.49" height="25.42" fill="#ED9184"/>
<rect x="1462.14" y="1673.48" width="26.49" height="25.42" fill="#9ABADE"/>
<rect x="1488.33" y="1673.48" width="26.49" height="25.42" fill="#BBD1E9"/>
<rect x="1514.52" y="1673.48" width="26.49" height="25.42" fill="#F2F6FB"/>
<rect x="1540.71" y="1673.48" width="26.49" height="25.42" fill="#E45844"/>
<rect x="1566.9" y="1673.48" width="26.49" height="25.42" fill="#FFFDFD"/>
<rect x="1043.1" y="1698.6" width="26.49" height="25.42" fill="#F0F5FA"/>
<rect x="1069.29" y="1698.6" width="26.49" height="25.42" fill="#FBFCFE"/>
<rect x="1095.48" y="1698.6" width="26.49" height="25.42" fill="#FEFAF9"/>
<rect x="1121.67" y="1698.6" width="26.49" height="25.42" fill="#D7E4F2"/>
<rect x="1147.86" y="1698.6" width="26.49" height="25.42" fill="#ECF2F9"/>
<rect x="1174.05" y="1698.6" width="26.49" height="25.42" fill="#F6C6BF"/>
<rect x="1200.24" y="1698.6" width="26.49" height="25.42" fill="#FDF3F2"/>
<rect x="1226.43" y="1698.6" width="26.49" height="25.42" fill="#FBE8E5"/>
<rect x="1252.62" y="1698.6" width="26.49" height="25.42" fill="#EAF1F8"/>
<rect x="1278.81" y="1698.6" width="26.49" height="25.42" fill="#D5E2F1"/>
<rect x="1305" y="1698.6" width="26.49" height="25.42" fill="#E8EFF7"/>
<rect x="1331.19" y="1698.6" width="26.49" height="25.42" fill="#ECF2F9"/>
<rect x="1357.38" y="1698.6" width="26.49" height="25.42" fill="#B7CEE8"/>
<rect x="1383.57" y="1698.6" width="26.49" height="25.42" fill="#DFEAF5"/>
<rect x="1409.76" y="1698.6" width="26.49" height="25.42" fill="#FBE8E5"/>
<rect x="1435.95" y="1698.6" width="26.49" height="25.42" fill="#FADEDA"/>
<rect x="1462.14" y="1698.6" width="26.49" height="25.42" fill="#ECF2F9"/>
<rect x="1488.33" y="1698.6" width="26.49" height="25.42" fill="#C2D6EB"/>
<rect x="1514.52" y="1698.6" width="26.49" height="25.42" fill="#F3B7AF"/>
<rect x="1540.71" y="1698.6" width="26.49" height="25.42" fill="#FFFDFD"/>
<rect x="1566.9" y="1698.6" width="26.49" height="25.42" fill="#E45844"/>
</g>
<g font-size="9.3" text-anchor="middle" fill="#111" stroke="#111" stroke-width="0.28">
<text x="1056.19" y="1211.92">1.00</text>
<text x="1082.38" y="1211.92">-0.45</text>
<text x="1108.57" y="1211.92">-0.10</text>
<text x="1134.76" y="1211.92">0.40</text>
<text x="1160.95" y="1211.92">-0.09</text>
<text x="1187.14" y="1211.92">-0.13</text>
<text x="1213.34" y="1211.92">0.39</text>
<text x="1239.52" y="1211.92">0.30</text>
<text x="1265.71" y="1211.92">0.02</text>
<text x="1291.9" y="1211.92">-0.35</text>
<text x="1318.09" y="1211.92">0.19</text>
<text x="1344.28" y="1211.92">0.39</text>
<text x="1370.47" y="1211.92">0.14</text>
<text x="1396.66" y="1211.92">0.30</text>
<text x="1422.86" y="1211.92">-0.25</text>
<text x="1449.04" y="1211.92">-0.34</text>
<text x="1475.23" y="1211.92">0.42</text>
<text x="1501.42" y="1211.92">0.14</text>
<text x="1527.62" y="1211.92">-0.29</text>
<text x="1553.8" y="1211.92">-0.44</text>
<text x="1579.99" y="1211.92">-0.07</text>
<text x="1056.19" y="1237.04">-0.45</text>
<text x="1082.38" y="1237.04">1.00</text>
<text x="1108.57" y="1237.04">-0.12</text>
<text x="1134.76" y="1237.04">-0.34</text>
<text x="1160.95" y="1237.04">0.20</text>
<text x="1187.14" y="1237.04">0.20</text>
<text x="1213.34" y="1237.04">-0.10</text>
<text x="1239.52" y="1237.04">-0.31</text>
<text x="1265.71" y="1237.04">-0.12</text>
<text x="1291.9" y="1237.04">-0.07</text>
<text x="1318.09" y="1237.04">-0.06</text>
<text x="1344.28" y="1237.04">-0.22</text>
<text x="1370.47" y="1237.04">-0.20</text>
<text x="1396.66" y="1237.04">-0.27</text>
<text x="1422.86" y="1237.04">-0.14</text>
<text x="1449.04" y="1237.04">0.18</text>
<text x="1475.23" y="1237.04">-0.20</text>
<text x="1501.42" y="1237.04">0.23</text>
<text x="1527.62" y="1237.04">0.02</text>
<text x="1553.8" y="1237.04">0.20</text>
<text x="1579.99" y="1237.04">-0.02</text>
<text x="1056.19" y="1262.16">-0.10</text>
<text x="1082.38" y="1262.16">-0.12</text>
<text x="1108.57" y="1262.16">1.00</text>
<text x="1134.76" y="1262.16">-0.05</text>
<text x="1160.95" y="1262.16">0.13</text>
<text x="1187.14" y="1262.16">-0.22</text>
<text x="1213.34" y="1262.16">-0.25</text>
<text x="1239.52" y="1262.16">0.05</text>
<text x="1265.71" y="1262.16">0.15</text>
<text x="1291.9" y="1262.16">-0.10</text>
<text x="1318.09" y="1262.16">0.12</text>
<text x="1344.28" y="1262.16">-0.15</text>
<text x="1370.47" y="1262.16">0.09</text>
<text x="1396.66" y="1262.16">-0.40</text>
<text x="1422.86" y="1262.16">0.03</text>
<text x="1449.04" y="1262.16">-0.09</text>
<text x="1475.23" y="1262.16">-0.12</text>
<text x="1501.42" y="1262.16">-0.27</text>
<text x="1527.62" y="1262.16">-0.05</text>
<text x="1553.8" y="1262.16">0.21</text>
<text x="1579.99" y="1262.16">0.03</text>
<text x="1056.19" y="1287.28">0.40</text>
<text x="1082.38" y="1287.28">-0.34</text>
<text x="1108.57" y="1287.28">-0.05</text>
<text x="1134.76" y="1287.28">1.00</text>
<text x="1160.95" y="1287.28">-0.03</text>
<text x="1187.14" y="1287.28">-0.57</text>
<text x="1213.34" y="1287.28">0.65</text>
<text x="1239.52" y="1287.28">0.47</text>
<text x="1265.71" y="1287.28">0.11</text>
<text x="1291.9" y="1287.28">-0.09</text>
<text x="1318.09" y="1287.28">-0.23</text>
<text x="1344.28" y="1287.28">0.30</text>
<text x="1370.47" y="1287.28">0.21</text>
<text x="1396.66" y="1287.28">0.17</text>
<text x="1422.86" y="1287.28">-0.56</text>
<text x="1449.04" y="1287.28">-0.67</text>
<text x="1475.23" y="1287.28">0.53</text>
<text x="1501.42" y="1287.28">0.33</text>
<text x="1527.62" y="1287.28">-0.20</text>
<text x="1553.8" y="1287.28">-0.70</text>
<text x="1579.99" y="1287.28">-0.19</text>
<text x="1056.19" y="1312.4">-0.09</text>
<text x="1082.38" y="1312.4">0.20</text>
<text x="1108.57" y="1312.4">0.13</text>
<text x="1134.76" y="1312.4">-0.03</text>
<text x="1160.95" y="1312.4">1.00</text>
<text x="1187.14" y="1312.4">-0.18</text>
<text x="1213.34" y="1312.4">-0.09</text>
<text x="1239.52" y="1312.4">-0.14</text>
<text x="1265.71" y="1312.4">0.16</text>
<text x="1291.9" y="1312.4">-0.03</text>
<text x="1318.09" y="1312.4">0.28</text>
<text x="1344.28" y="1312.4">-0.03</text>
<text x="1370.47" y="1312.4">-0.03</text>
<text x="1396.66" y="1312.4">-0.17</text>
<text x="1422.86" y="1312.4">0.11</text>
<text x="1449.04" y="1312.4">0.09</text>
<text x="1475.23" y="1312.4">-0.10</text>
<text x="1501.42" y="1312.4">0.31</text>
<text x="1527.62" y="1312.4">-0.24</text>
<text x="1553.8" y="1312.4">0.14</text>
<text x="1579.99" y="1312.4">-0.09</text>
<text x="1056.19" y="1337.52">-0.13</text>
<text x="1082.38" y="1337.52">0.20</text>
<text x="1108.57" y="1337.52">-0.22</text>
<text x="1134.76" y="1337.52">-0.57</text>
<text x="1160.95" y="1337.52">-0.18</text>
<text x="1187.14" y="1337.52">1.00</text>
<text x="1213.34" y="1337.52">-0.16</text>
<text x="1239.52" y="1337.52">-0.29</text>
<text x="1265.71" y="1337.52">-0.45</text>
<text x="1291.9" y="1337.52">-0.28</text>
<text x="1318.09" y="1337.52">-0.13</text>
<text x="1344.28" y="1337.52">-0.07</text>
<text x="1370.47" y="1337.52">-0.48</text>
<text x="1396.66" y="1337.52">-0.13</text>
<text x="1422.86" y="1337.52">0.18</text>
<text x="1449.04" y="1337.52">0.39</text>
<text x="1475.23" y="1337.52">-0.48</text>
<text x="1501.42" y="1337.52">-0.12</text>
<text x="1527.62" y="1337.52">0.12</text>
<text x="1553.8" y="1337.52">0.26</text>
<text x="1579.99" y="1337.52">0.34</text>
<text x="1056.19" y="1362.64">0.39</text>
<text x="1082.38" y="1362.64">-0.10</text>
<text x="1108.57" y="1362.64">-0.25</text>
<text x="1134.76" y="1362.64">0.65</text>
<text x="1160.95" y="1362.64">-0.09</text>
<text x="1187.14" y="1362.64">-0.16</text>
<text x="1213.34" y="1362.64">1.00</text>
<text x="1239.52" y="1362.64">0.25</text>
<text x="1265.71" y="1362.64">-0.31</text>
<text x="1291.9" y="1362.64">-0.20</text>
<text x="1318.09" y="1362.64">-0.46</text>
<text x="1344.28" y="1362.64">0.30</text>
<text x="1370.47" y="1362.64">0.01</text>
<text x="1396.66" y="1362.64">0.21</text>
<text x="1422.86" y="1362.64">-0.51</text>
<text x="1449.04" y="1362.64">-0.57</text>
<text x="1475.23" y="1362.64">0.41</text>
<text x="1501.42" y="1362.64">0.33</text>
<text x="1527.62" y="1362.64">-0.22</text>
<text x="1553.8" y="1362.64">-0.52</text>
<text x="1579.99" y="1362.64">0.07</text>
<text x="1056.19" y="1387.76">0.30</text>
<text x="1082.38" y="1387.76">-0.31</text>
<text x="1108.57" y="1387.76">0.05</text>
<text x="1134.76" y="1387.76">0.47</text>
<text x="1160.95" y="1387.76">-0.14</text>
<text x="1187.14" y="1387.76">-0.29</text>
<text x="1213.34" y="1387.76">0.25</text>
<text x="1239.52" y="1387.76">1.00</text>
<text x="1265.71" y="1387.76">0.33</text>
<text x="1291.9" y="1387.76">0.04</text>
<text x="1318.09" y="1387.76">-0.28</text>
<text x="1344.28" y="1387.76">-0.14</text>
<text x="1370.47" y="1387.76">0.11</text>
<text x="1396.66" y="1387.76">-0.02</text>
<text x="1422.86" y="1387.76">-0.23</text>
<text x="1449.04" y="1387.76">-0.34</text>
<text x="1475.23" y="1387.76">0.36</text>
<text x="1501.42" y="1387.76">-0.00</text>
<text x="1527.62" y="1387.76">0.01</text>
<text x="1553.8" y="1387.76">-0.46</text>
<text x="1579.99" y="1387.76">0.14</text>
<text x="1056.19" y="1412.88">0.02</text>
<text x="1082.38" y="1412.88">-0.12</text>
<text x="1108.57" y="1412.88">0.15</text>
<text x="1134.76" y="1412.88">0.11</text>
<text x="1160.95" y="1412.88">0.16</text>
<text x="1187.14" y="1412.88">-0.45</text>
<text x="1213.34" y="1412.88">-0.31</text>
<text x="1239.52" y="1412.88">0.33</text>
<text x="1265.71" y="1412.88">1.00</text>
<text x="1291.9" y="1412.88">0.08</text>
<text x="1318.09" y="1412.88">0.30</text>
<text x="1344.28" y="1412.88">-0.16</text>
<text x="1370.47" y="1412.88">0.37</text>
<text x="1396.66" y="1412.88">0.19</text>
<text x="1422.86" y="1412.88">0.14</text>
<text x="1449.04" y="1412.88">-0.08</text>
<text x="1475.23" y="1412.88">-0.06</text>
<text x="1501.42" y="1412.88">0.12</text>
<text x="1527.62" y="1412.88">0.07</text>
<text x="1553.8" y="1412.88">-0.28</text>
<text x="1579.99" y="1412.88">-0.10</text>
<text x="1056.19" y="1438">-0.35</text>
<text x="1082.38" y="1438">-0.07</text>
<text x="1108.57" y="1438">-0.10</text>
<text x="1134.76" y="1438">-0.09</text>
<text x="1160.95" y="1438">-0.03</text>
<text x="1187.14" y="1438">-0.28</text>
<text x="1213.34" y="1438">-0.20</text>
<text x="1239.52" y="1438">0.04</text>
<text x="1265.71" y="1438">0.08</text>
<text x="1291.9" y="1438">1.00</text>
<text x="1318.09" y="1438">-0.21</text>
<text x="1344.28" y="1438">-0.26</text>
<text x="1370.47" y="1438">-0.06</text>
<text x="1396.66" y="1438">-0.08</text>
<text x="1422.86" y="1438">0.18</text>
<text x="1449.04" y="1438">0.32</text>
<text x="1475.23" y="1438">0.10</text>
<text x="1501.42" y="1438">-0.15</text>
<text x="1527.62" y="1438">0.04</text>
<text x="1553.8" y="1438">0.22</text>
<text x="1579.99" y="1438">-0.20</text>
<text x="1056.19" y="1463.12">0.19</text>
<text x="1082.38" y="1463.12">-0.06</text>
<text x="1108.57" y="1463.12">0.12</text>
<text x="1134.76" y="1463.12">-0.23</text>
<text x="1160.95" y="1463.12">0.28</text>
<text x="1187.14" y="1463.12">-0.13</text>
<text x="1213.34" y="1463.12">-0.46</text>
<text x="1239.52" y="1463.12">-0.28</text>
<text x="1265.71" y="1463.12">0.30</text>
<text x="1291.9" y="1463.12">-0.21</text>
<text x="1318.09" y="1463.12">1.00</text>
<text x="1344.28" y="1463.12">-0.03</text>
<text x="1370.47" y="1463.12">0.14</text>
<text x="1396.66" y="1463.12">0.11</text>
<text x="1422.86" y="1463.12">0.28</text>
<text x="1449.04" y="1463.12">0.28</text>
<text x="1475.23" y="1463.12">-0.14</text>
<text x="1501.42" y="1463.12">0.03</text>
<text x="1527.62" y="1463.12">-0.18</text>
<text x="1553.8" y="1463.12">0.21</text>
<text x="1579.99" y="1463.12">-0.11</text>
<text x="1056.19" y="1488.24">0.39</text>
<text x="1082.38" y="1488.24">-0.22</text>
<text x="1108.57" y="1488.24">-0.15</text>
<text x="1134.76" y="1488.24">0.30</text>
<text x="1160.95" y="1488.24">-0.03</text>
<text x="1187.14" y="1488.24">-0.07</text>
<text x="1213.34" y="1488.24">0.30</text>
<text x="1239.52" y="1488.24">-0.14</text>
<text x="1265.71" y="1488.24">-0.16</text>
<text x="1291.9" y="1488.24">-0.26</text>
<text x="1318.09" y="1488.24">-0.03</text>
<text x="1344.28" y="1488.24">1.00</text>
<text x="1370.47" y="1488.24">-0.30</text>
<text x="1396.66" y="1488.24">0.17</text>
<text x="1422.86" y="1488.24">-0.01</text>
<text x="1449.04" y="1488.24">-0.16</text>
<text x="1475.23" y="1488.24">0.24</text>
<text x="1501.42" y="1488.24">0.11</text>
<text x="1527.62" y="1488.24">-0.05</text>
<text x="1553.8" y="1488.24">-0.15</text>
<text x="1579.99" y="1488.24">-0.09</text>
<text x="1056.19" y="1513.36">0.14</text>
<text x="1082.38" y="1513.36">-0.20</text>
<text x="1108.57" y="1513.36">0.09</text>
<text x="1134.76" y="1513.36">0.21</text>
<text x="1160.95" y="1513.36">-0.03</text>
<text x="1187.14" y="1513.36">-0.48</text>
<text x="1213.34" y="1513.36">0.01</text>
<text x="1239.52" y="1513.36">0.11</text>
<text x="1265.71" y="1513.36">0.37</text>
<text x="1291.9" y="1513.36">-0.06</text>
<text x="1318.09" y="1513.36">0.14</text>
<text x="1344.28" y="1513.36">-0.30</text>
<text x="1370.47" y="1513.36">1.00</text>
<text x="1396.66" y="1513.36">0.34</text>
<text x="1422.86" y="1513.36">-0.24</text>
<text x="1449.04" y="1513.36">-0.43</text>
<text x="1475.23" y="1513.36">0.14</text>
<text x="1501.42" y="1513.36">0.12</text>
<text x="1527.62" y="1513.36">-0.19</text>
<text x="1553.8" y="1513.36">-0.27</text>
<text x="1579.99" y="1513.36">-0.34</text>
<text x="1056.19" y="1538.48">0.30</text>
<text x="1082.38" y="1538.48">-0.27</text>
<text x="1108.57" y="1538.48">-0.40</text>
<text x="1134.76" y="1538.48">0.17</text>
<text x="1160.95" y="1538.48">-0.17</text>
<text x="1187.14" y="1538.48">-0.13</text>
<text x="1213.34" y="1538.48">0.21</text>
<text x="1239.52" y="1538.48">-0.02</text>
<text x="1265.71" y="1538.48">0.19</text>
<text x="1291.9" y="1538.48">-0.08</text>
<text x="1318.09" y="1538.48">0.11</text>
<text x="1344.28" y="1538.48">0.17</text>
<text x="1370.47" y="1538.48">0.34</text>
<text x="1396.66" y="1538.48">1.00</text>
<text x="1422.86" y="1538.48">-0.12</text>
<text x="1449.04" y="1538.48">-0.29</text>
<text x="1475.23" y="1538.48">0.19</text>
<text x="1501.42" y="1538.48">0.13</text>
<text x="1527.62" y="1538.48">-0.08</text>
<text x="1553.8" y="1538.48">-0.26</text>
<text x="1579.99" y="1538.48">-0.15</text>
<text x="1056.19" y="1563.6">-0.25</text>
<text x="1082.38" y="1563.6">-0.14</text>
<text x="1108.57" y="1563.6">0.03</text>
<text x="1134.76" y="1563.6">-0.56</text>
<text x="1160.95" y="1563.6">0.11</text>
<text x="1187.14" y="1563.6">0.18</text>
<text x="1213.34" y="1563.6">-0.51</text>
<text x="1239.52" y="1563.6">-0.23</text>
<text x="1265.71" y="1563.6">0.14</text>
<text x="1291.9" y="1563.6">0.18</text>
<text x="1318.09" y="1563.6">0.28</text>
<text x="1344.28" y="1563.6">-0.01</text>
<text x="1370.47" y="1563.6">-0.24</text>
<text x="1396.66" y="1563.6">-0.12</text>
<text x="1422.86" y="1563.6">1.00</text>
<text x="1449.04" y="1563.6">0.66</text>
<text x="1475.23" y="1563.6">-0.38</text>
<text x="1501.42" y="1563.6">-0.37</text>
<text x="1527.62" y="1563.6">0.26</text>
<text x="1553.8" y="1563.6">0.57</text>
<text x="1579.99" y="1563.6">0.14</text>
<text x="1056.19" y="1588.72">-0.34</text>
<text x="1082.38" y="1588.72">0.18</text>
<text x="1108.57" y="1588.72">-0.09</text>
<text x="1134.76" y="1588.72">-0.67</text>
<text x="1160.95" y="1588.72">0.09</text>
<text x="1187.14" y="1588.72">0.39</text>
<text x="1213.34" y="1588.72">-0.57</text>
<text x="1239.52" y="1588.72">-0.34</text>
<text x="1265.71" y="1588.72">-0.08</text>
<text x="1291.9" y="1588.72">0.32</text>
<text x="1318.09" y="1588.72">0.28</text>
<text x="1344.28" y="1588.72">-0.16</text>
<text x="1370.47" y="1588.72">-0.43</text>
<text x="1396.66" y="1588.72">-0.29</text>
<text x="1422.86" y="1588.72">0.66</text>
<text x="1449.04" y="1588.72">1.00</text>
<text x="1475.23" y="1588.72">-0.50</text>
<text x="1501.42" y="1588.72">-0.34</text>
<text x="1527.62" y="1588.72">0.11</text>
<text x="1553.8" y="1588.72">0.66</text>
<text x="1579.99" y="1588.72">0.20</text>
<text x="1056.19" y="1613.84">0.42</text>
<text x="1082.38" y="1613.84">-0.20</text>
<text x="1108.57" y="1613.84">-0.12</text>
<text x="1134.76" y="1613.84">0.53</text>
<text x="1160.95" y="1613.84">-0.10</text>
<text x="1187.14" y="1613.84">-0.48</text>
<text x="1213.34" y="1613.84">0.41</text>
<text x="1239.52" y="1613.84">0.36</text>
<text x="1265.71" y="1613.84">-0.06</text>
<text x="1291.9" y="1613.84">0.10</text>
<text x="1318.09" y="1613.84">-0.14</text>
<text x="1344.28" y="1613.84">0.24</text>
<text x="1370.47" y="1613.84">0.14</text>
<text x="1396.66" y="1613.84">0.19</text>
<text x="1422.86" y="1613.84">-0.38</text>
<text x="1449.04" y="1613.84">-0.50</text>
<text x="1475.23" y="1613.84">1.00</text>
<text x="1501.42" y="1613.84">-0.06</text>
<text x="1527.62" y="1613.84">0.10</text>
<text x="1553.8" y="1613.84">-0.48</text>
<text x="1579.99" y="1613.84">-0.09</text>
<text x="1056.19" y="1638.96">0.14</text>
<text x="1082.38" y="1638.96">0.23</text>
<text x="1108.57" y="1638.96">-0.27</text>
<text x="1134.76" y="1638.96">0.33</text>
<text x="1160.95" y="1638.96">0.31</text>
<text x="1187.14" y="1638.96">-0.12</text>
<text x="1213.34" y="1638.96">0.33</text>
<text x="1239.52" y="1638.96">-0.00</text>
<text x="1265.71" y="1638.96">0.12</text>
<text x="1291.9" y="1638.96">-0.15</text>
<text x="1318.09" y="1638.96">0.03</text>
<text x="1344.28" y="1638.96">0.11</text>
<text x="1370.47" y="1638.96">0.12</text>
<text x="1396.66" y="1638.96">0.13</text>
<text x="1422.86" y="1638.96">-0.37</text>
<text x="1449.04" y="1638.96">-0.34</text>
<text x="1475.23" y="1638.96">-0.06</text>
<text x="1501.42" y="1638.96">1.00</text>
<text x="1527.62" y="1638.96">-0.62</text>
<text x="1553.8" y="1638.96">-0.32</text>
<text x="1579.99" y="1638.96">-0.29</text>
<text x="1056.19" y="1664.08">-0.29</text>
<text x="1082.38" y="1664.08">0.02</text>
<text x="1108.57" y="1664.08">-0.05</text>
<text x="1134.76" y="1664.08">-0.20</text>
<text x="1160.95" y="1664.08">-0.24</text>
<text x="1187.14" y="1664.08">0.12</text>
<text x="1213.34" y="1664.08">-0.22</text>
<text x="1239.52" y="1664.08">0.01</text>
<text x="1265.71" y="1664.08">0.07</text>
<text x="1291.9" y="1664.08">0.04</text>
<text x="1318.09" y="1664.08">-0.18</text>
<text x="1344.28" y="1664.08">-0.05</text>
<text x="1370.47" y="1664.08">-0.19</text>
<text x="1396.66" y="1664.08">-0.08</text>
<text x="1422.86" y="1664.08">0.26</text>
<text x="1449.04" y="1664.08">0.11</text>
<text x="1475.23" y="1664.08">0.10</text>
<text x="1501.42" y="1664.08">-0.62</text>
<text x="1527.62" y="1664.08">1.00</text>
<text x="1553.8" y="1664.08">-0.06</text>
<text x="1579.99" y="1664.08">0.43</text>
<text x="1056.19" y="1689.2">-0.44</text>
<text x="1082.38" y="1689.2">0.20</text>
<text x="1108.57" y="1689.2">0.21</text>
<text x="1134.76" y="1689.2">-0.70</text>
<text x="1160.95" y="1689.2">0.14</text>
<text x="1187.14" y="1689.2">0.26</text>
<text x="1213.34" y="1689.2">-0.52</text>
<text x="1239.52" y="1689.2">-0.46</text>
<text x="1265.71" y="1689.2">-0.28</text>
<text x="1291.9" y="1689.2">0.22</text>
<text x="1318.09" y="1689.2">0.21</text>
<text x="1344.28" y="1689.2">-0.15</text>
<text x="1370.47" y="1689.2">-0.27</text>
<text x="1396.66" y="1689.2">-0.26</text>
<text x="1422.86" y="1689.2">0.57</text>
<text x="1449.04" y="1689.2">0.66</text>
<text x="1475.23" y="1689.2">-0.48</text>
<text x="1501.42" y="1689.2">-0.32</text>
<text x="1527.62" y="1689.2">-0.06</text>
<text x="1553.8" y="1689.2">1.00</text>
<text x="1579.99" y="1689.2">0.01</text>
<text x="1056.19" y="1714.32">-0.07</text>
<text x="1082.38" y="1714.32">-0.02</text>
<text x="1108.57" y="1714.32">0.03</text>
<text x="1134.76" y="1714.32">-0.19</text>
<text x="1160.95" y="1714.32">-0.09</text>
<text x="1187.14" y="1714.32">0.34</text>
<text x="1213.34" y="1714.32">0.07</text>
<text x="1239.52" y="1714.32">0.14</text>
<text x="1265.71" y="1714.32">-0.10</text>
<text x="1291.9" y="1714.32">-0.20</text>
<text x="1318.09" y="1714.32">-0.11</text>
<text x="1344.28" y="1714.32">-0.09</text>
<text x="1370.47" y="1714.32">-0.34</text>
<text x="1396.66" y="1714.32">-0.15</text>
<text x="1422.86" y="1714.32">0.14</text>
<text x="1449.04" y="1714.32">0.20</text>
<text x="1475.23" y="1714.32">-0.09</text>
<text x="1501.42" y="1714.32">-0.29</text>
<text x="1527.62" y="1714.32">0.43</text>
<text x="1553.8" y="1714.32">0.01</text>
<text x="1579.99" y="1714.32">1.00</text>
</g>
<text transform="translate(1037.7,1214.47) scale(1,1.045)" font-size="14.1" text-anchor="end">B cells naive</text>
<text transform="translate(1037.7,1239.59) scale(1,1.045)" font-size="14.1" text-anchor="end">B cells memory</text>
<text transform="translate(1037.7,1264.71) scale(1,1.045)" font-size="14.1" text-anchor="end">Plasma cells</text>
<text transform="translate(1037.7,1289.83) scale(1,1.045)" font-size="14.1" text-anchor="end">T cells CD8</text>
<text transform="translate(1037.7,1314.95) scale(1,1.045)" font-size="14.1" text-anchor="end">T cells CD4 naive</text>
<text transform="translate(1037.7,1340.07) scale(1,1.045)" font-size="14.1" text-anchor="end">T cells CD4 memory resting</text>
<text transform="translate(1037.7,1365.19) scale(1,1.045)" font-size="14.1" text-anchor="end">T cells CD4 memory activated</text>
<text transform="translate(1037.7,1390.31) scale(1,1.045)" font-size="14.1" text-anchor="end">T cells follicular helper</text>
<text transform="translate(1037.7,1415.43) scale(1,1.045)" font-size="14.1" text-anchor="end">T cells regulatory (Tregs)</text>
<text transform="translate(1037.7,1440.55) scale(1,1.045)" font-size="14.1" text-anchor="end">T cells gamma delta</text>
<text transform="translate(1037.7,1465.67) scale(1,1.045)" font-size="14.1" text-anchor="end">NK cells activated</text>
<text transform="translate(1037.7,1490.79) scale(1,1.045)" font-size="14.1" text-anchor="end">Monocytes</text>
<text transform="translate(1037.7,1515.91) scale(1,1.045)" font-size="14.1" text-anchor="end">Macrophages M0</text>
<text transform="translate(1037.7,1541.03) scale(1,1.045)" font-size="14.1" text-anchor="end">Macrophages M1</text>
<text transform="translate(1037.7,1566.15) scale(1,1.045)" font-size="14.1" text-anchor="end">Macrophages M2</text>
<text transform="translate(1037.7,1591.27) scale(1,1.045)" font-size="14.1" text-anchor="end">Dendritic cells resting</text>
<text transform="translate(1037.7,1616.39) scale(1,1.045)" font-size="14.1" text-anchor="end">Dendritic cells activated</text>
<text transform="translate(1037.7,1641.51) scale(1,1.045)" font-size="14.1" text-anchor="end">Mast cells resting</text>
<text transform="translate(1037.7,1666.63) scale(1,1.045)" font-size="14.1" text-anchor="end">Mast cells activated</text>
<text transform="translate(1037.7,1691.75) scale(1,1.045)" font-size="14.1" text-anchor="end">Eosinophils</text>
<text transform="translate(1037.7,1716.87) scale(1,1.045)" font-size="14.1" text-anchor="end">Neutrophils</text>
<text transform="translate(1062.6,1736.92) rotate(-45)" font-size="14.1" text-anchor="end">B cells naive</text>
<text transform="translate(1088.79,1736.92) rotate(-45)" font-size="14.1" text-anchor="end">B cells memory</text>
<text transform="translate(1114.97,1736.92) rotate(-45)" font-size="14.1" text-anchor="end">Plasma cells</text>
<text transform="translate(1141.16,1736.92) rotate(-45)" font-size="14.1" text-anchor="end">T cells CD8</text>
<text transform="translate(1167.36,1736.92) rotate(-45)" font-size="14.1" text-anchor="end">T cells CD4 naive</text>
<text transform="translate(1193.55,1736.92) rotate(-45)" font-size="14.1" text-anchor="end">T cells CD4 memory resting</text>
<text transform="translate(1219.74,1736.92) rotate(-45)" font-size="14.1" text-anchor="end">T cells CD4 memory activated</text>
<text transform="translate(1245.92,1736.92) rotate(-45)" font-size="14.1" text-anchor="end">T cells follicular helper</text>
<text transform="translate(1272.12,1736.92) rotate(-45)" font-size="14.1" text-anchor="end">T cells regulatory (Tregs)</text>
<text transform="translate(1298.31,1736.92) rotate(-45)" font-size="14.1" text-anchor="end">T cells gamma delta</text>
<text transform="translate(1324.49,1736.92) rotate(-45)" font-size="14.1" text-anchor="end">NK cells activated</text>
<text transform="translate(1350.68,1736.92) rotate(-45)" font-size="14.1" text-anchor="end">Monocytes</text>
<text transform="translate(1376.88,1736.92) rotate(-45)" font-size="14.1" text-anchor="end">Macrophages M0</text>
<text transform="translate(1403.07,1736.92) rotate(-45)" font-size="14.1" text-anchor="end">Macrophages M1</text>
<text transform="translate(1429.26,1736.92) rotate(-45)" font-size="14.1" text-anchor="end">Macrophages M2</text>
<text transform="translate(1455.44,1736.92) rotate(-45)" font-size="14.1" text-anchor="end">Dendritic cells resting</text>
<text transform="translate(1481.63,1736.92) rotate(-45)" font-size="14.1" text-anchor="end">Dendritic cells activated</text>
<text transform="translate(1507.83,1736.92) rotate(-45)" font-size="14.1" text-anchor="end">Mast cells resting</text>
<text transform="translate(1534.02,1736.92) rotate(-45)" font-size="14.1" text-anchor="end">Mast cells activated</text>
<text transform="translate(1560.2,1736.92) rotate(-45)" font-size="14.1" text-anchor="end">Eosinophils</text>
<text transform="translate(1586.39,1736.92) rotate(-45)" font-size="14.1" text-anchor="end">Neutrophils</text>
<text transform="translate(857,1448) rotate(-90)" font-size="26" text-anchor="middle">Immune cells</text>
<text transform="translate(1372.3,1884.91) scale(1,1.045)" font-size="26" text-anchor="middle">Immune cells</text>
<defs><linearGradient id="cb2" x1="0" y1="0" x2="0" y2="1">
<stop offset="0" stop-color="#E45844"/>
<stop offset="0.1" stop-color="#E97969"/>
<stop offset="0.2" stop-color="#EF9B8F"/>
<stop offset="0.3" stop-color="#F4BCB4"/>
<stop offset="0.4" stop-color="#FADEDA"/>
<stop offset="0.5" stop-color="#FFFFFF"/>
<stop offset="0.6" stop-color="#D5E2F1"/>
<stop offset="0.7" stop-color="#ABC6E3"/>
<stop offset="0.8" stop-color="#80A9D6"/>
<stop offset="0.9" stop-color="#568DC8"/>
<stop offset="1" stop-color="#2C70BA"/>
</linearGradient></defs>
<rect x="1600.1" y="1425.9" width="17.1" height="84" fill="url(#cb2)"/>
<line x1="1600.1" y1="1446.9" x2="1603.52" y2="1446.9" stroke="#fff" stroke-width="1"/>
<line x1="1613.78" y1="1446.9" x2="1617.2" y2="1446.9" stroke="#fff" stroke-width="1"/>
<line x1="1600.1" y1="1488.9" x2="1603.52" y2="1488.9" stroke="#fff" stroke-width="1"/>
<line x1="1613.78" y1="1488.9" x2="1617.2" y2="1488.9" stroke="#fff" stroke-width="1"/>
<text transform="translate(1626.7,1431.34) scale(1,1.045)" font-size="14.5">1.0</text>
<text transform="translate(1626.7,1452.34) scale(1,1.045)" font-size="14.5">0.5</text>
<text transform="translate(1626.7,1473.34) scale(1,1.045)" font-size="14.5">0.0</text>
<text transform="translate(1626.7,1494.34) scale(1,1.045)" font-size="14.5">-0.5</text>
<text transform="translate(1626.7,1515.34) scale(1,1.045)" font-size="14.5">-1.0</text>
<text transform="translate(1600.1,1420.8) scale(1,1.045)" font-size="14.2">Cor</text>
<g shape-rendering="crispEdges">
<rect x="449.4" y="1951" width="31.2" height="55.3" fill="#F9DFDB"/>
<rect x="480.6" y="1951" width="31.2" height="55.3" fill="#FEFBFA"/>
<rect x="511.8" y="1951" width="31.2" height="55.3" fill="#FAE6E2"/>
<rect x="543" y="1951" width="31.2" height="55.3" fill="#F8D9D4"/>
<rect x="574.2" y="1951" width="31.2" height="55.3" fill="#F3C0B8"/>
<rect x="605.4" y="1951" width="31.2" height="55.3" fill="#F9DFDB"/>
<rect x="636.6" y="1951" width="31.2" height="55.3" fill="#F7D5CF"/>
<rect x="667.8" y="1951" width="31.2" height="55.3" fill="#F1B5AC"/>
<rect x="699" y="1951" width="31.2" height="55.3" fill="#F9DFDB"/>
<rect x="730.2" y="1951" width="31.2" height="55.3" fill="#F0AFA5"/>
<rect x="761.4" y="1951" width="31.2" height="55.3" fill="#EBF0F8"/>
<rect x="792.6" y="1951" width="31.2" height="55.3" fill="#F7D5CF"/>
<rect x="823.8" y="1951" width="31.2" height="55.3" fill="#F9DFDB"/>
<rect x="855" y="1951" width="31.2" height="55.3" fill="#F6D1CB"/>
<rect x="886.2" y="1951" width="31.2" height="55.3" fill="#FAE6E2"/>
<rect x="917.4" y="1951" width="31.2" height="55.3" fill="#FBEAE7"/>
<rect x="948.6" y="1951" width="31.2" height="55.3" fill="#FDF4F3"/>
<rect x="979.8" y="1951" width="31.2" height="55.3" fill="#F5CAC3"/>
<rect x="1011" y="1951" width="31.2" height="55.3" fill="#FCF0EE"/>
<rect x="1042.2" y="1951" width="31.2" height="55.3" fill="#FCEEEC"/>
<rect x="1073.4" y="1951" width="31.2" height="55.3" fill="#EDA094"/>
<rect x="1104.6" y="1951" width="31.2" height="55.3" fill="#FFFFFF"/>
<rect x="1135.8" y="1951" width="31.2" height="55.3" fill="#FCF0EE"/>
<rect x="1167" y="1951" width="31.2" height="55.3" fill="#FAE6E2"/>
<rect x="449.4" y="2006.3" width="31.2" height="55.3" fill="#E98B7C"/>
<rect x="480.6" y="2006.3" width="31.2" height="55.3" fill="#FAE6E2"/>
<rect x="511.8" y="2006.3" width="31.2" height="55.3" fill="#EEA79B"/>
<rect x="543" y="2006.3" width="31.2" height="55.3" fill="#E98B7C"/>
<rect x="574.2" y="2006.3" width="31.2" height="55.3" fill="#EB9688"/>
<rect x="605.4" y="2006.3" width="31.2" height="55.3" fill="#EFABA0"/>
<rect x="636.6" y="2006.3" width="31.2" height="55.3" fill="#EB9688"/>
<rect x="667.8" y="2006.3" width="31.2" height="55.3" fill="#E4705D"/>
<rect x="699" y="2006.3" width="31.2" height="55.3" fill="#FAE6E2"/>
<rect x="730.2" y="2006.3" width="31.2" height="55.3" fill="#EEA79B"/>
<rect x="761.4" y="2006.3" width="31.2" height="55.3" fill="#DAE3F1"/>
<rect x="792.6" y="2006.3" width="31.2" height="55.3" fill="#EB9688"/>
<rect x="823.8" y="2006.3" width="31.2" height="55.3" fill="#F5CAC3"/>
<rect x="855" y="2006.3" width="31.2" height="55.3" fill="#FAE6E2"/>
<rect x="886.2" y="2006.3" width="31.2" height="55.3" fill="#EDA094"/>
<rect x="917.4" y="2006.3" width="31.2" height="55.3" fill="#F1B5AC"/>
<rect x="948.6" y="2006.3" width="31.2" height="55.3" fill="#F5CAC3"/>
<rect x="979.8" y="2006.3" width="31.2" height="55.3" fill="#F2BCB3"/>
<rect x="1011" y="2006.3" width="31.2" height="55.3" fill="#F4C4BC"/>
<rect x="1042.2" y="2006.3" width="31.2" height="55.3" fill="#FAE6E2"/>
<rect x="1073.4" y="2006.3" width="31.2" height="55.3" fill="#E88575"/>
<rect x="1104.6" y="2006.3" width="31.2" height="55.3" fill="#DAE3F1"/>
<rect x="1135.8" y="2006.3" width="31.2" height="55.3" fill="#F1B5AC"/>
<rect x="1167" y="2006.3" width="31.2" height="55.3" fill="#EC9A8D"/>
<rect x="449.4" y="2061.6" width="31.2" height="55.3" fill="#EB9688"/>
<rect x="480.6" y="2061.6" width="31.2" height="55.3" fill="#FBEAE7"/>
<rect x="511.8" y="2061.6" width="31.2" height="55.3" fill="#F3C0B8"/>
<rect x="543" y="2061.6" width="31.2" height="55.3" fill="#EDA094"/>
<rect x="574.2" y="2061.6" width="31.2" height="55.3" fill="#EB9688"/>
<rect x="605.4" y="2061.6" width="31.2" height="55.3" fill="#F2BCB3"/>
<rect x="636.6" y="2061.6" width="31.2" height="55.3" fill="#F0AFA5"/>
<rect x="667.8" y="2061.6" width="31.2" height="55.3" fill="#E98B7C"/>
<rect x="699" y="2061.6" width="31.2" height="55.3" fill="#FDF4F3"/>
<rect x="730.2" y="2061.6" width="31.2" height="55.3" fill="#E98B7C"/>
<rect x="761.4" y="2061.6" width="31.2" height="55.3" fill="#FFFFFF"/>
<rect x="792.6" y="2061.6" width="31.2" height="55.3" fill="#E98B7C"/>
<rect x="823.8" y="2061.6" width="31.2" height="55.3" fill="#FEFBFA"/>
<rect x="855" y="2061.6" width="31.2" height="55.3" fill="#FAE6E2"/>
<rect x="886.2" y="2061.6" width="31.2" height="55.3" fill="#F1B5AC"/>
<rect x="917.4" y="2061.6" width="31.2" height="55.3" fill="#F5CAC3"/>
<rect x="948.6" y="2061.6" width="31.2" height="55.3" fill="#FFFDFD"/>
<rect x="979.8" y="2061.6" width="31.2" height="55.3" fill="#F4C4BC"/>
<rect x="1011" y="2061.6" width="31.2" height="55.3" fill="#F6D1CB"/>
<rect x="1042.2" y="2061.6" width="31.2" height="55.3" fill="#FFFFFF"/>
<rect x="1073.4" y="2061.6" width="31.2" height="55.3" fill="#E88575"/>
<rect x="1104.6" y="2061.6" width="31.2" height="55.3" fill="#FAE6E2"/>
<rect x="1135.8" y="2061.6" width="31.2" height="55.3" fill="#F0AFA5"/>
<rect x="1167" y="2061.6" width="31.2" height="55.3" fill="#EDA094"/>
<rect x="449.4" y="2116.9" width="31.2" height="55.3" fill="#EFABA0"/>
<rect x="480.6" y="2116.9" width="31.2" height="55.3" fill="#E98B7C"/>
<rect x="511.8" y="2116.9" width="31.2" height="55.3" fill="#EB9688"/>
<rect x="543" y="2116.9" width="31.2" height="55.3" fill="#EA9283"/>
<rect x="574.2" y="2116.9" width="31.2" height="55.3" fill="#EB9688"/>
<rect x="605.4" y="2116.9" width="31.2" height="55.3" fill="#EEA79B"/>
<rect x="636.6" y="2116.9" width="31.2" height="55.3" fill="#EA9283"/>
<rect x="667.8" y="2116.9" width="31.2" height="55.3" fill="#EDA094"/>
<rect x="699" y="2116.9" width="31.2" height="55.3" fill="#EEA79B"/>
<rect x="730.2" y="2116.9" width="31.2" height="55.3" fill="#F3C0B8"/>
<rect x="761.4" y="2116.9" width="31.2" height="55.3" fill="#E7ECF6"/>
<rect x="792.6" y="2116.9" width="31.2" height="55.3" fill="#F1B5AC"/>
<rect x="823.8" y="2116.9" width="31.2" height="55.3" fill="#F0AFA5"/>
<rect x="855" y="2116.9" width="31.2" height="55.3" fill="#EFABA0"/>
<rect x="886.2" y="2116.9" width="31.2" height="55.3" fill="#E98B7C"/>
<rect x="917.4" y="2116.9" width="31.2" height="55.3" fill="#F3C0B8"/>
<rect x="948.6" y="2116.9" width="31.2" height="55.3" fill="#EFABA0"/>
<rect x="979.8" y="2116.9" width="31.2" height="55.3" fill="#EDA094"/>
<rect x="1011" y="2116.9" width="31.2" height="55.3" fill="#EC9A8D"/>
<rect x="1042.2" y="2116.9" width="31.2" height="55.3" fill="#F7D5CF"/>
<rect x="1073.4" y="2116.9" width="31.2" height="55.3" fill="#EDA094"/>
<rect x="1104.6" y="2116.9" width="31.2" height="55.3" fill="#E7ECF6"/>
<rect x="1135.8" y="2116.9" width="31.2" height="55.3" fill="#FFFFFF"/>
<rect x="1167" y="2116.9" width="31.2" height="55.3" fill="#EDA094"/>
<rect x="449.4" y="2172.2" width="31.2" height="55.3" fill="#E36C58"/>
<rect x="480.6" y="2172.2" width="31.2" height="55.3" fill="#F1B5AC"/>
<rect x="511.8" y="2172.2" width="31.2" height="55.3" fill="#EB9688"/>
<rect x="543" y="2172.2" width="31.2" height="55.3" fill="#E4705D"/>
<rect x="574.2" y="2172.2" width="31.2" height="55.3" fill="#EDA094"/>
<rect x="605.4" y="2172.2" width="31.2" height="55.3" fill="#F8D9D4"/>
<rect x="636.6" y="2172.2" width="31.2" height="55.3" fill="#F2BCB3"/>
<rect x="667.8" y="2172.2" width="31.2" height="55.3" fill="#EFABA0"/>
<rect x="699" y="2172.2" width="31.2" height="55.3" fill="#FAFBFD"/>
<rect x="730.2" y="2172.2" width="31.2" height="55.3" fill="#F8D9D4"/>
<rect x="761.4" y="2172.2" width="31.2" height="55.3" fill="#E7ECF6"/>
<rect x="792.6" y="2172.2" width="31.2" height="55.3" fill="#E78170"/>
<rect x="823.8" y="2172.2" width="31.2" height="55.3" fill="#FCEEEC"/>
<rect x="855" y="2172.2" width="31.2" height="55.3" fill="#FBEAE7"/>
<rect x="886.2" y="2172.2" width="31.2" height="55.3" fill="#E67D6B"/>
<rect x="917.4" y="2172.2" width="31.2" height="55.3" fill="#EDA094"/>
<rect x="948.6" y="2172.2" width="31.2" height="55.3" fill="#F3C0B8"/>
<rect x="979.8" y="2172.2" width="31.2" height="55.3" fill="#F5CAC3"/>
<rect x="1011" y="2172.2" width="31.2" height="55.3" fill="#F1B5AC"/>
<rect x="1042.2" y="2172.2" width="31.2" height="55.3" fill="#FEFBFA"/>
<rect x="1073.4" y="2172.2" width="31.2" height="55.3" fill="#EA9283"/>
<rect x="1104.6" y="2172.2" width="31.2" height="55.3" fill="#E2E9F4"/>
<rect x="1135.8" y="2172.2" width="31.2" height="55.3" fill="#F0AFA5"/>
<rect x="1167" y="2172.2" width="31.2" height="55.3" fill="#E88575"/>
<rect x="449.4" y="2227.5" width="31.2" height="55.3" fill="#E57664"/>
<rect x="480.6" y="2227.5" width="31.2" height="55.3" fill="#F3C0B8"/>
<rect x="511.8" y="2227.5" width="31.2" height="55.3" fill="#E98B7C"/>
<rect x="543" y="2227.5" width="31.2" height="55.3" fill="#E4705D"/>
<rect x="574.2" y="2227.5" width="31.2" height="55.3" fill="#E78170"/>
<rect x="605.4" y="2227.5" width="31.2" height="55.3" fill="#F2BCB3"/>
<rect x="636.6" y="2227.5" width="31.2" height="55.3" fill="#EDA094"/>
<rect x="667.8" y="2227.5" width="31.2" height="55.3" fill="#E88575"/>
<rect x="699" y="2227.5" width="31.2" height="55.3" fill="#FAE6E2"/>
<rect x="730.2" y="2227.5" width="31.2" height="55.3" fill="#EDA094"/>
<rect x="761.4" y="2227.5" width="31.2" height="55.3" fill="#E2E9F4"/>
<rect x="792.6" y="2227.5" width="31.2" height="55.3" fill="#E78170"/>
<rect x="823.8" y="2227.5" width="31.2" height="55.3" fill="#FBEAE7"/>
<rect x="855" y="2227.5" width="31.2" height="55.3" fill="#F5CAC3"/>
<rect x="886.2" y="2227.5" width="31.2" height="55.3" fill="#E88575"/>
<rect x="917.4" y="2227.5" width="31.2" height="55.3" fill="#EEA79B"/>
<rect x="948.6" y="2227.5" width="31.2" height="55.3" fill="#F7D5CF"/>
<rect x="979.8" y="2227.5" width="31.2" height="55.3" fill="#F1B5AC"/>
<rect x="1011" y="2227.5" width="31.2" height="55.3" fill="#F2BCB3"/>
<rect x="1042.2" y="2227.5" width="31.2" height="55.3" fill="#FDF4F3"/>
<rect x="1073.4" y="2227.5" width="31.2" height="55.3" fill="#E26754"/>
<rect x="1104.6" y="2227.5" width="31.2" height="55.3" fill="#FFFFFF"/>
<rect x="1135.8" y="2227.5" width="31.2" height="55.3" fill="#F0AFA5"/>
<rect x="1167" y="2227.5" width="31.2" height="55.3" fill="#E98B7C"/>
<rect x="449.4" y="2282.8" width="31.2" height="55.3" fill="#EA9283"/>
<rect x="480.6" y="2282.8" width="31.2" height="55.3" fill="#F1B5AC"/>
<rect x="511.8" y="2282.8" width="31.2" height="55.3" fill="#EEA79B"/>
<rect x="543" y="2282.8" width="31.2" height="55.3" fill="#E98B7C"/>
<rect x="574.2" y="2282.8" width="31.2" height="55.3" fill="#E78170"/>
<rect x="605.4" y="2282.8" width="31.2" height="55.3" fill="#E98B7C"/>
<rect x="636.6" y="2282.8" width="31.2" height="55.3" fill="#E78170"/>
<rect x="667.8" y="2282.8" width="31.2" height="55.3" fill="#E26754"/>
<rect x="699" y="2282.8" width="31.2" height="55.3" fill="#F3C0B8"/>
<rect x="730.2" y="2282.8" width="31.2" height="55.3" fill="#EA9283"/>
<rect x="761.4" y="2282.8" width="31.2" height="55.3" fill="#D3DDEF"/>
<rect x="792.6" y="2282.8" width="31.2" height="55.3" fill="#EB9688"/>
<rect x="823.8" y="2282.8" width="31.2" height="55.3" fill="#F4C4BC"/>
<rect x="855" y="2282.8" width="31.2" height="55.3" fill="#F5CAC3"/>
<rect x="886.2" y="2282.8" width="31.2" height="55.3" fill="#E98B7C"/>
<rect x="917.4" y="2282.8" width="31.2" height="55.3" fill="#EFABA0"/>
<rect x="948.6" y="2282.8" width="31.2" height="55.3" fill="#F3C0B8"/>
<rect x="979.8" y="2282.8" width="31.2" height="55.3" fill="#EDA094"/>
<rect x="1011" y="2282.8" width="31.2" height="55.3" fill="#EEA79B"/>
<rect x="1042.2" y="2282.8" width="31.2" height="55.3" fill="#F7D5CF"/>
<rect x="1073.4" y="2282.8" width="31.2" height="55.3" fill="#E78170"/>
<rect x="1104.6" y="2282.8" width="31.2" height="55.3" fill="#F8F9FC"/>
<rect x="1135.8" y="2282.8" width="31.2" height="55.3" fill="#F1B5AC"/>
<rect x="1167" y="2282.8" width="31.2" height="55.3" fill="#EB9688"/>
</g>
<g stroke="#2a2a2a" stroke-width="1">
<line x1="480.6" y1="1951" x2="480.6" y2="2338.1"/>
<line x1="511.8" y1="1951" x2="511.8" y2="2338.1"/>
<line x1="543" y1="1951" x2="543" y2="2338.1"/>
<line x1="574.2" y1="1951" x2="574.2" y2="2338.1"/>
<line x1="605.4" y1="1951" x2="605.4" y2="2338.1"/>
<line x1="636.6" y1="1951" x2="636.6" y2="2338.1"/>
<line x1="667.8" y1="1951" x2="667.8" y2="2338.1"/>
<line x1="699" y1="1951" x2="699" y2="2338.1"/>
<line x1="730.2" y1="1951" x2="730.2" y2="2338.1"/>
<line x1="761.4" y1="1951" x2="761.4" y2="2338.1"/>
<line x1="792.6" y1="1951" x2="792.6" y2="2338.1"/>
<line x1="823.8" y1="1951" x2="823.8" y2="2338.1"/>
<line x1="855" y1="1951" x2="855" y2="2338.1"/>
<line x1="886.2" y1="1951" x2="886.2" y2="2338.1"/>
<line x1="917.4" y1="1951" x2="917.4" y2="2338.1"/>
<line x1="948.6" y1="1951" x2="948.6" y2="2338.1"/>
<line x1="979.8" y1="1951" x2="979.8" y2="2338.1"/>
<line x1="1011" y1="1951" x2="1011" y2="2338.1"/>
<line x1="1042.2" y1="1951" x2="1042.2" y2="2338.1"/>
<line x1="1073.4" y1="1951" x2="1073.4" y2="2338.1"/>
<line x1="1104.6" y1="1951" x2="1104.6" y2="2338.1"/>
<line x1="1135.8" y1="1951" x2="1135.8" y2="2338.1"/>
<line x1="1167" y1="1951" x2="1167" y2="2338.1"/>
<line x1="449.4" y1="2006.3" x2="1198.2" y2="2006.3"/>
<line x1="449.4" y1="2061.6" x2="1198.2" y2="2061.6"/>
<line x1="449.4" y1="2116.9" x2="1198.2" y2="2116.9"/>
<line x1="449.4" y1="2172.2" x2="1198.2" y2="2172.2"/>
<line x1="449.4" y1="2227.5" x2="1198.2" y2="2227.5"/>
<line x1="449.4" y1="2282.8" x2="1198.2" y2="2282.8"/>
</g>
<rect x="449.4" y="1951" width="748.8" height="387.1" fill="none" stroke="#999" stroke-width="0.8"/>
<g font-size="19" font-weight="bold" text-anchor="middle" fill="#111">
<text x="465" y="1984.85">***</text>
<text x="527.4" y="1984.85">**</text>
<text x="558.6" y="1984.85">***</text>
<text x="589.8" y="1984.85">***</text>
<text x="621" y="1984.85">***</text>
<text x="652.2" y="1984.85">***</text>
<text x="683.4" y="1984.85">***</text>
<text x="714.6" y="1984.85">**</text>
<text x="745.8" y="1984.85">***</text>
<text x="808.2" y="1984.85">***</text>
<text x="839.4" y="1984.85">***</text>
<text x="870.6" y="1984.85">***</text>
<text x="901.8" y="1984.85">*</text>
<text x="933" y="1984.85">*</text>
<text x="995.4" y="1984.85">***</text>
<text x="1089" y="1984.85">***</text>
<text x="1182.6" y="1984.85">**</text>
<text x="465" y="2040.15">***</text>
<text x="496.2" y="2040.15">**</text>
<text x="527.4" y="2040.15">***</text>
<text x="558.6" y="2040.15">***</text>
<text x="589.8" y="2040.15">***</text>
<text x="621" y="2040.15">***</text>
<text x="652.2" y="2040.15">***</text>
<text x="683.4" y="2040.15">***</text>
<text x="714.6" y="2040.15">*</text>
<text x="745.8" y="2040.15">***</text>
<text x="777" y="2040.15">***</text>
<text x="808.2" y="2040.15">***</text>
<text x="839.4" y="2040.15">***</text>
<text x="870.6" y="2040.15">**</text>
<text x="901.8" y="2040.15">***</text>
<text x="933" y="2040.15">***</text>
<text x="964.2" y="2040.15">***</text>
<text x="995.4" y="2040.15">***</text>
<text x="1026.6" y="2040.15">***</text>
<text x="1057.8" y="2040.15">*</text>
<text x="1089" y="2040.15">***</text>
<text x="1120.2" y="2040.15">**</text>
<text x="1151.4" y="2040.15">***</text>
<text x="1182.6" y="2040.15">***</text>
<text x="465" y="2095.45">***</text>
<text x="496.2" y="2095.45">*</text>
<text x="527.4" y="2095.45">***</text>
<text x="558.6" y="2095.45">***</text>
<text x="589.8" y="2095.45">***</text>
<text x="621" y="2095.45">***</text>
<text x="652.2" y="2095.45">***</text>
<text x="683.4" y="2095.45">***</text>
<text x="745.8" y="2095.45">***</text>
<text x="808.2" y="2095.45">***</text>
<text x="870.6" y="2095.45">**</text>
<text x="901.8" y="2095.45">***</text>
<text x="933" y="2095.45">***</text>
<text x="995.4" y="2095.45">***</text>
<text x="1026.6" y="2095.45">***</text>
<text x="1089" y="2095.45">***</text>
<text x="1120.2" y="2095.45">*</text>
<text x="1151.4" y="2095.45">***</text>
<text x="1182.6" y="2095.45">***</text>
<text x="465" y="2150.75">***</text>
<text x="496.2" y="2150.75">***</text>
<text x="527.4" y="2150.75">***</text>
<text x="558.6" y="2150.75">***</text>
<text x="589.8" y="2150.75">***</text>
<text x="621" y="2150.75">***</text>
<text x="652.2" y="2150.75">***</text>
<text x="683.4" y="2150.75">***</text>
<text x="714.6" y="2150.75">***</text>
<text x="745.8" y="2150.75">***</text>
<text x="777" y="2150.75">*</text>
<text x="808.2" y="2150.75">***</text>
<text x="839.4" y="2150.75">***</text>
<text x="870.6" y="2150.75">***</text>
<text x="901.8" y="2150.75">***</text>
<text x="933" y="2150.75">***</text>
<text x="964.2" y="2150.75">***</text>
<text x="995.4" y="2150.75">***</text>
<text x="1026.6" y="2150.75">***</text>
<text x="1057.8" y="2150.75">***</text>
<text x="1089" y="2150.75">***</text>
<text x="1182.6" y="2150.75">***</text>
<text x="465" y="2206.05">***</text>
<text x="496.2" y="2206.05">***</text>
<text x="527.4" y="2206.05">***</text>
<text x="558.6" y="2206.05">***</text>
<text x="589.8" y="2206.05">***</text>
<text x="621" y="2206.05">**</text>
<text x="652.2" y="2206.05">***</text>
<text x="683.4" y="2206.05">***</text>
<text x="745.8" y="2206.05">**</text>
<text x="777" y="2206.05">*</text>
<text x="808.2" y="2206.05">***</text>
<text x="870.6" y="2206.05">*</text>
<text x="901.8" y="2206.05">***</text>
<text x="933" y="2206.05">***</text>
<text x="964.2" y="2206.05">***</text>
<text x="995.4" y="2206.05">***</text>
<text x="1026.6" y="2206.05">***</text>
<text x="1089" y="2206.05">***</text>
<text x="1120.2" y="2206.05">**</text>
<text x="1151.4" y="2206.05">***</text>
<text x="1182.6" y="2206.05">***</text>
<text x="465" y="2261.35">***</text>
<text x="496.2" y="2261.35">***</text>
<text x="527.4" y="2261.35">***</text>
<text x="558.6" y="2261.35">***</text>
<text x="589.8" y="2261.35">***</text>
<text x="621" y="2261.35">***</text>
<text x="652.2" y="2261.35">***</text>
<text x="683.4" y="2261.35">***</text>
<text x="714.6" y="2261.35">*</text>
<text x="745.8" y="2261.35">***</text>
<text x="777" y="2261.35">**</text>
<text x="808.2" y="2261.35">***</text>
<text x="839.4" y="2261.35">*</text>
<text x="870.6" y="2261.35">***</text>
<text x="901.8" y="2261.35">***</text>
<text x="933" y="2261.35">***</text>
<text x="964.2" y="2261.35">***</text>
<text x="995.4" y="2261.35">***</text>
<text x="1026.6" y="2261.35">***</text>
<text x="1089" y="2261.35">***</text>
<text x="1151.4" y="2261.35">***</text>
<text x="1182.6" y="2261.35">***</text>
<text x="465" y="2316.65">***</text>
<text x="496.2" y="2316.65">***</text>
<text x="527.4" y="2316.65">***</text>
<text x="558.6" y="2316.65">***</text>
<text x="589.8" y="2316.65">***</text>
<text x="621" y="2316.65">***</text>
<text x="652.2" y="2316.65">***</text>
<text x="683.4" y="2316.65">***</text>
<text x="714.6" y="2316.65">***</text>
<text x="745.8" y="2316.65">***</text>
<text x="777" y="2316.65">***</text>
<text x="808.2" y="2316.65">***</text>
<text x="839.4" y="2316.65">***</text>
<text x="870.6" y="2316.65">***</text>
<text x="901.8" y="2316.65">***</text>
<text x="933" y="2316.65">***</text>
<text x="964.2" y="2316.65">***</text>
<text x="995.4" y="2316.65">***</text>
<text x="1026.6" y="2316.65">***</text>
<text x="1057.8" y="2316.65">***</text>
<text x="1089" y="2316.65">***</text>
<text x="1151.4" y="2316.65">***</text>
<text x="1182.6" y="2316.65">***</text>
</g>
<text transform="translate(441.8,1985.8) scale(1,1.045)" font-size="18.5" text-anchor="end">IL6</text>
<text transform="translate(441.8,2041.1) scale(1,1.045)" font-size="18.5" text-anchor="end">FCGR3A</text>
<text transform="translate(441.8,2096.4) scale(1,1.045)" font-size="18.5" text-anchor="end">CCL3</text>
<text transform="translate(441.8,2151.7) scale(1,1.045)" font-size="18.5" text-anchor="end">CXCR4</text>
<text transform="translate(441.8,2207) scale(1,1.045)" font-size="18.5" text-anchor="end">CXCL9</text>
<text transform="translate(441.8,2262.3) scale(1,1.045)" font-size="18.5" text-anchor="end">CCL4</text>
<text transform="translate(441.8,2317.6) scale(1,1.045)" font-size="18.5" text-anchor="end">CCR1</text>
<text transform="translate(473.9,2353.7) rotate(-45)" font-size="18.75" text-anchor="end">aDC</text>
<text transform="translate(505.1,2353.7) rotate(-45)" font-size="18.75" text-anchor="end">B cells</text>
<text transform="translate(536.3,2353.7) rotate(-45)" font-size="18.75" text-anchor="end">CD8 T cells</text>
<text transform="translate(567.5,2353.7) rotate(-45)" font-size="18.75" text-anchor="end">Cytotoxic cells</text>
<text transform="translate(598.7,2353.7) rotate(-45)" font-size="18.75" text-anchor="end">DC</text>
<text transform="translate(629.9,2353.7) rotate(-45)" font-size="18.75" text-anchor="end">Eosinophils</text>
<text transform="translate(661.1,2353.7) rotate(-45)" font-size="18.75" text-anchor="end">iDC</text>
<text transform="translate(692.3,2353.7) rotate(-45)" font-size="18.75" text-anchor="end">Macrophages</text>
<text transform="translate(723.5,2353.7) rotate(-45)" font-size="18.75" text-anchor="end">Mast cells</text>
<text transform="translate(754.7,2353.7) rotate(-45)" font-size="18.75" text-anchor="end">Neutrophils</text>
<text transform="translate(785.9,2353.7) rotate(-45)" font-size="18.75" text-anchor="end">NK CD56bright cells</text>
<text transform="translate(817.1,2353.7) rotate(-45)" font-size="18.75" text-anchor="end">NK CD56dim cells</text>
<text transform="translate(848.3,2353.7) rotate(-45)" font-size="18.75" text-anchor="end">NK cells</text>
<text transform="translate(879.5,2353.7) rotate(-45)" font-size="18.75" text-anchor="end">pDC</text>
<text transform="translate(910.7,2353.7) rotate(-45)" font-size="18.75" text-anchor="end">T cells</text>
<text transform="translate(941.9,2353.7) rotate(-45)" font-size="18.75" text-anchor="end">T helper cells</text>
<text transform="translate(973.1,2353.7) rotate(-45)" font-size="18.75" text-anchor="end">Tcm</text>
<text transform="translate(1004.3,2353.7) rotate(-45)" font-size="18.75" text-anchor="end">Tem</text>
<text transform="translate(1035.5,2353.7) rotate(-45)" font-size="18.75" text-anchor="end">TFH</text>
<text transform="translate(1066.7,2353.7) rotate(-45)" font-size="18.75" text-anchor="end">Tgd</text>
<text transform="translate(1097.9,2353.7) rotate(-45)" font-size="18.75" text-anchor="end">Th1 cells</text>
<text transform="translate(1129.1,2353.7) rotate(-45)" font-size="18.75" text-anchor="end">Th17 cells</text>
<text transform="translate(1160.3,2353.7) rotate(-45)" font-size="18.75" text-anchor="end">Th2 cells</text>
<text transform="translate(1191.5,2353.7) rotate(-45)" font-size="18.75" text-anchor="end">TReg</text>
<text transform="translate(361.5,2155) rotate(-90)" font-size="26" text-anchor="middle">Gene Symbols</text>
<text transform="translate(820,2499.91) scale(1,1.045)" font-size="26" text-anchor="middle">Immune cells</text>
<text transform="translate(1208.7,2031.85) scale(1,1.045)" font-size="18.5">* p &lt; 0.05</text>
<text transform="translate(1213.7,2073.05) scale(1,1.045)" font-size="18.5">** p &lt; 0.01</text>
<text transform="translate(1213.7,2113.65) scale(1,1.045)" font-size="18.5">*** p &lt; 0.001</text>
<defs><linearGradient id="cb3" x1="0" y1="0" x2="0" y2="1">
<stop offset="0" stop-color="#DC4830"/>
<stop offset="0.1" stop-color="#E36D59"/>
<stop offset="0.2" stop-color="#EA9183"/>
<stop offset="0.3" stop-color="#F1B6AC"/>
<stop offset="0.4" stop-color="#F8DAD6"/>
<stop offset="0.5" stop-color="#FFFFFF"/>
<stop offset="0.6" stop-color="#D4DEEF"/>
<stop offset="0.7" stop-color="#AABEDF"/>
<stop offset="0.8" stop-color="#7F9DD0"/>
<stop offset="0.9" stop-color="#557DC0"/>
<stop offset="1" stop-color="#2A5CB0"/>
</linearGradient></defs>
<rect x="1208.1" y="2161.6" width="21.6" height="109.3" fill="url(#cb3)"/>
<line x1="1208.1" y1="2188.93" x2="1212.42" y2="2188.93" stroke="#fff" stroke-width="1"/>
<line x1="1225.38" y1="2188.93" x2="1229.7" y2="2188.93" stroke="#fff" stroke-width="1"/>
<line x1="1208.1" y1="2243.57" x2="1212.42" y2="2243.57" stroke="#fff" stroke-width="1"/>
<line x1="1225.38" y1="2243.57" x2="1229.7" y2="2243.57" stroke="#fff" stroke-width="1"/>
<text transform="translate(1243,2168.16) scale(1,1.045)" font-size="17.5">1.0</text>
<text transform="translate(1243,2195.49) scale(1,1.045)" font-size="17.5">0.5</text>
<text transform="translate(1243,2222.81) scale(1,1.045)" font-size="17.5">0.0</text>
<text transform="translate(1243,2250.14) scale(1,1.045)" font-size="17.5">-0.5</text>
<text transform="translate(1243,2277.46) scale(1,1.045)" font-size="17.5">-1.0</text>
<text transform="translate(1213.1,2153.53) scale(1,1.045)" font-size="18">Cor</text>
</svg>
</body></html>
